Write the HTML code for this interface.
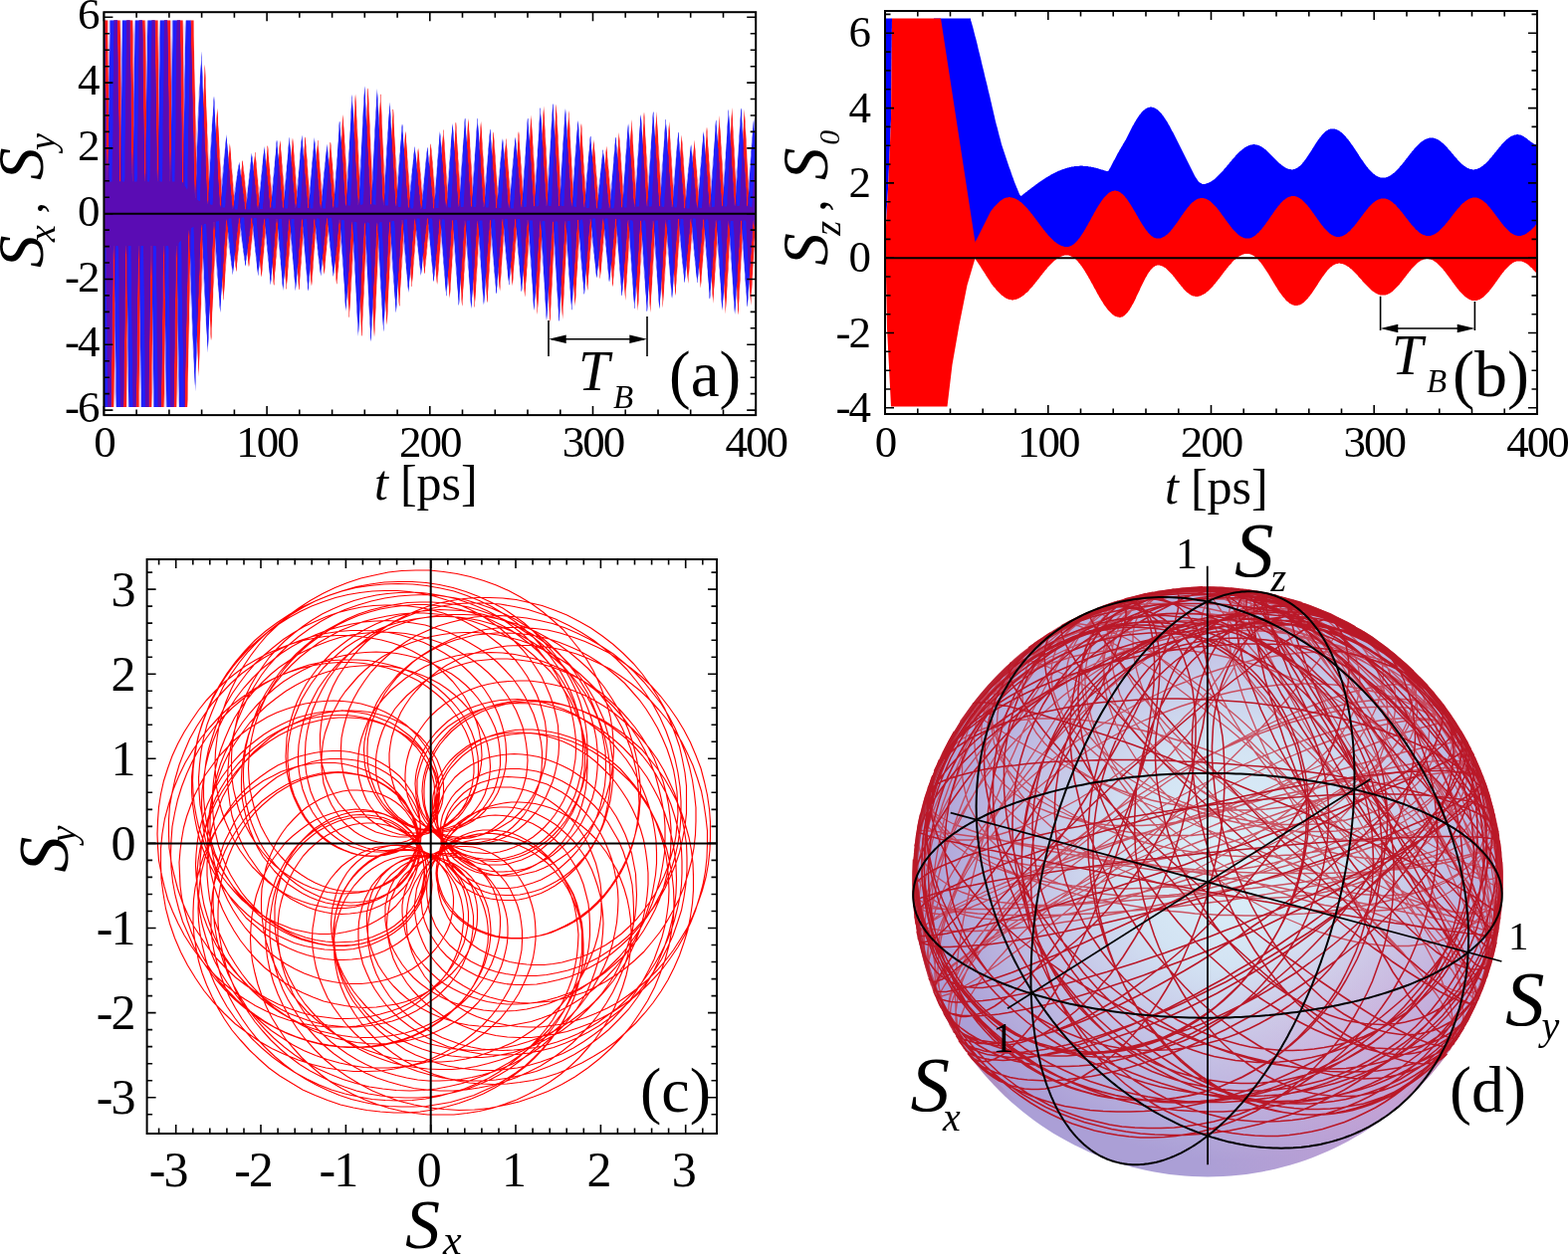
<!DOCTYPE html><html><head><meta charset="utf-8"><style>html,body{margin:0;padding:0;background:#fff;overflow:hidden}svg{display:block}text{font-family:'Liberation Serif', 'Times New Roman', serif;fill:#000}</style></head><body>
<svg width="1575" height="1261" viewBox="0 0 1575 1261">
<rect width="1575" height="1261" fill="#fff"/>
<g transform="scale(0.5)">
<path d="M209 41l1 0 1 0 1 0 1 0 1 0 1 0 1 0 1 0 1 0 0 29 1 40 0 41 1 40 1 41 0 40 1 41 0 41 1-25 1-41 0-41 1-40 0-41 1-40 1-41 0-40 1-4 1 0 1 0 1 0 1 0 1 0 1 0 1 0 1 0 1 0 1 0 1 0 1 0 1 0 1 0 1 0 0 28 1 41 1 40 0 41 1 40 0 41 1 40 1 41 0-24 1-40 0-41 1-40 1-41 0-40 1-41 0-40 1-5 1 0 1 0 1 0 1 0 1 0 1 0 1 0 1 0 1 0 1 0 1 0 1 0 1 0 1 0 1 0 1 28 0 40 1 41 0 40 1 41 1 40 0 41 1 40 0-22 1-41 1-40 0-41 1-40 0-41 1-40 1-41 0-5 1 0 1 0 1 0 1 0 1 0 1 0 1 0 1 0 1 0 1 0 1 0 1 0 1 0 1 0 1 0 1 27 0 40 1 41 1 40 0 41 1 40 0 41 1 41 1-21 0-41 1-40 0-41 1-41 1-40 0-41 1-40 0-6 1 0 1 0 1 0 1 0 1 0 1 0 1 0 1 0 1 0 1 0 1 0 1 0 1 0 1 0 1 0 1 26 1 41 0 40 1 41 0 40 1 41 1 40 0 41 1-20 0-40 1-41 1-40 0-41 1-40 0-41 1-40 1-7 1 0 1 0 1 0 1 0 1 0 1 0 1 0 1 0 1 0 1 0 1 0 1 0 1 0 1 0 1 0 0 25 1 41 0 41 1 40 1 41 0 40 1 41 0 40 1-18 1-41 0-40 1-41 0-40 1-41 1-40 0-41 1-7 1 0 1 0 1 0 1 0 1 0 1 0 1 0 1 0 1 0 1 0 1 0 1 0 1 0 1 0 1 12 0 43 1 41 1 41 0 40 1 38 0 37 1 36 1 35 0-12 1-31 0-29 1-28 1-27 0-26 1-25 0-24 1-22 1-22 0-22 1-21 0-21 1-13 1 0 1 0 1 0 1 0 1 0 1 0 1 0 0 2 1 28 0 27 1 25 1 26 0 24 1 23 0 23 1 22 1 21 0 21 1 20 0 20 1 19 1 19 0 18 1 17 0-5 1-16 1-15 0-14 1-14 0-13 1-14 1-13 0-13 1-13 0-13 1-13 1-13 0-13 1-13 0-12 1-13 1-12 0-12 1-12 0-11 1 6 1 16 0 15 1 15 0 15 1 14 1 15 0 14 1 14 0 14 1 14 1 13 0 13 1 14 0 12 1 13 1 13 0 12 1 12 0 12 1 12 1-4 0-11 1-11 0-10 1-11 1-10 0-10 1-10 0-9 1-10 1-9 0-9 1-9 0-9 1-9 1-9 0-8 1-9 0-8 1-8 1-7 0 4 1 12 0 11 1 10 1 11 0 10 1 11 0 10 1 10 1 10 0 9 1 10 0 9 1 10 1 9 0 9 1 8 0 9 1 8 1 8 0 9 1-3 0-7 1-8 1-7 0-7 1-7 0-6 1-7 1-6 0-7 1-6 0-6 1-6 1-6 0-5 1-6 0-6 1-5 1-5 0-6 1-5 0 3 1 8 1 7 0 8 1 7 0 7 1 7 1 7 0 7 1 6 0 7 1 6 1 6 0 6 1 6 0 6 1 6 1 6 0 5 1 6 0 5 1-1 1-5 0-5 1-5 0-4 1-4 1-5 0-4 1-4 0-5 1-4 1-5 0-5 1-5 0-5 1-5 1-5 0-5 1-5 0-5 1-6 1 1 0 5 1 4 0 4 1 5 1 5 0 4 1 5 0 4 1 5 1 5 0 5 1 5 0 4 1 5 1 5 0 5 1 5 0 5 1 6 1 5 0-2 1-5 0-5 1-6 1-5 0-6 1-5 0-6 1-5 1-6 0-6 1-5 0-6 1-6 1-5 0-6 1-6 0-5 1-6 1-6 0-6 1 1 0 5 1 6 1 5 0 5 1 6 0 5 1 6 1 5 0 6 1 5 0 6 1 6 1 5 0 6 1 5 0 6 1 6 1 6 0 5 1 6 0-1 1-6 1-6 0-6 1-6 0-6 1-6 1-6 0-6 1-6 0-6 1-7 1-6 0-6 1-6 0-7 1-6 1-6 0-7 1-6 0-7 1 1 1 6 0 6 1 6 0 6 1 6 1 6 0 6 1 6 0 6 1 6 1 6 0 7 1 6 0 6 1 6 1 7 0 6 1 6 0 7 1 6 1-1 0-7 1-6 0-7 1-6 1-7 0-7 1-6 0-7 1-7 1-6 0-7 1-7 0-7 1-6 1-7 0-7 1-7 0-6 1-7 1-7 0 1 1 7 0 6 1 7 1 6 0 7 1 6 0 7 1 7 1 6 0 7 1 7 0 6 1 7 1 7 0 6 1 7 0 7 1 7 1 6 0 7 1-1 0-7 1-7 1-6 0-7 1-7 0-7 1-7 1-7 0-7 1-7 0-7 1-7 1-6 0-7 1-7 0-7 1-7 1-7 0-7 1-7 0 1 1 6 1 7 0 7 1 7 0 7 1 7 1 7 0 6 1 7 0 7 1 7 1 7 0 7 1 7 0 7 1 7 1 7 0 7 1 7 0 7 1-1 1-7 0-7 1-7 0-7 1-7 1-7 0-7 1-7 0-7 1-7 1-7 0-7 1-7 0-7 1-7 1-7 0-7 1-7 0-7 1-6 1 0 0 8 1 7 0 7 1 7 1 7 0 7 1 7 0 7 1 7 1 7 0 7 1 7 0 7 1 6 1 7 0 7 1 7 0 7 1 7 1 7 0-1 1-7 0-6 1-7 1-7 0-7 1-7 0-6 1-7 1-7 0-6 1-7 0-7 1-6 1-7 0-7 1-6 0-6 1-7 1-6 0-7 1 1 0 7 1 7 1 7 0 7 1 7 0 6 1 7 1 7 0 7 1 6 0 7 1 7 1 6 0 7 1 6 0 7 1 6 1 7 0 6 1 7 0-1 1-6 1-6 0-6 1-7 0-6 1-6 1-6 0-6 1-6 0-6 1-6 1-6 0-7 1-6 0-7 1-7 1-7 0-7 1-8 0-7 1-1 1 5 0 5 1 6 0 5 1 6 1 6 0 6 1 6 0 6 1 7 1 6 0 7 1 7 0 6 1 7 1 7 0 7 1 8 0 7 1 8 1-1 0-8 1-8 0-8 1-8 1-8 0-9 1-9 0-8 1-9 1-9 0-10 1-9 0-9 1-10 1-9 0-10 1-10 0-10 1-10 1-11 0-1 1 8 0 8 1 8 1 8 0 8 1 8 0 9 1 8 1 9 0 9 1 9 0 9 1 9 1 9 0 10 1 9 0 10 1 10 1 10 0 10 1 0 0-11 1-10 1-11 0-11 1-10 0-11 1-11 1-11 0-11 1-11 0-11 1-11 1-11 0-11 1-11 0-11 1-11 1-11 0-12 1-11 0-1 1 11 1 10 0 11 1 10 0 11 1 11 1 10 0 11 1 11 0 11 1 11 1 11 0 11 1 11 0 11 1 11 1 11 0 11 1 11 0 11 1 1 1-11 0-12 1-11 0-12 1-11 1-12 0-11 1-12 0-11 1-11 1-12 0-11 1-11 0-12 1-11 1-11 0-12 1-11 0-11 1-12 1 0 0 11 1 12 0 11 1 12 1 11 0 11 1 12 0 11 1 12 1 11 0 11 1 12 0 11 1 11 1 12 0 11 1 11 0 12 1 11 1 11 0 1 1-11 0-11 1-12 1-11 0-11 1-11 0-11 1-11 1-11 0-11 1-11 0-10 1-11 1-11 0-10 1-11 0-10 1-11 1-10 0-10 1-1 0 12 1 11 1 11 0 12 1 11 0 11 1 11 1 11 0 11 1 11 0 11 1 11 1 11 0 10 1 11 0 11 1 10 1 11 0 10 1 10 0 2 1-11 1-10 0-10 1-10 0-10 1-9 1-10 0-10 1-10 0-9 1-10 1-9 0-9 1-9 0-9 1-9 1-9 0-9 1-9 0-8 1 0 1 10 0 11 1 10 0 10 1 10 1 10 0 10 1 10 0 9 1 10 1 10 0 9 1 9 0 10 1 9 1 9 0 9 1 9 0 8 1 9 1 2 0-9 1-8 0-8 1-8 1-8 0-8 1-8 0-8 1-7 1-8 0-7 1-7 0-8 1-7 1-7 0-7 1-6 0-7 1-7 1-6 1 8 0 9 1 8 1 8 0 8 1 8 0 8 1 8 1 8 0 7 1 8 0 7 1 8 1 7 0 7 1 7 0 7 1 7 1 7 0 7 1 1 0-6 1-7 1-6 0-6 1-6 0-6 1-5 1-6 0-6 1-5 0-6 1-6 1-6 0-6 1-6 0-6 1-6 1-5 0-6 1-6 0-2 1 6 1 6 0 6 1 6 0 6 1 6 1 6 0 6 1 6 0 6 1 6 1 6 0 6 1 6 0 6 1 6 1 6 0 6 1 6 0 6 1 1 1-6 0-6 1-6 0-6 1-6 1-6 0-6 1-6 0-6 1-6 1-6 0-6 1-7 0-6 1-7 1-7 0-6 1-7 0-7 1-8 1-2 0 6 1 5 0 6 1 5 1 6 0 6 1 6 0 6 1 6 1 7 0 6 1 6 0 7 1 6 1 7 0 6 1 7 0 7 1 7 1 7 0 2 1-8 0-7 1-7 1-8 0-7 1-8 0-7 1-8 1-7 0-8 1-8 0-7 1-8 1-8 0-8 1-8 0-7 1-8 1-8 0-8 1-3 0 8 1 7 1 7 0 7 1 8 0 7 1 8 1 7 0 8 1 7 0 8 1 7 1 8 0 8 1 8 0 7 1 8 1 8 0 8 1 8 0 2 1-8 1-8 0-8 1-8 0-9 1-8 1-8 0-8 1-8 0-9 1-8 1-8 0-9 1-8 0-8 1-9 1-8 0-9 1-8 0-9 1-2 1 8 0 8 1 8 0 8 1 8 1 8 0 8 1 8 0 9 1 8 1 8 0 8 1 9 0 8 1 8 1 9 0 8 1 9 0 8 1 9 1 2 0-8 1-9 0-9 1-8 1-9 0-8 1-9 0-9 1-8 1-9 0-9 1-8 0-9 1-9 1-8 0-9 1-8 0-9 1-9 1-8 0-3 1 8 0 9 1 9 1 8 0 9 1 9 0 8 1 9 1 8 0 9 1 9 0 8 1 9 1 8 0 9 1 9 0 8 1 9 1 9 0 8 1 3 0-8 1-9 1-9 0-8 1-9 0-9 1-8 1-9 0-8 1-9 0-8 1-9 1-8 0-8 1-8 0-8 1-8 1-8 0-8 1-8 0-2 1 8 1 9 0 9 1 9 0 8 1 9 1 9 0 8 1 9 0 8 1 8 1 9 0 8 1 8 0 8 1 9 1 8 0 8 1 8 0 8 1 3 1-8 0-8 1-7 0-8 1-8 1-7 0-8 1-7 0-7 1-8 1-7 0-7 1-8 0-7 1-7 1-7 0-7 1-7 0-7 1-7 1-3 0 8 1 8 0 7 1 8 1 8 0 7 1 8 0 7 1 8 1 7 0 8 1 7 0 8 1 7 1 7 0 7 1 7 0 8 1 7 1 7 0 3 1-7 0-7 1-7 1-7 0-6 1-7 0-7 1-6 1-7 0-7 1-6 0-7 1-7 1-7 0-7 1-6 0-7 1-7 1-7 0-7 1-3 0 7 1 7 1 7 0 6 1 7 0 7 1 7 1 6 0 7 1 7 0 7 1 7 1 6 0 7 1 7 0 7 1 7 1 6 0 7 1 7 0 3 1-7 1-7 0-6 1-7 0-7 1-7 1-7 0-7 1-7 0-8 1-7 1-8 0-7 1-8 0-8 1-8 1-8 0-8 1-8 0-8 1-4 1 6 0 7 1 6 0 7 1 7 1 7 0 7 1 7 0 7 1 8 1 7 0 7 1 8 0 7 1 8 1 8 0 8 1 7 0 8 1 9 1 3 0-8 1-8 0-9 1-9 1-8 0-9 1-9 0-9 1-9 1-9 0-9 1-9 0-9 1-9 1-9 0-9 1-9 0-9 1-10 1-9 0-5 1 9 0 8 1 8 1 9 0 9 1 8 0 9 1 9 1 8 0 9 1 9 0 9 1 9 1 9 0 9 1 9 0 9 1 9 1 9 0 10 1 4 0-9 1-9 1-10 0-10 1-9 0-10 1-9 1-10 0-10 1-10 0-9 1-10 1-10 0-10 1-9 0-10 1-10 1-10 0-10 1-10 0-5 1 10 1 9 0 10 1 9 0 10 1 9 1 10 0 10 1 9 0 10 1 9 1 10 0 10 1 10 0 9 1 10 1 10 0 10 1 9 0 10 1 6 1-10 0-10 1-10 0-10 1-10 1-10 0-10 1-10 0-10 1-10 1-9 0-10 1-10 0-10 1-10 1-9 0-10 1-10 0-9 1-10 1-5 0 10 1 10 0 10 1 10 1 10 0 9 1 10 0 10 1 10 1 10 0 10 1 10 0 9 1 10 1 10 0 10 1 9 0 10 1 10 1 10 0 5 1-9 0-10 1-10 1-9 0-10 1-9 0-10 1-9 1-9 0-9 1-10 0-9 1-9 1-9 0-9 1-9 0-9 1-9 1-8 0-9 1-5 0 10 1 9 1 10 0 10 1 9 0 10 1 9 1 10 0 9 1 9 0 10 1 9 1 9 0 9 1 9 0 9 1 9 1 9 0 9 1 9 0 5 1-9 1-8 0-9 1-8 0-9 1-8 1-8 0-9 1-8 0-8 1-8 1-8 0-8 1-7 0-8 1-8 1-7 0-8 1-7 0-8 1-4 1 9 0 8 1 9 0 9 1 8 1 9 0 8 1 8 0 9 1 8 1 8 0 8 1 8 0 8 1 8 1 8 0 7 1 8 0 7 1 8 1 5 0-7 1-8 0-7 1-7 1-7 0-7 1-6 0-7 1-7 1-7 0-6 1-7 0-6 1-6 1-7 0-6 1-6 0-6 1-6 1-6 0-4 1 7 0 8 1 7 1 7 0 7 1 7 0 7 1 7 1 7 0 7 1 6 0 7 1 6 1 7 0 6 1 7 0 6 1 6 1 6 0 6 1 4 0-5 1-6 1-6 0-5 1-6 0-6 1-5 1-6 0-6 1-6 0-6 1-6 1-7 0-6 1-6 0-7 1-6 1-7 0-6 1-7 0-4 1 5 1 6 0 5 1 6 0 6 1 5 1 6 0 6 1 6 0 6 1 6 1 6 0 6 1 6 0 7 1 6 1 6 0 7 1 6 0 7 1 4 1-6 0-7 1-7 0-7 1-7 1-7 0-7 1-7 0-7 1-7 1-7 0-8 1-7 0-8 1-7 1-8 0-8 1-7 0-8 1-8 1-6 0 7 1 6 0 7 1 7 1 7 0 6 1 7 0 7 1 7 1 8 0 7 1 7 0 7 1 8 1 7 0 8 1 7 0 8 1 8 1 7 0 6 1-8 0-8 1-8 1-8 0-8 1-9 0-8 1-8 1-9 0-8 1-8 0-9 1-8 1-9 0-8 1-9 0-9 1-8 1-9 0-9 1-7 0 8 1 8 1 8 0 8 1 8 0 8 1 9 1 8 0 8 1 8 0 9 1 8 1 9 0 8 1 9 0 8 1 9 1 8 0 9 1 9 0 7 1-9 1-9 0-9 1-9 0-9 1-9 1-9 0-9 1-9 0-9 1-9 1-10 0-9 1-9 0-9 1-9 1-9 0-9 1-9 0-9 1-8 1 9 0 9 1 9 0 9 1 9 1 9 0 9 1 9 0 9 1 9 1 9 0 9 1 9 0 9 1 9 1 9 0 9 1 9 0 10 1 9 1 7 0-9 1-9 0-9 1-10 1-9 0-9 1-9 0-10 1-9 1-9 0-9 1-9 0-10 1-9 1-9 0-9 1-8 0-9 1-9 1-9 0-7 1 10 0 9 1 9 1 10 0 9 1 9 0 9 1 10 1 9 0 9 1 9 0 9 1 9 1 9 0 9 1 9 0 9 1 9 1 9 0 9 1 7 0-9 1-8 1-9 0-8 1-9 0-8 1-9 1-8 0-9 1-8 0-8 1-8 1-8 0-8 1-8 0-8 1-8 1-8 0-7 1-8 0-6 1 8 1 9 0 9 1 9 0 8 1 9 1 8 0 9 1 8 0 8 1 9 1 8 0 8 1 8 0 8 1 8 1 8 0 8 1 8 0 7 1 7 1-7 0-8 1-7 0-8 1-7 1-7 0-7 1-8 0-7 1-7 1-7 0-7 1-6 0-7 1-7 1-7 0-6 1-7 0-6 1-6 1-6 0 8 1 7 0 8 1 7 1 8 0 7 1 7 0 8 1 7 1 7 0 7 1 7 0 7 1 7 1 7 0 6 1 7 0 7 1 6 1 7 0 5 1-6 0-6 1-6 1-6 0-6 1-6 0-7 1-6 1-6 0-7 1-6 0-7 1-7 1-7 0-6 1-7 0-7 1-7 1-7 0-8 1-6 0 6 1 6 1 6 0 6 1 6 0 6 1 6 1 7 0 6 1 7 0 6 1 7 1 6 0 7 1 7 0 7 1 7 1 6 0 7 1 7 0 7 1-7 1-7 0-8 1-7 0-8 1-7 1-8 0-7 1-8 0-8 1-7 1-8 0-8 1-8 0-8 1-8 1-8 0-8 1-8 0-8 1-8 1 7 0 7 1 8 0 7 1 7 1 8 0 7 1 8 0 7 1 8 1 7 0 8 1 8 0 8 1 8 1 7 0 8 1 8 0 8 1 9 1 8 0-9 1-8 0-8 1-9 1-8 0-9 1-8 0-9 1-9 1-8 0-9 1-9 0-9 1-9 1-8 0-9 1-9 0-9 1-10 1-9 0-9 1 8 0 9 1 8 1 8 0 9 1 8 0 8 1 9 1 9 0 8 1 9 0 9 1 8 1 9 0 9 1 9 0 9 1 9 1 9 0 9 1 9 0-9 1-9 1-10 0-9 1-10 0-9 1-10 1-9 0-10 1-9 0-10 1-9 1-10 0-9 1-10 0-9 1-9 1-10 0-9 1-10 0-9 1 9 1 9 0 10 1 9 0 9 1 10 1 9 0 10 1 9 0 9 1 10 1 9 0 10 1 9 0 10 1 9 1 9 0 10 1 9 0 10 1 9 1-9 0-9 1-10 0-9 1-10 1-9 0-10 1-9 0-10 1-9 1-10 0-9 1-9 0-9 1-9 1-9 0-9 1-9 0-9 1-9 1-9 0 10 1 9 0 10 1 10 1 9 0 10 1 9 0 10 1 9 1 10 0 9 1 9 0 9 1 10 1 9 0 9 1 9 0 9 1 9 1 8 0 9 1-8 0-8 1-9 1-8 0-9 1-8 0-9 1-8 1-9 0-8 1-8 0-9 1-8 1-8 0-9 1-8 0 202-1 8 0 8-1 8-1 8 0 8-1 8 0 8-1 9-1 8 0 8-1 9 0 8-1 9-1 8 0 9-1 8 0-8-1-8-1-7 0-8-1-8 0-8-1-8-1-8 0-8-1-8 0-8-1-8-1-8 0-9-1-8 0-8-1-9-1-8 0-8-1-9 0-8-1 9-1 8 0 9-1 9 0 9-1 9-1 8 0 9-1 9 0 9-1 9-1 9 0 9-1 10 0 9-1 9-1 9 0 10-1 9 0 9-1 9-1-8 0-9-1-8 0-9-1-9-1-9 0-9-1-9 0-10-1-9-1-9 0-9-1-9 0-9-1-9-1-9 0-9-1-10 0-9-1-9-1-8 0 9-1 9 0 9-1 9-1 9 0 8-1 9 0 9-1 9-1 9 0 9-1 9 0 9-1 8-1 9 0 9-1 9 0 9-1 8-1 9 0 9-1-9 0-9-1-9-1-9 0-9-1-9 0-9-1-9-1-10 0-9-1-9 0-9-1-9-1-8 0-9-1-9 0-9-1-9-1-8 0-9-1-8 0 8-1 8-1 9 0 8-1 8 0 8-1 9-1 8 0 8-1 8 0 8-1 7-1 8 0 8-1 8 0 7-1 8-1 8 0 7-1 8 0 7-1-8-1-9 0-8-1-9 0-8-1-8-1-8 0-8-1-9 0-8-1-8-1-8 0-8-1-8 0-7-1-8-1-8 0-8-1-7 0-8-1-7-1 7 0 7-1 7 0 7-1 7-1 7 0 7-1 7 0 6-1 7-1 7 0 6-1 7 0 6-1 6-1 6 0 7-1 6 0 6-1 6-1 6 0-8-1-7 0-7-1-7-1-7 0-7-1-7 0-7-1-7-1-7 0-6-1-7 0-6-1-7-1-6 0-6-1-6 0-6-1-7-1-6 0-6-1 6 0 6-1 6-1 6 0 7-1 6 0 6-1 6-1 6 0 7-1 6 0 6-1 6-1 6 0 7-1 6 0 6-1 6-1 6 0 7-1 6 0-6-1-6-1-6 0-7-1-6 0-6-1-6-1-6 0-7-1-6 0-6-1-6-1-6 0-6-1-6 0-6-1-6-1-7 0-6-1-6 0-6-1 6-1 6 0 7-1 7 0 7-1 6-1 8 0 7-1 7 0 7-1 7-1 8 0 7-1 8 0 7-1 8-1 8 0 8-1 8 0 8-1 8-1-6 0-6-1-7 0-7-1-6-1-7 0-7-1-7 0-7-1-7-1-8 0-7-1-7 0-8-1-7-1-8 0-8-1-7 0-8-1-8-1-8 0 7-1 8 0 8-1 8-1 8 0 9-1 8 0 8-1 8-1 9 0 8-1 9 0 8-1 9-1 8 0 9-1 9 0 8-1 9-1 9 0 9-1-7 0-8-1-8-1-8 0-8-1-8 0-8-1-8-1-9 0-8-1-8 0-9-1-8-1-9 0-8-1-9 0-9-1-8-1-9 0-9-1-8 0 7-1 9-1 8 0 9-1 9 0 9-1 8-1 9 0 9-1 9 0 9-1 8-1 9 0 9-1 9 0 9-1 9-1 8 0 9-1 9 0 9-1-7-1-9 0-8-1-9 0-9-1-9-1-8 0-9-1-9 0-9-1-9-1-8 0-9-1-9 0-9-1-9-1-9 0-9-1-8 0-9-1-9-1 7 0 9-1 9 0 8-1 9-1 9 0 8-1 9 0 9-1 8-1 9 0 9-1 8 0 9-1 8-1 9 0 9-1 8 0 9-1 8-1 9 0-7-1-9 0-9-1-8-1-9 0-9-1-9 0-8-1-9-1-9 0-8-1-9 0-9-1-9-1-8 0-9-1-9 0-8-1-9-1-8 0-9-1 7 0 8-1 8-1 8 0 8-1 8 0 8-1 8-1 8 0 7-1 8 0 8-1 7-1 8 0 7-1 8 0 7-1 7-1 8 0 7-1 7 0-6-1-9-1-8 0-8-1-8 0-8-1-8-1-8 0-8-1-8 0-8-1-8-1-7 0-8-1-7 0-8-1-7-1-8 0-7-1-7 0-8-1 6-1 7 0 6-1 7 0 7-1 7-1 7 0 6-1 7 0 7-1 6-1 6 0 7-1 6 0 6-1 7-1 6 0 6-1 6 0 6-1 6-1-6 0-7-1-7 0-7-1-7-1-7 0-6-1-7 0-7-1-6-1-7 0-6-1-7 0-6-1-6-1-7 0-6-1-6 0-6-1-6-1-6 0 4-1 6 0 6-1 6-1 6 0 6-1 6 0 6-1 6-1 5 0 6-1 6 0 6-1 6-1 5 0 6-1 6 0 6-1 5-1 6 0 5-1-4 0-6-1-6-1-6 0-6-1-6 0-6-1-6-1-5 0-6-1-6 0-5-1-6-1-5 0-6-1-6 0-5-1-6-1-6 0-6-1-6 0 4-1 6-1 7 0 6-1 7 0 6-1 7-1 7 0 6-1 7 0 7-1 7-1 7 0 7-1 7 0 8-1 7-1 8 0 7-1 8 0 7-1-4-1-6 0-6-1-6 0-7-1-6-1-7 0-6-1-7 0-7-1-7-1-6 0-7-1-7 0-7-1-8-1-7 0-7-1-8 0-7-1-7-1 4 0 8-1 8 0 8-1 8-1 8 0 8-1 8 0 8-1 9-1 8 0 8-1 9 0 8-1 9-1 9 0 9-1 8 0 9-1 9-1 9 0-4-1-8 0-7-1-8-1-8 0-8-1-8 0-8-1-8-1-8 0-8-1-9 0-8-1-9-1-8 0-9-1-8 0-9-1-9-1-9 0-9-1 6 0 9-1 9-1 9 0 9-1 10 0 9-1 9-1 10 0 9-1 10 0 9-1 10-1 9 0 10-1 10 0 10-1 10-1 9 0 10-1 10 0-5-1-9-1-9 0-9-1-9 0-9-1-9-1-10 0-9-1-10 0-9-1-10-1-9 0-10-1-10 0-10-1-9-1-10 0-10-1-9 0-10-1 5-1 10 0 10-1 10 0 9-1 10-1 10 0 9-1 10 0 10-1 10-1 9 0 10-1 10 0 9-1 10-1 10 0 10-1 9 0 10-1 10-1-6 0-9-1-10 0-10-1-9-1-10 0-10-1-10 0-10-1-10-1-9 0-10-1-10 0-10-1-10-1-9 0-10-1-10 0-9-1-10-1-9 0 5-1 9 0 9-1 10-1 9 0 9-1 9 0 9-1 9-1 9 0 9-1 9 0 9-1 9-1 9 0 9-1 9 0 8-1 9-1 9 0 8-1-5 0-9-1-10-1-9 0-9-1-10 0-9-1-9-1-9 0-10-1-9 0-9-1-9-1-9 0-9-1-9 0-9-1-9-1-8 0-9-1-8 0 4-1 8-1 8 0 8-1 8 0 8-1 8-1 7 0 8-1 7 0 8-1 7-1 7 0 8-1 7 0 7-1 7-1 7 0 6-1 7 0 7-1-5-1-8 0-9-1-8 0-8-1-8-1-8 0-7-1-8 0-8-1-7-1-8 0-7-1-8 0-7-1-7-1-7 0-7-1-7 0-6-1-7-1 3 0 7-1 6 0 7-1 7-1 6 0 7-1 6 0 7-1 6-1 7 0 6-1 7 0 6-1 7-1 6 0 6-1 6 0 7-1 6-1 6 0-3-1-7 0-7-1-6-1-7 0-7-1-6 0-7-1-6-1-7 0-6-1-6 0-6-1-7-1-6 0-6-1-7 0-6-1-7-1-6 0-7-1 3 0 7-1 7-1 6 0 7-1 7 0 7-1 7-1 7 0 7-1 7 0 7-1 7-1 7 0 7-1 7 0 8-1 7-1 7 0 8-1 7 0-2-1-7-1-7 0-6-1-7 0-7-1-7-1-7 0-6-1-7 0-7-1-7-1-7 0-7-1-7 0-8-1-7-1-7 0-7-1-7 0-8-1 3-1 8 0 7-1 8 0 8-1 8-1 7 0 8-1 8 0 8-1 8-1 8 0 8-1 9 0 8-1 8-1 9 0 8-1 8 0 9-1 9-1-3 0-7-1-8 0-8-1-7-1-8 0-8-1-8 0-8-1-8-1-8 0-8-1-8 0-8-1-8-1-9 0-8-1-8 0-8-1-9-1-8 0 3-1 8 0 9-1 8-1 9 0 8-1 8 0 9-1 8-1 9 0 8-1 9 0 8-1 9-1 8 0 9-1 9 0 8-1 9-1 8 0 9-1-3 0-8-1-8-1-9 0-8-1-9 0-8-1-8-1-9 0-8-1-9 0-8-1-9-1-8 0-9-1-9 0-8-1-9-1-8 0-9-1-8 0 2-1 9-1 8 0 9-1 8 0 9-1 8-1 8 0 9-1 8 0 8-1 9-1 8 0 8-1 9 0 8-1 8-1 8 0 8-1 9 0 8-1-3-1-9 0-8-1-8 0-9-1-8-1-9 0-8-1-9 0-8-1-8-1-9 0-8-1-8 0-9-1-8-1-8 0-9-1-8 0-8-1-8-1 2 0 8-1 8 0 8-1 8-1 8 0 8-1 7 0 8-1 8-1 7 0 8-1 8 0 7-1 8-1 7 0 7-1 8 0 7-1 7-1 7 0-2-1-8 0-8-1-8-1-8 0-8-1-8 0-8-1-8-1-7 0-8-1-8 0-7-1-8-1-7 0-8-1-7 0-8-1-7-1-8 0-7-1 2 0 7-1 7-1 7 0 7-1 6 0 7-1 7-1 6 0 7-1 6 0 6-1 6-1 7 0 6-1 6 0 6-1 6-1 6 0 5-1 6 0-2-1-7-1-8 0-6-1-7 0-7-1-7-1-7 0-6-1-6 0-7-1-6-1-7 0-6-1-6 0-6-1-6-1-6 0-6-1-6 0-6-1 1-1 6 0 5-1 6 0 6-1 5-1 6 0 6-1 5 0 5-1 6-1 5 0 5-1 6 0 5-1 5-1 5 0 5-1 5 0 5-1 5-1-1 0-6-1-6 0-5-1-6-1-5 0-5-1-5 0-5-1-5-1-5 0-5-1-5 0-6-1-5-1-5 0-6-1-5 0-6-1-6-1-5 0 1-1 6 0 6-1 6-1 6 0 7-1 6 0 6-1 7-1 7 0 6-1 7 0 7-1 6-1 7 0 7-1 7 0 8-1 7-1 7 0 7-1 0 0-6-1-6-1-6 0-6-1-6 0-6-1-7-1-6 0-6-1-7 0-6-1-7-1-7 0-6-1-7 0-7-1-7-1-7 0-8-1-7 0 1-1 8-1 8 0 8-1 7 0 8-1 8-1 9 0 8-1 8 0 9-1 8-1 9 0 8-1 9 0 9-1 9-1 9 0 9-1 9 0 10-1-1-1-7 0-8-1-7 0-8-1-8-1-8 0-8-1-8 0-8-1-9-1-8 0-8-1-9 0-9-1-8-1-9 0-9-1-9 0-9-1-9-1 1 0 10-1 9 0 10-1 9-1 10 0 10-1 10 0 10-1 10-1 10 0 10-1 11 0 10-1 11-1 10 0 11-1 10 0 11-1 11-1 11-1-9 0-10-1-9-1-10 0-9-1-10 0-10-1-10-1-10 0-10-1-10 0-10-1-11-1-10 0-10-1-11 0-11-1-10-1-11 0-11-1 1 0 11-1 11-1 11 0 11-1 11 0 11-1 11-1 12 0 11-1 11 0 11-1 12-1 11 0 11-1 12 0 11-1 12-1 11 0 12-1 12 0-1-1-11-1-11 0-10-1-11 0-11-1-11-1-11 0-11-1-12 0-11-1-11-1-11 0-12-1-11 0-12-1-11-1-12 0-11-1-12 0-11-1 1-1 11 0 11-1 12 0 11-1 11-1 11 0 11-1 12 0 11-1 11-1 11 0 11-1 11 0 11-1 11-1 11 0 11-1 11 0 10-1 11-1-1 0-11-1-11 0-12-1-11-1-11 0-11-1-12 0-11-1-11-1-11 0-11-1-11 0-11-1-12-1-11 0-11-1-11 0-11-1-11-1-10-1 10 0 11-1 10-1 10 0 10-1 10 0 9-1 10-1 10 0 9-1 9 0 9-1 9-1 9 0 9-1 9 0 8-1 9-1 8 0 8-1-1 0-11-1-11-1-10 0-10-1-11 0-10-1-9-1-10 0-10-1-10 0-9-1-10-1-9 0-9-1-9 0-9-1-9-1-8 0-9-1-8-1 8-1 7 0 7-1 8 0 7-1 7-1 7 0 6-1 7 0 6-1 6-1 6 0 6-1 6 0 5-1 6-1 5 0 5-1 5 0 5-1-2-1-8 0-7-1-8 0-8-1-7-1-7 0-7-1-7 0-7-1-6-1-6 0-6-1-5 0-6-1-6-1-5 0-6-1-5 0-6-1-5-1-1 0 6-1 6 0 5-1 6-1 5 0 6-1 5 0 6-1 5-1 6 0 5-1 6 0 5-1 6-1 5 0 6-1 5 0 6-1 5-1 6-1-6 0-5-1-6-1-5 0-6-1-5 0-6-1-5-1-5 0-6-1-5 0-5-1-5-1-6 0-5-1-6 0-5-1-6-1-6 0-6-1 0 0 6-1 6-1 6 0 7-1 6 0 6-1 7-1 6 0 7-1 6 0 7-1 7-1 6 0 7-1 7 0 7-1 7-1 7 0 8-1 7 0 1-1-6-1-6 0-6-1-6 0-6-1-6-1-7 0-6-1-7 0-6-1-7-1-7 0-7-1-7 0-7-1-7-1-6 0-7-1-7 0-7-1-1-1 7 0 7-1 7 0 7-1 7-1 7 0 6-1 7 0 7-1 7-1 7 0 7-1 7 0 7-1 7-1 7 0 6-1 7 0 7-1 7-1 1 0-7-1-7 0-7-1-7-1-7 0-6-1-7 0-7-1-7-1-7 0-7-1-7 0-7-1-7-1-7 0-7-1-6 0-7-1-7-1-7 0-1-1 7 0 7-1 7-1 6 0 7-1 7 0 7-1 7-1 7 0 7-1 6 0 7-1 7-1 7 0 7-1 7 0 6-1 7-1 7 0 7-1 1 0-7-1-7-1-7 0-7-1-7 0-6-1-7-1-7 0-7-1-7 0-7-1-7-1-6 0-7-1-7 0-7-1-7-1-7 0-7-1-6 0-1-1 6-1 7 0 7-1 6 0 7-1 6-1 7 0 7-1 6 0 7-1 6-1 6 0 7-1 6 0 7-1 6-1 6 0 7-1 6 0 6-1 1-1-7 0-6-1-7 0-7-1-6-1-7 0-7-1-6 0-7-1-6-1-7 0-6-1-7 0-6-1-7-1-6 0-7-1-6 0-6-1-6-1-2 0 6-1 6 0 6-1 6-1 6 0 6-1 6 0 6-1 6-1 6 0 5-1 6 0 6-1 5-1 6 0 5-1 6 0 5-1 6-1 5 0 1-1-6 0-6-1-6-1-6 0-6-1-6 0-6-1-6-1-6 0-6-1-6 0-6-1-5-1-6 0-6-1-5 0-6-1-5-1-6 0-5-1-2 0 6-1 5-1 5 0 5-1 5 0 5-1 5-1 5 0 5-1 5 0 5-1 4-1 5 0 5-1 4 0 5-1 4-1 5 0 4-1 5-1-5-1-5 0-6-1-5 0-5-1-5-1-5 0-5-1-5 0-4-1-5-1-4 0-5-1-5 0-4-1-5-1-4 0-5-1-5 0-4-1-2-1 5 0 5-1 5 0 5-1 5-1 5 0 5-1 5 0 6-1 5-1 5 0 5-1 6 0 5-1 6-1 5 0 6-1 5 0 6-1 5-1 2 0-5-1-5 0-4-1-5-1-5 0-5-1-5 0-6-1-5-1-5 0-5-1-5 0-5-1-5-1-6 0-5-1-5 0-5-1-6-1-6 0-1-1 6 0 7-1 6-1 7 0 7-1 7 0 8-1 7-1 8 0 8-1 8 0 8-1 8-1 9 0 8-1 9 0 9-1 10-1 9 0 9-1 5 0-6-1-6-1-7 0-6-1-7 0-7-1-7-1-7 0-8-1-7 0-8-1-8-1-8 0-8-1-9 0-8-1-9-1-9 0-9-1-9 0-3-1 10-1 10 0 10-1 10 0 11-1 11-1 11 0 11-1 11 0 11-1 12-1 12 0 12-1 12 0 12-1 12-1 13 0 13-1 13 0 13-1 6-1-10 0-10-1-10 0-10-1-10-1-11 0-10-1-11 0-11-1-11-1-11 0-12-1-11 0-12-1-12-1-13 0-12-1-12 0-13-1-13-1-4 0 13-1 13 0 14-1 14-1 14 0 14-1 14 0 14-1 15-1 15 0 15-1 14 0 16-1 15-1 15 0 16-1 16 0 15-1 17-1 16 0 7-1-13 0-13-1-14-1-13 0-14-1-14 0-13-1-14-1-13 0-14-1-14 0-14-1-14-1-15 0-15-1-15 0-16-1-16-1-17 0-16-1-7 0 18-1 18-1 19 0 20-1 20 0 22-1 22-1 22 0 24-1 24 0 25-1 25-1 27 0 27-1 28 0 13-1 0-1 0-1 0-1 0-1 0-1 0-1 0-1 0-1-3 0-21-1-23-1-24 0-25-1-26 0-28-1-28-1-30 0-31-1-32 0-33-1-14-1 37 0 39-1 39 0 41-1 42-1 43 0 44-1 33-1 0-1 0-1 0-1 0-1 0-1 0-1 0-1 0-1 0-1 0-1 0-1 0-1 0-1 0-1 0 0-7-1-40-1-41 0-40-1-41 0-41-1-40-1-41 0-19-1 41 0 41-1 40-1 41 0 40-1 41 0 40-1 26-1 0-1 0-1 0-1 0-1 0-1 0-1 0-1 0-1 0-1 0-1 0-1 0-1 0-1 0-1 0-1-6 0-41-1-40 0-41-1-40-1-41 0-40-1-41 0-20-1 40-1 41 0 40-1 41 0 41-1 40-1 41 0 26-1 0-1 0-1 0-1 0-1 0-1 0-1 0-1 0-1 0-1 0-1 0-1 0-1 0-1 0-1 0-1-5 0-41-1-40-1-41 0-41-1-40 0-41-1-40-1-22 0 41-1 40 0 41-1 40-1 41 0 41-1 40 0 27-1 0-1 0-1 0-1 0-1 0-1 0-1 0-1 0-1 0-1 0-1 0-1 0-1 0-1 0-1 0-1-5-1-40 0-41-1-40 0-41-1-40-1-41 0-41-1-23 0 41-1 41-1 40 0 41-1 40 0 41-1 40-1 28-1 0-1 0-1 0-1 0-1 0-1 0-1 0-1 0-1 0-1 0-1 0-1 0-1 0-1 0-1 0 0-4-1-40 0-41-1-41-1-40 0-41-1-40 0-41-1-24-1 40 0 41-1 40 0 41-1 41-1 40 0 41-1 28-1 0-1 0-1 0-1 0-1 0-1 0-1 0-1 0-1 0-1 0-1 0-1 0-1 0-1 0-1 0 0-3-1-41-1-40 0-41-1-41 0-40-1-41-1-40 0-26-1 41z" fill="#ff3030" fill-opacity="0.35"/>
<path d="M209 41l1 0 1 0 1 0 0 4 1 35 0 35 1 36 1 35 0 35 1 25 0-35 1-35 1-35 0-36 1-35 0-29 1 0 1 0 1 0 1 0 1 0 1 0 1 0 1 0 1 0 1 0 1 0 1 0 1 0 1 0 1 0 1 0 1 0 1 0 0 3 1 35 1 36 0 35 1 35 0 36 1 26 1-35 0-36 1-35 0-35 1-35 1-30 1 0 1 0 1 0 1 0 1 0 1 0 1 0 1 0 1 0 1 0 1 0 1 0 1 0 1 0 1 0 1 0 1 0 1 3 0 35 1 35 0 35 1 36 1 35 0 28 1-36 0-35 1-35 1-36 0-35 1-30 1 0 1 0 1 0 1 0 1 0 1 0 1 0 1 0 1 0 1 0 1 0 1 0 1 0 1 0 1 0 1 0 1 0 1 2 0 35 1 36 1 35 0 35 1 35 0 29 1-35 1-35 0-36 1-35 0-35 1-31 1 0 1 0 1 0 1 0 1 0 1 0 1 0 1 0 1 0 1 0 1 0 1 0 1 0 1 0 1 0 1 0 1 0 1 1 1 36 0 35 1 35 0 36 1 35 1 30 0-35 1-36 0-35 1-35 1-36 0-31 1 0 1 0 1 0 1 0 1 0 1 0 1 0 1 0 1 0 1 0 1 0 1 0 1 0 1 0 1 0 1 0 1 0 1 0 0 1 1 35 0 35 1 36 1 35 0 35 1 31 0-35 1-35 1-35 0-36 1-35 0-32 1 0 1 0 1 0 1 0 1 0 1 0 1 0 1 0 1 0 1 0 1 0 1 0 1 0 1 0 1 0 1 0 1 0 1 0 1 36 1 35 0 36 1 37 0 36 1 34 1-32 0-30 1-30 0-28 1-27 1-26 0-26 1-15 1 0 1 0 1 0 1 0 1 0 1 0 1 0 1 0 1 0 1 0 1 0 1 0 0 8 1 26 1 26 0 25 1 24 0 24 1 23 1 23 0 22 1 22 0 20 1 21 1 19 0 18 1-15 0-16 1-14 1-14 0-14 1-13 0-13 1-12 1-12 0-12 1-10 0-11 1-10 1-9 0-9 1-9 0-8 1-9 1-9 0-10 1-10 0 15 1 14 1 14 0 14 1 14 0 13 1 14 1 13 0 13 1 13 0 13 1 13 1 13 0 12 1 13 0 12 1 12 1 12 0 12 1 11 0 12 1-11 1-10 0-10 1-10 0-10 1-9 1-9 0-9 1-9 0-9 1-9 1-8 0-9 1-8 0-8 1-7 1-8 0-7 1-8 0-7 1-7 1 11 0 11 1 10 0 11 1 10 1 10 0 10 1 10 0 10 1 9 1 10 0 9 1 9 0 9 1 9 1 9 0 8 1 9 0 8 1 8 1 8 0-7 1-7 0-7 1-7 1-6 0-7 1-6 0-6 1-6 1-6 0-6 1-6 0-5 1-6 1-5 0-5 1-5 0-5 1-4 1-5 0-4 1 7 0 8 1 7 1 7 0 7 1 7 0 7 1 6 1 7 0 7 1 6 0 6 1 6 1 6 0 6 1 6 0 6 1 6 1 5 0 6 1 5 0-5 1-4 1-5 0-4 1-4 0-5 1-4 1-4 0-3 1-4 0-4 1-3 1-4 0-3 1-4 0-3 1-3 1-3 0-3 1-3 0-4 1 4 1 4 0 3 1 4 0 4 1 3 1 4 0 4 1 4 0 4 1 3 1 4 0 4 1 4 0 4 1 4 1 5 0 4 1 4 0 4 1 4 1-4 0-4 1-5 0-4 1-5 1-5 0-4 1-5 0-5 1-5 1-4 0-5 1-5 0-5 1-5 1-5 0-5 1-5 0-5 1-5 1-5 0 4 1 4 0 4 1 5 1 4 0 5 1 5 0 4 1 5 1 4 0 5 1 5 0 4 1 5 1 5 0 5 1 5 0 4 1 5 1 5 0 5 1-4 0-5 1-6 1-5 0-5 1-5 0-5 1-5 1-6 0-5 1-5 0-5 1-6 1-5 0-5 1-6 0-5 1-6 1-5 0-6 1-5 0 4 1 5 1 5 0 5 1 5 0 5 1 5 1 5 0 5 1 5 0 6 1 5 1 5 0 5 1 5 0 6 1 5 1 5 0 6 1 5 0 5 1-4 1-6 0-6 1-5 0-6 1-5 1-6 0-6 1-6 0-5 1-6 1-6 0-6 1-6 0-6 1-6 1-5 0-6 1-6 0-6 1-6 1 4 0 6 1 5 0 6 1 6 1 5 0 6 1 6 0 5 1 6 1 6 0 5 1 6 0 6 1 6 1 5 0 6 1 6 0 6 1 6 1 5 0-4 1-6 0-6 1-6 1-6 0-6 1-6 0-6 1-6 1-6 0-6 1-6 0-6 1-6 1-6 0-6 1-6 0-6 1-6 1-7 0-6 1 5 0 6 1 6 1 6 0 6 1 6 0 6 1 5 1 6 0 6 1 6 0 6 1 6 1 6 0 6 1 6 0 6 1 6 1 6 0 6 1 6 0-5 1-6 1-6 0-6 1-6 0-6 1-6 1-6 0-6 1-6 0-7 1-6 1-6 0-6 1-6 0-6 1-7 1-6 0-6 1-6 0-6 1 5 1 6 0 6 1 6 0 6 1 7 1 6 0 6 1 6 0 6 1 6 1 7 0 6 1 6 0 6 1 6 1 6 0 6 1 6 0 6 1 6 1-4 0-6 1-6 0-6 1-6 1-6 0-6 1-6 0-6 1-6 1-5 0-6 1-6 0-6 1-6 1-6 0-6 1-5 0-6 1-6 1-6 0 5 1 6 0 6 1 6 1 6 0 6 1 6 0 6 1 6 1 6 0 6 1 6 0 6 1 6 1 6 0 6 1 6 0 6 1 5 1 6 0 6 1-4 0-6 1-5 1-6 0-5 1-6 0-5 1-6 1-5 0-5 1-6 0-5 1-5 1-6 0-5 1-5 0-5 1-6 1-5 0-5 1-5 0 4 1 6 1 5 0 6 1 5 0 5 1 5 1 4 0 5 1 5 0 5 1 5 1 5 0 5 1 5 0 5 1 6 1 5 0 6 1 6 0 5 1-4 1-7 0-6 1-7 0-7 1-7 1-7 0-7 1-7 0-8 1-7 1-8 0-7 1-8 0-8 1-8 1-8 0-8 1-8 0-9 1-8 1 3 0 6 1 6 0 6 1 7 1 6 0 6 1 7 0 7 1 7 1 7 0 7 1 7 0 7 1 7 1 8 0 7 1 8 0 8 1 8 1 8 0-6 1-9 0-9 1-9 1-9 0-9 1-9 0-10 1-9 1-10 0-9 1-10 0-10 1-10 1-10 0-10 1-10 0-10 1-9 1-10 0-10 1 6 0 9 1 8 1 9 0 9 1 9 0 9 1 10 1 9 0 9 1 9 0 9 1 9 1 10 0 9 1 9 0 10 1 9 1 10 0 9 1 10 0-6 1-10 1-10 0-10 1-10 0-10 1-10 1-10 0-10 1-10 0-10 1-10 1-10 0-10 1-10 0-11 1-10 1-10 0-10 1-10 0-10 1 6 1 10 0 10 1 10 0 10 1 10 1 10 0 10 1 10 0 10 1 10 1 10 0 10 1 10 0 10 1 10 1 10 0 10 1 10 0 10 1 10 1-6 0-10 1-10 0-10 1-9 1-10 0-10 1-10 0-10 1-9 1-10 0-10 1-10 0-10 1-9 1-10 0-10 1-9 0-10 1-9 1-9 0 6 1 10 0 11 1 10 1 10 0 10 1 10 0 10 1 10 1 10 0 10 1 10 0 9 1 10 1 10 0 9 1 10 0 10 1 9 1 9 0 10 1-5 0-9 1-9 1-9 0-9 1-9 0-9 1-8 1-9 0-9 1-8 0-9 1-8 1-9 0-8 1-8 0-9 1-8 1-8 0-8 1-8 0 5 1 10 1 9 0 9 1 10 0 9 1 9 1 10 0 9 1 9 0 9 1 9 1 8 0 9 1 9 0 8 1 9 1 8 0 8 1 9 0 8 1-4 1-8 0-7 1-7 0-8 1-7 1-7 0-7 1-7 0-7 1-7 1-7 0-6 1-7 0-6 1-7 1-6 0-7 1-6 0-6 1-6 1 5 0 8 1 8 0 7 1 8 1 8 0 7 1 8 0 7 1 8 1 7 0 7 1 7 0 7 1 7 1 7 0 7 1 6 0 7 1 6 1 7 0-3 1-6 0-5 1-6 1-6 0-5 1-5 0-6 1-5 1-5 0-5 1-5 0-5 1-5 1-5 0-4 1-5 0-4 1-5 1-4 0-4 1 3 0 5 1 6 1 5 0 6 1 5 0 5 1 5 1 5 0 6 1 5 0 5 1 5 1 5 0 6 1 5 0 5 1 5 1 5 0 6 1 5 0-3 1-5 1-5 0-5 1-5 0-6 1-5 1-5 0-5 1-5 0-6 1-5 1-5 0-5 1-5 0-6 1-5 1-5 0-5 1-5 0-6 1 3 1 4 0 5 1 5 0 5 1 4 1 5 0 5 1 5 0 4 1 5 1 5 0 5 1 5 0 6 1 5 1 5 0 6 1 5 0 6 1 5 1-2 0-6 1-7 0-6 1-6 1-7 0-6 1-6 0-7 1-7 1-6 0-7 1-7 0-7 1-7 1-7 0-6 1-7 0-7 1-7 1-7 0 3 1 6 0 6 1 6 1 6 0 6 1 7 0 6 1 6 1 6 0 7 1 6 0 7 1 6 1 7 0 6 1 7 0 6 1 7 1 6 0 7 1-3 0-6 1-7 1-7 0-7 1-7 0-7 1-8 1-7 0-7 1-7 0-7 1-8 1-7 0-7 1-7 0-8 1-7 1-7 0-8 1-7 0 2 1 7 1 7 0 7 1 7 0 7 1 7 1 7 0 7 1 7 0 7 1 7 1 7 0 7 1 7 0 7 1 7 1 8 0 7 1 7 0 7 1-2 1-8 0-7 1-8 0-7 1-7 1-8 0-7 1-8 0-7 1-8 1-8 0-7 1-8 0-7 1-8 1-8 0-7 1-8 0-8 1-7 1 2 0 8 1 7 0 8 1 7 1 8 0 7 1 8 0 7 1 8 1 7 0 8 1 7 0 8 1 7 1 8 0 7 1 8 0 7 1 8 1 7 0-2 1-8 0-7 1-8 1-7 0-8 1-7 0-8 1-7 1-8 0-7 1-8 0-7 1-8 1-7 0-8 1-7 0-8 1-7 1-8 0-7 1 2 0 8 1 8 1 8 0 8 1 7 0 8 1 8 1 8 0 7 1 8 0 8 1 7 1 8 0 7 1 8 0 7 1 7 1 8 0 7 1 7 0-2 1-7 1-7 0-6 1-7 0-7 1-7 1-6 0-7 1-7 0-6 1-7 1-6 0-6 1-7 0-6 1-6 1-7 0-6 1-6 0-6 1 2 1 7 0 7 1 7 0 7 1 7 1 7 0 7 1 6 0 7 1 7 1 7 0 6 1 7 0 7 1 6 1 7 0 6 1 7 0 6 1 6 1-1 0-6 1-6 0-6 1-6 1-6 0-6 1-6 0-6 1-6 1-6 0-6 1-5 0-6 1-6 1-5 0-6 1-6 0-5 1-6 1-5 0 1 1 6 0 6 1 6 1 6 0 6 1 6 0 6 1 5 1 6 0 6 1 6 0 6 1 6 1 6 0 6 1 6 0 5 1 6 1 6 0 6 1-1 0-6 1-6 1-6 0-6 1-6 0-6 1-6 1-6 0-6 1-6 0-6 1-6 1-6 0-6 1-6 0-6 1-6 1-6 0-6 1-7 1 6 1 5 0 5 1 6 0 5 1 6 1 5 0 6 1 6 0 5 1 6 1 6 0 6 1 6 0 7 1 6 1 6 0 7 1 6 0 7 1-2 1-7 0-7 1-7 0-7 1-8 1-7 0-8 1-7 0-8 1-7 1-8 0-8 1-8 0-8 1-8 1-8 0-8 1-8 0-8 1-9 1 1 0 7 1 7 0 7 1 7 1 7 0 8 1 7 0 7 1 8 1 7 0 8 1 7 0 7 1 8 1 8 0 7 1 8 0 8 1 7 1 8 0-1 1-8 0-8 1-8 1-9 0-8 1-8 0-8 1-9 1-8 0-8 1-9 0-8 1-9 1-9 0-8 1-9 0-8 1-9 1-9 0-9 1 1 0 8 1 8 1 8 0 9 1 8 0 8 1 8 1 8 0 9 1 8 0 8 1 9 1 8 0 8 1 9 0 8 1 9 1 8 0 8 1 9 0-1 1-9 1-8 0-9 1-9 0-8 1-9 1-8 0-9 1-9 0-8 1-9 1-9 0-9 1-8 0-9 1-9 1-9 0-8 1-9 0-9 1 1 1 9 0 9 1 9 0 8 1 9 1 9 0 9 1 8 0 9 1 9 1 8 0 9 1 9 0 8 1 9 1 8 0 9 1 9 0 8 1 9 1-1 0-8 1-9 0-8 1-9 1-8 0-8 1-9 0-8 1-8 1-9 0-8 1-8 0-8 1-9 1-8 0-8 1-8 0-8 1-8 1-8 0 1 1 9 0 9 1 9 1 8 0 9 1 9 0 8 1 9 1 8 0 8 1 9 0 8 1 8 1 9 0 8 1 8 0 8 1 8 1 8 0 8 1 0 0-8 1-7 1-8 0-8 1-7 0-8 1-7 1-7 0-8 1-7 0-7 1-8 1-7 0-7 1-7 0-7 1-7 1-7 0-7 1-6 0 1 1 8 1 8 0 8 1 8 0 7 1 8 1 8 0 8 1 7 0 8 1 7 1 8 0 7 1 7 0 8 1 7 1 7 0 7 1 7 0 7 1 0 1-6 0-7 1-6 0-7 1-6 1-6 0-6 1-6 0-6 1-6 1-6 0-6 1-6 0-6 1-5 1-6 0-6 1-5 0-6 1-5 1 1 0 7 1 6 0 7 1 7 1 6 0 7 1 6 0 7 1 6 1 6 0 6 1 7 0 6 1 6 1 6 0 6 1 6 0 5 1 6 1 6 1-5 0-5 1-6 1-5 0-5 1-5 0-5 1-5 1-5 0-4 1-5 0-5 1-4 1-5 0-4 1-5 0-5 1-4 1-6 0-5 1 0 0 4 1 5 1 4 0 5 1 4 0 5 1 5 1 5 0 5 1 4 0 5 1 5 1 5 0 5 1 6 0 5 1 5 1 5 0 5 1 6 1-6 1-5 0-6 1-6 0-6 1-6 1-6 0-6 1-6 0-6 1-6 1-6 0-6 1-7 0-6 1-6 1-7 0-6 1-7 0-6 1-1 1 5 0 5 1 6 0 5 1 6 1 6 0 5 1 6 0 6 1 6 1 5 0 6 1 6 0 6 1 7 1 6 0 6 1 6 0 6 1 7 1 0 0-7 1-6 0-7 1-7 1-7 0-7 1-7 0-7 1-7 1-8 0-7 1-7 0-8 1-7 1-8 0-7 1-8 0-7 1-8 1-7 0-1 1 6 0 7 1 7 1 6 0 7 1 7 0 7 1 7 1 7 0 7 1 7 0 7 1 7 1 7 0 7 1 7 0 8 1 7 1 7 0 8 1 0 0-7 1-8 1-7 0-8 1-8 0-8 1-7 1-8 0-8 1-8 0-8 1-8 1-8 0-8 1-8 0-8 1-8 1-9 0-8 1-8 0-1 1 8 1 7 0 8 1 8 0 8 1 7 1 8 0 8 1 8 0 8 1 7 1 8 0 8 1 8 0 8 1 7 1 8 0 8 1 8 0 8 1 1 1-8 0-8 1-8 0-8 1-8 1-8 0-8 1-8 0-8 1-8 1-8 0-8 1-8 0-8 1-8 1-8 0-8 1-9 0-8 1-8 1-1 0 8 1 8 0 8 1 8 1 8 0 9 1 8 0 8 1 8 1 8 0 9 1 8 0 8 1 8 1 8 0 8 1 8 0 8 1 8 1 8 0 1 1-8 0-7 1-8 1-7 0-8 1-8 0-7 1-7 1-8 0-7 1-8 0-7 1-7 1-8 0-7 1-7 0-7 1-7 1-7 0-7 1-1 0 8 1 8 1 8 0 8 1 8 0 7 1 8 1 8 0 7 1 8 0 8 1 7 1 8 0 7 1 7 0 8 1 7 1 7 0 7 1 7 0 2 1-7 1-7 0-6 1-7 0-6 1-7 1-6 0-7 1-6 0-6 1-7 1-6 0-6 1-6 0-6 1-6 1-6 0-6 1-6 0-6 1-1 1 7 0 7 1 7 0 7 1 7 1 7 0 7 1 6 0 7 1 6 1 7 0 6 1 7 0 6 1 7 1 6 0 6 1 6 0 6 1 6 1 2 0-6 1-5 0-6 1-5 1-6 0-5 1-6 0-5 1-5 1-5 0-5 1-5 0-5 1-5 1-5 0-5 1-6 0-5 1-6 1-5 0-2 1 4 0 5 1 5 1 5 0 5 1 5 0 5 1 6 1 5 0 5 1 5 0 6 1 5 1 6 0 5 1 6 0 5 1 6 1 6 0 6 1 1 0-6 1-6 1-6 0-7 1-6 0-6 1-7 1-6 0-7 1-6 0-7 1-7 1-6 0-7 1-7 0-7 1-7 1-6 0-7 1-7 0-3 1 6 1 6 0 6 1 6 0 6 1 6 1 7 0 6 1 6 0 6 1 7 1 6 0 7 1 6 0 7 1 6 1 7 0 7 1 6 0 7 1 2 1-7 0-7 1-7 0-7 1-8 1-7 0-7 1-7 0-8 1-7 1-8 0-7 1-8 0-7 1-8 1-8 0-7 1-8 0-8 1-8 1-3 0 7 1 7 0 7 1 7 1 7 0 7 1 7 0 7 1 7 1 8 0 7 1 7 0 8 1 7 1 7 0 8 1 7 0 8 1 7 1 8 0 3 1-8 0-8 1-8 1-8 0-8 1-8 0-8 1-9 1-8 0-8 1-8 0-9 1-8 1-8 0-9 1-8 0-9 1-8 1-9 0-9 1-3 0 8 1 8 1 8 0 8 1 8 0 9 1 8 1 8 0 8 1 8 0 8 1 9 1 8 0 8 1 8 0 8 1 9 1 8 0 8 1 8 0 3 1-8 1-8 0-8 1-9 0-8 1-8 1-8 0-9 1-8 0-8 1-8 1-9 0-8 1-8 0-9 1-8 1-8 0-8 1-9 0-8 1-3 1 8 0 9 1 8 0 9 1 8 1 9 0 8 1 9 0 8 1 9 1 8 0 9 1 8 0 8 1 9 1 8 0 8 1 8 0 8 1 8 1 3 0-7 1-8 0-8 1-7 1-8 0-7 1-8 0-7 1-8 1-7 0-7 1-7 0-8 1-7 1-7 0-7 1-7 0-7 1-7 1-7 0-3 1 8 0 7 1 8 1 8 0 7 1 8 0 222-1-7 0-6-1-7-1-6 0-7-1-7 0 3-1 7-1 7 0 7-1 8 0 7-1 7-1 7 0 8-1 7 0 7-1 8-1 7 0 8-1 7 0 8-1 8-1 7 0 8-1 8 0 7-1-2-1-7 0-7-1-7 0-7-1-7-1-7 0-7-1-7 0-8-1-7-1-7 0-7-1-8 0-7-1-7-1-8 0-7-1-8 0-7-1-8-1 4 0 7-1 8 0 8-1 8-1 8 0 8-1 8 0 8-1 8-1 8 0 8-1 8 0 9-1 8-1 8 0 8-1 7 0 8-1 8-1 8 0-3-1-8 0-8-1-8-1-8 0-8-1-8 0-8-1-8-1-8 0-8-1-8 0-8-1-8-1-8 0-8-1-8 0-7-1-8-1-8 0-8-1 3 0 8-1 7-1 8 0 8-1 8 0 7-1 8-1 8 0 7-1 8 0 8-1 7-1 8 0 7-1 8 0 7-1 8-1 7 0 7-1 7 0-3-1-8-1-8 0-8-1-8 0-8-1-8-1-8 0-8-1-8 0-7-1-8-1-8 0-7-1-8 0-7-1-8-1-7 0-8-1-7 0-7-1 2-1 7 0 7-1 7 0 7-1 7-1 6 0 7-1 7 0 6-1 7-1 7 0 6-1 7 0 6-1 6-1 7 0 6-1 6 0 6-1 7-1-3 0-8-1-7 0-7-1-7-1-8 0-7-1-7 0-7-1-7-1-7 0-6-1-7 0-7-1-6-1-7 0-6-1-7 0-6-1-7-1-6 0 2-1 6 0 5-1 6-1 6 0 5-1 6 0 5-1 6-1 5 0 5-1 6 0 5-1 5-1 5 0 5-1 5 0 5-1 5-1 4 0 5-1-2 0-5-1-6-1-6 0-5-1-5 0-6-1-5-1-6 0-5-1-5 0-6-1-5-1-6 0-5-1-5 0-6-1-5-1-6 0-5-1-5 0 1-1 5-1 6 0 5-1 6 0 5-1 5-1 6 0 5-1 6 0 5-1 5-1 6 0 5-1 6 0 5-1 5-1 6 0 5-1 6 0 5-1-1-1-5 0-5-1-5 0-5-1-5-1-5 0-5-1-5 0-5-1-5-1-5 0-6-1-5 0-5-1-6-1-5 0-6-1-6 0-5-1-6-1 2 0 6-1 6 0 6-1 7-1 6 0 7-1 7 0 6-1 7-1 7 0 7-1 7 0 7-1 7-1 7 0 7-1 8 0 7-1 7-1 8 0-1-1-6 0-6-1-7-1-6 0-6-1-7 0-6-1-7-1-6 0-7-1-7 0-6-1-7-1-7 0-6-1-7 0-7-1-7-1-7 0-7-1 2 0 7-1 7-1 7 0 8-1 7 0 8-1 7-1 8 0 7-1 8 0 7-1 8-1 8 0 8-1 7 0 8-1 8-1 8 0 8-1 8 0-1-1-7-1-8 0-7-1-7 0-8-1-7-1-8 0-7-1-8 0-7-1-8-1-7 0-8-1-8 0-7-1-8-1-7 0-8-1-7 0-8-1 1-1 8 0 8-1 7 0 8-1 8-1 7 0 8-1 8 0 7-1 8-1 8 0 8-1 7 0 8-1 8-1 8 0 7-1 8 0 8-1 8-1-2 0-7-1-8 0-8-1-8-1-8 0-7-1-8 0-8-1-8-1-7 0-8-1-8 0-7-1-8-1-8 0-7-1-8 0-8-1-7-1-8 0 1-1 7 0 8-1 8-1 7 0 8-1 7 0 8-1 7-1 7 0 8-1 7 0 8-1 7-1 8 0 7-1 7 0 8-1 7-1 7 0 8-1-1 0-8-1-8-1-8 0-8-1-8 0-8-1-8-1-7 0-8-1-8 0-7-1-8-1-7 0-8-1-7 0-7-1-8-1-7 0-7-1-7-1 7-1 7 0 7-1 6 0 7-1 6-1 7 0 6-1 7 0 6-1 6-1 7 0 6-1 6 0 6-1 6-1 6 0 6-1 6 0 6-1-1-1-7 0-7-1-7 0-7-1-7-1-7 0-7-1-6 0-7-1-7-1-6 0-7-1-6 0-6-1-7-1-6 0-6-1-7 0-6-1-6-1 0 0 6-1 6 0 5-1 6-1 6 0 5-1 6 0 5-1 5-1 6 0 5-1 5 0 5-1 5-1 5 0 5-1 5 0 5-1 5-1 5 0-1-1-5 0-6-1-6-1-5 0-6-1-5 0-6-1-5-1-6 0-5-1-6 0-5-1-6-1-5 0-5-1-6 0-5-1-5-1-6 0-5-1 0 0 5-1 6-1 5 0 5-1 5 0 5-1 5-1 5 0 5-1 5 0 5-1 5-1 4 0 5-1 5 0 5-1 5-1 5 0 5-1 6-1-4-1-4 0-5-1-4 0-5-1-5-1-4 0-5-1-5 0-5-1-5-1-5 0-5-1-5 0-5-1-5-1-6 0-5-1-6 0-5-1 0-1 6 0 6-1 6 0 6-1 6-1 6 0 7-1 6 0 6-1 7-1 6 0 7-1 7 0 6-1 7-1 7 0 7-1 7 0 7-1 7-1 1 0-6-1-6 0-5-1-6-1-6 0-6-1-6 0-6-1-6-1-6 0-6-1-7 0-6-1-6-1-7 0-6-1-7 0-7-1-6-1-7-1 7 0 7-1 8-1 7 0 7-1 8 0 7-1 8-1 8 0 7-1 8 0 8-1 8-1 8 0 8-1 8 0 8-1 8-1 8 0 8-1 2 0-7-1-7-1-7 0-7-1-8 0-7-1-7-1-8 0-7-1-8 0-7-1-8-1-7 0-8-1-8 0-7-1-8-1-8 0-8-1-8-1 8-1 8 0 9-1 8 0 8-1 9-1 8 0 9-1 8 0 9-1 8-1 9 0 9-1 8 0 9-1 9-1 9 0 9-1 8 0 9-1 1-1-8 0-9-1-8 0-9-1-8-1-9 0-8-1-9 0-8-1-9-1-8 0-8-1-9 0-8-1-9-1-8 0-9-1-8 0-9-1-8-1-1 0 8-1 9 0 8-1 9-1 8 0 9-1 8 0 9-1 8-1 9 0 8-1 9 0 8-1 8-1 9 0 8-1 9 0 8-1 8-1 8 0 1-1-9 0-9-1-9-1-9 0-8-1-9 0-9-1-8-1-9 0-8-1-9 0-8-1-9-1-8 0-8-1-9 0-8-1-8-1-8 0-8-1-2 0 8-1 8-1 8 0 8-1 8 0 7-1 8-1 8 0 7-1 8 0 8-1 7-1 8 0 7-1 7 0 8-1 7-1 7 0 7-1 7 0 1-1-9-1-8 0-9-1-8 0-8-1-8-1-8 0-8-1-8 0-8-1-8-1-8 0-7-1-8 0-7-1-8-1-7 0-7-1-8 0-7-1-1-1 6 0 7-1 6 0 7-1 6-1 6 0 7-1 6 0 6-1 6-1 6 0 6-1 5 0 6-1 6-1 5 0 6-1 5 0 5-1 6-1 0 0-7-1-7 0-6-1-7-1-6 0-6-1-7 0-6-1-6-1-6 0-6-1-6 0-6-1-6-1-6 0-6-1-6 0-6-1-6-1-6 0-1-1 6 0 5-1 6-1 5 0 6-1 6 0 5-1 6-1 5 0 6-1 5 0 6-1 5-1 5 0 6-1 5 0 6-1 5-1 6 0 6-1 1 0-5-1-5-1-6 0-5-1-5 0-6-1-5-1-5 0-6-1-5 0-6-1-5-1-6 0-6-1-5 0-6-1-6-1-5 0-6-1-6 0-1-1 6-1 6 0 6-1 6 0 6-1 6-1 7 0 6-1 6 0 7-1 6-1 6 0 7-1 6 0 7-1 6-1 7 0 7-1 6 0 7-1 2-1-6 0-6-1-6 0-5-1-6-1-6 0-6-1-6 0-6-1-7-1-6 0-6-1-6 0-7-1-6-1-6 0-7-1-6 0-7-1-6-1-2 0 7-1 7 0 7-1 7-1 7 0 7-1 7 0 8-1 7-1 7 0 8-1 7 0 7-1 8-1 7 0 8-1 8 0 7-1 7-1 8 0 2-1-7 0-7-1-7-1-7 0-7-1-7 0-7-1-8-1-7 0-7-1-7 0-7-1-7-1-7 0-8-1-7 0-7-1-7-1-8 0-7-1-2 0 7-1 8-1 7 0 7-1 8 0 7-1 8-1 7 0 8-1 7 0 8-1 7-1 8 0 7-1 8 0 7-1 8-1 8 0 7-1 8 0 2-1-7-1-8 0-7-1-8 0-7-1-8-1-8 0-7-1-8 0-7-1-8-1-7 0-8-1-7 0-8-1-7-1-8 0-7-1-7 0-8-1-2-1 7 0 7-1 8 0 7-1 7-1 7 0 7-1 8 0 7-1 7-1 7 0 7-1 7 0 7-1 8-1 7 0 7-1 7 0 7-1 7-1 2 0-7-1-8 0-7-1-8-1-7 0-8-1-7 0-7-1-8-1-7 0-7-1-8 0-7-1-7-1-7 0-7-1-7 0-7-1-7-1-7 0-3-1 7 0 6-1 7-1 7 0 6-1 7 0 6-1 7-1 6 0 7-1 6 0 6-1 7-1 6 0 6-1 6 0 6-1 7-1 6 0 6-1 2 0-7-1-7-1-7 0-7-1-7 0-7-1-7-1-6 0-7-1-7 0-7-1-6-1-7 0-6-1-7 0-6-1-6-1-6 0-7-1-6 0-2-1 5-1 6 0 6-1 5 0 6-1 5-1 5 0 6-1 5 0 5-1 5-1 5 0 5-1 5 0 5-1 5-1 5 0 5-1 4 0 5-1 2-1-6 0-6-1-5 0-6-1-6-1-5 0-6-1-5 0-6-1-5-1-5 0-6-1-5 0-5-1-6-1-5 0-5-1-5 0-5-1-5-1-3 0 5-1 5 0 5-1 4-1 5 0 5-1 4 0 5-1 4-1 5 0 4-1 4 0 5-1 5-1 4 0 6-1 5 0 5-1 6-1 5 0 3-1-4 0-4-1-4-1-5 0-4-1-4 0-5-1-4-1-5 0-4-1-5 0-5-1-5-1-5 0-5-1-5 0-5-1-5-1-5 0-5-1-3 0 6-1 6-1 6 0 5-1 6 0 6-1 6-1 6 0 7-1 6 0 6-1 6-1 7 0 6-1 7 0 6-1 7-1 7 0 7-1 7 0 4-1-5-1-6 0-5-1-5 0-6-1-5-1-6 0-6-1-6 0-6-1-5-1-7 0-6-1-6 0-6-1-6-1-7 0-6-1-7 0-7-1-3-1 7 0 8-1 7 0 7-1 8-1 7 0 8-1 8 0 8-1 7-1 8 0 8-1 8 0 9-1 8-1 8 0 9-1 8 0 9-1 8-1 5 0-7-1-7 0-7-1-7-1-7 0-7-1-7 0-8-1-7-1-8 0-7-1-8 0-8-1-7-1-8 0-8-1-8 0-8-1-8-1-9 0-4-1 9 0 9-1 8-1 9 0 9-1 9 0 10-1 9-1 9 0 9-1 10 0 9-1 10-1 9 0 10-1 10 0 10-1 10-1 10 0 10-1 5 0-8-1-9-1-9 0-9-1-9 0-9-1-9-1-9 0-9-1-9 0-9-1-9-1-9 0-10-1-9 0-9-1-9-1-10 0-9-1-10 0-5-1 10-1 9 0 10-1 10 0 10-1 10-1 10 0 10-1 10 0 10-1 10-1 10 0 10-1 10 0 10-1 11-1 10 0 10-1 10 0 11-1 6-1-10 0-10-1-10 0-10-1-10-1-10 0-10-1-10 0-11-1-10-1-10 0-10-1-10 0-10-1-10-1-10 0-10-1-10 0-10-1-9-1-6 0 9-1 10 0 10-1 9-1 10 0 10-1 9 0 10-1 9-1 10 0 9-1 10 0 9-1 10-1 9 0 9-1 10 0 9-1 9-1 9 0 6-1-10 0-10-1-9-1-10 0-10-1-10 0-10-1-10-1-10 0-11-1-10 0-10-1-9-1-10 0-10-1-9 0-10-1-9-1-9 0-9-1-6 0 8-1 8-1 9 0 8-1 8 0 8-1 7-1 8 0 7-1 8 0 7-1 7-1 8 0 7-1 6 0 7-1 7-1 7 0 6-1 6 0 4-1-9-1-9 0-9-1-9 0-9-1-8-1-9 0-8-1-8 0-8-1-8-1-8 0-8-1-7 0-8-1-7-1-7 0-7-1-7 0-7-1-4-1 5 0 6-1 6 0 5-1 5-1 5 0 5-1 5 0 5-1 5-1 4 0 4-1 4 0 4-1 4-1 4 0 4-1 4 0 3-1 4-1 3 0-5-1-6 0-5-1-4-1-5 0-5-1-5 0-5-1-5-1-5 0-5-1-4 0-5-1-5-1-5 0-5-1-5 0-5-1-4-1-5 0-4-1 5 0 5-1 5-1 5 0 4-1 5 0 5-1 5-1 5 0 4-1 5 0 5-1 5-1 4 0 5-1 5 0 5-1 5-1 5 0 5-1 5 0-5-1-4-1-4 0-4-1-5 0-4-1-5-1-4 0-5-1-5 0-4-1-5-1-5 0-5-1-5 0-5-1-5-1-5 0-5-1-5 0-4-1 5-1 6 0 6-1 6 0 5-1 6-1 6 0 6-1 6 0 7-1 6-1 6 0 6-1 7 0 6-1 7-1 6 0 7-1 6 0 6-1 5-1-6 0-6-1-6 0-6-1-6-1-6 0-6-1-6 0-6-1-6-1-6 0-6-1-6 0-6-1-6-1-6 0-6-1-6 0-6-1-6-1-5 0 6-1 6 0 6-1 6-1 6 0 6-1 6 0 7-1 6-1 6 0 6-1 6 0 6-1 6-1 6 0 6-1 6 0 6-1 6-1 6 0 4-1-6 0-6-1-6-1-6 0-6-1-6 0-6-1-6-1-6 0-6-1-6 0-6-1-6-1-6 0-6-1-6 0-6-1-6-1-6 0-6-1-5 0 6-1 6-1 6 0 6-1 6 0 6-1 6-1 6 0 6-1 6 0 6-1 6-1 5 0 6-1 6 0 6-1 6-1 6 0 6-1 6 0 5-1-6-1-6 0-6-1-6 0-6-1-7-1-6 0-6-1-6 0-6-1-6-1-6 0-6-1-6 0-6-1-6-1-6 0-6-1-5 0-6-1-5-1 6 0 5-1 6 0 6-1 5-1 6 0 5-1 6 0 5-1 6-1 5 0 6-1 5 0 6-1 5-1 6 0 5-1 5 0 6-1 5-1 4 0-6-1-6 0-6-1-5-1-6 0-6-1-6 0-5-1-6-1-6 0-5-1-6 0-6-1-5-1-6 0-5-1-5 0-6-1-5-1-5 0-5-1 5 0 5-1 5-1 5 0 5-1 5 0 5-1 5-1 5 0 4-1 5 0 5-1 4-1 5 0 5-1 4 0 5-1 4-1 5 0 4-1 4 0-5-1-5-1-5 0-6-1-5 0-5-1-5-1-5 0-5-1-5 0-5-1-5-1-5 0-5-1-5 0-4-1-5-1-5 0-4-1-5 0-4-1 4-1 4 0 5-1 4 0 4-1 4-1 4 0 4-1 4 0 4-1 4-1 4 0 3-1 4 0 4-1 4-1 3 0 4-1 4 0 4-1 4-1-4 0-4-1-3 0-4-1-4-1-4 0-4-1-3 0-4-1-4-1-4 0-4-1-4 0-4-1-4-1-5 0-4-1-4 0-4-1-4-1-4 0 4-1 5 0 4-1 5-1 4 0 5-1 5 0 4-1 5-1 5 0 5-1 5 0 5-1 5-1 4 0 5-1 5 0 5-1 6-1 5 0 5-1-5 0-4-1-3-1-4 0-4-1-3 0-4-1-4-1-4 0-4-1-4 0-4-1-5-1-4 0-5-1-5 0-5-1-5-1-6 0-5-1-6 0 7-1 7-1 6 0 7-1 7 0 8-1 7-1 8 0 7-1 8 0 8-1 8-1 9 0 8-1 9 0 9-1 8-1 10 0 9-1 9 0 9-1-5-1-6 0-6-1-7 0-6-1-7-1-6 0-7-1-7 0-7-1-7-1-8 0-7-1-8 0-8-1-8-1-8 0-8-1-9 0-8-1-9-1 9 0 10-1 10 0 10-1 10-1 11 0 10-1 11 0 11-1 11-1 11 0 11-1 12 0 11-1 12-1 12 0 12-1 12 0 12-1 13-1 12 0-8-1-9 0-10-1-9-1-10 0-10-1-10 0-10-1-10-1-10 0-11-1-10 0-11-1-11-1-11 0-11-1-11 0-11-1-12-1-11 0-12-1 12 0 13-1 12-1 13 0 13-1 14 0 13-1 13-1 14 0 14-1 13 0 14-1 14-1 15 0 14-1 15 0 15-1 15-1 16 0 17-1 17 0-9-1-11-1-10 0-11-1-11 0-12-1-12-1-12 0-12-1-13 0-13-1-13-1-13 0-13-1-13 0-13-1-14-1-15 0-14-1-16 0-16-1 18-1 21 0 21-1 22 0 22-1 23-1 24 0 24-1 25 0 25-1 27-1 27 0 18-1 0-1 0-1 0-1 0-1 0-1 0-1 0-1 0-1 0-1 0-1 0-1 0-1 0-1-15-1-29 0-31-1-32 0-33-1-34-1-35 0 32-1 35 0 36-1 35-1 36 0 35-1 0-1 0-1 0-1 0-1 0-1 0-1 0-1 0-1 0-1 0-1 0-1 0-1 0-1 0-1 0-1 0-1 0-1 0-1-31 0-36-1-35-1-35 0-36-1-35 0 31-1 35-1 35 0 36-1 35 0 35-1 1-1 0-1 0-1 0-1 0-1 0-1 0-1 0-1 0-1 0-1 0-1 0-1 0-1 0-1 0-1 0-1 0-1 0-1-31-1-35 0-35-1-36 0-35-1-35-1 29 0 35-1 36 0 35-1 35-1 36 0 1-1 0-1 0-1 0-1 0-1 0-1 0-1 0-1 0-1 0-1 0-1 0-1 0-1 0-1 0-1 0-1 0-1 0-1 0 0-30-1-36 0-35-1-35-1-36 0-35-1 28 0 36-1 35-1 35 0 36-1 35 0 2-1 0-1 0-1 0-1 0-1 0-1 0-1 0-1 0-1 0-1 0-1 0-1 0-1 0-1 0-1 0-1 0-1 0-1 0 0-30-1-35-1-35 0-36-1-35 0-35-1 27-1 35 0 35-1 36 0 35-1 35-1 3-1 0-1 0-1 0-1 0-1 0-1 0-1 0-1 0-1 0-1 0-1 0-1 0-1 0-1 0-1 0-1 0-1 0-1-29 0-35-1-36 0-35-1-35-1-36 0 26-1 36 0 35-1 35-1 36 0 35-1 3-1 0-1 0-1 0-1 0-1 0-1 0-1 0-1 0-1 0-1 0-1 0-1 0-1 0-1 0-1 0z" fill="#3030ff" fill-opacity="0.35"/>
<path d="M209 41l1 0 1 0 1 0 1 0 1 0 1 0 1 0 0 33 1 52 1 52 0 52 1 52 0 52 1 31 1 0 1 0 1 0 1 0 1 0 0-11 1-52 1-52 0-52 1-52 0-52 1-53 1 0 1 0 1 0 1 0 1 0 1 0 1 0 1 0 1 0 1 0 1 0 1 0 1 32 0 52 1 52 0 52 1 52 1 52 0 32 1 0 1 0 1 0 1 0 1 0 1-10 0-52 1-52 0-52 1-53 1-52 0-52 1-1 1 0 1 0 1 0 1 0 1 0 1 0 1 0 1 0 1 0 1 0 1 0 1 31 0 52 1 52 1 52 0 52 1 52 0 33 1 0 1 0 1 0 1 0 1 0 1-9 0-52 1-52 1-53 0-52 1-52 0-52 1-2 1 0 1 0 1 0 1 0 1 0 1 0 1 0 1 0 1 0 1 0 1 0 1 30 1 52 0 52 1 52 0 52 1 52 1 34 1 0 1 0 1 0 1 0 1-8 1-52 0-53 1-52 0-52 1-52 1-52 0-3 1 0 1 0 1 0 1 0 1 0 1 0 1 0 1 0 1 0 1 0 1 0 1 0 0 29 1 52 0 52 1 52 1 52 0 53 1 34 1 0 1 0 1 0 1 0 1 0 0-8 1-52 0-52 1-52 1-52 0-52 1-52 0-4 1 0 1 0 1 0 1 0 1 0 1 0 1 0 1 0 1 0 1 0 1 0 1 0 0 28 1 52 1 52 0 52 1 53 0 52 1 35 1 0 1 0 1 0 1 0 1 0 0-7 1-52 1-52 0-52 1-52 0-52 1-52 1-5 1 0 1 0 1 0 1 0 1 0 1 0 1 0 1 0 1 0 1 0 1 0 1 42 0 54 1 53 0 51 1 50 1 49 0 33 1 1 0 1 1 1 1 1 0 1 1 1 0 1 1 1 1-4 0-37 1-35 0-35 1-32 1-32 0-31 1-30 0-29 1-28 1-28 0-19 1 0 1 0 1 0 1 0 1 0 1 0 0 31 1 33 0 32 1 31 1 30 0 29 1 29 0 27 1 26 1 26 0 25 1 24 0 17 1 1 1 0 0 1 1 0 1 1 1 0 0 1 1-2 0-19 1-18 1-18 0-18 1-18 0-17 1-18 1-17 0-17 1-17 0-16 1-17 1-16 0-16 1-16 0-15 1 8 1 19 0 19 1 19 0 18 1 18 1 18 0 18 1 17 0 18 1 17 1 16 0 17 1 16 0 16 1 15 1 12 1 0 1 0 1 0 0 1 1 0 1-1 1-14 0-13 1-13 0-13 1-13 1-13 0-12 1-12 0-12 1-12 1-12 0-11 1-11 0-11 1-11 1-11 0 6 1 14 0 14 1 13 1 13 0 13 1 13 0 12 1 13 1 12 0 12 1 12 0 11 1 11 1 12 0 10 1 8 0 1 1 0 1 0 1 0 1 0 1 0 1-9 0-9 1-9 1-9 0-9 1-8 0-8 1-8 1-8 0-8 1-8 0-7 1-8 1-7 0-7 1-7 0 4 1 9 1 9 0 9 1 9 0 9 1 8 1 9 0 8 1 8 0 8 1 8 1 7 0 8 1 7 0 8 1 5 1 0 1 0 1 0 1 0 0 1 1 0 0-1 1-6 1-5 0-6 1-6 0-6 1-6 1-6 0-6 1-6 0-6 1-7 1-6 0-7 1-6 0-7 1-6 1 1 0 6 1 6 0 6 1 5 1 6 0 6 1 7 0 6 1 6 1 6 0 6 1 7 0 6 1 7 1 6 0 5 1 0 1 0 1 0 1 0 1 0 1 0 0-7 1-7 0-7 1-7 1-7 0-7 1-8 0-7 1-7 1-7 0-7 1-8 0-7 1-7 1-8 0-7 1 1 0 7 1 7 1 7 0 7 1 7 0 7 1 7 1 7 0 7 1 8 0 7 1 7 1 8 0 7 1 7 0 6 1 0 1 0 1 0 1 0 1 0 1 0 0-8 1-7 1-8 0-8 1-8 0-8 1-7 1-8 0-8 1-8 0-8 1-8 1-8 0-8 1-9 0-8 1 1 1 8 0 8 1 7 0 8 1 8 1 8 0 8 1 7 0 8 1 8 1 8 0 8 1 8 0 8 1 9 1 6 1 0 1 0 1 0 1 0 1 0 1-8 0-9 1-8 0-9 1-8 1-9 0-8 1-9 0-9 1-8 1-9 0-8 1-9 0-9 1-8 1-9 0 1 1 9 0 8 1 9 1 8 0 9 1 8 0 9 1 8 1 9 0 8 1 9 0 8 1 9 1 9 0 8 1 8 1 0 1 0 1 0 1 0 1 0 1-9 0-9 1-9 1-9 0-8 1-9 0-9 1-9 1-9 0-9 1-9 0-9 1-9 1-8 0-9 1-9 0 1 1 9 1 8 0 9 1 9 0 9 1 9 1 9 0 8 1 9 0 9 1 9 1 9 0 9 1 9 0 9 1 7 1 0 1 0 1 0 1 0 1 0 1-8 1-9 0-9 1-9 0-10 1-9 1-8 0-9 1-9 0-9 1-9 1-9 0-9 1-9 0-9 1-8 1 1 0 9 1 9 0 9 1 9 1 9 0 9 1 9 0 9 1 9 1 8 0 9 1 9 0 9 1 9 1 9 0 7 1 1 1 0 1 0 1 0 1 0 1 0 0-9 1-8 0-9 1-9 1-9 0-8 1-9 0-8 1-9 1-9 0-8 1-8 0-9 1-8 1-8 0-9 1 1 0 9 1 9 1 9 0 8 1 9 0 9 1 8 1 9 0 8 1 9 0 8 1 9 1 8 0 9 1 8 0 7 1 0 1 0 1 0 1 0 1 0 1 0 0-7 1-8 1-8 0-8 1-8 0-8 1-8 1-7 0-8 1-9 0-8 1-9 1-8 0-10 1-9 0-9 1-1 1 7 0 7 1 8 0 7 1 8 1 8 0 8 1 8 0 9 1 8 1 9 0 9 1 9 0 9 1 9 1 9 0-1 1 0 1 0 1 0 1 0 1 0 1-10 0-10 1-11 0-11 1-11 1-11 0-12 1-11 0-12 1-12 1-12 0-12 1-12 0-13 1-12 1-13 0-2 1 11 0 10 1 11 1 11 0 11 1 11 0 11 1 11 1 12 0 12 1 12 0 12 1 12 1 12 0 13 1 11 1 0 1 0 1 0 1 0 1 0 1-13 0-13 1-14 1-14 0-14 1-14 0-13 1-14 1-15 0-14 1-14 0-14 1-14 1-15 0-14 1-14 0-1 1 13 1 14 0 14 1 13 0 14 1 14 1 14 0 14 1 14 0 14 1 14 1 14 0 15 1 14 0 14 1 14 1 0 1-1 1 0 1 0 1 0 1-13 1-14 0-15 1-15 0-14 1-15 1-15 0-14 1-15 0-14 1-15 1-15 0-14 1-15 0-14 1-15 1-1 0 15 1 15 0 14 1 15 1 15 0 14 1 15 0 15 1 14 1 15 0 14 1 15 0 15 1 14 1 15 0 13 1 0 1 0 1 0 1 0 1 1 1 0 0-13 1-14 0-15 1-14 1-14 0-14 1-14 0-14 1-14 1-14 0-14 1-14 0-13 1-14 1-13 0-14 1 0 0 14 1 15 1 14 0 14 1 15 0 14 1 14 1 14 0 14 1 14 0 14 1 13 1 14 0 13 1 14 0 13 1 0 1 0 1 0 1 0 1 0 1 0 0-11 1-13 1-12 0-13 1-13 0-12 1-13 1-12 0-12 1-12 0-12 1-12 1-11 0-12 1-11 0-12 1 0 1 13 0 13 1 13 0 13 1 12 1 13 0 12 1 13 0 12 1 12 1 12 0 12 1 11 0 12 1 11 1 12 1 0 1 0 1 0 1 0 1 0 1-8 0-11 1-10 0-10 1-10 1-10 0-10 1-10 0-9 1-10 1-9 0-9 1-9 0-9 1-9 1-9 1 10 0 11 1 10 1 10 0 10 1 10 0 10 1 10 1 10 0 9 1 10 0 9 1 9 1 9 0 9 1 9 1 0 1 0 1 0 1 0 1 0 1-6 0-8 1-8 1-7 0-8 1-7 0-8 1-7 1-8 0-7 1-8 0-8 1-7 1-8 0-8 1-7 0-2 1 8 1 7 0 8 1 8 0 7 1 8 1 8 0 7 1 8 0 8 1 7 1 8 0 8 1 7 0 8 1 8 1 0 1 0 1 0 1 0 1 0 1-6 1-8 0-8 1-7 0-8 1-8 1-7 0-8 1-8 0-9 1-8 1-8 0-9 1-9 0-9 1-9 1-2 0 7 1 7 0 8 1 8 1 7 0 8 1 8 0 8 1 8 1 9 0 8 1 8 0 9 1 8 1 9 0 9 1 0 1 0 1 0 1 0 1 0 1 0 0-8 1-9 0-10 1-9 1-10 0-9 1-10 0-10 1-10 1-10 0-10 1-10 0-10 1-10 1-10 0-10 1-3 0 10 1 9 1 9 0 10 1 10 0 9 1 10 1 10 0 10 1 9 0 10 1 10 1 10 0 10 1 10 0 10 1 1 1 0 1 0 1 0 1 0 1 0 0-8 1-11 1-10 0-11 1-10 0-11 1-10 1-11 0-11 1-10 0-11 1-11 1-11 0-10 1-11 0-11 1-4 1 11 0 10 1 11 0 10 1 11 1 10 0 11 1 10 0 11 1 11 1 10 0 11 1 11 0 11 1 10 1 11 0 1 1 0 1 0 1 0 1 0 1 0 1-8 0-11 1-12 0-11 1-11 1-11 0-11 1-11 0-11 1-11 1-11 0-11 1-11 0-11 1-12 1-11 0-3 1 11 0 11 1 11 1 11 0 11 1 11 0 11 1 11 1 11 0 11 1 11 0 12 1 11 1 11 0 11 1 11 0 1 1 0 1 0 1 0 1 0 1 0 1-8 0-11 1-11 1-12 0-11 1-11 0-10 1-11 1-11 0-11 1-10 0-11 1-10 1-11 0-10 1-10 0-4 1 12 1 11 0 11 1 11 0 11 1 11 1 11 0 11 1 10 0 11 1 11 1 10 0 11 1 10 0 10 1 11 1 1 1 0 1 0 1 0 1 0 1-7 1-10 0-10 1-9 0-10 1-10 1-9 0-10 1-9 0-10 1-9 1-9 0-9 1-10 0-9 1-9 1-3 0 10 1 9 0 10 1 10 1 10 0 9 1 10 0 10 1 9 1 10 0 9 1 9 0 10 1 9 1 9 0 9 1 1 1 0 1 0 1 0 1 0 1 0 0-6 1-8 0-9 1-9 1-8 0-9 1-9 0-8 1-9 1-9 0-8 1-9 0-9 1-9 1-8 0-9 1-4 0 9 1 8 1 9 0 9 1 8 0 9 1 9 1 8 0 9 1 9 0 9 1 8 1 9 0 9 1 9 0 8 1 2 1 0 1 0 1 0 1 0 1 0 0-6 1-9 1-9 0-9 1-9 0-9 1-10 1-9 0-10 1-9 0-10 1-10 1-10 0-10 1-10 0-10 1-6 1 9 0 9 1 8 0 9 1 10 1 9 0 9 1 9 0 10 1 9 1 10 0 10 1 10 0 10 1 10 1 10 0 2 1-1 1 0 1 0 1 0 1 0 1-7 0-11 1-11 0-12 1-11 1-11 0-11 1-12 0-11 1-12 1-11 0-12 1-12 0-11 1-12 1-12 0-6 1 11 0 11 1 11 1 11 0 11 1 11 0 12 1 11 1 11 0 12 1 11 0 12 1 12 1 11 0 12 1 12 0 2 1 0 1 0 1 0 1-1 1 0 1-7 0-13 1-12 1-12 0-13 1-12 0-13 1-12 1-13 0-12 1-13 0-12 1-13 1-12 0-13 1-12 0-7 1 12 1 12 0 13 1 12 0 12 1 13 1 12 0 12 1 13 0 12 1 13 1 12 0 13 1 12 0 13 1 13 1 2 1 0 1 0 1 0 1 0 1-8 1-13 0-13 1-13 0-12 1-13 1-13 0-12 1-13 0-13 1-12 1-13 0-12 1-13 0-12 1-13 1-7 0 13 1 13 0 13 1 12 1 13 0 13 1 13 0 12 1 13 1 12 0 13 1 13 0 12 1 13 1 12 0 13 1 2 1 0 1 0 1 0 1 0 1 0 0-7 1-13 0-12 1-12 1-12 0-12 1-12 0-12 1-12 1-12 0-11 1-12 0-12 1-11 1-12 0-11 1-7 0 13 1 12 1 12 0 13 1 12 0 12 1 12 1 12 0 12 1 11 0 12 1 12 1 11 0 12 1 12 0 11 1 2 1 0 1 1 1 0 1 0 1 0 0-7 1-11 1-11 0-10 1-11 0-11 1-10 1-11 0-10 1-10 0-10 1-10 1-10 0-10 1-10 0-10 1-6 1 11 0 11 1 11 0 11 1 11 1 11 0 10 1 11 0 10 1 10 1 11 0 10 1 10 0 10 1 10 1 9 0 3 1 0 1 0 1 0 1 0 1 0 1-5 0-9 1-9 0-9 1-9 1-9 0-9 1-8 0-9 1-8 1-8 0-9 1-8 0-8 1-8 1-8 0-5 1 10 0 9 1 9 1 9 0 9 1 8 0 9 1 9 1 8 0 9 1 8 0 8 1 9 1 8 0 8 1 8 0 2 1 0 1 0 1 0 1 0 1 0 1-4 0-7 1-8 1-7 0-8 1-7 0-8 1-8 1-7 0-8 1-8 0-8 1-8 1-9 0-8 1-8 0-6 1 7 1 7 0 8 1 7 0 8 1 7 1 8 0 8 1 7 0 8 1 8 1 8 0 8 1 8 0 9 1 8 1 2 1 0 1 0 1 0 1 0 1-5 1-9 0-9 1-9 0-9 1-9 1-9 0-9 1-10 0-9 1-9 1-10 0-10 1-9 0-10 1-10 1-8 0 9 1 9 0 9 1 8 1 9 0 9 1 10 0 9 1 9 1 9 0 10 1 9 0 10 1 10 1 10 0 9 1 3 1 0 1 0 1 0 1 0 1 0 0-6 1-10 0-11 1-10 1-11 0-11 1-10 0-11 1-11 1-11 0-11 1-10 0-11 1-12 1-11 0-11 1-9 0 11 1 10 1 11 0 10 1 11 0 10 1 11 1 11 0 10 1 11 0 11 1 11 1 11 0 11 1 11 0 11 1 4 1 0 0-1 1 0 1 0 1 0 1 0 0-6 1-11 1-12 0-11 1-12 0-11 1-12 1-12 0-11 1-12 0-12 1-11 1-12 0-12 1-11 0-12 1-10 1 12 0 11 1 12 0 12 1 11 1 12 0 11 1 12 0 11 1 12 1 12 0 11 1 12 0 12 1 12 1 11 0 4 1 0 1 0 1 0 1 0 1 0 1-6 0-12 1-12 0-12 1-11 1-12 0-12 1-12 0-12 1-11 1-12 0-12 1-11 0-12 1-11 1-11 0-10 1 12 0 12 1 12 1 12 0 12 1 12 0 12 1 11 1 12 0 12 1 11 0 12 1 11 1 12 0 11 1 12 0 3 1 0 1 0 0 1 1 0 1 0 1 0 1-6 0-11 1-11 1-11 0-10 1-11 0-11 1-10 1-11 0-10 1-11 0-10 1-10 1-11 0-10 1-10 0-8 1 11 1 11 0 11 1 11 0 11 1 11 1 10 0 11 1 11 0 10 1 11 1 10 0 10 1 10 0 11 1 10 1 3 1 0 1 0 1 0 1 0 1-4 1-9 0-10 1-9 0-10 1-9 1-9 0-9 1-9 0-9 1-9 1-8 0-9 1-9 0-8 1-9 1-7 0 10 1 9 0 10 1 9 1 10 0 9 1 9 0 9 1 9 1 9 0 9 1 9 0 8 1 9 1 9 0 8 1 3 1 0 1 0 1 0 1 0 1 1 0-4 1-8 0-8 1-8 1-8 0-8 1-9 0-8 1-8 1-9 0-9 1-8 0-9 1-9 1-9 0-9 1-8 0 8 1 7 1 8 0 9 1 8 0 8 1 8 1 8 0 9 1 8 0 9 1 9 1 8 0 9 1 9 0 9 1 3 1 0 1 0 1 0 1 0 1 0 0-4 1-10 1-9 0-10 1-10 0-9 1-10 1-10 0-10 1-10 0-10 1-10 1-10 0-10 1-11 0-10 1-10 1 9 0 10 1 9 0 10 1 9 1 10 0 10 1 10 0 10 1 9 1 10 0 11 1 10 0 10 1 10 1 10 0 5 1-1 1 0 1 0 1 0 1 0 1-4 0-11 1-11 0-11 1-11 1-11 0-11 1-11 0-11 1-11 1-12 0-11 1-12 0-11 1-12 1-11 0-12 1 11 0 11 1 10 1 11 0 11 1 11 0 11 1 11 1 11 0 12 1 11 0 11 1 12 1 11 0 12 1 11 0 5 1 0 1 0 1 0 1 0 1 0 1-5 0-12 1-12 1-12 0-12 1-13 0-12 1-12 1-12 0-12 1-12 0-13 1-12 1-12 0-12 1-12 0-12 1 11 1 12 0 13 1 12 0 12 1 12 1 12 0 12 1 12 0 12 1 12 1 13 0 12 1 12 0 12 1 12 1 5 1 0 1 0 1 0 1 0 1-4 1-12 0-13 1-12 0-12 1-12 1-12 0-12 1-12 0-12 1-12 1-12 0-12 1-11 0-12 1-11 1-11 0 11 1 13 0 12 1 12 1 12 0 12 1 12 0 12 1 12 1 12 0 12 1 12 0 12 1 11 1 12 0 11 1 5 1 0 1 0 1 1 1 0 1 0 0-4 1-11 0-11 1-11 1-11 0-11 1-11 0-11 1-10 1-11 0-11 1-11 0 154-1 10 0 10-1 11-1 10 0 10-1 11 0 10-1 10-1 11 0 11-1 10 0 11-1 11-1 11 0 11-1 10 0-10-1-10-1-10 0-11-1-10 0-10-1-11-1-10 0-10-1-11 0-10-1-11-1-11 0-11-1-10 0-11-1-4-1 0-1 0-1 0-1 0-1 0 0 5-1 11-1 12 0 11-1 11 0 12-1 11-1 12 0 11-1 12 0 12-1 11-1 12 0 12-1 12 0 12-1 11-1-11 0-11-1-11 0-12-1-11-1-12 0-11-1-12 0-12-1-12-1-11 0-12-1-12 0-11-1-12-1-12 0-4-1 0-1 0-1 0-1 0-1 0-1 5 0 11-1 12 0 11-1 11-1 12 0 11-1 12 0 11-1 12-1 11 0 11-1 12 0 11-1 11-1 12 0 11-1-12 0-11-1-12-1-11 0-12-1-11 0-12-1-12-1-11 0-12-1-11 0-12-1-11-1-11 0-11-1-11 0-5-1 0-1 0-1 0-1 0-1 0-1 4 0 11-1 10-1 11 0 10-1 11 0 10-1 10-1 11 0 10-1 10 0 10-1 10-1 10 0 10-1 9 0 10-1-11-1-10 0-11-1-10 0-11-1-10-1-11 0-10-1-10 0-11-1-10-1-10 0-10-1-10 0-10-1-10-1-4-1 0-1 0-1 0-1 0-1 3-1 9 0 9-1 9 0 9-1 9-1 9 0 8-1 9 0 8-1 8-1 9 0 8-1 8 0 8-1 8-1 7 0-8-1-10 0-9-1-9-1-9 0-8-1-9 0-9-1-8-1-9 0-8-1-8 0-8-1-8-1-8 0-8-1-4-1 0-1 0-1 0-1 0-1 0 0 3-1 8 0 8-1 8-1 8 0 8-1 8 0 8-1 8-1 8 0 8-1 8 0 8-1 8-1 8 0 8-1 8 0-8-1-8-1-8 0-8-1-8 0-7-1-8-1-8 0-8-1-8 0-8-1-8-1-8 0-8-1-8 0-8-1-4-1 1-1 0-1 0-1 0-1 0 0 3-1 9-1 8 0 9-1 9 0 9-1 10-1 9 0 9-1 10 0 9-1 10-1 10 0 9-1 10 0 10-1 11-1-8 0-9-1-8 0-9-1-9-1-9 0-9-1-9 0-10-1-9-1-10 0-9-1-10 0-10-1-10-1-10 0-4-1 0-1 0-1 0-1 0-1 0-1 4 0 10-1 10 0 11-1 10-1 11 0 11-1 10 0 11-1 11-1 11 0 11-1 11 0 11-1 11-1 11 0 12-1-9 0-10-1-11-1-10 0-11-1-10 0-11-1-11-1-10 0-11-1-11 0-11-1-11-1-11 0-11-1-11 0-6-1 0-1 0-1 0-1 0-1 0-1 4 0 11-1 11-1 12 0 11-1 11 0 11-1 12-1 11 0 11-1 12 0 11-1 11-1 12 0 11-1 11 0 12-1-9-1-11 0-12-1-11 0-11-1-11-1-12 0-11-1-11 0-12-1-11-1-11 0-12-1-11 0-12-1-11-1-6-1 0-1 0-1 0-1 0-1 4-1 11 0 11-1 11 0 12-1 11-1 11 0 11-1 11 0 11-1 11-1 11 0 11-1 11 0 11-1 12-1 11 0-9-1-12 0-11-1-11-1-11 0-11-1-12 0-11-1-11-1-11 0-11-1-11 0-11-1-11-1-11 0-11-1-6-1 0-1 0-1 0-1-1-1 0 0 3-1 11 0 10-1 11-1 10 0 10-1 10 0 10-1 10-1 10 0 10-1 9 0 10-1 9-1 10 0 9-1 10 0-8-1-11-1-10 0-11-1-10 0-10-1-10-1-10 0-10-1-10 0-10-1-10-1-9 0-10-1-10 0-9-1-5-1 0-1 0-1 0-1 0-1 0 0 2-1 9-1 9 0 8-1 9 0 9-1 8-1 9 0 8-1 8 0 9-1 8-1 8 0 8-1 8 0 8-1 7-1-6 0-9-1-9 0-9-1-9-1-8 0-9-1-8 0-9-1-8-1-8 0-8-1-9 0-8-1-8-1-7 0-5-1 0-1 0-1 0-1 0-1 0-1 2 0 8-1 7 0 8-1 8-1 7 0 8-1 7 0 8-1 7-1 8 0 7-1 8 0 7-1 8-1 7 0 7-1-5 0-8-1-8-1-7 0-8-1-8 0-7-1-8-1-7 0-7-1-8 0-7-1-7-1-8 0-7-1-8 0-4-1 0-1 0-1 0-1 0-1 0-1 2 0 9-1 8-1 8 0 9-1 8 0 9-1 9-1 9 0 9-1 9 0 9-1 9-1 9 0 10-1 9 0 10-1-5-1-8 0-9-1-8 0-8-1-9-1-9 0-8-1-9 0-9-1-9-1-9 0-9-1-9 0-10-1-9-1-6-1 0-1 0-1 1-1 0-1 2-1 10 0 10-1 10 0 11-1 10-1 11 0 10-1 11 0 11-1 11-1 11 0 11-1 11 0 11-1 11-1 12 0-6-1-10 0-10-1-10-1-11 0-10-1-10 0-11-1-11-1-10 0-11-1-11 0-11-1-11-1-11 0-12-1-7 0 1-1 0-1 0-1 0-1 0-1 0 0 2-1 12 0 12-1 12-1 12 0 12-1 12 0 12-1 12-1 12 0 13-1 12 0 12-1 13-1 13 0 12-1 13 0-7-1-11-1-12 0-12-1-12 0-12-1-12-1-12 0-12-1-13 0-12-1-12-1-13 0-12-1-13 0-12-1-8-1 0-1 0-1 0-1 0-1 0 0 2-1 13-1 12 0 13-1 12 0 13-1 12-1 13 0 12-1 13 0 12-1 13-1 12 0 13-1 12 0 13-1 12-1-7 0-12-1-13 0-12-1-13-1-12 0-13-1-12 0-13-1-13-1-12 0-13-1-12 0-13-1-12-1-13 0-7-1 0 0-1-1 0-1 0-1 0-1 0-1 2 0 12-1 12 0 12-1 12-1 12 0 11-1 12 0 12-1 11-1 12 0 11-1 12 0 11-1 11-1 11 0 12-1-7 0-12-1-12-1-12 0-12-1-11 0-12-1-12-1-12 0-11-1-12 0-11-1-12-1-11 0-12-1-11 0-7-1 0-1 0-1 0-1 0-1-1-1 2 0 10-1 11-1 10 0 10-1 10 0 10-1 9-1 10 0 9-1 10 0 9-1 9-1 9 0 9-1 9 0 9-1-6-1-10 0-10-1-11 0-10-1-10-1-10 0-9-1-10 0-10-1-9-1-9 0-10-1-9 0-9-1-9-1-6-1 0-1 0-1 0-1 0-1 1-1 9 0 8-1 9 0 9-1 8-1 8 0 9-1 8 0 8-1 9-1 8 0 8-1 8 0 8-1 9-1 8 0-4-1-9 0-9-1-8-1-9 0-8-1-9 0-8-1-8-1-8 0-8-1-9 0-8-1-8-1-8 0-9-1-5-1 0-1 0-1 0-1 0-1 0 0 1-1 9 0 8-1 9-1 9 0 9-1 9 0 9-1 9-1 9 0 9-1 9 0 9-1 9-1 10 0 9-1 10 0-4-1-8-1-9 0-9-1-9 0-8-1-9-1-9 0-9-1-9 0-9-1-9-1-10 0-9-1-9 0-9-1-7-1 0-1 0-1 0-1 0-1 0 0 1-1 10-1 10 0 10-1 10 0 10-1 10-1 11 0 10-1 10 0 11-1 10-1 11 0 10-1 11 0 11-1 11-1-4 0-9-1-10 0-10-1-10-1-10 0-10-1-11 0-10-1-10-1-11 0-10-1-11 0-11-1-10-1-11 0-7-1 0-1 0-1 0-1 0-1 0-1 1 0 10-1 11 0 11-1 11-1 11 0 11-1 10 0 11-1 11-1 11 0 11-1 11 0 11-1 11-1 11 0 11-1-3 0-11-1-11-1-11 0-11-1-10 0-11-1-11-1-11 0-11-1-11 0-11-1-11-1-11 0-11-1-11 0-8-1 0-1 0-1 0-1 0-1 0-1 1 0 10-1 11-1 11 0 11-1 11 0 11-1 10-1 11 0 11-1 10 0 11-1 11-1 10 0 11-1 10 0 11-1-4-1-10 0-11-1-11 0-11-1-11-1-11 0-10-1-11 0-11-1-10-1-11 0-11-1-10 0-11-1-11-1-8-1 0-1 0-1 0-1 0-1 1-1 10 0 10-1 10 0 10-1 10-1 10 0 10-1 10 0 10-1 9-1 10 0 10-1 9 0 10-1 9-1 10 0-4-1-10 0-10-1-10-1-10 0-10-1-10 0-10-1-10-1-10 0-10-1-9 0-10-1-10-1-9 0-10-1-7-1 0-1 0-1 0-1 0-1 0-1 9 0 9-1 8-1 9 0 8-1 9 0 8-1 8-1 9 0 8-1 8 0 8-1 7-1 8 0 8-1 7 0-2-1-9-1-9 0-9-1-9 0-8-1-9-1-8 0-8-1-8 0-8-1-8-1-8 0-8-1-8 0-8-1-6-1 0-1 0-1 0-1 0-1 0-1 7-1 7 0 8-1 7 0 7-1 7-1 7 0 7-1 7 0 7-1 7-1 6 0 7-1 7 0 6-1 7-1-2 0-8-1-7 0-7-1-7-1-6 0-7-1-7 0-6-1-7-1-7 0-6-1-7 0-7-1-7-1-8 0-5-1 0-1 0-1 0-1 0-1 0-1 0 0 8-1 8 0 8-1 8-1 8 0 9-1 8 0 8-1 9-1 9 0 8-1 9 0 9-1 9-1 9 0 10-1-1 0-8-1-8-1-8 0-8-1-8 0-8-1-9-1-8 0-8-1-9 0-9-1-8-1-9 0-9-1-9 0-8-1 0-1 0-1 0-1 0-1 0 0 1-1 0 0 9-1 11-1 10 0 10-1 10 0 11-1 11-1 10 0 11-1 11 0 11-1 12-1 11 0 11-1 12 0 12-1-1-1-10 0-10-1-10 0-10-1-11-1-10 0-11-1-10 0-11-1-11-1-11 0-11-1-12 0-11-1-12-1-9-1 0-1 0-1 0-1 0-1 0-1 12 0 13-1 12 0 13-1 12-1 13 0 13-1 13 0 13-1 13-1 14 0 13-1 14 0 13-1 14-1 14 0-1-1-12 0-12-1-13-1-12 0-13-1-13 0-12-1-13-1-13 0-14-1-13 0-13-1-14-1-13 0-14-1-12-1 0-1 0 0 1-1 0-1 0-1 0-1 13 0 14-1 14-1 15 0 14-1 14 0 14-1 15-1 14 0 15-1 14 0 15-1 15-1 14 0 15-1 15 0-1-1-14-1-14 0-14-1-14 0-14-1-15-1-14 0-14-1-15 0-14-1-15-1-14 0-15-1-15 0-15-1-12-1 0-1 0 0-1-1 0-1 0-1 0-1 14-1 14 0 15-1 14 0 15-1 14-1 14 0 15-1 14 0 14-1 14-1 14 0 15-1 14 0 14-1 14-1-1 0-15-1-14 0-15-1-14-1-15 0-14-1-14 0-15-1-14-1-14 0-14-1-15 0-14-1-14-1-14 0-12-1 0-1-1-1 0-1 0-1 0-1 0 0 12-1 13 0 13-1 13-1 12 0 13-1 12 0 12-1 12-1 12 0 12-1 11 0 12-1 11-1 11 0 11-1-2 0-13-1-13-1-13 0-13-1-13 0-12-1-13-1-12 0-12-1-12 0-12-1-11-1-12 0-11-1-11 0-10-1 0-1-1-1 0-1 0-1 0-1 0 0 8-1 10-1 9 0 9-1 9 0 8-1 9-1 8 0 8-1 8 0 8-1 7-1 7 0 8-1 6 0 7-1-2-1-9 0-10-1-9 0-9-1-9-1-9 0-9-1-8 0-8-1-8-1-7 0-8-1-7 0-7-1-7-1-7-1 0-1 0-1 0-1 0-1 0-1 7 0 7-1 7 0 7-1 7-1 7 0 7-1 7 0 7-1 7-1 7 0 8-1 7 0 7-1 7-1 7-1-7 0-7-1-7-1-7 0-8-1-7 0-7-1-7-1-6 0-7-1-7 0-7-1-7-1-7 0-8-1-6-1 0-1 0-1 0-1 0-1 0-1 7 0 8-1 8-1 8 0 8-1 8 0 9-1 8-1 9 0 8-1 9 0 9-1 9-1 9 0 9-1 9 0 1-1-8-1-7 0-8-1-9 0-8-1-8-1-8 0-9-1-8 0-9-1-9-1-9 0-8-1-9 0-9-1-9-1 0-1 0-1 0-1 0-1 0-1 8-1 9 0 9-1 9 0 8-1 9-1 9 0 9-1 9 0 9-1 9-1 9 0 8-1 9 0 9-1 9-1 1 0-9-1-9 0-9-1-8-1-9 0-9-1-9 0-9-1-9-1-9 0-9-1-8 0-9-1-9-1-9 0-9-1 0-1 0-1 0-1 0-1 0-1 0 0 8-1 9 0 8-1 9-1 9 0 9-1 9 0 8-1 9-1 9 0 9-1 9 0 8-1 9-1 9 0 9-1 1 0-9-1-9-1-9 0-8-1-9 0-9-1-9-1-9 0-8-1-9 0-9-1-9-1-9 0-8-1-9 0-9-1 0-1 0-1 0-1 0-1 0-1 0 0 7-1 9-1 8 0 9-1 8 0 9-1 8-1 8 0 9-1 8 0 8-1 8-1 9 0 8-1 8 0 8-1 1-1-8 0-9-1-8 0-9-1-8-1-9 0-8-1-9 0-8-1-8-1-9 0-8-1-8 0-8-1-9-1-8-1 0-1 0-1 0-1 0-1 0-1 6 0 8-1 8 0 7-1 8-1 7 0 8-1 7 0 8-1 7-1 7 0 8-1 7 0 7-1 7-1 7 0 1-1-7 0-8-1-8-1-8 0-7-1-8 0-7-1-8-1-7 0-8-1-7 0-7-1-7-1-8 0-7-1-7-1 0-1 0-1 0-1 0-1 0-1 5 0 7-1 6-1 7 0 6-1 6 0 7-1 6-1 6 0 6-1 6 0 6-1 6-1 6 0 6-1 6 0 1-1-7-1-7 0-6-1-7 0-6-1-7-1-6 0-6-1-6 0-6-1-6-1-6 0-6-1-6 0-6-1-6-1 0-1 0-1 0-1 0-1 0-1 5-1 7 0 6-1 6 0 7-1 7-1 6 0 7-1 7 0 6-1 7-1 7 0 7-1 7 0 7-1 7-1 3 0-7-1-6 0-7-1-6-1-7 0-6-1-7 0-6-1-7-1-7 0-7-1-6 0-7-1-7-1-7 0-7-1 0-1 0-1 0-1 0-1 0-1 1 0 6-1 9 0 9-1 9-1 9 0 10-1 9 0 10-1 11-1 10 0 11-1 10 0 11-1 12-1 11 0 12-1 5 0-8-1-9-1-9 0-9-1-9 0-9-1-10-1-10 0-10-1-10 0-10-1-11-1-11 0-11-1-12 0-11-1-1-1 0-1 1-1 0-1 0-1 0 0 10-1 13-1 14 0 13-1 14 0 14-1 15-1 14 0 15-1 15 0 15-1 16-1 15 0 16-1 16 0 17-1 7-1-13 0-13-1-14 0-13-1-14-1-14 0-14-1-15 0-14-1-15-1-15 0-16-1-15 0-16-1-16-1-16 0-1-1 0-1 0-1 0-1 0 0 1-1 0-1 12 0 18-1 18 0 18-1 18-1 18 0 19-1 19 0 19-1 19-1 19 0 20-1 19 0 20-1 20-1 21 0 9-1-18 0-17-1-18-1-18 0-18-1-18 0-18-1-18-1-19 0-18-1-19 0-19-1-20-1-20 0-20-1-21 0-2-1 0-1 1-1 0-1 1-1 0 0 1-1 17 0 25-1 26-1 27 0 28-1 29 0 30-1 30-1 32 0 32-1 34 0 34-1 15-1 0-1 0-1 0-1 0-1 0-1 0-1-20 0-29-1-30 0-32-1-33-1-34 0-36-1-38 0-39-1-40-1-4-1 1 0 1-1 1-1 1 0 1-1 1 0 1-1 35-1 51 0 53-1 54 0 53-1 53-1 29-1 0-1 0-1 0-1 0-1 0-1 0-1 0-1 0-1 0-1 0-1 0-1-4 0-52-1-52 0-53-1-52-1-52 0-52-1-7-1 0-1 0-1 0-1 0-1 0 0 35-1 52 0 52-1 52-1 52 0 53-1 28-1 0-1 0-1 0-1 0-1 0-1 0-1 0-1 0-1 0-1 0-1 0-1-3 0-52-1-52-1-53 0-52-1-52 0-52-1-8-1 0-1 0-1 0-1 0-1 0 0 34-1 52-1 52 0 52-1 53 0 52-1 29-1 0-1 0-1 0-1 0-1 0-1 0-1 0-1 0-1 0-1 0-1 0-1-2-1-52 0-53-1-52 0-52-1-52-1-52 0-9-1 0-1 0-1 0-1 0-1 0-1 33 0 52-1 52 0 53-1 52-1 52 0 30-1 0-1 0-1 0-1 0-1 0-1 0-1 0-1 0-1 0-1 0-1 0-1 0 0-1-1-53 0-52-1-52-1-52 0-52-1-52 0-10-1 0-1 0-1 0-1 0-1 0-1 32 0 52-1 53-1 52 0 52-1 52 0 31-1 0-1 0-1 0-1 0-1 0-1 0-1 0-1 0-1 0-1 0-1 0-1 0 0-1-1-52-1-52 0-52-1-52 0-52-1-53-1-10-1 0-1 0-1 0-1 0-1 31-1 52 0 53-1 52 0 52-1 52-1 32-1 0-1 0-1 0-1 0-1 0-1 0-1 0-1 0-1 0-1 0-1 0-1 0 0-52-1-52 0-52-1-52-1-53 0-52-1-11-1 0-1 0-1 0z" fill="#ff1c1c"/>
<path d="M209 41l1 0 0 1 1 43 1 44 0 44 1 44 0 44 1 43 1 44 0 17 1 0 1-29 1-44 0-44 1-44 0-43 1-44 1-44 0-32 1 0 1 0 1 0 1 0 1 0 1 0 1 0 1 0 1 0 1 0 1 0 1 0 1 0 1 0 1 0 0 44 1 44 0 43 1 44 1 44 0 44 1 43 0 18 1 0 1 0 0-29 1-43 0-44 1-44 1-44 0-43 1-44 0-33 1 0 1 0 1 0 1 0 1 0 1 0 1 0 1 0 1 0 1 0 1 0 1 0 1 0 1 0 1 0 0 43 1 44 1 44 0 43 1 44 0 44 1 44 1 18 1 0 0-28 1-44 1-43 0-44 1-44 0-44 1-43 1-34 1 0 1 0 1 0 1 0 1 0 1 0 1 0 1 0 1 0 1 0 1 0 1 0 1 0 1 0 1 42 0 44 1 44 0 44 1 43 1 44 0 44 1 19 1 0 1-27 0-44 1-44 0-43 1-44 1-44 0-44 1-34 1 0 1 0 1 0 1 0 1 0 1 0 1 0 1 0 1 0 1 0 1 0 1 0 1 0 1 0 1 42 0 43 1 44 1 44 0 44 1 43 0 44 1 20 1 0 1-26 0-44 1-44 1-44 0-43 1-44 0-44 1-35 1 0 1 0 1 0 1 0 1 0 1 0 1 0 1 0 1 0 1 0 1 0 1 0 1 0 1 0 1 41 1 44 0 43 1 44 0 44 1 44 1 43 0 21 1 0 1-26 1-43 0-44 1-44 0-44 1-43 1-44 0-36 1 0 1 0 1 0 1 0 1 0 1 0 1 0 1 0 1 0 1 0 1 0 1 0 1 0 1 0 1 0 0 40 1 44 0 44 1 44 1 43 0 45 1 43 0 22 1 1 1 1 0-23 1-40 0-38 1-37 1-36 0-34 1-33 0-32 1-31 1-23 1 0 1 0 1 0 1 0 1 0 1 0 1 0 1 0 1 0 1 17 0 31 1 31 1 30 0 29 1 29 0 28 1 26 1 27 0 25 1 25 0 24 1 23 1 12 1 0 0-11 1-19 1-19 0-19 1-18 0-17 1-17 1-16 0-16 1-15 0-14 1-14 1-13 0-12 1-13 0-12 1-12 1-12 0-13 1-13 0 18 1 17 1 17 0 17 1 16 0 17 1 16 1 16 0 16 1 16 0 15 1 16 1 15 0 15 1 15 0 14 1 15 1 14 0 14 1 7 0 1 1 0 1-7 0-13 1-13 0-12 1-13 1-12 0-12 1-11 0-12 1-11 1-11 0-11 1-10 0-11 1-10 1-10 0-10 1-9 0-10 1-9 1 13 0 13 1 13 0 12 1 12 1 13 0 12 1 11 0 12 1 11 1 11 0 12 1 10 0 11 1 11 1 10 0 10 1 10 0 10 1 5 1 1 1-5 0-9 1-9 1-8 0-9 1-8 0-8 1-8 1-8 0-8 1-7 0-7 1-7 1-7 0-7 1-7 0-6 1-6 1-6 0-6 1 9 0 8 1 9 1 9 0 8 1 8 0 8 1 8 1 8 0 8 1 8 0 7 1 7 1 7 0 8 1 6 0 7 1 7 1 7 0 3 1 0 1-3 1-6 0-5 1-6 0-6 1-5 1-5 0-5 1-5 0-5 1-5 1-5 0-4 1-4 0-5 1-4 1-4 0-4 1-4 0-5 1 5 1 4 0 5 1 5 0 4 1 5 1 5 0 5 1 5 0 4 1 5 1 5 0 5 1 5 0 6 1 5 1 5 0 5 1 5 0 3 1 0 1 0 0-2 1-6 0-5 1-6 1-6 0-5 1-6 0-6 1-6 1-5 0-6 1-6 0-6 1-6 1-6 0-6 1-7 0-6 1-6 1-6 0 5 1 5 0 6 1 5 1 6 0 6 1 6 0 5 1 6 1 6 0 6 1 6 0 6 1 6 1 6 0 6 1 6 0 6 1 6 1 3 1 0 0-3 1-6 1-6 0-6 1-7 0-6 1-6 1-7 0-6 1-7 0-6 1-7 1-6 0-7 1-7 0-6 1-7 1-7 0-6 1-7 0 5 1 6 1 7 0 6 1 6 0 7 1 6 1 6 0 7 1 6 0 7 1 6 1 7 0 6 1 7 0 6 1 7 1 7 0 6 1 4 1 0 1-3 0-7 1-6 0-7 1-7 1-7 0-7 1-7 0-8 1-7 1-7 0-7 1-7 0-7 1-8 1-7 0-7 1-8 0-7 1-7 1 5 0 7 1 7 0 7 1 7 1 7 0 7 1 8 0 7 1 7 1 7 0 7 1 7 0 7 1 7 1 8 0 7 1 7 0 7 1 5 1 0 1-3 0-8 1-7 1-7 0-8 1-7 0-7 1-8 1-7 0-8 1-7 0-8 1-7 1-7 0-8 1-7 0-8 1-7 1-8 0-7 1 5 0 8 1 7 1 7 0 8 1 7 0 7 1 8 1 7 0 8 1 7 0 7 1 8 1 7 0 8 1 7 0 8 1 7 1 8 0 4 1 0 1-3 1-7 0-8 1-7 0-8 1-7 1-8 0-8 1-7 0-8 1-7 1-8 0-8 1-7 0-8 1-8 1-7 0-8 1-7 0-8 1 6 1 8 0 7 1 8 0 8 1 7 1 8 0 8 1 7 0 8 1 7 1 8 0 7 1 8 0 8 1 7 1 8 0 7 1 8 0 4 1 0 1 0 0-3 1-7 0-7 1-8 1-7 0-8 1-7 0-7 1-8 1-7 0-7 1-8 0-7 1-7 1-7 0-8 1-7 0-7 1-7 1-8 0 6 1 7 0 8 1 7 1 8 0 7 1 8 0 7 1 8 1 7 0 7 1 8 0 7 1 7 1 8 0 7 1 7 0 7 1 7 1 5 1 0 0-3 1-7 1-7 0-6 1-7 0-7 1-7 1-7 0-6 1-7 0-7 1-7 1-6 0-7 1-6 0-7 1-6 1-7 0-6 1-7 0 5 1 7 1 7 0 7 1 6 0 7 1 6 1 6 0 6 1 6 0 6 1 7 1 6 0 7 1 7 0 7 1 7 1 7 0 7 1 5 1 0 1-3 0-8 1-8 0-8 1-8 1-9 0-8 1-9 0-9 1-9 1-9 0-9 1-9 0-10 1-9 1-10 0-10 1-10 0-10 1-10 1 4 0 8 1 8 0 8 1 8 1 8 0 9 1 8 0 9 1 9 1 9 0 9 1 9 0 9 1 10 1 10 0 9 1 10 0 10 1 7 1 0 1-4 0-10 1-11 1-11 0-11 1-11 0-12 1-11 1-12 0-12 1-11 0-12 1-12 1-13 0-12 1-12 0-12 1-11 1-12 0-12 1 6 0 12 1 11 1 11 0 11 1 12 0 11 1 11 1 12 0 11 1 12 0 11 1 12 1 11 0 12 1 12 0 12 1 11 1 12 0 9 1 0 1-4 1-12 0-13 1-12 0-12 1-12 1-12 0-13 1-12 0-13 1-12 1-13 0-12 1-13 0-12 1-13 1-12 0-13 1-12 0-12 1 7 1 13 0 12 1 13 0 12 1 12 1 13 0 12 1 12 0 13 1 12 1 12 0 13 1 12 0 12 1 13 1 12 0 12 1 12 0 9 1 0 1 0 0-4 1-12 0-12 1-12 1-12 0-13 1-12 0-12 1-12 1-12 0-12 1-12 0-13 1-12 1-12 0-12 1-12 0-11 1-12 1-12 0 8 1 12 0 13 1 13 1 12 0 12 1 13 0 12 1 12 1 12 0 12 1 12 0 12 1 12 1 12 0 12 1 12 0 11 1 12 1 9 1 0 0-4 1-11 1-11 0-11 1-12 0-11 1-11 1-11 0-10 1-11 0-11 1-11 1-10 0-11 1-10 0-11 1-10 1-10 0-11 1-10 0 7 1 11 1 12 0 11 1 12 0 11 1 11 1 11 0 11 1 11 0 11 1 11 1 11 0 10 1 11 0 10 1 10 1 10 0 10 1 8 1 0 1-3 0-9 1-10 0-9 1-9 1-9 0-9 1-9 0-9 1-9 1-8 0-9 1-8 0-9 1-8 1-8 0-8 1-8 0-8 1-7 1 5 0 10 1 9 0 10 1 9 1 9 0 9 1 9 0 9 1 9 1 9 0 9 1 8 0 8 1 9 1 8 0 8 1 8 0 8 1 6 1 0 1-2 0-7 1-7 1-7 0-8 1-6 0-7 1-7 1-7 0-6 1-7 0-6 1-6 1-6 0-6 1-6 0-6 1-6 1-5 0-6 1 4 0 7 1 6 1 7 0 6 1 7 0 6 1 7 1 6 0 7 1 6 0 7 1 6 1 7 0 6 1 6 0 7 1 6 1 7 0 5 1 0 1-2 1-6 0-7 1-6 0-6 1-7 1-6 0-7 1-6 0-7 1-6 1-7 0-6 1-7 0-6 1-6 1-7 0-6 1-7 0-6 1 2 1 7 0 6 1 6 0 6 1 6 1 6 0 6 1 6 0 6 1 6 1 7 0 6 1 7 0 7 1 6 1 7 0 7 1 7 0 6 1 0 1 0 0-2 1-8 0-7 1-8 1-7 0-8 1-8 0-8 1-8 1-8 0-8 1-9 0-8 1-8 1-8 0-9 1-8 0-8 1-9 1-8 0 3 1 7 0 8 1 8 1 7 0 8 1 8 0 8 1 8 1 8 0 8 1 8 0 8 1 8 1 8 0 8 1 9 0 8 1 8 1 7 1 0 0-2 1-8 1-9 0-9 1-8 0-9 1-8 1-9 0-9 1-9 0-9 1-9 1-8 0-9 1-9 0-9 1-9 1-9 0-9 1-9 0 3 1 8 1 9 0 8 1 9 0 9 1 8 1 9 0 9 1 9 0 8 1 9 1 9 0 9 1 9 0 9 1 8 1 9 0 9 1 8 1 0 1-2 0-9 1-9 0-9 1-9 1-10 0-9 1-9 0-9 1-10 1-9 0-9 1-10 0-9 1-9 1-10 0-9 1-10 0-9 1-10 1 3 0 10 1 9 0 9 1 9 1 10 0 9 1 9 0 10 1 9 1 9 0 10 1 9 0 9 1 9 1 10 0 9 1 9 0 10 1 8 1 0 1-2 0-9 1-10 1-9 0-9 1-10 0-9 1-9 1-9 0-10 1-9 0-9 1-10 1-9 0-9 1-10 0-9 1-9 1-9 0-10 1 3 0 10 1 10 1 9 0 10 1 9 0 10 1 9 1 10 0 9 1 10 0 9 1 9 1 9 0 10 1 9 0 9 1 9 1 9 0 7 1 0 0 1 1-2 1-9 0-8 1-9 0-8 1-9 1-8 0-8 1-9 0-8 1-8 1-8 0-8 1-8 0-8 1-8 1-8 0-8 1-8 0-8 1 3 1 9 0 8 1 9 0 8 1 9 1 8 0 9 1 8 0 8 1 8 1 9 0 8 1 8 0 8 1 8 1 8 0 8 1 8 0 7 1 0 1 0 0-1 1-8 0-7 1-8 1-8 0-7 1-8 0-7 1-7 1-8 0-7 1-7 0-7 1-8 1-7 0-7 1-7 0-7 1-7 1-7 0 2 1 8 0 7 1 7 1 8 0 7 1 7 0 7 1 8 1 7 0 7 1 8 0 7 1 7 1 8 0 7 1 7 0 7 1 8 1 7 1 0 0-1 1-8 1-7 0-8 1-7 0-7 1-8 1-7 0-7 1-8 0-7 1-8 1-7 0-8 1-7 0-7 1-8 1-8 0-7 1-9 0 1 1 7 1 7 0 7 1 6 0 7 1 8 1 7 0 7 1 7 0 8 1 7 1 8 0 8 1 7 0 8 1 8 1 8 0 8 1 8 1 0 1-1 0-9 1-8 0-9 1-9 1-9 0-9 1-9 0-9 1-9 1-10 0-9 1-10 0-9 1-10 1-10 0-10 1-10 0-10 1-10 1 1 0 9 1 9 0 9 1 9 1 9 0 9 1 9 0 9 1 9 1 10 0 9 1 9 0 10 1 9 1 10 0 9 1 10 0 10 1 9 1 0 1-1 0-10 1-10 1-10 0-10 1-10 0-10 1-11 1-10 0-10 1-10 0-11 1-10 1-11 0-10 1-11 0-11 1-10 1-11 0-11 1 1 0 10 1 10 1 10 0 11 1 10 0 10 1 10 1 11 0 10 1 10 0 11 1 10 1 10 0 11 1 10 0 11 1 10 1 11 0 10 1 0 1-1 1-11 0-10 1-11 0-10 1-11 1-11 0-10 1-11 0-11 1-11 1-10 0-11 1-11 0-11 1-11 1-11 0-10 1-11 0-11 1 1 1 11 0 11 1 11 0 11 1 11 1 10 0 11 1 11 0 11 1 10 1 11 0 11 1 10 0 11 1 11 1 10 0 11 1 10 0 11 1 0 1 0 0-1 1-10 0-11 1-10 1-11 0-10 1-10 0-11 1-10 1-10 0-11 1-10 0-10 1-11 1-10 0-10 1-10 0-10 1-10 1-10 0 2 1 10 0 11 1 11 1 10 0 11 1 10 0 11 1 10 1 10 0 11 1 10 0 10 1 10 1 10 0 10 1 10 0 10 1 10 1 10 1 0 1-10 1-10 0-9 1-9 0-10 1-9 1-9 0-10 1-9 0-9 1-9 1-9 0-9 1-9 0-9 1-9 1-8 0-9 1-8 0 1 1 9 1 10 0 10 1 9 0 10 1 10 1 9 0 9 1 9 0 10 1 9 1 9 0 9 1 9 0 8 1 9 1 9 0 8 1 9 1 0 1 0 0-8 1-8 0-9 1-7 1-8 0-8 1-8 0-8 1-7 1-8 0-7 1-8 0-7 1-7 1-7 0-7 1-7 0-7 1-7 1 1 0 8 1 8 0 8 1 8 1 8 0 8 1 8 0 8 1 7 1 8 0 7 1 8 0 7 1 8 1 7 0 7 1 7 0 7 1 7 1 0 1 0 0-6 1-7 1-7 0-6 1-6 0-7 1-6 1-6 0-6 1-6 0-6 1-6 1-6 0-6 1-6 0-5 1-6 1-7 0-6 1-1 0 6 1 6 1 5 0 6 1 6 0 6 1 6 1 6 0 6 1 7 0 6 1 6 1 7 0 6 1 7 0 6 1 7 1 6 0 7 1 0 1 0 1-7 0-7 1-7 0-7 1-7 1-7 0-8 1-7 0-7 1-8 1-7 0-8 1-7 0-8 1-8 1-8 0-8 1-8 0-8 1-1 1 7 0 7 1 7 0 7 1 7 1 7 0 7 1 8 0 7 1 7 1 8 0 7 1 8 0 8 1 7 1 8 0 8 1 8 0 8 1 0 1 0 1-8 0-8 1-9 1-8 0-9 1-8 0-9 1-9 1-8 0-9 1-9 0-9 1-9 1-9 0-9 1-10 0-9 1-9 1-9 0-2 1 9 0 8 1 9 1 8 0 9 1 8 0 9 1 9 1 8 0 9 1 9 0 9 1 9 1 9 0 9 1 9 0 9 1 9 1 9 0 1 1 0 1-9 1-10 0-9 1-10 0-9 1-10 1-9 0-10 1-10 0-9 1-10 1-10 0-10 1-10 0-10 1-10 1-10 0-10 1-10 0-1 1 9 1 10 0 10 1 9 0 10 1 10 1 9 0 10 1 10 0 9 1 10 1 10 0 9 1 10 0 10 1 10 1 9 0 10 1 10 0 1 1 0 1 0 0-9 1-10 0-10 1-10 1-10 0-10 1-10 0-10 1-10 1-10 0-10 1-10 0-10 1-10 1-10 0-10 1-10 0-10 1-10 1-1 0 9 1 10 0 10 1 11 1 10 0 10 1 10 0 10 1 10 1 10 0 10 1 10 0 10 1 10 1 10 0 10 1 10 0 9 1 10 1 1 1 0 0-9 1-9 1-10 0-9 1-10 0-9 1-9 1-10 0-9 1-9 0-9 1-10 1-9 0-9 1-9 0-9 1-9 1-8 0-9 1-1 0 9 1 10 1 10 0 9 1 10 0 10 1 9 1 9 0 10 1 9 0 9 1 9 1 9 0 9 1 9 0 9 1 9 1 9 0 9 1 1 1 0 1-8 0-8 1-9 0-8 1-8 1-8 0-8 1-8 0-8 1-8 1-8 0-8 1-8 0-7 1-8 1-8 0-7 1-7 0-8 1-1 1 9 0 8 1 8 0 9 1 8 1 8 0 9 1 8 0 8 1 8 1 8 0 8 1 7 0 8 1 8 1 7 0 8 1 7 0 8 1 1 1 0 1-7 0-7 1-7 1-7 0-6 1-7 0-7 1-6 1-7 0-7 1-6 0-6 1-7 1-6 0-6 1-7 0-7 1-6 1-8 0-2 1 6 0 6 1 7 1 6 0 6 1 7 0 6 1 7 1 7 0 6 1 7 0 7 1 7 1 7 0 7 1 7 0 7 1 7 1 7 0 2 1 0 0-1 1-6 1-8 0-7 1-8 0-8 1-8 1-8 0-7 1-8 0-9 1-8 1-8 0-8 1-8 0-9 1-8 1-8 0-9 1-8 0-3 1 7 1 8 0 7 1 8 0 8 1 7 1 8 0 8 1 8 0 8 1 8 1 8 0 8 1 9 0 8 1 8 1 8 0 9 1 8 0 2 1 0 1 0 0-8 1-9 0-8 1-9 1-9 0-9 1-9 0-9 1-9 1-9 0-9 1-10 0-9 1-9 1-10 0-9 1-10 0-9 1-10 1-3 0 8 1 9 0 9 1 9 1 9 0 8 1 9 0 9 1 9 1 9 0 10 1 9 0 9 1 9 1 10 0 9 1 9 0 10 1 9 1 2 1 0 0-8 1-10 1-10 0-10 1-9 0-10 1-10 1-11 0-10 1-10 0-10 1-10 1-11 0-10 1-10 0-11 1-10 1-11 0-10 1-4 0 10 1 10 1 10 0 10 1 10 0 10 1 10 1 10 0 10 1 11 0 10 1 10 1 10 0 10 1 10 0 11 1 10 1 10 0 10 1 2 1 0 1-8 0-10 1-11 0-10 1-10 1-10 0-11 1-10 0-10 1-10 1-11 0-10 1-10 0-10 1-11 1-10 0-10 1-10 0-11 1-4 1 11 0 10 1 11 0 10 1 11 1 10 0 11 1 10 0 11 1 10 1 10 0 10 1 11 0 10 1 10 1 10 0 10 1 10 0 10 1 2 1 0 1-8 0-9 1-10 1-9 0-10 1-9 0-10 1-9 1-9 0-9 1-10 0-9 1-9 1-9 0-9 1-8 0-9 1-9 1-9 0-4 1 10 0 9 1 10 1 9 0 10 1 9 0 187-1-8 0-8-1-9-1-8 0-7-1 0-1 2-1 9 0 9-1 8 0 9-1 9-1 9 0 9-1 9 0 9-1 9-1 9 0 9-1 10 0 9-1 9-1 9 0 10-1 9 0 10-1-4-1-8 0-9-1-9 0-8-1-9-1-9 0-9-1-9 0-9-1-9-1-9 0-9-1-9 0-10-1-9-1-9 0-9-1-10 0-8-1 0-1 0 0 3-1 9 0 10-1 10-1 9 0 10-1 10 0 10-1 10-1 10 0 10-1 10 0 10-1 10-1 10 0 9-1 10 0 10-1 9-1 10 0-4-1-10 0-10-1-9-1-10 0-10-1-10 0-10-1-10-1-10 0-9-1-10 0-10-1-10-1-9 0-10-1-10 0-10-1-9-1-8-1 0 0 2-1 9-1 10 0 9-1 10 0 10-1 9-1 10 0 9-1 10 0 9-1 10-1 9 0 10-1 9 0 9-1 9-1 9 0 9-1 9 0-4-1-9-1-10 0-10-1-10 0-10-1-9-1-10 0-9-1-10 0-9-1-10-1-9 0-9-1-9 0-10-1-9-1-9 0-9-1-8-1 0-1 2 0 9-1 9 0 8-1 9-1 8 0 9-1 8 0 9-1 8-1 8 0 8-1 9 0 8-1 8-1 8 0 8-1 7 0 8-1 8-1-3 0-9-1-9 0-9-1-9-1-8 0-9-1-9 0-8-1-9-1-8 0-8-1-8 0-8-1-8-1-8 0-8-1-8 0-8-1-6-1-1-1 2 0 7-1 7-1 8 0 7-1 7 0 7-1 7-1 6 0 7-1 7 0 6-1 7-1 6 0 7-1 6 0 6-1 7-1 6 0 6-1-3 0-7-1-7-1-6 0-7-1-7 0-6-1-7-1-7 0-7-1-6 0-7-1-7-1-6 0-7-1-7 0-6-1-7-1-7 0-6-1 0-1 1-1 7 0 7-1 6 0 7-1 7-1 6 0 7-1 7 0 7-1 6-1 7 0 7-1 6 0 7-1 7-1 6 0 7-1 7 0 7-1-2-1-6 0-7-1-6 0-6-1-7-1-6 0-6-1-7 0-6-1-7-1-6 0-7-1-7 0-7-1-7-1-7 0-7-1-7 0-7-1 0-1 0 0 2-1 7 0 8-1 8-1 8 0 7-1 8 0 9-1 8-1 8 0 8-1 9 0 8-1 9-1 9 0 8-1 9 0 9-1 9-1 9 0-1-1-8 0-8-1-8-1-8 0-8-1-8 0-8-1-8-1-8 0-9-1-8 0-8-1-9-1-8 0-9-1-8 0-9-1-9-1-8-1 0 0 2-1 8-1 9 0 9-1 10 0 9-1 9-1 9 0 9-1 10 0 9-1 9-1 10 0 9-1 10 0 9-1 10-1 10 0 9-1 10 0-1-1-9-1-9 0-9-1-10 0-9-1-9-1-10 0-9-1-9 0-10-1-9-1-9 0-10-1-9 0-10-1-9-1-9 0-10-1-9-1 0-1 1 0 10-1 9 0 10-1 9-1 10 0 9-1 10 0 9-1 10-1 10 0 9-1 10 0 9-1 10-1 9 0 10-1 10 0 9-1 10-1-2 0-9-1-10 0-10-1-9-1-10 0-9-1-10 0-10-1-9-1-10 0-9-1-10 0-9-1-10-1-9 0-10-1-9 0-10-1-9-1 0-1 1 0 10-1 9-1 9 0 10-1 9 0 9-1 10-1 9 0 9-1 9 0 10-1 9-1 9 0 9-1 9 0 10-1 9-1 9 0 9-1-1 0-10-1-10-1-9 0-10-1-10 0-9-1-10-1-9 0-10-1-9 0-9-1-9-1-9 0-10-1-9 0-9-1-8-1-9 0-9-1 0-1 1-1 8 0 9-1 8 0 8-1 9-1 8 0 8-1 8 0 8-1 8-1 8 0 8-1 8 0 7-1 8-1 8 0 7-1 8 0 7-1-1-1-9 0-8-1-9 0-8-1-8-1-9 0-8-1-8 0-8-1-8-1-8 0-8-1-8 0-8-1-7-1-8 0-8-1-7 0-8-1 0-1 0 0 1-1 7 0 7-1 7-1 7 0 7-1 7 0 7-1 7-1 6 0 7-1 7 0 6-1 7-1 6 0 6-1 7 0 6-1 6-1 6-1-7 0-7-1-7-1-7 0-7-1-7 0-7-1-6-1-7 0-7-1-6 0-7-1-7-1-6 0-7-1-6 0-7-1-7-1-6-1 0-1 7-1 6 0 6-1 7 0 6-1 6-1 6 0 7-1 6 0 6-1 6-1 6 0 6-1 7 0 6-1 6-1 6 0 7-1 6 0 1-1-6-1-6 0-5-1-6 0-6-1-6-1-6 0-6-1-6 0-6-1-7-1-6 0-7-1-6 0-7-1-7-1-6 0-7-1-7-1 0-1 0 0 7-1 8 0 7-1 7-1 8 0 8-1 7 0 8-1 8-1 8 0 8-1 8 0 8-1 8-1 8 0 9-1 8 0 8-1 9-1 1 0-7-1-7 0-8-1-7-1-8 0-7-1-8 0-7-1-8-1-8 0-8-1-8 0-8-1-8-1-8 0-8-1-9 0-8-1-9-1 0-1 0 0 9-1 9-1 9 0 9-1 9 0 9-1 9-1 9 0 10-1 9 0 10-1 9-1 10 0 10-1 10 0 9-1 10-1 10 0 10-1 2 0-9-1-9-1-9 0-9-1-9 0-9-1-9-1-10 0-9-1-9 0-10-1-9-1-10 0-9-1-10 0-10-1-10-1-9 0-10-1-1-1 0-1 10 0 10-1 11 0 10-1 10-1 10 0 11-1 10 0 11-1 10-1 11 0 11-1 10 0 11-1 11-1 11 0 11-1 10 0 11-1 1-1-10 0-11-1-10 0-11-1-10-1-11 0-10-1-11 0-10-1-11-1-10 0-11-1-10 0-11-1-10-1-11 0-10-1-11 0-10-1-1-1 0-1 10 0 11-1 10-1 11 0 10-1 11 0 10-1 11-1 10 0 11-1 10 0 11-1 10-1 11 0 10-1 10 0 11-1 10-1 10 0 1-1-11 0-11-1-11-1-10 0-11-1-11 0-10-1-11-1-10 0-11-1-10 0-11-1-10-1-10 0-10-1-11 0-10-1-10-1-10 0-1-1 0-1 10-1 9 0 10-1 10 0 10-1 9-1 10 0 9-1 10 0 9-1 10-1 9 0 10-1 9 0 9-1 9-1 9 0 9-1 9 0 1-1-11-1-10 0-10-1-10 0-10-1-10-1-10 0-9-1-10 0-9-1-10-1-9 0-9-1-10 0-9-1-9-1-8 0-9-1-9 0-1-1 0-1 0 0 8-1 8 0 8-1 8-1 8 0 8-1 8 0 8-1 7-1 8 0 7-1 8 0 7-1 7-1 7 0 7-1 7 0 7-1 7-1 0 0-8-1-8 0-8-1-8-1-8 0-8-1-7 0-8-1-7-1-8 0-7-1-8 0-7-1-8-1-7 0-7-1-8 0-7-1-7-1-1-1 0 0 7-1 7-1 7 0 7-1 7 0 7-1 7-1 6 0 7-1 7 0 7-1 7-1 6 0 7-1 7 0 7-1 7-1 7 0 7-1 2 0-7-1-7-1-6 0-7-1-7 0-6-1-7-1-7 0-7-1-7 0-7-1-7-1-7 0-7-1-7 0-7-1-7-1-7 0-8-1-1-1 0-1 7 0 8-1 7 0 8-1 7-1 8 0 8-1 7 0 8-1 8-1 8 0 8-1 8 0 8-1 8-1 8 0 8-1 8 0 8-1 2-1-7 0-7-1-8 0-7-1-8-1-7 0-8-1-7 0-8-1-8-1-8 0-7-1-8 0-8-1-8-1-8 0-9-1-8 0-8-1-1-1 0-1 7 0 9-1 9-1 8 0 9-1 9 0 8-1 9-1 9 0 9-1 9 0 9-1 10-1 9 0 9-1 9 0 9-1 10-1 9 0 2-1-8 0-9-1-9-1-9 0-8-1-9 0-9-1-9-1-9 0-9-1-9 0-9-1-9-1-9 0-9-1-9 0-9-1-9-1-9 0-1-1 0-1 8-1 9 0 9-1 9 0 9-1 10-1 9 0 9-1 9 0 10-1 9-1 9 0 9-1 10 0 9-1 9-1 10 0 9-1 10 0 3-1-10-1-9 0-9-1-10 0-9-1-9-1-10 0-9-1-9 0-10-1-9-1-9 0-9-1-10 0-9-1-9-1-9 0-9-1-9 0-2-1 0-1 0 0 8-1 9 0 9-1 9-1 9 0 9-1 9 0 8-1 9-1 9 0 9-1 9 0 9-1 9-1 9 0 8-1 9 0 9-1 9-1 3 0-10-1-9 0-9-1-9-1-9 0-9-1-9 0-10-1-9-1-9 0-8-1-9 0-9-1-9-1-9 0-8-1-9 0-9-1-8-1-2-1 0 0 7-1 8-1 9 0 8-1 8 0 8-1 8-1 8 0 9-1 8 0 8-1 7-1 8 0 8-1 8 0 8-1 7-1 8 0 8-1 2 0-8-1-9-1-8 0-9-1-8 0-8-1-9-1-8 0-8-1-8 0-8-1-8-1-8 0-8-1-8 0-7-1-8-1-8 0-7-1-2-1 0-1 6 0 7-1 7 0 7-1 7-1 7 0 6-1 7 0 7-1 6-1 7 0 6-1 6 0 6-1 7-1 6 0 6-1 6 0 6-1 3-1-7 0-7-1-7 0-7-1-7-1-7 0-7-1-6 0-7-1-7-1-6 0-7-1-6 0-7-1-6-1-6 0-7-1-6 0-6-1-2-1 0-1 5 0 6-1 6-1 6 0 6-1 5 0 6-1 6-1 5 0 6-1 6 0 5-1 6-1 6 0 6-1 7 0 6-1 7-1 6 0 4-1-5 0-6-1-5-1-6 0-5-1-6 0-6-1-5-1-6 0-6-1-6 0-6-1-6-1-7 0-6-1-6 0-7-1-6-1-7 0-2-1 0-1 6-1 7 0 7-1 7 0 7-1 8-1 7 0 7-1 8 0 7-1 8-1 8 0 8-1 8 0 8-1 8-1 8 0 9-1 8 0 5-1-7-1-7 0-7-1-7 0-7-1-7-1-7 0-8-1-7 0-8-1-7-1-8 0-8-1-8 0-8-1-8-1-8 0-8-1-9 0-2-1 0-1 0 0 7-1 9 0 9-1 9-1 9 0 9-1 10 0 9-1 9-1 10 0 10-1 10 0 9-1 10-1 11 0 10-1 10 0 10-1 11-1 6 0-9-1-9 0-9-1-9-1-9 0-9-1-9 0-10-1-9-1-10 0-9-1-10 0-10-1-10-1-9 0-11-1-10 0-10-1-10-1-3-1 0 0 8-1 11-1 11 0 11-1 11 0 11-1 11-1 11 0 12-1 11 0 11-1 12-1 12 0 12-1 12 0 11-1 13-1 12 0 12-1 7 0-11-1-11-1-11 0-11-1-11 0-11-1-12-1-11 0-11-1-12 0-11-1-12-1-11 0-12-1-12 0-11-1-12-1-12 0-11-1-4-1 0-1 9 0 12-1 12 0 12-1 12-1 12 0 13-1 12 0 12-1 13-1 12 0 13-1 12 0 13-1 12-1 13 0 12-1 13 0 13-1 7-1-12 0-12-1-12 0-13-1-12-1-13 0-12-1-13 0-12-1-13-1-12 0-13-1-12 0-12-1-13-1-12 0-12-1-13 0-12-1-4-1 0-1 9 0 12-1 12-1 12 0 12-1 12 0 12-1 12-1 12 0 11-1 12 0 12-1 12-1 11 0 12-1 12 0 11-1 12-1 12 0 7-1-12 0-13-1-12-1-12 0-12-1-12 0-12-1-13-1-12 0-12-1-12 0-12-1-12-1-12 0-12-1-11 0-11-1-12-1-11 0-4-1 0-1 8-1 10 0 10-1 11 0 10-1 10-1 9 0 10-1 10 0 9-1 9-1 9 0 9-1 9 0 9-1 9-1 8 0 9-1 8 0 5-1-11-1-11 0-11-1-10 0-11-1-10-1-10 0-10-1-10 0-9-1-10-1-9 0-9-1-9 0-9-1-8-1-9 0-8-1-8 0-3-1 0-1 0 0 5-1 7 0 7-1 7-1 7 0 6-1 7 0 6-1 6-1 6 0 6-1 5 0 6-1 5-1 5 0 5-1 5 0 5-1 5-1 4 0-7-1-6 0-6-1-6-1-6 0-6-1-6 0-6-1-6-1-7 0-6-1-6 0-6-1-6-1-6 0-6-1-6 0-6-1-6-1-2-1 0 0 4-1 6-1 6 0 6-1 6 0 6-1 6-1 6 0 6-1 6 0 6-1 6-1 5 0 6-1 6 0 6-1 7-1 6 0 6-1 5 0-5-1-5-1-6 0-5-1-6 0-6-1-5-1-6 0-6-1-6 0-6-1-6-1-7 0-6-1-6 0-6-1-7-1-6 0-7-1-3-1 0-1 5 0 7-1 7 0 7-1 7-1 7 0 8-1 7 0 8-1 7-1 8 0 7-1 8 0 8-1 8-1 8 0 8-1 7 0 8-1 6-1-7 0-8-1-7 0-8-1-7-1-8 0-7-1-8 0-7-1-7-1-8 0-7-1-8 0-7-1-8-1-7 0-8-1-7 0-8-1-3-1 0-1 5 0 8-1 7-1 8 0 7-1 7 0 8-1 7-1 8 0 7-1 8 0 7-1 8-1 7 0 8-1 7 0 7-1 8-1 7 0 6-1-7 0-8-1-7-1-8 0-7-1-8 0-7-1-8-1-7 0-8-1-7 0-7-1-8-1-7 0-8-1-7 0-8-1-7-1-8 0-3-1 0-1 5-1 7 0 8-1 7 0 8-1 7-1 7 0 8-1 7 0 7-1 8-1 7 0 7-1 8 0 7-1 8-1 7 0 7-1 8 0 6-1-8-1-7 0-8-1-7 0-8-1-7-1-8 0-7-1-8 0-7-1-7-1-8 0-7-1-8 0-7-1-7-1-7 0-8-1-7 0-3-1 0-1 0 0 4-1 7 0 7-1 7-1 7 0 7-1 7 0 7-1 7-1 7 0 7-1 7 0 6-1 7-1 7 0 7-1 6 0 7-1 7-1 5 0-7-1-7 0-8-1-7-1-7 0-7-1-7 0-7-1-7-1-7 0-7-1-6 0-7-1-7-1-7 0-6-1-7 0-7-1-6-1-3-1 0 0 4-1 6-1 6 0 6-1 7 0 6-1 6-1 6 0 6-1 6 0 6-1 6-1 6 0 6-1 6 0 5-1 6-1 6 0 5-1 5 0-6-1-7-1-6 0-6-1-7 0-6-1-6-1-6 0-6-1-6 0-6-1-6-1-6 0-6-1-6 0-6-1-6-1-5 0-6-1-3-1 0-1 4 0 5-1 5 0 5-1 6-1 5 0 5-1 5 0 5-1 5-1 5 0 5-1 4 0 5-1 5-1 4 0 5-1 5 0 5-1 5-1-5 0-5-1-4 0-5-1-5-1-5 0-5-1-4 0-5-1-5-1-5 0-5-1-6 0-5-1-5-1-5 0-5-1-6 0-5-1-3-1 0-1 4 0 5-1 6-1 5 0 6-1 6 0 5-1 6-1 6 0 6-1 6 0 6-1 6-1 6 0 6-1 6 0 6-1 6-1 7 0 6-1-6 0-5-1-5-1-5 0-5-1-5 0-5-1-5-1-5 0-5-1-6 0-6-1-6-1-6 0-7-1-6 0-7-1-7-1-7 0-4-1 1-1 4-1 8 0 8-1 9 0 8-1 9-1 9 0 9-1 9 0 10-1 9-1 10 0 10-1 10 0 11-1 10-1 11 0 11-1 11 0 11-1-7-1-8 0-8-1-8 0-9-1-8-1-9 0-9-1-9 0-9-1-10-1-9 0-10-1-10 0-10-1-11-1-10 0-11-1-11 0-6-1 0-1 0 0 7-1 11 0 12-1 13-1 12 0 13-1 13 0 12-1 14-1 13 0 13-1 14 0 14-1 14-1 14 0 15-1 14 0 15-1 15-1 15 0-11-1-12 0-12-1-12-1-12 0-13-1-12 0-13-1-13-1-14 0-13-1-13 0-14-1-14-1-14 0-14-1-14 0-15-1-15-1-8 0 1-1 0 0 8-1 15-1 16 0 15-1 16 0 16-1 17-1 16 0 17-1 16 0 17-1 17-1 18 0 17-1 18 0 18-1 19-1 19 0 20-1 20 0-12-1-14-1-14 0-15-1-15 0-15-1-15-1-16 0-17-1-16 0-17-1-17-1-18 0-17-1-18 0-19-1-19-1-19 0-21-1-11-1 1-1 12 0 24-1 25 0 26-1 26-1 28 0 28-1 28 0 30-1 31-1 32 0 33-1 32-1 0-1 0-1 0-1 0-1 0-1 0-1 0-1 0-1 0-1 0-1 0 0-28-1-35 0-36-1-37-1-39 0-40-1-42 0-42-1-25-1 0-1 21 0 44-1 43-1 44 0 44-1 44 0 44-1 40-1 0-1 0-1 0-1 0-1 0-1 0-1 0-1 0-1 0-1 0-1 0-1 0-1 0-1 0-1-35-1-44 0-44-1-44 0-43-1-44-1-44 0-26-1 0-1 20-1 44 0 44-1 44 0 43-1 44-1 44 0 41-1 0-1 0-1 0-1 0-1 0-1 0-1 0-1 0-1 0-1 0-1 0-1 0-1 0-1 0-1 0 0-34-1-44 0-44-1-44-1-44 0-43-1-44 0-27-1 0-1 0 0 19-1 44 0 44-1 44-1 44 0 43-1 44 0 42-1 0-1 0-1 0-1 0-1 0-1 0-1 0-1 0-1 0-1 0-1 0-1 0-1 0-1 0-1 0 0-34-1-43-1-44 0-44-1-44 0-44-1-44-1-27-1 0 0 19-1 43-1 44 0 44-1 44 0 44-1 44-1 42-1 0-1 0-1 0-1 0-1 0-1 0-1 0-1 0-1 0-1 0-1 0-1 0-1 0-1 0-1-33 0-44-1-44 0-43-1-44-1-44 0-44-1-28-1 0-1 18 0 44-1 44 0 43-1 44-1 44 0 44-1 43-1 0-1 0-1 0-1 0-1 0-1 0-1 0-1 0-1 0-1 0-1 0-1 0-1 0-1 0-1-32 0-44-1-44-1-44 0-43-1-44 0-44-1-29-1 0-1 17 0 44-1 44-1 44 0 43-1 44 0 44-1 44-1 0-1 0-1 0-1 0-1 0-1 0-1 0-1 0-1 0-1 0-1 0-1 0-1 0-1 0z" fill="#2020fa"/>
<path d="M209 41l1 0 0 1 1 43 1 44 0 44 1 44 0 44 1 43 1 44 0 17 1 0 1-29 1-44 0-44 1 34 0 52 1 31 1 0 1 0 1 0 1 0 1 0 0-11 1-52 1-52 0-52 1-52 0-52 1-53 1 0 1 0 1 0 1 0 1 0 1 0 1 0 0 44 1 44 0 43 1 44 1 44 0 44 1 43 0 18 1 0 1 0 0-29 1-43 0-44 1 32 1 52 0 32 1 0 1 0 1 0 1 0 1 0 1-10 0-52 1-52 0-52 1-53 1-52 0-52 1-1 1 0 1 0 1 0 1 0 1 0 1 0 0 43 1 44 1 44 0 43 1 44 0 44 1 44 1 18 1 0 0-28 1-44 1-43 0 30 1 52 0 33 1 0 1 0 1 0 1 0 1 0 1-9 0-52 1-52 1-53 0-52 1-52 0-52 1-2 1 0 1 0 1 0 1 0 1 0 1 0 1 42 0 44 1 44 0 44 1 43 1 44 0 44 1 19 1 0 1-27 0-44 1-44 0 29 1 52 1 34 1 0 1 0 1 0 1 0 1-8 1-52 0-53 1-52 0-52 1-52 1-52 0-3 1 0 1 0 1 0 1 0 1 0 1 0 1 42 0 43 1 44 1 44 0 44 1 43 0 44 1 20 1 0 1-26 0-44 1-44 1 27 0 53 1 34 1 0 1 0 1 0 1 0 1 0 0-8 1-52 0-52 1-52 1-52 0-52 1-52 0-4 1 0 1 0 1 0 1 0 1 0 1 0 1 41 1 44 0 43 1 44 0 44 1 44 1 43 0 21 1 0 1-26 1-43 0-44 1 26 0 52 1 35 1 0 1 0 1 0 1 0 1 0 0-7 1-52 1-52 0-52 1-52 0-52 1-52 1-5 1 0 1 0 1 0 1 0 1 0 1 0 0 40 1 44 0 44 1 44 1 43 0 45 1 43 0 22 1 1 1 1 0-23 1-40 0-38 1 24 1 49 0 33 1 1 0 1 1 1 1 1 0 1 1 1 0 1 1 1 1-4 0-37 1-35 0-35 1-32 1-32 0-31 1-30 0-29 1-28 1-28 0-19 1 17 0 31 1 31 1 30 0 29 1 29 0 28 1 26 1 27 0 25 1 25 0 24 1 23 1 12 1 0 0-11 1-19 1-19 0 11 1 24 0 17 1 1 1 0 0 1 1 0 1 1 1 0 0 1 1-2 0-19 1-18 1-18 0-18 1-18 0-17 1-18 1-17 0-17 1-17 0-16 1 11 1 16 0 16 1 16 0 15 1 16 1 15 0 15 1 15 0 14 1 15 1 14 0 14 1 7 0 1 1 0 1-7 0-13 1-13 0 7 1 15 1 12 1 0 1 0 1 0 0 1 1 0 1-1 1-14 0-13 1-13 0-13 1-13 1-13 0-12 1-12 0-12 1-12 1-12 0 9 1 11 0 12 1 11 1 11 0 12 1 10 0 11 1 11 1 10 0 10 1 10 0 10 1 5 1 1 1-5 0-9 1-9 1 5 0 10 1 8 0 1 1 0 1 0 1 0 1 0 1 0 1-9 0-9 1-9 1-9 0-9 1-8 0-8 1-8 1-8 0-8 1-8 0 5 1 8 1 8 0 8 1 8 0 7 1 7 1 7 0 8 1 6 0 7 1 7 1 7 0 3 1 0 1-3 1-6 0-5 1 2 0 8 1 5 1 0 1 0 1 0 1 0 0 1 1 0 0-1 1-6 1-5 0-6 1-6 0-6 1-6 1-6 0-6 1-6 0-6 1-7 1 3 0 5 1 5 0 4 1 5 1 5 0 5 1 5 0 6 1 5 1 5 0 5 1 5 0 3 1 0 1 0 0-2 1-6 0-5 1 2 1 6 0 5 1 0 1 0 1 0 1 0 1 0 1 0 0-7 1-7 0-7 1-7 1-7 0-7 1-8 0-7 1-7 1-7 0-7 1 3 0 5 1 6 1 6 0 6 1 6 0 6 1 6 1 6 0 6 1 6 0 6 1 6 1 3 1 0 0-3 1-6 1-6 0 2 1 7 0 6 1 0 1 0 1 0 1 0 1 0 1 0 0-8 1-7 1-8 0-8 1-8 0-8 1-7 1-8 0-8 1-8 0-8 1 3 1 6 0 7 1 6 0 7 1 6 1 7 0 6 1 7 0 6 1 7 1 7 0 6 1 4 1 0 1-3 0-7 1-6 0 1 1 9 1 6 1 0 1 0 1 0 1 0 1 0 1-8 0-9 1-8 0-9 1-8 1-9 0-8 1-9 0-9 1-8 1-9 0 3 1 8 0 7 1 7 1 7 0 7 1 7 0 7 1 7 1 8 0 7 1 7 0 7 1 5 1 0 1-3 0-8 1-7 1 2 0 8 1 8 1 0 1 0 1 0 1 0 1 0 1-9 0-9 1-9 1-9 0-8 1-9 0-9 1-9 1-9 0-9 1-9 0 3 1 8 1 7 0 8 1 7 0 7 1 8 1 7 0 8 1 7 0 8 1 7 1 8 0 4 1 0 1-3 1-7 0-8 1 2 0 9 1 7 1 0 1 0 1 0 1 0 1 0 1-8 1-9 0-9 1-9 0-10 1-9 1-8 0-9 1-9 0-9 1-9 1 3 0 8 1 7 0 8 1 7 1 8 0 7 1 8 0 8 1 7 1 8 0 7 1 8 0 4 1 0 1 0 0-3 1-7 0-7 1 1 1 9 0 7 1 1 1 0 1 0 1 0 1 0 1 0 0-9 1-8 0-9 1-9 1-9 0-8 1-9 0-8 1-9 1-9 0-8 1 3 0 7 1 8 1 7 0 7 1 8 0 7 1 7 1 8 0 7 1 7 0 7 1 7 1 5 1 0 0-3 1-7 1-7 0 2 1 8 0 7 1 0 1 0 1 0 1 0 1 0 1 0 0-7 1-8 1-8 0-8 1-8 0-8 1-8 1-7 0-8 1-9 0-8 1 2 1 6 0 6 1 6 0 6 1 7 1 6 0 7 1 7 0 7 1 7 1 7 0 7 1 5 1 0 1-3 0-8 1-8 0 1 1 9 1 9 0-1 1 0 1 0 1 0 1 0 1 0 1-10 0-10 1-11 0-11 1-11 1-11 0-12 1-11 0-12 1-12 1-12 0 2 1 8 0 9 1 9 1 9 0 9 1 9 0 9 1 10 1 10 0 9 1 10 0 10 1 7 1 0 1-4 0-10 1-11 1 0 0 13 1 11 1 0 1 0 1 0 1 0 1 0 1-13 0-13 1-14 1-14 0-14 1-14 0-13 1-14 1-15 0-14 1-14 0 3 1 11 1 12 0 11 1 12 0 11 1 12 1 11 0 12 1 12 0 12 1 11 1 12 0 9 1 0 1-4 1-12 0-13 1 1 0 14 1 14 1 0 1-1 1 0 1 0 1 0 1-13 1-14 0-15 1-15 0-14 1-15 1-15 0-14 1-15 0-14 1-15 1 3 0 12 1 12 0 13 1 12 1 12 0 13 1 12 0 12 1 13 1 12 0 12 1 12 0 9 1 0 1 0 0-4 1-12 0-12 1 0 1 15 0 13 1 0 1 0 1 0 1 0 1 1 1 0 0-13 1-14 0-15 1-14 1-14 0-14 1-14 0-14 1-14 1-14 0-14 1 3 0 12 1 12 1 12 0 12 1 12 0 12 1 12 1 12 0 12 1 12 0 11 1 12 1 9 1 0 0-4 1-11 1-11 0-1 1 14 0 13 1 0 1 0 1 0 1 0 1 0 1 0 0-11 1-13 1-12 0-13 1-13 0-12 1-13 1-12 0-12 1-12 0-12 1 2 1 11 0 11 1 11 0 11 1 11 1 11 0 10 1 11 0 10 1 10 1 10 0 10 1 8 1 0 1-3 0-9 1-10 1 11 1 12 1 0 1 0 1 0 1 0 1 0 1-8 0-11 1-10 0-10 1-10 1-10 0-10 1-10 0-9 1-10 1-9 0 1 1 9 0 9 1 9 1 9 0 9 1 8 0 8 1 9 1 8 0 8 1 8 0 8 1 6 1 0 1-2 0-7 1-7 1-1 0 9 1 9 1 0 1 0 1 0 1 0 1 0 1-6 0-8 1-8 1-7 0-8 1-7 0-8 1-7 1-8 0-7 1-8 1 7 1 6 0 7 1 6 0 7 1 6 1 7 0 6 1 6 0 7 1 6 1 7 0 5 1 0 1-2 1-6 0-7 1-1 0 8 1 8 1 0 1 0 1 0 1 0 1 0 1-6 1-8 0-8 1-7 0-8 1-8 1-7 0-8 1-8 0-9 1-8 1 0 0 6 1 6 0 6 1 6 1 7 0 6 1 7 0 7 1 6 1 7 0 7 1 7 0 6 1 0 1 0 0-2 1-8 0-7 1-2 1 9 0 9 1 0 1 0 1 0 1 0 1 0 1 0 0-8 1-9 0-10 1-9 1-10 0-9 1-10 0-10 1-10 1-10 0-10 1 0 0 8 1 8 1 8 0 8 1 8 0 8 1 8 1 8 0 8 1 9 0 8 1 8 1 7 1 0 0-2 1-8 1-9 0-2 1 10 0 10 1 1 1 0 1 0 1 0 1 0 1 0 0-8 1-11 1-10 0-11 1-10 0-11 1-10 1-11 0-11 1-10 0-11 1-1 1 9 0 9 1 9 0 8 1 9 1 9 0 9 1 9 0 9 1 8 1 9 0 9 1 8 1 0 1-2 0-9 1-9 0-2 1 10 1 11 0 1 1 0 1 0 1 0 1 0 1 0 1-8 0-11 1-12 0-11 1-11 1-11 0-11 1-11 0-11 1-11 1-11 0-1 1 9 0 10 1 9 1 9 0 10 1 9 0 9 1 9 1 10 0 9 1 9 0 10 1 8 1 0 1-2 0-9 1-10 1-2 0 11 1 11 0 1 1 0 1 0 1 0 1 0 1 0 1-8 0-11 1-11 1-12 0-11 1-11 0-10 1-11 1-11 0-11 1-10 0-1 1 9 1 10 0 9 1 10 0 9 1 9 1 9 0 10 1 9 0 9 1 9 1 9 0 7 1 0 0 1 1-2 1-9 0-8 1-3 0 10 1 11 1 1 1 0 1 0 1 0 1 0 1-7 1-10 0-10 1-9 0-10 1-10 1-9 0-10 1-9 0-10 1-9 1-1 0 9 1 8 0 8 1 8 1 9 0 8 1 8 0 8 1 8 1 8 0 8 1 8 0 7 1 0 1 0 0-1 1-8 0-7 1-3 1 9 0 9 1 1 1 0 1 0 1 0 1 0 1 0 0-6 1-8 0-9 1-9 1-8 0-9 1-9 0-8 1-9 1-9 0-8 1-2 0 7 1 8 1 7 0 7 1 8 0 7 1 7 1 8 0 7 1 7 0 7 1 8 1 7 1 0 0-1 1-8 1-7 0-3 1 9 0 8 1 2 1 0 1 0 1 0 1 0 1 0 0-6 1-9 1-9 0-9 1-9 0-9 1-10 1-9 0-10 1-9 0-10 1-2 1 7 0 7 1 7 0 8 1 7 1 8 0 8 1 7 0 8 1 8 1 8 0 8 1 8 1 0 1-1 0-9 1-8 0-4 1 10 1 10 0 2 1-1 1 0 1 0 1 0 1 0 1-7 0-11 1-11 0-12 1-11 1-11 0-11 1-12 0-11 1-12 1-11 0-3 1 9 0 9 1 9 1 10 0 9 1 9 0 10 1 9 1 10 0 9 1 10 0 10 1 9 1 0 1-1 0-10 1-10 1-5 0 12 1 12 0 2 1 0 1 0 1 0 1-1 1 0 1-7 0-13 1-12 1-12 0-13 1-12 0-13 1-12 1-13 0-12 1-13 0-3 1 10 1 11 0 10 1 10 0 11 1 10 1 10 0 11 1 10 0 11 1 10 1 11 0 10 1 0 1-1 1-11 0-10 1-6 0 13 1 13 1 2 1 0 1 0 1 0 1 0 1-8 1-13 0-13 1-13 0-12 1-13 1-13 0-12 1-13 0-13 1-12 1-4 0 11 1 11 0 11 1 10 1 11 0 11 1 10 0 11 1 11 1 10 0 11 1 10 0 11 1 0 1 0 0-1 1-10 0-11 1-5 1 12 0 13 1 2 1 0 1 0 1 0 1 0 1 0 0-7 1-13 0-12 1-12 1-12 0-12 1-12 0-12 1-12 1-12 0-11 1-4 0 11 1 10 1 10 0 11 1 10 0 10 1 10 1 10 0 10 1 10 0 10 1 10 1 10 1 0 1-10 1-10 0-5 1 12 0 11 1 2 1 0 1 1 1 0 1 0 1 0 0-7 1-11 1-11 0-10 1-11 0-11 1-10 1-11 0-10 1-10 0-10 1-3 1 9 0 9 1 9 0 10 1 9 1 9 0 9 1 9 0 8 1 9 1 9 0 8 1 9 1 0 1 0 0-8 1-8 0-5 1 10 1 9 0 3 1 0 1 0 1 0 1 0 1 0 1-5 0-9 1-9 0-9 1-9 1-9 0-9 1-8 0-9 1-8 1-8 0-3 1 8 0 8 1 7 1 8 0 7 1 8 0 7 1 8 1 7 0 7 1 7 0 7 1 7 1 0 1 0 0-6 1-7 1-4 0 8 1 8 0 2 1 0 1 0 1 0 1 0 1 0 1-4 0-7 1-8 1-7 0-8 1-7 0-8 1-8 1-7 0-8 1-8 0-4 1 6 1 6 0 6 1 7 0 6 1 6 1 7 0 6 1 7 0 6 1 7 1 6 0 7 1 0 1 0 1-7 0-7 1-5 0 9 1 8 1 2 1 0 1 0 1 0 1 0 1-5 1-9 0-9 1-9 0-9 1-9 1-9 0-9 1-10 0-9 1-9 1-5 0 7 1 8 0 7 1 7 1 8 0 7 1 8 0 8 1 7 1 8 0 8 1 8 0 8 1 0 1 0 1-8 0-8 1-6 1 10 0 9 1 3 1 0 1 0 1 0 1 0 1 0 0-6 1-10 0-11 1-10 1-11 0-11 1-10 0-11 1-11 1-11 0-11 1-5 0 9 1 9 1 8 0 9 1 9 0 9 1 9 1 9 0 9 1 9 0 9 1 9 1 9 0 1 1 0 1-9 1-10 0-7 1 11 0 11 1 4 1 0 0-1 1 0 1 0 1 0 1 0 0-6 1-11 1-12 0-11 1-12 0-11 1-12 1-12 0-11 1-12 0-12 1-5 1 9 0 10 1 10 0 9 1 10 1 10 0 9 1 10 0 10 1 10 1 9 0 10 1 10 0 1 1 0 1 0 0-9 1-10 0-8 1 12 1 11 0 4 1 0 1 0 1 0 1 0 1 0 1-6 0-12 1-12 0-12 1-11 1-12 0-12 1-12 0-12 1-11 1-12 0-6 1 10 0 10 1 10 1 10 0 10 1 10 0 10 1 10 1 10 0 10 1 10 0 9 1 10 1 1 1 0 0-9 1-9 1-8 0 11 1 12 0 3 1 0 1 0 0 1 1 0 1 0 1 0 1-6 0-11 1-11 1-11 0-10 1-11 0-11 1-10 1-11 0-10 1-11 0-5 1 9 1 9 0 10 1 9 0 9 1 9 1 9 0 9 1 9 0 9 1 9 1 9 0 9 1 1 1 0 1-8 0-8 1-8 0 11 1 10 1 3 1 0 1 0 1 0 1 0 1-4 1-9 0-10 1-9 0-10 1-9 1-9 0-9 1-9 0-9 1-9 1-5 0 9 1 8 0 8 1 8 1 8 0 8 1 7 0 8 1 8 1 7 0 8 1 7 0 8 1 1 1 0 1-7 0-7 1-6 1 9 0 8 1 3 1 0 1 0 1 0 1 0 1 1 0-4 1-8 0-8 1-8 1-8 0-8 1-9 0-8 1-8 1-9 0-9 1-5 0 6 1 7 1 7 0 6 1 7 0 7 1 7 1 7 0 7 1 7 0 7 1 7 1 7 0 2 1 0 0-1 1-6 1-8 0-7 1 9 0 9 1 3 1 0 1 0 1 0 1 0 1 0 0-4 1-10 1-9 0-10 1-10 0-9 1-10 1-10 0-10 1-10 0-10 1-7 1 8 0 8 1 8 0 8 1 8 1 8 0 8 1 9 0 8 1 8 1 8 0 9 1 8 0 2 1 0 1 0 0-8 1-9 0-8 1 10 1 10 0 5 1-1 1 0 1 0 1 0 1 0 1-4 0-11 1-11 0-11 1-11 1-11 0-11 1-11 0-11 1-11 1-12 0-8 1 9 0 9 1 9 1 9 0 10 1 9 0 9 1 9 1 10 0 9 1 9 0 10 1 9 1 2 1 0 0-8 1-10 1-10 0 12 1 11 0 5 1 0 1 0 1 0 1 0 1 0 1-5 0-12 1-12 1-12 0-12 1-13 0-12 1-12 1-12 0-12 1-12 0-9 1 10 1 10 0 10 1 11 0 10 1 10 1 10 0 10 1 10 0 11 1 10 1 10 0 10 1 2 1 0 1-8 0-10 1-11 0 12 1 12 1 5 1 0 1 0 1 0 1 0 1-4 1-12 0-13 1-12 0-12 1-12 1-12 0-12 1-12 0-12 1-12 1-9 0 11 1 10 0 11 1 10 1 10 0 10 1 11 0 10 1 10 1 10 0 10 1 10 0 10 1 2 1 0 1-8 0-9 1-10 1 11 0 11 1 5 1 0 1 0 1 1 1 0 1 0 0-4 1-11 0-11 1-11 1-11 0-11 1-11 0-11 1-10 1-11 0-11 1-8 0 151-1 10 0 10-1-9-1-8 0-7-1 0-1 2-1 9 0 9-1 8 0 9-1 9-1 9 0 9-1 9 0 9-1 9-1 9 0 9-1 10 0-8-1-11-1-10 0-10-1-11 0-10-1-11-1-11 0-11-1-10 0-11-1-4-1 0-1 0-1 0-1 0-1 0 0 5-1 11-1 11 0-9-1-10 0-8-1 0-1 0 0 3-1 9 0 10-1 10-1 9 0 10-1 10 0 10-1 10-1 10 0 10-1 10 0 10-1 10-1-9 0-11-1-12 0-12-1-12-1-11 0-12-1-12 0-11-1-12-1-12 0-4-1 0-1 0-1 0-1 0-1 0-1 5 0 11-1 11 0-10-1-9-1-8-1 0 0 2-1 9-1 10 0 9-1 10 0 10-1 9-1 10 0 9-1 10 0 9-1 10-1 9 0 10-1-8 0-12-1-12-1-11 0-12-1-11 0-12-1-11-1-11 0-11-1-11 0-5-1 0-1 0-1 0-1 0-1 0-1 4 0 11-1 10-1-9 0-9-1-8-1 0-1 2 0 9-1 9 0 8-1 9-1 8 0 9-1 8 0 9-1 8-1 8 0 8-1 9 0 8-1-7-1-11 0-10-1-10 0-11-1-10-1-10 0-10-1-10 0-10-1-10-1-4-1 0-1 0-1 0-1 0-1 3-1 9 0 9-1-7 0-8-1-6-1-1-1 2 0 7-1 7-1 8 0 7-1 7 0 7-1 7-1 6 0 7-1 7 0 6-1 7-1 6 0-5-1-9 0-9-1-8-1-9 0-8-1-8 0-8-1-8-1-8 0-8-1-4-1 0-1 0-1 0-1 0-1 0 0 3-1 8 0 8-1-6-1-7 0-6-1 0-1 1-1 7 0 7-1 6 0 7-1 7-1 6 0 7-1 7 0 7-1 6-1 7 0 7-1 6 0-4-1-8-1-8 0-8-1-8 0-8-1-8-1-8 0-8-1-8 0-8-1-4-1 1-1 0-1 0-1 0-1 0 0 3-1 9-1 8 0-6-1-7 0-7-1 0-1 0 0 2-1 7 0 8-1 8-1 8 0 7-1 8 0 9-1 8-1 8 0 8-1 9 0 8-1 9-1-5 0-9-1-9 0-10-1-9-1-10 0-9-1-10 0-10-1-10-1-10 0-4-1 0-1 0-1 0-1 0-1 0-1 4 0 10-1 10 0-7-1-9-1-8-1 0 0 2-1 8-1 9 0 9-1 10 0 9-1 9-1 9 0 9-1 10 0 9-1 9-1 10 0 9-1-5 0-11-1-11-1-10 0-11-1-11 0-11-1-11-1-11 0-11-1-11 0-6-1 0-1 0-1 0-1 0-1 0-1 4 0 11-1 11-1-7 0-10-1-9-1 0-1 1 0 10-1 9 0 10-1 9-1 10 0 9-1 10 0 9-1 10-1 10 0 9-1 10 0 9-1-5-1-12 0-11-1-11 0-12-1-11-1-11 0-12-1-11 0-12-1-11-1-6-1 0-1 0-1 0-1 0-1 4-1 11 0 11-1-7 0-10-1-9-1 0-1 1 0 10-1 9-1 9 0 10-1 9 0 9-1 10-1 9 0 9-1 9 0 10-1 9-1 9 0-5-1-12 0-11-1-11-1-11 0-11-1-11 0-11-1-11-1-11 0-11-1-6-1 0-1 0-1 0-1-1-1 0 0 3-1 11 0 10-1-6-1-9 0-9-1 0-1 1-1 8 0 9-1 8 0 8-1 9-1 8 0 8-1 8 0 8-1 8-1 8 0 8-1 8 0-5-1-10-1-10 0-10-1-10 0-10-1-10-1-9 0-10-1-10 0-9-1-5-1 0-1 0-1 0-1 0-1 0 0 2-1 9-1 9 0-6-1-7 0-8-1 0-1 0 0 1-1 7 0 7-1 7-1 7 0 7-1 7 0 7-1 7-1 6 0 7-1 7 0 6-1 7-1-4 0-9-1-8 0-9-1-8-1-8 0-8-1-9 0-8-1-8-1-7 0-5-1 0-1 0-1 0-1 0-1 0-1 2 0 8-1 7 0-4-1-7-1-6-1 0-1 7-1 6 0 6-1 7 0 6-1 6-1 6 0 7-1 6 0 6-1 6-1 6 0 6-1-3 0-7-1-8-1-7 0-7-1-8 0-7-1-7-1-8 0-7-1-8 0-4-1 0-1 0-1 0-1 0-1 0-1 2 0 9-1 8-1-4 0-7-1-7-1 0-1 0 0 7-1 8 0 7-1 7-1 8 0 8-1 7 0 8-1 8-1 8 0 8-1 8 0 8-1-3-1-9 0-8-1-9 0-9-1-9-1-9 0-9-1-9 0-10-1-9-1-6-1 0-1 0-1 1-1 0-1 2-1 10 0 10-1-5 0-8-1-9-1 0-1 0 0 9-1 9-1 9 0 9-1 9 0 9-1 9-1 9 0 10-1 9 0 10-1 9-1 10 0-3-1-10 0-11-1-11-1-10 0-11-1-11 0-11-1-11-1-11 0-12-1-7 0 1-1 0-1 0-1 0-1 0-1 0 0 2-1 12 0 12-1-6-1-9 0-10-1-1-1 0-1 10 0 10-1 11 0 10-1 10-1 10 0 11-1 10 0 11-1 10-1 11 0 11-1 10 0-3-1-12-1-12 0-12-1-13 0-12-1-12-1-13 0-12-1-13 0-12-1-8-1 0-1 0-1 0-1 0-1 0 0 2-1 13-1 12 0-5-1-11 0-10-1-1-1 0-1 10 0 11-1 10-1 11 0 10-1 11 0 10-1 11-1 10 0 11-1 10 0 11-1 10-1-3 0-13-1-12 0-13-1-13-1-12 0-13-1-12 0-13-1-12-1-13 0-7-1 0 0-1-1 0-1 0-1 0-1 0-1 2 0 12-1 12 0-5-1-10-1-10 0-1-1 0-1 10-1 9 0 10-1 10 0 10-1 9-1 10 0 9-1 10 0 9-1 10-1 9 0 10-1-3 0-12-1-12-1-12 0-11-1-12 0-11-1-12-1-11 0-12-1-11 0-7-1 0-1 0-1 0-1 0-1-1-1 2 0 10-1 11-1-4 0-9-1-9 0-1-1 0-1 0 0 8-1 8 0 8-1 8-1 8 0 8-1 8 0 8-1 7-1 8 0 7-1 8 0 7-1-3-1-10 0-9-1-10 0-10-1-9-1-9 0-10-1-9 0-9-1-9-1-6-1 0-1 0-1 0-1 0-1 1-1 9 0 8-1-3 0-7-1-7-1-1-1 0 0 7-1 7-1 7 0 7-1 7 0 7-1 7-1 6 0 7-1 7 0 7-1 7-1 6 0-1-1-9 0-8-1-8-1-8 0-8-1-9 0-8-1-8-1-8 0-9-1-5-1 0-1 0-1 0-1 0-1 0 0 1-1 9 0 8-1-2-1-7 0-8-1-1-1 0-1 7 0 8-1 7 0 8-1 7-1 8 0 8-1 7 0 8-1 8-1 8 0 8-1 8 0-1-1-9-1-9 0-9-1-9 0-9-1-9-1-10 0-9-1-9 0-9-1-7-1 0-1 0-1 0-1 0-1 0 0 1-1 10-1 10 0-3-1-8 0-8-1-1-1 0-1 7 0 9-1 9-1 8 0 9-1 9 0 8-1 9-1 9 0 9-1 9 0 9-1 10-1-1 0-10-1-11 0-10-1-10-1-11 0-10-1-11 0-11-1-10-1-11 0-7-1 0-1 0-1 0-1 0-1 0-1 1 0 10-1 11 0-3-1-9-1-9 0-1-1 0-1 8-1 9 0 9-1 9 0 9-1 10-1 9 0 9-1 9 0 10-1 9-1 9 0 9-1 0 0-11-1-11-1-11 0-11-1-11 0-11-1-11-1-11 0-11-1-11 0-8-1 0-1 0-1 0-1 0-1 0-1 1 0 10-1 11-1-2 0-9-1-9 0-2-1 0-1 0 0 8-1 9 0 9-1 9-1 9 0 9-1 9 0 8-1 9-1 9 0 9-1 9 0 9-1-1-1-11 0-10-1-11 0-11-1-10-1-11 0-11-1-10 0-11-1-11-1-8-1 0-1 0-1 0-1 0-1 1-1 10 0 10-1-2 0-9-1-8-1-2-1 0 0 7-1 8-1 9 0 8-1 8 0 8-1 8-1 8 0 9-1 8 0 8-1 7-1 8-1-10 0-10-1-10-1-10 0-10-1-9 0-10-1-10-1-9 0-10-1-7-1 0-1 0-1 0-1 0-1 0-1 9 0 9-1-2-1-8 0-7-1-2-1 0-1 6 0 7-1 7 0 7-1 7-1 7 0 6-1 7 0 7-1 6-1 7 0 6-1 6-1-9-1-8 0-8-1-8 0-8-1-8-1-8 0-8-1-8 0-8-1-6-1 0-1 0-1 0-1 0-1 0-1 7-1 7 0-1-1-6 0-6-1-2-1 0-1 5 0 6-1 6-1 6 0 6-1 5 0 6-1 6-1 5 0 6-1 6 0 5-1 6-1 1 0-7-1-7 0-6-1-7-1-7 0-6-1-7 0-7-1-7-1-8 0-5-1 0-1 0-1 0-1 0-1 0-1 0 0 8-1 8 0-1-1-6-1-7 0-2-1 0-1 6-1 7 0 7-1 7 0 7-1 8-1 7 0 7-1 8 0 7-1 8-1 8 0 8-1 1 0-8-1-9-1-8 0-8-1-9 0-9-1-8-1-9 0-9-1-9 0-8-1 0-1 0-1 0-1 0-1 0 0 1-1 0 0 9-1 11-1-1 0-8-1-9 0-2-1 0-1 0 0 7-1 9 0 9-1 9-1 9 0 9-1 10 0 9-1 9-1 10 0 10-1 10 0 9-1 2-1-10 0-11-1-10 0-11-1-11-1-11 0-11-1-12 0-11-1-12-1-9-1 0-1 0-1 0-1 0-1 0-1 12 0 13-1-1 0-10-1-10-1-3-1 0 0 8-1 11-1 11 0 11-1 11 0 11-1 11-1 11 0 12-1 11 0 11-1 12-1 12 0 2-1-13 0-12-1-13-1-13 0-14-1-13 0-13-1-14-1-13 0-14-1-12-1 0-1 0 0 1-1 0-1 0-1 0-1 13 0 14-1 0-1-12 0-11-1-4-1 0-1 9 0 12-1 12 0 12-1 12-1 12 0 13-1 12 0 12-1 13-1 12 0 13-1 12 0 3-1-15-1-14 0-14-1-15 0-14-1-15-1-14 0-15-1-15 0-15-1-12-1 0-1 0 0-1-1 0-1 0-1 0-1 14-1 14 0 1-1-13 0-12-1-4-1 0-1 9 0 12-1 12-1 12 0 12-1 12 0 12-1 12-1 12 0 11-1 12 0 12-1 12-1 2 0-14-1-14 0-15-1-14-1-14 0-14-1-15 0-14-1-14-1-14 0-12-1 0-1-1-1 0-1 0-1 0-1 0 0 12-1 13 0 1-1-12-1-11 0-4-1 0-1 8-1 10 0 10-1 11 0 10-1 10-1 9 0 10-1 10 0 9-1 9-1 9 0 9-1 2 0-12-1-13-1-12 0-12-1-12 0-12-1-11-1-12 0-11-1-11 0-10-1 0-1-1-1 0-1 0-1 0-1 0 0 8-1 10-1 0 0-8-1-8 0-3-1 0-1 0 0 5-1 7 0 7-1 7-1 7 0 6-1 7 0 6-1 6-1 6 0 6-1 5 0 6-1 1-1-9 0-9-1-8 0-8-1-8-1-7 0-8-1-7 0-7-1-7-1-7-1 0-1 0-1 0-1 0-1 0-1 7 0 7-1 0 0-6-1-6-1-2-1 0 0 4-1 6-1 6 0 6-1 6 0 6-1 6-1 6 0 6-1 6 0 6-1 6-1 5 0 2-1-7 0-7-1-7-1-6 0-7-1-7 0-7-1-7-1-7 0-8-1-6-1 0-1 0-1 0-1 0-1 0-1 7 0 8-1 1-1-6 0-7-1-3-1 0-1 5 0 7-1 7 0 7-1 7-1 7 0 8-1 7 0 8-1 7-1 8 0 7-1 8 0 3-1-8-1-8 0-9-1-8 0-9-1-9-1-9 0-8-1-9 0-9-1-9-1 0-1 0-1 0-1 0-1 0-1 8-1 9 0 1-1-7 0-8-1-3-1 0-1 5 0 8-1 7-1 8 0 7-1 7 0 8-1 7-1 8 0 7-1 8 0 7-1 8-1 3 0-9-1-9 0-9-1-9-1-9 0-9-1-8 0-9-1-9-1-9 0-9-1 0-1 0-1 0-1 0-1 0-1 0 0 8-1 9 0 1-1-7-1-8 0-3-1 0-1 5-1 7 0 8-1 7 0 8-1 7-1 7 0 8-1 7 0 7-1 8-1 7 0 7-1 4 0-9-1-9-1-9 0-8-1-9 0-9-1-9-1-9 0-8-1-9 0-9-1 0-1 0-1 0-1 0-1 0-1 0 0 7-1 9-1 2 0-8-1-7 0-3-1 0-1 0 0 4-1 7 0 7-1 7-1 7 0 7-1 7 0 7-1 7-1 7 0 7-1 7 0 6-1 4-1-9 0-8-1-9 0-8-1-8-1-9 0-8-1-8 0-8-1-9-1-8-1 0-1 0-1 0-1 0-1 0-1 6 0 8-1 2 0-7-1-6-1-3-1 0 0 4-1 6-1 6 0 6-1 7 0 6-1 6-1 6 0 6-1 6 0 6-1 6-1 6 0 3-1-8 0-7-1-8-1-7 0-8-1-7 0-7-1-7-1-8 0-7-1-7-1 0-1 0-1 0-1 0-1 0-1 5 0 7-1 1-1-5 0-6-1-3-1 0-1 4 0 5-1 5 0 5-1 6-1 5 0 5-1 5 0 5-1 5-1 5 0 5-1 4 0 3-1-7-1-6 0-6-1-6 0-6-1-6-1-6 0-6-1-6 0-6-1-6-1 0-1 0-1 0-1 0-1 0-1 5-1 7 0 2-1-6 0-5-1-3-1 0-1 4 0 5-1 6-1 5 0 6-1 6 0 5-1 6-1 6 0 6-1 6 0 6-1 6-1 3 0-6-1-7 0-6-1-7-1-7 0-7-1-6 0-7-1-7-1-7 0-7-1 0-1 0-1 0-1 0-1 0-1 1 0 6-1 9 0 3-1-7-1-7 0-4-1 1-1 4-1 8 0 8-1 9 0 8-1 9-1 9 0 9-1 9 0 10-1 9-1 10 0 10-1 7 0-9-1-10-1-10 0-10-1-10 0-10-1-11-1-11 0-11-1-12 0-11-1-1-1 0-1 1-1 0-1 0-1 0 0 10-1 13-1 6 0-11-1-11 0-6-1 0-1 0 0 7-1 11 0 12-1 13-1 12 0 13-1 13 0 12-1 14-1 13 0 13-1 14 0 14-1 10-1-14 0-14-1-15 0-14-1-15-1-15 0-16-1-15 0-16-1-16-1-16 0-1-1 0-1 0-1 0-1 0 0 1-1 0-1 12 0 18-1 8 0-15-1-15-1-8 0 1-1 0 0 8-1 15-1 16 0 15-1 16 0 16-1 17-1 16 0 17-1 16 0 17-1 17-1 18 0 12-1-18 0-18-1-18-1-19 0-18-1-19 0-19-1-20-1-20 0-20-1-21 0-2-1 0-1 1-1 0-1 1-1 0 0 1-1 17 0 25-1 12-1-19 0-21-1-11-1 1-1 12 0 24-1 25 0 26-1 26-1 28 0 28-1 28 0 30-1 31-1 32 0 33-1 32-1 0-1-20 0-29-1-30 0-32-1-33-1-34 0-36-1-38 0-39-1-40-1-4-1 1 0 1-1 1-1 1 0 1-1 1 0 1-1 35-1 51 0 27-1-42 0-42-1-25-1 0-1 21 0 44-1 43-1 44 0 44-1 44 0 44-1 40-1 0-1 0-1 0-1 0-1 0-1 0-1-4 0-52-1-52 0-53-1-52-1-52 0-52-1-7-1 0-1 0-1 0-1 0-1 0 0 35-1 52 0 27-1-44-1-44 0-26-1 0-1 20-1 44 0 44-1 44 0 43-1 44-1 44 0 41-1 0-1 0-1 0-1 0-1 0-1 0-1-3 0-52-1-52-1-53 0-52-1-52 0-52-1-8-1 0-1 0-1 0-1 0-1 0 0 34-1 52-1 28 0-43-1-44 0-27-1 0-1 0 0 19-1 44 0 44-1 44-1 44 0 43-1 44 0 42-1 0-1 0-1 0-1 0-1 0-1 0-1-2-1-52 0-53-1-52 0-52-1-52-1-52 0-9-1 0-1 0-1 0-1 0-1 0-1 33 0 52-1 30 0-44-1-44-1-27-1 0 0 19-1 43-1 44 0 44-1 44 0 44-1 44-1 42-1 0-1 0-1 0-1 0-1 0-1 0 0-1-1-53 0-52-1-52-1-52 0-52-1-52 0-10-1 0-1 0-1 0-1 0-1 0-1 32 0 52-1 32-1-44 0-44-1-28-1 0-1 18 0 44-1 44 0 43-1 44-1 44 0 44-1 43-1 0-1 0-1 0-1 0-1 0-1 0 0-1-1-52-1-52 0-52-1-52 0-52-1-53-1-10-1 0-1 0-1 0-1 0-1 31-1 52 0 34-1-44 0-44-1-29-1 0-1 17 0 44-1 44-1 44 0 43-1 44 0 44-1 44-1 0-1 0-1 0-1 0-1 0-1 0-1 0 0-52-1-52 0-52-1-52-1-53 0-52-1-11-1 0-1 0-1 0z" fill="#5a0cb4"/>
</g>
<path d="M104.4 214.7H759.2" stroke="#000" stroke-width="2"/>
<path d="M104.4 417.1v-9M104.4 12.2v9M137.1 417.1v-5.5M137.1 12.2v5.5M169.9 417.1v-5.5M169.9 12.2v5.5M202.6 417.1v-5.5M202.6 12.2v5.5M235.4 417.1v-5.5M235.4 12.2v5.5M268.1 417.1v-9M268.1 12.2v9M300.8 417.1v-5.5M300.8 12.2v5.5M333.6 417.1v-5.5M333.6 12.2v5.5M366.3 417.1v-5.5M366.3 12.2v5.5M399.1 417.1v-5.5M399.1 12.2v5.5M431.8 417.1v-9M431.8 12.2v9M464.5 417.1v-5.5M464.5 12.2v5.5M497.3 417.1v-5.5M497.3 12.2v5.5M530 417.1v-5.5M530 12.2v5.5M562.8 417.1v-5.5M562.8 12.2v5.5M595.5 417.1v-9M595.5 12.2v9M628.2 417.1v-5.5M628.2 12.2v5.5M661 417.1v-5.5M661 12.2v5.5M693.7 417.1v-5.5M693.7 12.2v5.5M726.5 417.1v-5.5M726.5 12.2v5.5M759.2 417.1v-9M759.2 12.2v9M104.4 412.1h9M759.2 412.1h-9M104.4 395.6h5.5M759.2 395.6h-5.5M104.4 379.2h5.5M759.2 379.2h-5.5M104.4 362.8h5.5M759.2 362.8h-5.5M104.4 346.3h9M759.2 346.3h-9M104.4 329.8h5.5M759.2 329.8h-5.5M104.4 313.4h5.5M759.2 313.4h-5.5M104.4 296.9h5.5M759.2 296.9h-5.5M104.4 280.5h9M759.2 280.5h-9M104.4 264h5.5M759.2 264h-5.5M104.4 247.6h5.5M759.2 247.6h-5.5M104.4 231.1h5.5M759.2 231.1h-5.5M104.4 214.7h9M759.2 214.7h-9M104.4 198.2h5.5M759.2 198.2h-5.5M104.4 181.8h5.5M759.2 181.8h-5.5M104.4 165.3h5.5M759.2 165.3h-5.5M104.4 148.9h9M759.2 148.9h-9M104.4 132.4h5.5M759.2 132.4h-5.5M104.4 116h5.5M759.2 116h-5.5M104.4 99.5h5.5M759.2 99.5h-5.5M104.4 83.1h9M759.2 83.1h-9M104.4 66.7h5.5M759.2 66.7h-5.5M104.4 50.2h5.5M759.2 50.2h-5.5M104.4 33.8h5.5M759.2 33.8h-5.5M104.4 17.3h9M759.2 17.3h-9" stroke="#000" stroke-width="1.6" fill="none"/>
<rect x="104.4" y="12.2" width="654.8" height="404.9" fill="none" stroke="#000" stroke-width="2"/>
<text x="104.4" y="458.8" font-size="45" text-anchor="middle" letter-spacing="-2">0</text>
<text x="268.1" y="458.8" font-size="45" text-anchor="middle" letter-spacing="-2">100</text>
<text x="431.8" y="458.8" font-size="45" text-anchor="middle" letter-spacing="-2">200</text>
<text x="595.5" y="458.8" font-size="45" text-anchor="middle" letter-spacing="-2">300</text>
<text x="759.2" y="458.8" font-size="45" text-anchor="middle" letter-spacing="-2">400</text>
<text x="98.5" y="424.1" font-size="45" text-anchor="end" letter-spacing="-2">-6</text>
<text x="98.5" y="358.3" font-size="45" text-anchor="end" letter-spacing="-2">-4</text>
<text x="98.5" y="292.5" font-size="45" text-anchor="end" letter-spacing="-2">-2</text>
<text x="98.5" y="226.7" font-size="45" text-anchor="end" letter-spacing="-2">0</text>
<text x="98.5" y="160.9" font-size="45" text-anchor="end" letter-spacing="-2">2</text>
<text x="98.5" y="95.1" font-size="45" text-anchor="end" letter-spacing="-2">4</text>
<text x="98.5" y="29.3" font-size="45" text-anchor="end" letter-spacing="-2">6</text>
<text x="376" y="501.5" font-size="50"><tspan font-style="italic">t</tspan><tspan dx="12">[ps]</tspan></text>
<g transform="translate(42.5,268) rotate(-90)" font-style="italic"><text x="-1" y="0" font-size="65">S</text><text x="25" y="12.5" font-size="38">x</text><text x="53.6" y="0" font-size="45" font-style="normal">,</text><text x="87" y="0" font-size="65">S</text><text x="117" y="12" font-size="38">y</text></g>
<path d="M551 322V358M650 318V358M554 340.7H647" stroke="#000" stroke-width="1.6" fill="none"/>
<path d="M551 340.7L568.7 336.5L568.7 344.9ZM650 340.7L632.3 336.5L632.3 344.9Z" fill="#000"/>
<text x="581" y="392" font-size="56" font-style="italic">T</text>
<text x="616" y="410" font-size="33" font-style="italic">B</text>
<text x="672" y="397.5" font-size="65">(a)</text>
<g transform="scale(0.5)">
<path d="M1779 37l13 0-2 203-6 140-5 80z" fill="#0000ff"/>
<path d="M1876 37l74 0 0 3 1 3 1 3 1 4 1 3 1 4 1 4 1 4 1 4 1 4 1 3 1 4 1 4 1 4 1 4 1 5 1 4 1 4 1 4 1 4 1 4 1 4 1 5 1 4 1 4 1 4 1 4 1 4 1 5 1 4 1 4 1 4 1 4 1 4 1 4 1 5 1 4 1 4 1 4 1 4 1 5 1 4 1 4 1 5 1 4 1 4 1 5 1 4 1 4 1 5 1 4 1 4 1 4 1 3 1 4 1 4 1 4 1 4 1 4 1 3 1 4 1 4 1 4 1 3 1 3 1 3 1 3 1 3 1 3 1 3 1 3 1 3 1 3 1 3 1 3 1 3 1 3 1 3 1 3 1 2 1 3 1 3 1 3 1 3 1 3 1 2 1 3 1 3 1 3 1 2 1 3 1 2 1 3 1 2 1 2 1 3 1 2 1 3 1 2 1 2 1 1 1 1 1-1 1 0 1-1 1-1 1-1 1-1 1 0 1-1 1-1 1-1 1 0 1-1 1-1 1-1 1-1 1 0 1-1 1-1 1-1 1 0 1-1 1-1 1-1 1 0 1-1 1-1 1-1 1 0 1-1 1-1 1-1 1 0 1-1 1-1 1-1 1 0 1-1 1-1 1 0 1-1 1-1 1 0 1-1 1-1 1 0 1-1 1-1 1 0 1-1 1-1 1 0 1-1 1 0 1-1 1-1 1 0 1-1 1 0 1-1 1-1 1 0 1-1 1 0 1-1 1 0 1-1 1 0 1-1 1 0 1-1 1 0 1-1 1 0 1-1 1 0 1-1 1 0 1 0 1-1 1 0 1-1 1 0 1 0 1-1 1 0 1 0 1-1 1 0 1 0 1-1 1 0 1 0 1-1 1 0 1 0 1 0 1-1 1 0 1 0 1 0 1-1 1 0 1 0 1 0 1 0 1 0 1-1 1 0 1 0 1 0 1 0 1 0 1 0 1 0 1 0 1 0 1 0 1-1 1 0 1 0 1 0 1 0 1 0 1 0 1 1 1 0 1 0 1 0 1 0 1 0 1 0 1 0 1 0 1 0 1 0 1 1 1 0 1 0 1 0 1 0 1 0 1 1 1 0 1 0 1 0 1 0 1 1 1 0 1 0 1 0 1 1 1 0 1 0 1 0 1 1 1 0 1 0 1 1 1 0 1 0 1 1 1 0 1 0 1 0 1 1 1 0 1 0 1 1 1 0 1 0 1 1 1 0 1 0 1 0 1 0 1-1 1-2 1-2 1-1 1-2 1-2 1-2 1-2 1-2 1-2 1-2 1-2 1-1 1-2 1-2 1-2 1-2 1-2 1-2 1-2 1-1 1-2 1-2 1-2 1-1 1-2 1-2 1-1 1-2 1-2 1-2 1-1 1-2 1-2 1-1 1-2 1-2 1-2 1-2 1-2 1-2 1-2 1-2 1-2 1-2 1-2 1-2 1-2 1-2 1-2 1-1 1-2 1-2 1-2 1-1 1-2 1-2 1-1 1-2 1-1 1-2 1-1 1-2 1-1 1-1 1-1 1-2 1-1 1-1 1-1 1-1 1-1 1 0 1-1 1-1 1-1 1 0 1-1 1 0 1-1 1 0 1 0 1 0 1-1 1 0 1 0 1 0 1 0 1 1 1 0 1 0 1 0 1 1 1 0 1 1 1 0 1 1 1 1 1 0 1 1 1 1 1 1 1 1 1 1 1 1 1 1 1 1 1 1 1 2 1 1 1 1 1 2 1 1 1 2 1 1 1 2 1 1 1 2 1 1 1 2 1 2 1 2 1 1 1 2 1 2 1 2 1 2 1 2 1 2 1 1 1 2 1 2 1 2 1 2 1 2 1 2 1 2 1 2 1 2 1 2 1 2 1 2 1 2 1 2 1 2 1 2 1 2 1 2 1 2 1 2 1 2 1 2 1 2 1 2 1 2 1 2 1 2 1 2 1 2 1 2 1 2 1 2 1 2 1 2 1 2 1 2 1 2 1 2 1 2 1 2 1 2 1 2 1 2 1 2 1 2 1 1 1 2 1 1 1 2 1 1 1 2 1 1 1 1 1 1 1 0 1 1 1 0 1 1 1 1 1 0 1 0 1 0 1 0 1 0 1 0 1-1 1 0 1 0 1-1 1 0 1 0 1-1 1 0 1-1 1 0 1-1 1 0 1-1 1-1 1 0 1-1 1-1 1 0 1-1 1-1 1-1 1-1 1-1 1-1 1-1 1-1 1-1 1-1 1-1 1-1 1-1 1-1 1-1 1-1 1-1 1-1 1-1 1-2 1-1 1-1 1-1 1-1 1-1 1-2 1-1 1-1 1-1 1-1 1-2 1-1 1-1 1-1 1-1 1-2 1-1 1-1 1-1 1-1 1-1 1-1 1-2 1-1 1-1 1-1 1-1 1-1 1-1 1-1 1-1 1-1 1-1 1 0 1-1 1-1 1-1 1-1 1 0 1-1 1-1 1-1 1 0 1-1 1 0 1-1 1 0 1-1 1 0 1-1 1 0 1 0 1-1 1 0 1 0 1 0 1 0 1-1 1 0 1 0 1 0 1 0 1 1 1 0 1 0 1 0 1 0 1 1 1 0 1 0 1 1 1 0 1 1 1 0 1 1 1 0 1 1 1 1 1 0 1 1 1 1 1 1 1 0 1 1 1 1 1 1 1 1 1 1 1 1 1 1 1 1 1 1 1 1 1 1 1 1 1 1 1 1 1 1 1 1 1 1 1 1 1 1 1 1 1 1 1 1 1 1 1 1 1 1 1 1 1 1 1 1 1 1 1 0 1 1 1 1 1 1 1 1 1 0 1 1 1 1 1 0 1 1 1 1 1 0 1 1 1 0 1 1 1 0 1 0 1 1 1 0 1 0 1 0 1 0 1 1 1 0 1 0 1 0 1-1 1 0 1 0 1 0 1-1 1 0 1-1 1 0 1-1 1 0 1-1 1-1 1-1 1 0 1-1 1-1 1-1 1-1 1-1 1-2 1-1 1-1 1-1 1-2 1-1 1-1 1-2 1-1 1-2 1-1 1-2 1-1 1-2 1-1 1-2 1-1 1-2 1-1 1-2 1-2 1-1 1-2 1-1 1-2 1-2 1-1 1-2 1-1 1-2 1-1 1-2 1-1 1-1 1-2 1-1 1-1 1-1 1-2 1-1 1-1 1-1 1-1 1-1 1-1 1-1 1-1 1-1 1 0 1-1 1 0 1-1 1-1 1 0 1 0 1-1 1 0 1 0 1 0 1 0 1 0 1 0 1 0 1 0 1 0 1 0 1 1 1 0 1 0 1 1 1 0 1 1 1 0 1 1 1 0 1 1 1 1 1 1 1 0 1 1 1 1 1 1 1 1 1 1 1 1 1 1 1 1 1 1 1 2 1 1 1 1 1 1 1 1 1 2 1 1 1 1 1 2 1 1 1 2 1 1 1 1 1 2 1 1 1 2 1 1 1 2 1 1 1 2 1 1 1 2 1 1 1 2 1 1 1 2 1 2 1 1 1 2 1 1 1 2 1 1 1 1 1 2 1 1 1 2 1 1 1 2 1 1 1 1 1 2 1 1 1 1 1 1 1 2 1 1 1 1 1 1 1 1 1 1 1 1 1 1 1 1 1 1 1 1 1 1 1 0 1 1 1 1 1 1 1 0 1 1 1 0 1 1 1 0 1 1 1 0 1 0 1 1 1 0 1 0 1 0 1 0 1 0 1 0 1 0 1 0 1 0 1 0 1 0 1-1 1 0 1 0 1-1 1 0 1-1 1 0 1-1 1 0 1-1 1-1 1 0 1-1 1-1 1-1 1 0 1-1 1-1 1-1 1-1 1-1 1-1 1-1 1-1 1-1 1-1 1-1 1-2 1-1 1-1 1-1 1-1 1-1 1-2 1-1 1-1 1-1 1-2 1-1 1-1 1-2 1-1 1-1 1-1 1-2 1-1 1-1 1-2 1-1 1-1 1-1 1-2 1-1 1-1 1-1 1-1 1-2 1-1 1-1 1-1 1-1 1-1 1-1 1-1 1-1 1-1 1-1 1-1 1-1 1-1 1-1 1 0 1-1 1-1 1 0 1-1 1-1 1 0 1-1 1 0 1-1 1 0 1 0 1-1 1 0 1 0 1-1 1 0 1 0 1 0 1 0 1 0 1 0 1 0 1 0 1 0 1 1 1 0 1 0 1 1 1 0 1 0 1 1 1 0 1 1 1 0 1 1 1 1 1 0 1 1 1 1 1 1 1 1 1 0 1 1 1 1 1 1 1 1 1 1 1 1 1 1 1 1 1 1 1 1 1 2 1 1 1 1 1 1 1 1 1 1 1 1 1 2 1 1 1 1 1 1 1 1 1 2 1 1 1 1 1 1 1 1 1 1 1 1 1 2 1 1 1 1 1 1 1 1 1 1 1 1 1 1 1 1 1 1 1 1 1 0 1 1 1 1 1 1 1 0 1 1 1 1 1 0 1 1 1 1 1 0 1 0 1 1 1 0 1 1 1 0 1 0 1 0 1 0 1 1 1 0 1 0 1 0 1 0 1-1 1 0 1 0 1 0 1 0 1-1 1 0 1-1 1 0 1 0 1-1 1-1 1 0 1-1 1-1 1 0 1-1 1-1 1-1 1-1 1 0 1-1 1-1 1-1 1-1 1-1 1-1 1-1 1-1 1-2 1-1 1-1 1-1 1-1 1-1 1-2 1-1 1-1 1-1 1-2 1-1 1-1 1-1 1-1 1-2 1-1 1-1 1-1 1-2 1-1 1-1 1-1 1-1 1-2 1-1 1-1 1-1 1-1 1-1 1-1 1-1 1-1 1-1 1-1 1-1 1-1 1 0 1-1 1-1 1-1 1 0 1-1 1-1 1 0 1-1 1 0 1 0 1-1 1 0 1-1 1 0 1 0 1 0 1 0 1-1 1 0 1 0 1 0 1 1 1 0 1 0 1 0 1 0 1 1 1 0 1 1 1 0 1 1 1 0 1 1 1 1 1 0 1 1 1 1 1 0 1 1 1 1 1 1 1 1 1 0 1 1 1 1 1 1 1 0 1 1 1 1 1 0 1 1 1 1 1 0 1 1 1 0 1 0 1 1 1 0 1 0 0 165-1 0-1 1-1 1-1 2-1 1-1 1-1 1-1 1-1 1-1 1-1 1-1 1-1 1-1 1-1 0-1 1-1 1-1 1-1 0-1 1-1 1-1 1-1 0-1 1-1 0-1 1-1 0-1 0-1 1-1 0-1 0-1 1-1 0-1 0-1 0-1 0-1 0-1 0-1 0-1 0-1-1-1 0-1 0-1 0-1-1-1 0-1-1-1 0-1-1-1 0-1-1-1-1-1 0-1-1-1-1-1-1-1-1-1-1-1-1-1-1-1-1-1-1-1-1-1-1-1-1-1-1-1-1-1-2-1-1-1-1-1-1-1-2-1-1-1-1-1-2-1-1-1-1-1-2-1-1-1-1-1-2-1-1-1-1-1-2-1-1-1-1-1-2-1-1-1-1-1-2-1-1-1-1-1-1-1-2-1-1-1-1-1-1-1-1-1-1-1-2-1-1-1-1-1-1-1-1-1 0-1-1-1-1-1-1-1-1-1 0-1-1-1-1-1 0-1-1-1 0-1-1-1 0-1-1-1 0-1 0-1-1-1 0-1 0-1 0-1 0-1 0-1 0-1 0-1 0-1 0-1 1-1 0-1 0-1 1-1 0-1 0-1 1-1 0-1 1-1 1-1 0-1 1-1 1-1 0-1 1-1 1-1 1-1 1-1 0-1 1-1 1-1 1-1 1-1 1-1 2-1 1-1 1-1 1-1 1-1 1-1 1-1 2-1 1-1 1-1 1-1 2-1 1-1 1-1 1-1 2-1 1-1 1-1 2-1 1-1 1-1 2-1 1-1 1-1 1-1 2-1 1-1 1-1 1-1 1-1 2-1 1-1 1-1 1-1 1-1 1-1 1-1 1-1 1-1 1-1 1-1 1-1 1-1 1-1 1-1 1-1 0-1 1-1 1-1 0-1 1-1 1-1 0-1 0-1 1-1 0-1 1-1 0-1 0-1 1-1 0-1 0-1 0-1 0-1 0-1 0-1 0-1 0-1 0-1-1-1 0-1 0-1-1-1 0-1 0-1-1-1 0-1-1-1 0-1-1-1-1-1 0-1-1-1-1-1-1-1-1-1-1-1-1-1 0-1-1-1-1-1-2-1-1-1-1-1-1-1-1-1-1-1-1-1-1-1-2-1-1-1-1-1-1-1-2-1-1-1-1-1-2-1-1-1-1-1-1-1-2-1-1-1-1-1-2-1-1-1-1-1-2-1-1-1-1-1-1-1-1-1-2-1-1-1-1-1-1-1-1-1-1-1-1-1-2-1-1-1-1-1-1-1 0-1-1-1-1-1-1-1-1-1-1-1 0-1-1-1-1-1 0-1-1-1 0-1-1-1 0-1-1-1 0-1 0-1-1-1 0-1 0-1 0-1 0-1 0-1 0-1 0-1 0-1 0-1 0-1 1-1 0-1 0-1 1-1 0-1 0-1 1-1 0-1 1-1 1-1 0-1 1-1 1-1 1-1 0-1 1-1 1-1 1-1 1-1 1-1 1-1 1-1 1-1 1-1 1-1 2-1 1-1 1-1 1-1 2-1 1-1 1-1 1-1 2-1 1-1 1-1 2-1 1-1 1-1 2-1 1-1 1-1 2-1 1-1 1-1 2-1 1-1 1-1 2-1 1-1 1-1 1-1 2-1 1-1 1-1 1-1 1-1 1-1 1-1 1-1 2-1 1-1 1-1 0-1 1-1 1-1 1-1 1-1 1-1 0-1 1-1 1-1 0-1 1-1 0-1 1-1 0-1 1-1 0-1 0-1 0-1 1-1 0-1 0-1 0-1 0-1 0-1 0-1 0-1 0-1-1-1 0-1 0-1-1-1 0-1-1-1 0-1-1-1 0-1-1-1-1-1 0-1-1-1-1-1-1-1-1-1-1-1-1-1-1-1-1-1-1-1-1-1-1-1-1-1-1-1-2-1-1-1-1-1-1-1-2-1-1-1-1-1-2-1-1-1-2-1-1-1-1-1-2-1-1-1-2-1-1-1-1-1-2-1-1-1-2-1-1-1-1-1-2-1-1-1-2-1-1-1-1-1-2-1-1-1-1-1-1-1-2-1-1-1-1-1-1-1-1-1-1-1-1-1-1-1-1-1-1-1-1-1-1-1-1-1-1-1 0-1-1-1-1-1 0-1-1-1 0-1-1-1 0-1-1-1 0-1 0-1-1-1 0-1 0-1 0-1 0-1 0-1 0-1 0-1 0-1 1-1 0-1 0-1 1-1 0-1 0-1 1-1 0-1 1-1 1-1 0-1 1-1 1-1 1-1 0-1 1-1 1-1 1-1 1-1 1-1 1-1 1-1 2-1 1-1 1-1 1-1 1-1 2-1 1-1 1-1 2-1 1-1 1-1 2-1 1-1 2-1 1-1 2-1 1-1 1-1 2-1 1-1 2-1 1-1 2-1 1-1 2-1 1-1 1-1 2-1 1-1 2-1 1-1 1-1 2-1 1-1 1-1 1-1 2-1 1-1 1-1 1-1 1-1 1-1 2-1 1-1 0-1 1-1 1-1 1-1 1-1 1-1 1-1 0-1 1-1 1-1 0-1 1-1 0-1 1-1 0-1 0-1 1-1 0-1 0-1 0-1 0-1 0-1 0-1 0-1 0-1 0-1 0-1-1-1 0-1 0-1-1-1 0-1-1-1 0-1-1-1 0-1-1-1-1-1 0-1-1-1-1-1-1-1-1-1-1-1-1-1-1-1-1-1-1-1-1-1-1-1-1-1-1-1-1-1-2-1-1-1-1-1-2-1-1-1-1-1-2-1-1-1-1-1-2-1-1-1-1-1-2-1-1-1-2-1-1-1-1-1-2-1-1-1-1-1-2-1-1-1-2-1-1-1-1-1-2-1-1-1-1-1-1-1-2-1-1-1-1-1-1-1-1-1-1-1-1-1-1-1-1-1-1-1-1-1-1-1-1-1-1-1-1-1 0-1-1-1-1-1 0-1-1-1 0-1-1-1 0-1-1-1 0-1 0-1 0-1-1-1 0-1 0-1 0-1 0-1 0-1 0-1 0-1 1-1 0-1 0-1 0-1 1-1 0-1 1-1 0-1 1-1 1-1 0-1 1-1 1-1 1-1 0-1 1-1 1-1 1-1 1-1 1-1 1-1 2-1 1-1 1-1 1-1 1-1 2-1 1-1 1-1 2-1 1-1 1-1 2-1 1-1 2-1 1-1 1-1 2-1 1-1 2-1 1-1 2-1 1-1 2-1 1-1 2-1 1-1 1-1 2-1 1-1 1-1 2-1 1-1 1-1 2-1 1-1 1-1 1-1 2-1 1-1 1-1 1-1 1-1 1-1 1-1 1-1 1-1 0-1 1-1 1-1 1-1 0-1 1-1 0-1 1-1 0-1 1-1 0-1 1-1 0-1 0-1 0-1 0-1 0-1 0-1 0-1 0-1 0-1 0-1-1-1 0-1 0-1-1-1 0-1-1-1-1-1 0-1-1-1-1-1-1-1-1-1-1-1-1-1-1-1-1-1-2-1-1-1-1-1-1-1-2-1-1-1-2-1-1-1-2-1-1-1-2-1-1-1-2-1-2-1-1-1-2-1-2-1-1-1-2-1-2-1-2-1-1-1-2-1-2-1-2-1-1-1-2-1-2-1-1-1-2-1-2-1-1-1-2-1-2-1-1-1-2-1-1-1-2-1-1-1-2-1-1-1-2-1-1-1-1-1-1-1-2-1-1-1-1-1-1-1-1-1-1-1-1-1 0-1-1-1-1-1-1-1 0-1-1-1 0-1-1-1 0-1 0-1 0-1-1-1 0-1 0-1 0-1 0-1 1-1 0-1 0-1 0-1 1-1 0-1 1-1 0-1 1-1 0-1 1-1 1-1 1-1 1-1 1-1 1-1 1-1 1-1 1-1 1-1 1-1 2-1 1-1 1-1 2-1 1-1 2-1 1-1 2-1 1-1 2-1 1-1 2-1 2-1 1-1 2-1 2-1 2-1 1-1 2-1 2-1 2-1 2-1 1-1 2-1 2-1 2-1 2-1 2-1 1-1 2-1 2-1 2-1 2-1 1-1 2-1 2-1 2-1 1-1 2-1 2-1 1-1 2-1 1-1 2-1 1-1 2-1 1-1 2-1 1-1 1-1 1-1 2-1 1-1 1-1 1-1 1-1 1-1 1-1 1-1 1-1 0-1 1-1 1-1 0-1 1-1 0-1 1-1 0-1 0-1 1-1 0-1 0-1 0-1 0-1 0-1 0-1 0-1 0-1 0-1-1-1 0-1 0-1-1-1 0-1 0-1-1-1 0-1-1-1 0-1-1-1 0-1-1-1-1-1 0-1-1-1-1-1-1-1 0-1-1-1-1-1-1-1-1-1-1-1-1-1-1-1-1-1-1-1-1-1-1-1-1-1-1-1-1-1-2-1-1-1-1-1-1-1-1-1-2-1-1-1-1-1-1-1-2-1-1-1-1-1-2-1-1-1-1-1-2-1-1-1-1-1-2-1-1-1-1-1-2-1-1-1-1-1-2-1-1-1-1-1-2-1-1-1-1-1-2-1-1-1-1-1-1-1-2-1-1-1-1-1-1-1-1-1-2-1-1-1-1-1-1-1-1-1-1-1-1-1-1-1-1-1-1-1-1-1-1-1-1-1-1-1-1-1 0-1-1-1-1-1-1-1 0-1-1-1 0-1-1-1-1-1 0-1-1-1 0-1 0-1-1-1 0-1 0-1-1-1 0-1 0-1 0-1 0-1-1-1 0-1 0-1 0-1 1-1 0-1 0-1 0-1 0-1 1-1 0-1 0-1 1-1 0-1 1-1 1-1 0-1 1-1 1-1 0-1 1-1 1-1 1-1 1-1 1-1 1-1 1-1 1-1 1-1 1-1 1-1 1-1 1-1 1-1 2-1 1-1 1-1 1-1 2-1 1-1 2-1 2-1 2-1 2-1 2-1 2-1 2-1 2-1 2-1 2-1 2-1 2-1 2-1 2-1 2-1 2-1 2-1 2-1 2-1 2-1 2-1 2-1 2-1 2-1 2-1 2-1 2-1 2-1 2-1 1-1 1-9 9z" fill="#0000ff"/>
<path d="M1792 37l98 0 69 450 3 1 0 30-3 1-16 54-16 80-14 80-10 84-113 0-8-157-2-106-1-84 5-90 6-140z" fill="#ff0000"/>
<path d="M1959 485l1-1 1-1 1-2 1-2 1-2 1-2 1-2 1-2 1-2 1-2 1-2 1-2 1-2 1-2 1-2 1-2 1-2 1-2 1-2 1-2 1-2 1-2 1-2 1-2 1-2 1-2 1-2 1-2 1-2 1-2 1-2 1-1 1-2 1-1 1-1 1-1 1-2 1-1 1-1 1-1 1-1 1-1 1-1 1-1 1-1 1-1 1-1 1-1 1-1 1-1 1-1 1 0 1-1 1-1 1 0 1-1 1-1 1 0 1-1 1 0 1 0 1-1 1 0 1 0 1 0 1 0 1-1 1 0 1 0 1 0 1 1 1 0 1 0 1 0 1 0 1 1 1 0 1 0 1 1 1 0 1 0 1 1 1 0 1 1 1 1 1 0 1 1 1 0 1 1 1 1 1 1 1 0 1 1 1 1 1 1 1 1 1 1 1 1 1 1 1 1 1 1 1 1 1 1 1 1 1 1 1 1 1 2 1 1 1 1 1 1 1 1 1 2 1 1 1 1 1 1 1 2 1 1 1 1 1 2 1 1 1 1 1 2 1 1 1 1 1 2 1 1 1 1 1 2 1 1 1 1 1 2 1 1 1 1 1 2 1 1 1 1 1 2 1 1 1 1 1 1 1 2 1 1 1 1 1 1 1 1 1 2 1 1 1 1 1 1 1 1 1 1 1 1 1 1 1 1 1 1 1 1 1 1 1 1 1 1 1 1 1 0 1 1 1 1 1 1 1 0 1 1 1 1 1 0 1 1 1 0 1 1 1 0 1 1 1 0 1 0 1 1 1 0 1 0 1 1 1 0 1 0 1 0 1 0 1 0 1 0 1 0 1 0 1 0 1-1 1 0 1 0 1-1 1 0 1-1 1 0 1-1 1-1 1 0 1-1 1-1 1-1 1-1 1-1 1-1 1-1 1-1 1-2 1-1 1-1 1-1 1-2 1-1 1-2 1-1 1-2 1-1 1-2 1-1 1-2 1-2 1-1 1-2 1-2 1-2 1-1 1-2 1-2 1-2 1-2 1-1 1-2 1-2 1-2 1-2 1-2 1-1 1-2 1-2 1-2 1-2 1-1 1-2 1-2 1-2 1-1 1-2 1-2 1-1 1-2 1-1 1-2 1-1 1-2 1-1 1-2 1-1 1-1 1-2 1-1 1-1 1-1 1-1 1-1 1-1 1-1 1-1 1-1 1-1 1-1 1 0 1-1 1 0 1-1 1 0 1-1 1 0 1 0 1 0 1-1 1 0 1 0 1 0 1 0 1 1 1 0 1 0 1 0 1 1 1 0 1 1 1 0 1 1 1 1 1 1 1 0 1 1 1 1 1 1 1 1 1 1 1 1 1 2 1 1 1 1 1 1 1 2 1 1 1 2 1 1 1 2 1 1 1 2 1 1 1 2 1 2 1 1 1 2 1 2 1 1 1 2 1 2 1 1 1 2 1 2 1 2 1 1 1 2 1 2 1 2 1 1 1 2 1 2 1 1 1 2 1 2 1 1 1 2 1 1 1 2 1 1 1 2 1 1 1 2 1 1 1 1 1 1 1 2 1 1 1 1 1 1 1 1 1 1 1 1 1 1 1 1 1 0 1 1 1 1 1 0 1 1 1 0 1 0 1 1 1 0 1 0 1 0 1 0 1 0 1 0 1 0 1 0 1 0 1 0 1-1 1 0 1-1 1 0 1-1 1 0 1-1 1 0 1-1 1-1 1-1 1 0 1-1 1-1 1-1 1-1 1-1 1-1 1-1 1-1 1-2 1-1 1-1 1-1 1-2 1-1 1-1 1-2 1-1 1-1 1-2 1-1 1-1 1-2 1-1 1-2 1-1 1-2 1-1 1-2 1-1 1-2 1-1 1-1 1-2 1-1 1-2 1-1 1-1 1-2 1-1 1-1 1-2 1-1 1-1 1-1 1-1 1-2 1-1 1-1 1-1 1-1 1-1 1-1 1 0 1-1 1-1 1-1 1 0 1-1 1-1 1 0 1-1 1 0 1-1 1 0 1 0 1 0 1-1 1 0 1 0 1 0 1 0 1 0 1 0 1 0 1 1 1 0 1 0 1 0 1 1 1 0 1 1 1 0 1 1 1 0 1 1 1 1 1 0 1 1 1 1 1 1 1 1 1 1 1 1 1 1 1 1 1 1 1 1 1 1 1 1 1 1 1 1 1 2 1 1 1 1 1 1 1 2 1 1 1 1 1 2 1 1 1 2 1 1 1 1 1 2 1 1 1 1 1 2 1 1 1 2 1 1 1 1 1 2 1 1 1 1 1 2 1 1 1 1 1 2 1 1 1 1 1 2 1 1 1 1 1 1 1 1 1 1 1 1 1 1 1 1 1 1 1 1 1 1 1 1 1 1 1 1 1 0 1 1 1 1 1 0 1 1 1 0 1 1 1 0 1 1 1 0 1 0 1 1 1 0 1 0 1 0 1 0 1 0 1 0 1 0 1 0 1 0 1 0 1-1 1 0 1 0 1-1 1 0 1-1 1 0 1-1 1-1 1 0 1-1 1-1 1-1 1-1 1-1 1-1 1 0 1-1 1-2 1-1 1-1 1-1 1-1 1-1 1-2 1-1 1-1 1-1 1-2 1-1 1-1 1-2 1-1 1-2 1-1 1-1 1-2 1-1 1-2 1-1 1-2 1-1 1-2 1-1 1-1 1-2 1-1 1-2 1-1 1-2 1-1 1-1 1-2 1-1 1-1 1-2 1-1 1-1 1-1 1-1 1-2 1-1 1-1 1-1 1-1 1-1 1-1 1-1 1 0 1-1 1-1 1-1 1 0 1-1 1-1 1 0 1-1 1 0 1 0 1-1 1 0 1 0 1-1 1 0 1 0 1 0 1 0 1 0 1 0 1 0 1 0 1 1 1 0 1 0 1 1 1 0 1 1 1 0 1 1 1 0 1 1 1 1 1 0 1 1 1 1 1 1 1 1 1 1 1 1 1 1 1 1 1 1 1 1 1 1 1 1 1 1 1 2 1 1 1 1 1 1 1 2 1 1 1 1 1 2 1 1 1 2 1 1 1 1 1 2 1 1 1 2 1 1 1 1 1 2 1 1 1 2 1 1 1 1 1 2 1 1 1 2 1 1 1 1 1 2 1 1 1 1 1 1 1 2 1 1 1 1 1 1 1 1 1 1 1 1 1 1 1 1 1 1 1 1 1 1 1 1 1 1 1 0 1 1 1 1 1 0 1 1 1 0 1 1 1 0 1 1 1 0 1 0 1 1 1 0 1 0 1 0 1 0 1 0 1 0 1 0 1 0 1-1 1 0 1 0 1 0 1-1 1 0 1-1 1 0 1-1 1 0 1-1 1-1 1 0 1-1 1-1 1-1 1-1 1-1 1 0 1-1 1-1 1-2 1-1 1-1 1-1 1-1 1-1 1-1 1-1 1-2 1-1 1-1 1-1 1-2 1-1 1-1 1-2 1-1 1-1 1-2 1-1 1-1 1-2 1-1 1-1 1-2 1-1 1-1 1-2 1-1 1-1 1-1 1-2 1-1 1-1 1-1 1-2 1-1 1-1 1-1 1-1 1-1 1-1 1-1 1-1 1-1 1-1 1 0 1-1 1-1 1-1 1 0 1-1 1-1 1 0 1-1 1 0 1 0 1-1 1 0 1 0 1-1 1 0 1 0 1 0 1 0 1 0 1 0 1 0 1 0 1 0 1 0 1 1 1 0 1 0 1 1 1 0 1 1 1 0 1 1 1 0 1 1 1 1 1 0 1 1 1 1 1 1 1 1 1 1 1 0 1 1 1 1 1 1 1 2 1 1 1 1 1 1 1 1 1 1 1 1 1 2 1 1 1 1 1 1 1 1 1 2 1 1 1 1 1 2 1 1 1 1 1 2 1 1 1 1 1 1 1 2 1 1 1 1 1 2 1 1 1 1 1 1 1 2 1 1 1 1 1 1 1 1 1 1 1 1 1 1 1 2 1 1 1 1 1 0 1 1 1 1 1 1 1 1 1 1 1 1 1 0 1 1 1 1 1 0 1 1 1 0 1 1 1 0 1 0 1 1 1 0 1 0 1 1 1 0 1 0 1 0 1 0 1 0 1 0 1 0 1 0 1 0 1-1 1 0 1 0 1-1 1 0 1-1 1 0 1 0 1-1 1-1 1 0 1-1 1-1 1 0 1-1 1-1 1-1 1-1 1-1 1-1 1-1 1-1 1-1 1-1 1-1 1-1 1-1 1-1 1-1 1-2 1-1 1-1 1-1 1-1 1-2 1-1 1-1 1-1 1-2 1-1 1-1 1-2 1-1 1-1 1-2 1-1 1-1 1-1 1-2 1-1 1-1 1-1 1-2 1-1 1-1 1-1 1-1 1-1 1-1 1-2 1-1 1-1 1-1 1-1 1-1 1 0 1-1 1-1 1-1 1-1 1 0 1-1 1-1 1 0 1-1 1-1 1 0 1-1 1 0 1 0 1-1 1 0 1 0 1-1 1 0 1 0 1 0 1 0 1 0 1 0 1 0 1 0 1 0 1 1 1 0 1 0 1 1 1 0 1 1 1 0 1 1 1 0 1 1 1 1 1 0 1 1 1 1 1 1 1 1 1 0 1 1 1 1 1 1 1 1 1 2 1 1 1 1 1 1 1 1 1 1 1 2 1 1 1 1 1 1 1 2 1 1 1 1 1 2 1 1 1 1 1 2 1 1 1 1 1 2 1 1 1 1 1 2 1 1 1 1 1 2 1 1 1 1 1 2 1 1 1 1 1 1 1 2 1 1 1 1 1 1 1 1 1 1 1 1 1 1 1 1 1 1 1 1 1 1 1 1 1 1 1 1 1 0 1 1 1 1 1 0 1 1 1 0 1 1 1 0 1 1 1 0 1 0 1 0 1 1 1 0 1 0 1 0 1 0 1 0 1 0 1 0 1 0 1-1 1 0 1 0 1-1 1 0 1 0 1-1 1 0 1-1 1 0 1-1 1-1 1-1 1 0 1-1 1-1 1-1 1 0 1-1 1-1 1-1 1-1 1-1 1-1 1-1 1-1 1-1 1-1 1-2 1-1 1-1 1 0 0 100-1-1-1-1-1-1-1-1-1-1-1-1-1-1-1-1-1-1-1-2-1-1-1 0-1-1-1-1-1-1-1-1-1-1-1-1-1-1-1 0-1-1-1-1-1 0-1-1-1 0-1-1-1 0-1-1-1 0-1 0-1-1-1 0-1 0-1 0-1 0-1 0-1 0-1 0-1 0-1 0-1 0-1 0-1 1-1 0-1 0-1 1-1 0-1 1-1 0-1 1-1 1-1 1-1 0-1 1-1 1-1 1-1 1-1 1-1 1-1 1-1 1-1 1-1 1-1 1-1 1-1 1-1 2-1 1-1 1-1 1-1 2-1 1-1 1-1 2-1 1-1 2-1 1-1 1-1 2-1 1-1 2-1 1-1 1-1 2-1 1-1 2-1 1-1 1-1 2-1 1-1 1-1 2-1 1-1 1-1 1-1 2-1 1-1 1-1 1-1 1-1 1-1 1-1 1-1 1-1 1-1 1-1 1-1 1-1 1-1 0-1 1-1 1-1 0-1 1-1 1-1 0-1 0-1 1-1 0-1 0-1 1-1 0-1 0-1 0-1 0-1 0-1 0-1 0-1 0-1 0-1 0-1-1-1 0-1 0-1-1-1 0-1-1-1 0-1-1-1-1-1 0-1-1-1-1-1 0-1-1-1-1-1-1-1-1-1-1-1-1-1-1-1-1-1-1-1-1-1-1-1-1-1-1-1-2-1-1-1-1-1-1-1-2-1-1-1-1-1-2-1-1-1-1-1-2-1-1-1-1-1-2-1-1-1-2-1-1-1-1-1-2-1-1-1-1-1-2-1-1-1-1-1-2-1-1-1-1-1-2-1-1-1-1-1-1-1-2-1-1-1-1-1-1-1-1-1-1-1-1-1-1-1-1-1-1-1-1-1-1-1-1-1-1-1-1-1 0-1-1-1-1-1 0-1-1-1-1-1 0-1-1-1 0-1 0-1-1-1 0-1 0-1 0-1-1-1 0-1 0-1 0-1 0-1 0-1 0-1 1-1 0-1 0-1 0-1 1-1 0-1 1-1 0-1 0-1 1-1 1-1 0-1 1-1 1-1 0-1 1-1 1-1 1-1 1-1 1-1 1-1 1-1 1-1 1-1 1-1 1-1 1-1 1-1 1-1 2-1 1-1 1-1 1-1 2-1 1-1 1-1 1-1 2-1 1-1 1-1 2-1 1-1 1-1 1-1 2-1 1-1 1-1 2-1 1-1 1-1 1-1 2-1 1-1 1-1 1-1 1-1 1-1 1-1 1-1 1-1 1-1 1-1 1-1 1-1 1-1 1-1 1-1 1-1 0-1 1-1 1-1 0-1 1-1 0-1 1-1 0-1 1-1 0-1 0-1 1-1 0-1 0-1 0-1 0-1 0-1 0-1 0-1 0-1 0-1 0-1 0-1 0-1-1-1 0-1 0-1-1-1 0-1-1-1 0-1-1-1 0-1-1-1-1-1 0-1-1-1-1-1 0-1-1-1-1-1-1-1-1-1-1-1-1-1-1-1-1-1-1-1-1-1-1-1-1-1-1-1-1-1-1-1-1-1-1-1-1-1-1-1-1-1-2-1-1-1-1-1-1-1-1-1-1-1-1-1-1-1-2-1-1-1-1-1-1-1-1-1-1-1-1-1-1-1-1-1-1-1-1-1-1-1-1-1-1-1-1-1 0-1-1-1-1-1-1-1-1-1 0-1-1-1 0-1-1-1-1-1 0-1-1-1 0-1-1-1 0-1 0-1-1-1 0-1 0-1 0-1 0-1-1-1 0-1 0-1 0-1 1-1 0-1 0-1 0-1 0-1 1-1 0-1 1-1 0-1 1-1 0-1 1-1 1-1 1-1 0-1 1-1 1-1 1-1 1-1 1-1 1-1 1-1 1-1 2-1 1-1 1-1 2-1 1-1 1-1 2-1 1-1 1-1 2-1 1-1 2-1 1-1 2-1 1-1 2-1 1-1 2-1 2-1 1-1 2-1 1-1 2-1 1-1 2-1 1-1 2-1 1-1 2-1 1-1 2-1 1-1 1-1 2-1 1-1 1-1 1-1 2-1 1-1 1-1 1-1 1-1 1-1 1-1 1-1 1-1 1-1 1-1 0-1 1-1 1-1 0-1 1-1 0-1 1-1 0-1 0-1 0-1 1-1 0-1 0-1 0-1 0-1 0-1 0-1 0-1-1-1 0-1 0-1-1-1 0-1-1-1 0-1-1-1 0-1-1-1-1-1-1-1-1-1 0-1-1-1-1-1-1-1-1-1-2-1-1-1-1-1-1-1-1-1-2-1-1-1-1-1-2-1-1-1-1-1-2-1-1-1-2-1-1-1-2-1-2-1-1-1-2-1-1-1-2-1-2-1-1-1-2-1-2-1-1-1-2-1-2-1-1-1-2-1-2-1-1-1-2-1-2-1-1-1-2-1-1-1-2-1-1-1-2-1-1-1-2-1-1-1-2-1-1-1-2-1-1-1-1-1-2-1-1-1-1-1-1-1-1-1-2-1-1-1-1-1-1-1-1-1 0-1-1-1-1-1-1-1-1-1 0-1-1-1 0-1-1-1 0-1-1-1 0-1 0-1-1-1 0-1 0-1 0-1 0-1 0-1 0-1 0-1 0-1 0-1 0-1 1-1 0-1 0-1 1-1 0-1 1-1 0-1 1-1 0-1 1-1 0-1 1-1 1-1 0-1 1-1 1-1 1-1 1-1 1-1 0-1 1-1 1-1 1-1 1-1 1-1 2-1 1-1 1-1 1-1 1-1 1-1 1-1 2-1 1-1 1-1 1-1 2-1 1-1 1-1 1-1 2-1 1-1 1-1 2-1 1-1 1-1 2-1 1-1 1-1 2-1 1-1 1-1 1-1 2-1 1-1 1-1 1-1 2-1 1-1 1-1 1-1 1-1 2-1 1-1 1-1 1-1 1-1 1-1 1-1 1-1 1-1 1-1 1-1 1-1 0-1 1-1 1-1 1-1 1-1 0-1 1-1 0-1 1-1 0-1 1-1 0-1 1-1 0-1 1-1 0-1 0-1 0-1 1-1 0-1 0-1 0-1 0-1 0-1 0-1-1-1 0-1 0-1 0-1 0-1-1-1 0-1-1-1 0-1-1-1-1-1 0-1-1-1-1-1-1-1 0-1-1-1-1-1-1-1-1-1-1-1-1-1-1-1-1-1-2-1-1-1-1-1-1-1-1-1-2-1-1-1-1-1-1-1-2-1-1-1-1-1-1-1-2-1-1-1-1-1-2-1-1-1-1-1-1-1-2-1-1-1-1-1-1-1-1-1-1-1-1-1-1-1-1-1-1-1-1-1-1-1-1-1-1-1-1-1-1-1 0-1-1-1 0-1-1-1-1-1 0-1 0-1-1-1 0-1 0-1-1-1 0-1 0-1 0-1 0-1 0-1 0-1 1-1 0-1 0-1 1-1 1-1 0-1 1-1 1-1 1-1 1-1 1-1 1-1 1-1 2-1 1-1 1-1 2-1 1-1 2-1 2-1 2-1 1-1 2-1 2-1 2-1 2-1 2-1 2-1 2-1 2-1 2-1 2-1 2-1 3-1 2-1 2-1 2-1 2-1 2-1 2-1 2-1 3-1 2-1 2-1 2-1 2-1 2-1 2-1 1-1 2-1 2-1 2-1 1-1 2-1 2-1 1-1 1-1 2-1 1-1 1-1 1-1 1-1 1-1 1-1 1-1 1-1 0-1 1-1 1-1 0-1 0-1 0-1 1-1 0-1 0-1 0-1-1-1 0-1 0-1 0-1-1-1 0-1 0-1-1-1 0-1-1-1-1-1 0-1-1-1-1-1-1-1-1-1-1-1-1-1-1-1-1-1-1-1-1-1-1-1-2-1-1-1-1-1-2-1-1-1-1-1-2-1-1-1-2-1-2-1-1-1-2-1-1-1-2-1-2-1-1-1-2-1-2-1-2-1-1-1-2-1-2-1-2-1-2-1-2-1-1-1-2-1-2-1-2-1-2-1-2-1-1-1-2-1-2-1-2-1-2-1-1-1-2-1-2-1-2-1-1-1-2-1-2-1-1-1-2-1-2-1-1-1-2-1-1-1-2-1-1-1-2-1-1-1-1-1-2-1-1-1-1-1-1-1-2-1-1-1-1-1-1-1-1-1-1-1-1-1 0-1-1-1-1-1-1-1 0-1-1-1 0-1-1-1 0-1-1-1 0-1 0-1-1-1 0-1 0-1 0-1 0-1 0-1 0-1 0-1 0-1 0-1 1-1 0-1 0-1 1-1 0-1 0-1 1-1 0-1 1-1 0-1 1-1 0-1 1-1 1-1 0-1 1-1 1-1 1-1 0-1 1-1 1-1 1-1 1-1 1-1 1-1 1-1 1-1 1-1 1-1 1-1 1-1 1-1 1-1 1-1 2-1 1-1 1-1 1-1 1-1 2-1 1-1 1-1 1-1 2-1 1-1 1-1 1-1 2-1 1-1 1-1 2-1 1-1 1-1 1-1 2-1 1-1 1-1 1-1 2-1 1-1 1-1 1-1 2-1 1-1 1-1 1-1 1-1 1-1 1-1 1-1 2-1 1-1 1-1 1-1 1-1 0-1 1-1 1-1 1-1 1-1 1-1 1-1 0-1 1-1 1-1 0-1 1-1 1-1 0-1 1-1 0-1 1-1 0-1 1-1 0-1 0-1 1-1 0-1 0-1 0-1 0-1 1-1 0-1 0-1 0-1 0-1-1-1 0-1 0-1 0-1 0-1-1-1 0-1 0-1-1-1 0-1-1-1 0-1-1-1-1-1 0-1-1-1-1-1-1-1 0-1-1-1-1-1-1-1-1-1-1-1-1-1-1-1-1-1-1-1-1-1-1-1-1-1-2-1-1-1-1-1-1-1-1-1-1-1-2-1-1-1-1-1-2-1-1-1-2-1-2-1-1-1-2-1-1-1-2-1-1-1-2-1-1-1-2-1-2-1-1-1-2-1-1-1-2-1-1-1-2-1-1-1-2-1-2-1-1-1-2-1-1-1-2-1-1-1-2-1-1-1-2-1-1-1-2-1-1z" fill="#ff0000"/>
</g>
<path d="M889 259.2H1544" stroke="#000" stroke-width="2"/>
<path d="M889 416v-9M889 11v9M921.8 416v-5.5M921.8 11v5.5M954.5 416v-5.5M954.5 11v5.5M987.2 416v-5.5M987.2 11v5.5M1020 416v-5.5M1020 11v5.5M1052.8 416v-9M1052.8 11v9M1085.5 416v-5.5M1085.5 11v5.5M1118.2 416v-5.5M1118.2 11v5.5M1151 416v-5.5M1151 11v5.5M1183.8 416v-5.5M1183.8 11v5.5M1216.5 416v-9M1216.5 11v9M1249.2 416v-5.5M1249.2 11v5.5M1282 416v-5.5M1282 11v5.5M1314.8 416v-5.5M1314.8 11v5.5M1347.5 416v-5.5M1347.5 11v5.5M1380.2 416v-9M1380.2 11v9M1413 416v-5.5M1413 11v5.5M1445.8 416v-5.5M1445.8 11v5.5M1478.5 416v-5.5M1478.5 11v5.5M1511.2 416v-5.5M1511.2 11v5.5M1544 416v-9M1544 11v9M889 409.8h9M1544 409.8h-9M889 391h5.5M1544 391h-5.5M889 372.2h5.5M1544 372.2h-5.5M889 353.3h5.5M1544 353.3h-5.5M889 334.5h9M1544 334.5h-9M889 315.7h5.5M1544 315.7h-5.5M889 296.9h5.5M1544 296.9h-5.5M889 278h5.5M1544 278h-5.5M889 259.2h9M1544 259.2h-9M889 240.4h5.5M1544 240.4h-5.5M889 221.5h5.5M1544 221.5h-5.5M889 202.7h5.5M1544 202.7h-5.5M889 183.9h9M1544 183.9h-9M889 165.1h5.5M1544 165.1h-5.5M889 146.2h5.5M1544 146.2h-5.5M889 127.4h5.5M1544 127.4h-5.5M889 108.6h9M1544 108.6h-9M889 89.7h5.5M1544 89.7h-5.5M889 70.9h5.5M1544 70.9h-5.5M889 52.1h5.5M1544 52.1h-5.5M889 33.2h9M1544 33.2h-9M889 14.4h5.5M1544 14.4h-5.5" stroke="#000" stroke-width="1.6" fill="none"/>
<rect x="889" y="11" width="655" height="405" fill="none" stroke="#000" stroke-width="2"/>
<text x="889" y="458.8" font-size="45" text-anchor="middle" letter-spacing="-2">0</text>
<text x="1052.8" y="458.8" font-size="45" text-anchor="middle" letter-spacing="-2">100</text>
<text x="1216.5" y="458.8" font-size="45" text-anchor="middle" letter-spacing="-2">200</text>
<text x="1380.2" y="458.8" font-size="45" text-anchor="middle" letter-spacing="-2">300</text>
<text x="1544" y="458.8" font-size="45" text-anchor="middle" letter-spacing="-2">400</text>
<text x="873" y="423.8" font-size="45" text-anchor="end" letter-spacing="-2">-4</text>
<text x="873" y="348.5" font-size="45" text-anchor="end" letter-spacing="-2">-2</text>
<text x="873" y="273.2" font-size="45" text-anchor="end" letter-spacing="-2">0</text>
<text x="873" y="197.9" font-size="45" text-anchor="end" letter-spacing="-2">2</text>
<text x="873" y="122.6" font-size="45" text-anchor="end" letter-spacing="-2">4</text>
<text x="873" y="47.2" font-size="45" text-anchor="end" letter-spacing="-2">6</text>
<text x="1170" y="506" font-size="50"><tspan font-style="italic">t</tspan><tspan dx="12">[ps]</tspan></text>
<g transform="translate(831.4,265.7) rotate(-90)" font-style="italic"><text x="-1" y="0" font-size="65">S</text><text x="29" y="12.4" font-size="38">z</text><text x="53" y="-2" font-size="50" font-style="normal">,</text><text x="84.7" y="0" font-size="65">S</text><text x="120" y="11.5" font-size="30">0</text></g>
<path d="M1386.6 297.7V332M1481.4 302.9V332M1390 330H1478" stroke="#000" stroke-width="1.6" fill="none"/>
<path d="M1386.6 330L1404.3 325.8L1404.3 334.2ZM1481.4 330L1463.7 325.8L1463.7 334.2Z" fill="#000"/>
<text x="1398" y="376" font-size="56" font-style="italic">T</text>
<text x="1433" y="394.3" font-size="33" font-style="italic">B</text>
<text x="1459" y="398" font-size="66">(b)</text>
<clipPath id="clipc"><rect x="147.6" y="562" width="572.4" height="577"/></clipPath>
<g clip-path="url(#clipc)"><g transform="scale(0.5)"><path d="M876 1674l11 4 11 4 11 2 12 1 12 0 12-1 12-3 11-4 12-5 11-7 10-8 10-8 9-10 9-11 7-12 7-13 6-14 4-14 4-15 2-16 1-16-1-16-2-17-3-17-4-17-6-16-7-17-9-16-10-16-11-15-12-15-14-14-15-13-16-12-17-11-18-11-18-9-20-7-20-7-21-5-21-4-22-2-22-1-22 1-22 2-22 3-22 5-22 7-21 8-21 9-20 10-19 13-19 13-17 14-17 16-16 17-14 17-14 19-12 19-10 20-9 21-8 21-7 22-5 21-3 22-2 23 0 22 1 21 2 22 4 21 5 21 7 20 8 20 9 18 11 18 11 17 13 16 13 14 14 14 15 12 16 11 16 10 17 9 16 7 18 5 17 5 17 3 17 1 17 0 16-1 16-2 16-4 15-5 14-6 13-7 12-8 12-8 10-10 9-11 8-11 7-11 5-12 5-12 2-13 2-12 0-13-1-12-2-12-4-12-5-11-6-11-7-10-9-9-9-8-10-7-11-7-12-5-13-4-13-2-14-2-14 0-14 1-14 3-15 4-14 6-14 7-14 8-13 10-13 11-11 12-12 14-10 14-9 16-8 17-7 18-5 18-4 20-3 20-1 20 0 21 2 21 4 21 5 22 7 21 8 21 10 20 12 20 13 20 15 18 16 18 17 17 19 16 20 14 22 13 22 12 23 10 24 8 25 7 25 6 26 3 26 2 26 0 27-2 26-4 26-5 25-7 25-9 24-11 24-12 22-14 22-16 20-16 19-19 18-19 16-20 15-22 13-22 11-23 10-23 8-24 6-25 4-24 3-25 0-24-1-24-2-24-5-23-6-22-7-22-9-21-11-19-11-19-13-17-14-16-15-14-16-13-16-12-17-10-17-8-18-7-17-5-18-3-17-2-17 0-17 1-16 3-15 4-15 6-13 7-13 7-11 10-10 9-9 11-7 12-6 12-5 12-3 13-1 13 0 13 2 13 3 12 5 12 6 12 7 10 9 10 10 9 11 8 13 7 13 6 14 4 14 3 15 1 16 0 16-2 16-4 16-5 16-6 16-9 15-9 14-12 14-13 13-14 12-16 11-17 9-18 8-19 7-21 5-21 4-21 2-23 0-23-1-23-4-23-5-24-7-23-9-23-10-22-13-22-14-22-16-20-17-19-19-18-20-17-22-16-22-14-24-12-25-11-26-9-26-8-27-5-27-4-28-2-28 1-27 2-27 4-27 6-27 8-26 9-25 11-24 13-23 15-22 16-20 17-20 19-18 20-16 21-14 22-13 22-11 24-10 23-7 24-6 25-4 24-2 24-1 25 2 23 3 23 4 23 7 22 7 21 9 20 11 19 12 17 12 17 14 15 15 13 15 12 16 11 17 9 17 8 17 6 17 4 17 3 17 1 17-1 16-2 16-3 15-5 14-6 13-7 12-8 11-10 10-10 9-11 8-12 6-13 5-13 3-13 2-14 0-14-1-14-2-13-4-14-5-13-7-12-8-12-9-12-11-10-12-10-12-8-14-8-14-6-16-5-16-3-16-3-17-1-17 1-18 2-17 4-18 5-17 6-17 8-17 10-16 11-16 12-14 14-14 14-13 17-12 17-11 18-10 20-8 20-7 21-6 22-4 22-2 23-1 23 0 24 2 23 4 24 6 23 7 24 8 22 10 23 12 22 13 21 14 20 16 20 17 18 19 18 19 16 20 15 22 14 22 12 23 11 24 10 24 8 25 6 25 5 25 3 25 1 25 0 25-1 25-4 24-4 24-7 23-7 22-10 22-10 20-12 20-13 19-14 17-16 16-16 15-17 14-18 12-18 10-20 9-19 8-20 6-20 5-20 3-21 1-20 0-20-1-19-3-19-4-19-6-18-7-17-8-16-9-15-11-14-11-14-12-12-13-10-14-10-14-8-15-7-15-5-16-4-15-3-16-1-15 0-15 2-15 3-15 4-14 6-13 7-12 9-12 9-11 11-10 11-8 13-8 13-6 14-5 15-3 15-2 16-1 16 1 16 2 17 4 16 5 16 7 16 9 16 9 15 12 14 12 14 14 12 15 12 17 11 17 10 18 8 20 7 20 6 21 4 21 3 23 1 22 0 23-3 22-3 23-6 23-7 22-9 22-10 22-12 20-14 20-15 20-17 18-18 17-20 16-21 14-22 14-23 11-24 10-25 9-26 7-26 5-27 3-28 1-27 0-28-2-27-4-28-6-27-7-27-10-26-11-26-13-25-14-23-16-23-17-22-18-20-20-19-21-17-22-16-23-15-24-12-24-11-25-9-25-8-25-6-25-3-26-2-25 0-25 1-24 3-24 5-23 7-22 8-21 10-20 11-19 12-17 13-16 15-15 15-13 16-12 17-10 18-8 18-7 18-5 18-4 18-1 18 0 18 1 18 3 16 5 16 6 16 7 14 8 13 10 12 11 11 11 10 13 8 13 7 13 5 14 3 14 2 15 1 14-1 14-3 14-5 13-6 13-7 12-9 11-10 10-12 9-12 8-14 6-15 5-16 4-16 2-18 0-17-1-18-3-19-5-18-6-18-8-18-10-18-11-17-13-16-15-16-16-15-18-14-19-12-20-11-21-10-23-8-23-7-24-5-25-3-25-1-26 0-25 2-26 4-26 6-25 8-25 10-25 12-23 13-23 16-22 16-21 19-19 20-19 21-16 23-15 23-14 25-11 26-10 26-8 28-6 27-5 28-2 28 0 28 1 28 4 28 6 27 7 27 9 26 11 25 12 24 15 23 15 22 17 21 18 19 19 18 21 16 21 14 22 13 22 11 23 9 23 8 24 6 23 3 23 3 23 0 23-1 22-3 21-5 21-6 20-7 18-9 18-10 16-11 15-12 14-13 12-14 11-15 9-15 7-15 7-16 4-16 3-15 2-16 0-15-2-15-3-15-4-14-6-13-6-12-8-11-9-10-10-9-11-8-12-7-12-5-12-4-13-2-14-1-13 0-13 2-14 4-13 4-12 6-13 8-11 9-11 10-10 11-9 13-8 13-7 14-6 16-4 16-3 16-2 17 0 18 1 18 2 18 4 18 6 19 7 18 8 17 10 18 12 16 13 16 14 16 15 14 17 14 18 12 18 12 20 10 21 8 21 8 22 6 23 4 23 3 23 2 24 0 23-2 24-3 23-5 24-7 22-8 23-9 21-11 21-13 20-14 20-15 18-16 17-18 16-18 14-20 13-20 12-22 11-22 8-22 8-23 6-23 4-24 3-23 1-24-1-24-2-23-3-23-5-22-7-22-8-22-9-20-10-20-12-18-13-18-14-16-14-16-16-14-16-13-17-11-17-10-18-9-18-7-19-6-18-4-18-3-19-2-18 0-17 1-17 3-17 4-16 5-15 6-14 7-13 9-12 9-12 10-10 11-9 12-7 12-7 12-5 13-3 13-3 14-1 13 0 13 2 13 3 13 4 12 6 12 6 11 8 10 9 10 10 9 10 7 12 7 12 5 13 5 14 3 14 2 14 0 14-1 15-2 15-3 14-5 14-7 14-7 14-9 13-11 12-11 11-13 11-14 10-15 8-16 7-17 7-17 5-19 3-19 2-20 1-20-1-20-2-21-4-20-6-21-7-20-8-20-11-20-11-19-13-19-15-17-16-17-17-16-18-15-20-13-20-13-22-11-22-9-23-8-24-7-24-5-24-3-25-2-25 0-25 1-25 4-25 5-24 6-24 8-23 10-22 12-22 12-20 14-20 16-18 16-17 18-16 19-14 20-13 20-12 21-9 22-8 22-7 23-5 22-3 23-2 22 0 23 2 22 3 21 5 21 6 20 8 20 8 18 10 17 12 17 12 15 13 14 14 12 14 11 15 10 16 8 15 7 16 5 16 4 16 2 16 1 15-1 15-2 14-3 13-5 13-6 12-7 11-7 9-9 9-10 7-10 6-11 4-12 4-12 2-11 0-13-1-11-2-12-4-12-5-11-7-10-7-10-9-9-10-8-11-7-12-6-12-5-14-3-14-2-14-1-15 0-15 2-15 4-15 5-15 7-14 8-14 9-13 11-13 13-12 13-11 15-10 16-8 17-8 18-6 19-4 20-4 21-1 20 0 22 2 21 3 22 5 22 7 21 8 21 10 21 12 20 13 20 15 18 16 18 18 16 19 16 20 14 21 12 22 12 23 9 24 8 24 7 24 4 25 3 25 1 26 0 25-2 24-4 25-6 23-8 23-9 23-10 21-12 21-14 19-15 18-16 17-17 15-18 14-19 12-20 11-20 9-21 8-21 6-21 4-22 3-21 0-22 0-21-2-20-4-20-5-20-7-18-7-18-9-17-10-15-11-15-12-13-13-12-13-10-14-10-15-7-14-7-15-5-15-3-15-3-14 0-15 0-14 2-13 3-12 5-12 5-11 7-10 7-9 9-8 9-7 10-6 10-4 11-4 12-2 11 0 12 1 11 2 12 3 11 4 11 6 10 7 10 8 10 9 8 10 8 11 6 12 6 13 5 13 3 14 2 14 1 14 0 15-1 15-3 15-5 15-5 14-7 14-8 14-10 13-11 13-12 12-13 11-14 10-15 9-16 8-17 7-18 5-19 4-19 3-19 2-20 0-21-1-20-3-21-4-20-5-21-7-20-9-20-9-19-11-19-13-18-13-17-15-17-16-15-17-14-17-14-19-12-19-11-21-10-20-8-22-7-21-6-22-4-22-3-22-1-22 0-22 2-22 3-21 4-21 6-21 7-19 8-19 10-18 10-18 12-16 13-15 14-14 14-13 16-12 16-10 16-10 17-7 18-7 17-5 18-4 18-3 18-1 18 0 18 2 17 2 17 4 17 5 16 7 15 7 14 8 14 9 12 10 12 11 11 11 9 12 9 12 7 13 6 13 5 13 4 14 2 13 1 13 0 13-1 13-3 12-3 12-5 11-6 11-7 9-8 9-9 8-10 8-10 6-11 5-12 4-12 2-13 2-13 0-14-1-13-2-14-4-13-5-14-6-13-7-13-9-12-9-12-11-11-12-11-13-9-14-9-15-8-16-7-16-5-17-5-18-3-18-2-19-1-19 1-19 2-19 3-19 5-19 6-19 7-19 9-18 11-18 11-17 13-16 14-15 16-15 16-13 18-13 18-11 20-10 20-8 21-8 22-6 22-4 23-3 23-2 24 1 23 1 24 3 23 5 23 6 23 8 23 9 22 10 21 12 21 13 20 15 19 16 17 16 17 18 16 19 14 19 13 20 12 21 10 22 9 21 7 23 6 22 4 22 3 22 1 22 0 22-2 22-3 20-5 21-6 19-7 19-9 18-10 17-11 15-12 15-13 13-13 12-15 11-15 9-15 8-16 7-16 5-17 4-16 2-16 1-17-1-15-2-16-3-15-5-14-6-13-6-13-9-12-8-10-10-10-11-8-11-7-12-6-13-5-13-3-13-1-13-1-13 1-13 3-13 4-12 5-12 7-11 8-10 9-10 11-9 11-7 13-7 14-5 14-4 15-3 16-1 17 0 16 1 18 4 17 4 17 7 17 8 18 9 16 11 16 12 16 14 15 15 14 17 13 18 12 18 11 20 9 21 9 22 6 23 5 23 4 24 2 24 0 24-1 24-3 25-5 24-6 24-9 23-10 23-12 22-13 21-15 21-16 19-18 18-19 17-21 15-22 14-22 12-24 11-24 9-26 8-25 5-26 4-27 2-27 0-26-1-27-4-26-5-26-7-25-8-25-11-24-11-23-13-22-15-21-16-19-17-19-18-16-19-16-20-14-20-12-21-11-22-9-22-8-22-5-22-4-22-3-21 0-22 1-20 2-21 4-19 5-19 7-17 8-17 10-15 10-15 12-13 12-11 13-10 14-9 14-7 15-6 15-4 15-3 16-1 15 0 15 2 14 3 15 5 13 6 13 7 12 8 11 10 11 10 9 12 8 12 7 13 5 13 4 14 3 14 1 15 0 14-2 15-3 14-4 14-6 14-8 13-8 12-10 12-12 11-12 10-14 9-15 7-16 7-16 5-18 4-18 3-19 1-19-1-19-1-20-4-20-5-20-7-20-8-19-9-19-12-19-12-18-14-17-16-17-16-15-18-15-19-13-20-13-21-10-22-10-23-8-23-7-24-5-25-4-25-2-25 0-25 1-25 3-24 4-25 6-24 8-24 9-23 11-22 12-22 14-21 15-19 16-19 17-17 19-16 19-15 21-13 21-12 22-10 22-9 23-8 24-5 23-4 24-3 24-1 24 1 23 2 23 4 23 5 23 7 21 7 21 10 20 10 19 12 18 13 17 14 16 14 15 16 13 16 12 17 11 17 9 18 7 17 7 18 4 19 4 18 2 17 0 18-1 17-3 17-4 16-5 15-6 15-8 13-8 13-10 12-11 10-12 9-12 9-13 6-14 6-14 4-15 3-15 1-15 0-15-2-15-3-15-4-15-6-14-7-13-8-14-10-12-10-11-12-11-13-10-14-8-15-8-16-6-16-5-17-4-17-2-18 0-18 0-18 3-18 3-19 6-18 6-17 9-18 9-17 12-16 12-15 14-15 16-13 16-13 18-11 19-10 20-9 21-7 22-6 22-5 23-3 24-1 24 0 25 2 24 4 25 5 25 7 24 9 24 11 24 12 23 13 22 15 22 17 20 18 20 19 18 20 18 22 16 23 14 23 14 25 11 25 10 26 9 26 6 27 5 27 3 27 2 26 0 27-2 27-4 26-6 25-7 25-9 24-10 23-12 22-13 20-15 20-15 18-17 17-18 16-19 14-20 12-21 11-21 9-21 7-22 6-22 4-22 2-21 0-22-1-21-2-21-5-20-5-19-7-19-9-17-10-16-10-16-12-14-13-12-14-11-14-10-15-8-15-7-16-5-15-4-16-2-15 0-16 1-14 3-15 4-13 6-13 7-12 9-10 9-10 11-8 11-7 13-6 13-4 14-3 15-1 15 1 15 2 15 4 15 6 15 7 14 9 14 10 14 12 13 13 11 15 11 16 9 17 9 18 6 19 6 20 4 21 2 21 0 21-1 22-4 22-5 22-6 22-9 21-11 21-12 20-14 19-16 19-18 17-19 16-20 14-22 13-24 12-24 10-26 8-26 6-27 4-28 2-28 0-29-2-29-4-28-6-28-8-28-10-28-12-27-14-26-16-24-18-24-19-23-21-21-22-19-23-18-25-16-25-14-27-13-27-10-28-9-28-6-28-5-29-2-28 0-28 1-27 4-27 6-26 7-26 10-24 11-23 12-22 14-20 16-19 16-17 18-16 19-14 19-12 21-10 20-9 21-6 22-5 21-3 21-1 21 0 20 2 20 4 19 5 19 7 17 8 16 9 15 11 14 11 13 12 11 13 9 13 8 14 6 14 5 14 3 14 2 14 0 14-2 13-3 12-4 12-6 11-7 9-9 9-9 8-10 6-12 5-12 3-13 2-13 1-13-1-14-3-14-4-14-6-13-7-13-8-13-11-12-11-11-13-11-14-9-15-8-16-7-18-6-18-5-18-3-20-1-20 0-20 2-20 4-20 5-20 6-20 9-20 10-19 12-18 13-18 15-16 16-16 18-14 19-13 20-12 21-10 22-9 23-7 24-6 24-4 25-2 25 0 26 2 25 3 26 5 25 7 25 8 25 10 24 12 23 14 22 15 21 16 20 18 19 19 18 20 17 21 14 21 14 23 12 24 10 23 8 25 7 24 5 25 4 24 1 25 0 24-2 24-3 23-5 23-7 21-8 21-9 20-11 19-12 18-13 16-14 16-15 13-16 13-17 11-17 9-18 8-18 7-18 5-18 3-18 2-19 0-17-1-18-2-17-4-16-5-16-6-15-8-14-8-13-9-11-10-11-11-10-12-8-12-7-12-5-13-5-13-3-13-1-13 0-13 1-12 3-12 3-12 6-11 6-10 7-10 9-8 10-8 10-6 11-5 13-4 12-3 14-2 13 0 14 1 15 3 14 3 15 6 14 6 14 8 14 10 13 10 12 12 12 13 12 14 10 16 9 16 8 17 7 18 6 18 5 19 3 20 2 20 0 20-1 21-3 20-4 21-6 20-7 20-8 19-11 19-11 18-13 17-15 17-15 15-17 15-18 13-19 12-21 11-21 9-21 8-23 6-23 5-24 3-24 1-24 0-24-2-24-3-24-5-24-6-23-9-23-9-23-11-21-13-21-14-20-15-18-16-18-17-16-18-16-19-13-20-13-21-11-21-9-21-8-22-6-22-5-22-3-22-2-22 0-21 2-21 2-20 5-20 6-19 7-18 8-17 9-16 11-15 12-14 12-12 13-12 14-9 15-9 14-7 16-5 15-4 15-3 16-1 15 0 15 1 14 3 14 4 14 6 12 6 12 7 11 9 10 9 9 10 7 10 7 11 5 12 4 12 2 11 1 12 0 12-2 12-3 11-4 11-5 11-7 9-8 9-9 8-11 7-11 6-12 4-13 4-13 2-15 1-14-1-15-2-15-3-16-5-15-7-15-8-15-9-14-11-14-12-13-14-13-14-11-16-11-17-9-18-8-19-7-20-6-20-4-21-2-22-1-22 1-22 2-22 4-22 6-21 7-22 9-21 11-20 12-19 14-19 15-18 17-16 17-15 20-14 20-13 21-11 23-9 23-8 23-7 25-4 24-3 25-1 25 1 25 2 25 4 25 6 24 8 24 9 23 11 22 12 21 13 20 15 19 16 18 17 17 19 15 19 14 19 12 20 10 21 9 21 8 22 5 21 4 21 3 21 1 21-1 20-3 20-3 19-5 18-7 17-8 16-9 15-10 14-11 13-12 11-12 10-14 9-13 7-14 6-15 4-14 3-15 1-14 0-14-1-13-3-14-3-12-5-12-7-11-7-10-8-9-9-8-9-7-11-6-11-4-11-4-11-2-12 0-11 1-12 2-11 3-11 5-11 6-10 7-9 8-9 9-7 11-7 11-6 12-4 13-3 14-3 14 0 14 0 15 2 15 3 15 5 16 6 15 7 15 9 14 10 14 12 14 12 12 14 12 15 11 16 10 17 9 18 8 19 6 19 6 20 4 21 2 20 1 22 0 21-2 21-4 21-4 21-7 21-8 20-9 20-11 19-12 18-13 18-15 16-16 16-17 14-18 13-18 12-20 10-21 10-21 7-22 7-22 4-22 4-23 2-23 0-22-1-23-3-22-4-22-6-22-7-21-8-20-10-20-10-19-12-18-13-16-14-16-15-15-16-13-16-12-17-11-17-10-18-8-18-6-19-6-18-4-18-2-19-2-18 1-17 1-17 3-17 4-16 5-16 6-14 8-14 8-12 9-12 11-11 11-9 11-9 12-7 13-6 13-4 13-4 14-2 13-1 14 1 13 1 13 3 13 4 13 5 12 6 11 8 11 8 10 9 9 10 8 11 7 11 6 13 5 12 4 13 3 14 1 13 1 14-1 14-2 14-4 14-5 13-6 13-7 13-8 12-10 11-10 11-12 10-13 9-14 8-14 7-16 6-16 5-17 3-17 3-18 1-19 0-18-2-19-3-19-4-19-5-19-7-19-9-18-9-19-11-17-13-17-13-16-15-16-15-15-17-13-18-13-19-12-19-10-21-9-21-8-21-7-22-5-23-4-23-3-23-1-23 1-23 2-22 3-23 5-22 6-22 8-21 9-21 10-20 12-19 13-18 14-18 15-16 16-15 17-13 18-13 19-11 19-10 20-9 21-7 20-5 22-4 21-3 21-1 21 0 22 1 20 3 21 5 20 5 19 7 19 9 18 9 17 10 16 12 16 12 14 13 13 14 12 15 10 15 9 15 8 16 7 16 5 16 4 16 2 16 1 15-1 16-1 14-3 15-5 13-5 13-7 12-7 11-9 10-10 9-10 8-12 6-12 5-12 4-13 2-13 1-14 0-14-2-13-3-14-4-13-6-13-8-12-8-12-10-11-12-10-12-9-13-8-15-8-15-6-16-4-17-4-17-2-18 0-18 1-19 3-18 4-19 5-18 8-18 8-18 11-17 12-17 13-16 15-15 16-13 18-13 19-12 20-10 21-9 22-7 22-6 24-4 24-2 25-1 25 1 26 3 25 5 26 6 25 8 25 10 24 12 24 13 23 16 23 16 21 18 20 20 19 21 18 22 16 23 15 24 13 25 12 25 10 27 8 27 6 27 5 27 2 27 1 27-1 27-3 27-5 25-7 26-8 24-10 24-11 22-13 21-15 20-16 19-17 17-18 16-19 14-19 12-21 11-21 9-21 8-22 5-22 4-22 2-22 1-21-2-21-3-20-4-20-6-19-7-18-9-17-9-16-11-14-12-13-13-12-13-11-14-8-15-8-14-6-15-4-15-2-15-1-15 0-14 2-14 4-13 5-12 6-11 8-11 9-9 10-8 11-7 11-6 13-4 13-3 14-1 14 1 15 2 14 3 15 6 14 6 15 8 13 10 13 11 13 13 11 14 11 15 10 16 8 17 7 18 6 19 4 20 3 20 1 21 0 21-2 21-4 22-5 21-7 21-9 20-10 20-13 19-13 19-16 17-17 16-18 16-19 14-21 12-22 11-24 10-24 8-24 6-26 5-26 3-27 0-27 0-27-3-27-5-26-6-27-9-26-10-26-11-25-14-24-15-23-16-22-18-21-20-20-20-18-22-17-23-16-23-13-25-13-25-10-25-9-26-6-26-6-27-3-26-1-26 0-26 2-25 4-25 5-24 7-23 9-22 10-21 11-20 13-19 14-18 15-16 16-15 17-13 18-12 18-10 19-8 19-7 20-6 19-3 20-2 19 0 19 1 19 2 19 5 17 5 17 7 16 8 15 9 15 11 13 11 11 12 11 13 9 14 8 14 7 15 4 15 4 15 2 15 0 15-1 14-2 15-4 14-5 13-7 13-8 12-10 11-10 10-12 9-12 8-14 6-14 5-16 4-15 3-17 1-17-1-17-2-17-3-17-5-17-7-17-8-17-9-16-12-16-12-15-14-14-15-13-16-13-18-11-18-10-20-9-20-7-22-6-22-4-22-3-23-2-23 0-24 2-23 4-24 5-23 7-23 9-23 10-22 12-22 13-20 15-20 16-19 18-18 19-16 20-15 22-14 22-13 24-11 24-9 25-8 25-6 27-4 26-2 27-1 27 1 26 2 27 5 26 6 26 7 26 10 25 11 24 12 23 14 22 15 21 16 20 18 19 19 17 19 16 21 14 21 13 22 11 22 10 23 8 23 6 22 4 23 3 23 1 23 0 22-2 21-4 21-5 20-6 19-8 19-10 17-10 16-12 15-12 13-14 12-14 11-15 9-16 7-16 6-16 5-17 2-16 2-17 0-16-2-16-3-15-5-15-6-14-8-13-8-12-10-11-10-10-12-9-13-8-13-6-14-5-14-3-14-2-15 0-15 2-15 2-14 5-15 6-13 8-13 9-13 10-11 12-11 13-9 14-8 16-7 16-6 17-3 19-3 18-1 20 1 19 3 20 4 20 6 20 8 20 9 20 12 19 13 18 14 18 16 17 18 16 19 15 20 13 22 12 23 11 24 9 25 7 25 6 26 4 27 2 27 0 27-2 27-4 27-6 27-7 26-10 26-11 25-13 24-15 23-17 22-18 20-20 20-21 17-23 16-24 15-24 12-26 11-26 9-27 7-28 5-27 3-28 1-28-1-28-3-27-5-27-7-27-8-25-10-25-12-23-13-23-15-21-16-20-17-18-19-17-19-15-20-13-21-12-21-10-21-8-22-6-22-5-21-3-22-1-21 1-20 2-19 4-19 6-18 6-17 9-15 9-15 10-13 12-11 12-10 13-9 14-7 14-5 14-4 14-3 14 0 15 0 13 3 14 3 13 5 12 7 11 7 11 9 9 10 8 10 7 12 6 12 4 12 3 13 1 13 0 13-2 14-3 13-4 12-7 13-7 11-9 11-11 10-11 9-13 8-14 7-15 6-16 4-17 3-18 1-18 0-18-2-19-4-19-5-19-6-19-9-19-10-19-11-17-13-18-15-16-16-16-17-14-19-13-20-12-21-11-21-10-23-7-23-7-24-4-25-3-25-2-25 1-25 2-24 4-25 6-25 7-23 9-24 11-22 12-22 14-20 16-20 16-18 18-17 19-16 21-14 21-13 22-11 23-9 23-8 24-6 24-4 25-3 24-1 24 1 25 2 24 4 23 6 23 7 22 8 22 10 21 12 19 12 19 14 17 14 17 16 14 16 14 17 12 17 11 18 9 19 8 18 6 19 5 18 3 19 2 18 0 17-1 18-2 16-4 16-5 15-6 15-8 13-8 12-9 11-10 10-11 9-11 8-12 6-12 5-13 3-13 3-13 1-13-1-12-1-13-3-12-4-12-6-11-6-11-7-9-9-9-9-9-11-7-11-6-11-5-13-4-12-2-14-2-13 0-14 1-13 2-14 4-14 5-13 6-13 7-13 9-12 10-11 10-11 12-9 13-9 14-8 15-7 16-6 16-5 17-4 18-2 18-1 18 0 19 2 19 3 19 4 19 6 19 7 18 8 18 10 18 11 17 12 17 13 16 15 15 15 14 17 13 17 12 18 11 19 10 20 9 20 7 21 6 21 5 22 4 22 2 22 0 22-1 21-2 22-4 21-5 21-6 21-8 19-8 20-11 18-11 18-12 16-14 16-15 15-15 13-16 13-17 11-18 10-18 8-19 7-19 6-19 5-20 3-19 2-20 1-19-1-19-2-19-3-18-5-18-6-18-6-16-8-16-9-15-10-14-10-13-12-12-12-11-12-10-14-9-13-7-14-7-14-5-14-3-14-3-14-1-14 0-14 1-13 2-13 4-12 5-12 5-10 7-10 7-9 9-8 9-8 10-6 11-5 11-3 11-3 12-1 12 0 12 1 12 2 13 4 12 4 11 6 12 8 11 8 10 9 10 11 9 11 8 12 7 13 6 14 5 15 5 15 2 15 2 16 0 17 0 16-3 16-3 17-5 16-7 16-7 16-9 15-10 15-12 14-13 13-14 12-15 11-16 11-17 9-18 8-19 7-20 5-20 4-21 2-21 2-21-1-22-2-22-3-22-5-22-6-21-8-21-9-21-11-20-12-19-14-19-14-18-16-16-17-16-18-15-19-13-20-12-21-11-21-9-21-8-23-6-22-5-23-3-22-2-23 0-22 1-22 3-22 4-21 6-21 7-20 8-19 10-18 10-17 12-16 13-15 14-13 15-13 15-11 16-9 17-9 17-6 17-6 17-4 18-2 17-1 17 0 17 2 16 2 16 5 15 5 15 6 13 8 13 8 12 9 11 10 9 11 9 11 7 12 6 12 5 12 3 12 2 12 1 12-1 12-1 11-3 11-5 10-5 10-7 9-7 8-9 7-9 6-10 5-11 4-12 2-12 1-12 0-13-1-13-3-13-4-12-5-13-7-12-8-12-9-12-10-11-12-10-12-9-14-8-15-7-15-6-17-5-17-4-17-2-18-1-19 0-18 2-19 3-19 5-19 6-18 8-18 9-18 10-17 12-16 14-16 14-15 16-13 17-13 18-11 20-11 20-8 21-8 21-6 22-4 23-3 23-2 23 0 24 2 23 3 24 5 23 6 23 8 22 10 22 10 21 13 21 13 19 15 19 16 17 16 17 18 15 19 13 20 13 20 11 21 10 21 8 21 6 22 5 22 4 22 2 21 1 22-1 21-3 20-4 20-5 20-6 18-8 18-9 17-10 15-11 15-12 13-13 12-14 11-14 10-15 8-15 7-16 5-16 4-16 3-16 1-16 0-15-1-15-3-15-4-14-5-14-6-13-8-12-8-11-9-10-10-10-11-8-11-7-12-5-13-5-12-3-13-2-13-1-13 1-13 2-13 3-12 4-12 6-12 7-10 8-11 9-9 10-8 11-8 12-6 13-6 14-4 14-3 15-2 15 0 15 0 16 3 16 3 16 5 16 6 16 8 16 9 15 10 15 12 14 13 14 14 12 15 12 16 11 17 10 18 9 19 7 19 7 20 5 21 4 21 2 22 1 22-1 22-2 22-3 22-5 21-6 22-8 21-9 20-11 20-12 19-14 19-14 17-16 17-17 15-18 14-19 13-20 12-21 11-22 9-22 7-22 6-24 5-23 3-24 1-23 0-24-1-24-3-23-5-23-6-22-7-22-9-22-11-20-11-20-13-19-13-17-15-17-16-16-17-14-17-13-18-11-19-10-19-9-19-7-20-6-19-5-20-2-20-2-19 0-19 2-19 3-18 4-17 5-17 7-16 8-15 9-14 10-13 11-11 12-11 12-9 14-7 13-7 14-5 15-4 15-2 14-1 15 1 14 2 15 4 13 4 14 6 12 8 12 8 12 10 10 10 9 12 8 12 7 13 6 14 4 15 3 14 1 15 1 16-2 15-3 15-4 15-6 15-8 14-9 14-10 13-12 12-13 11-14 10-16 9-17 8-18 7-18 5-20 3-20 2-21 0-22-1-21-3-22-5-23-6-22-8-22-10-21-12-21-13-21-15-19-17-19-18-18-19-17-21-15-22-15-24-12-24-11-26-10-26-8-27-6-27-4-28-2-28 0-28 1-28 4-28 5-27 8-27 9-27 11-25 13-25 15-23 16-23 18-21 20-19 20-18 22-17 24-15 24-12 25-11 26-10 26-7 27-5 27-3 27-2 27 1 27 2 27 5 26 6 25 8 24 9 24 12 23 12 21 14 20 16 19 16 17 18 15 18 14 19 12 19 11 20 8 20 7 20 5 20 3 20 2 19-1 19-1 18-4 18-5 16-7 15-7 14-9 13-11 11-11 10-12 8-12 7-14 5-13 3-14 2-14 0-14-2-14-3-13-5-13-6-12-8-11-10-10-10-9-12-8-13-7-13-5-15-3-15-2-16-1-16 1-16 4-16 4-16 7-16 8-15 10-15 12-14 13-13 15-12 17-10 18-10 19-7 20-7 21-4 23-3 23-1 23 1 24 3 25 5 24 7 25 9 24 11 24 13 23 15 23 16 21 19 21 20 20 22 18 23 16 25 15 26 14 27 11 28 10 29 7 30 6 30 3 30 2 31-1 30-3 30-6 30-7 29-10 29-11 28-14 26-15 26-18 24-19 22-20 21-22 20-24 17-25 16-25 14-27 11-27 10-28 8-29 5-28 4-29 1-28-1-29-3-28-5-27-6-26-9-26-10-24-12-24-14-22-14-21-16-19-18-17-18-16-19-14-20-13-20-10-20-9-21-7-21-5-21-3-20-2-20 1-20 2-18 3-18 6-17 6-16 8-15 10-13 10-12 12-11 12-9 13-7 14-6 14-4 14-3 15-1 15 1 14 2 14 4 14 6 14 7 12 8 12 10 11 11 10 12 8 13 8 14 6 14 4 16 4 16 1 16 0 17-1 16-4 17-4 17-7 16-8 15-10 16-11 14-12 13-15 13-15 11-17 11-18 9-19 7-20 6-21 5-22 2-22 2-23-1-24-2-23-4-24-6-23-8-23-9-23-11-23-13-22-15-21-16-20-17-20-20-18-20-17-22-16-23-14-24-13-25-11-25-9-27-8-27-6-27-4-28-3-28 0-28 1-27 3-28 6-27 6-27 9-25 10-25 12-25 14-23 15-22 16-20 18-20 19-18 21-16 21-15 22-13 23-12 24-10 24-8 24-6 25-4 25-3 25-1 24 1 25 2 23 4 24 6 23 7 21 9 21 10 20 11 19 13 18 13 16 15 15 15 14 16 12 17 11 17 9 18 7 18 6 18 4 17 3 18 1 17 0 17-2 17-4 15-5 15-6 14-7 13-9 12-10 11-11 10-11 8-13 7-13 5-13 4-14 3-15 1-14-1-15-2-14-3-14-5-14-7-13-8-13-9-12-10-11-12-10-13-9-14-8-15-7-15-6-17-4-17-2-17-1-18 0-18 2-18 4-18 6-18 6-17 9-18 10-16 12-16 13-15 15-14 16-13 17-12 19-10 20-10 20-7 22-6 23-5 23-3 24-1 24 1 25 2 25 4 24 6 25 8 24 9 24 12 24 13 23 14 22 16 21 18 20 19 19 21 18 21 16 23 15 24 13 25 11 25 10 26 8 27 7 27 4 27 3 27 1 27-1 27-3 26-5 26-6 25-9 25-9 23-12 23-13 21-14 20-16 19-17 18-18 15-19 15-19 12-21 11-21 9-22 8-21 6-22 4-22 2-22 0-22-1-21-2-21-5-20-5-19-7-18-9-18-10-16-10-15-12-14-13-12-13-11-14-10-14-8-15-6-15-5-15-3-15-2-15-1-14 1-14 3-13 4-13 5-11 6-11 8-10 9-9 9-7 11-6 11-5 12-3 12-2 13-1 13 1 13 3 12 4 13 5 12 7 12 8 12 10 10 11 10 12 9 13 8 14 6 15 6 15 4 17 3 17 1 17 0 18-2 18-3 18-5 18-7 17-8 17-9 17-12 16-12 15-14 15-16 13-17 12-18 11-19 10-20 8-21 7-22 6-23 3-23 2-23 1-24-2-24-3-24-5-24-6-24-8-24-10-23-12-22-13-21-14-21-16-20-17-18-19-17-19-16-21-15-22-13-22-12-23-10-24-8-24-7-25-5-24-4-25-1-25 0-24 1-24 4-23 4-23 7-23 8-21 9-21 11-19 12-18 13-17 15-16 15-15 16-13 17-12 17-10 19-9 18-7 19-6 19-4 19-3 19-1 18 0 19 2 18 3 17 4 17 6 16 6 15 8 15 9 13 10 12 10 11 11 10 12 9 12 7 13 7 13 4 13 4 13 2 13 1 13 0 12-2 12-3 12-4 11-5 10-6 10-8 9-8 8-9 7-10 5-11 5-11 4-12 2-12 1-12 0-13-1-13-3-13-4-13-5-12-6-12-7-12-9-12-10-11-11-10-12-9-12-9-14-8-15-6-15-6-16-5-16-3-17-2-18-2-17 1-18 1-18 3-18 4-18 5-18 7-17 8-17 9-16 10-16 12-15 12-15 14-14 15-12 16-12 16-11 18-9 18-9 19-7 19-6 20-5 20-3 21-2 21-1 21 1 21 2 21 3 21 4 20 6 21 7 19 9 20 9 18 11 18 12 17 13 17 14 15 14 15 16 13 16 12 17 12 17 10 18 9 19 7 19 7 19 5 19 4 19 2 19 2 19 0 19-2 18-2 18-4 18-4 17-6 16-7 16-8 14-9 14-10 14-10 12-12 11-11 10-13 9-13 8-13 6-14 6-14 4-14 3-15 2-14 1-14 0-14-2-13-3-13-3-13-5-12-6-12-6-11-8-10-8-9-9-9-10-7-10-7-11-5-11-5-12-3-12-2-12-1-12 0-13 1-12 3-12 3-12 5-11 6-11 7-10 8-10 9-9 10-9 11-7 11-7 13-5 13-5 14-4 14-2 15-1 16 0 15 1 16 2 16 3 16 5 16 6 16 8 16 8 15 10 15 11 14 12 14 13 13 14 12 15 11 16 10 17 10 18 8 18 7 19 6 20 5 20 3 20 2 21 1 21 0 21-2 20-4 21-4 21-7 20-7 19-9 19-10 19-11 17-13 17-13 16-15 15-16 14-16 13-18 12-18 10-19 10-20 7-20 7-21 5-21 4-21 2-21 1-21-1-21-1-21-4-21-4-20-6-19-7-19-9-19-9-17-11-17-11-15-13-15-13-13-14-13-15-11-15-10-16-8-16-7-16-6-16-5-17-3-16-2-16-1-16 1-15 2-15 3-14 4-13 6-13 6-12 8-11 8-10 9-8 10-8 10-6 11-5 12-4 11-3 12-1 12 0 12 1 12 2 12 4 11 5 11 6 10 7 9 8 9 10 8 10 7 11 6 12 5 12 3 13 3 13 1 14 0 14-2 14-2 14-5 14-5 13-7 13-8 13-10 12-11 12-12 10-13 10-14 9-16 7-16 6-17 5-18 4-19 2-19 1-20 0-20-2-20-4-21-5-20-7-20-9-20-9-20-12-19-13-18-14-18-16-16-17-16-18-15-19-13-20-12-22-11-22-10-23-8-23-6-24-5-24-3-25-2-25 0-24 2-25 4-24 5-24 6-23 9-23 9-22 12-21 12-20 15-19 15-17 16-17 18-15 18-14 20-12 20-11 21-9 21-8 22-6 22-4 22-3 22-1 22 0 21 2 22 4 20 5 20 6 20 8 19 8 17 10 17 12 15 12 15 13 13 13 12 15 10 14 9 16 8 15 6 16 5 16 3 15 2 16 1 15-1 14-3 15-4 13-4 13-7 12-7 10-8 10-9 9-10 8-11 6-12 5-12 4-12 2-13 1-13 0-13-2-13-3-13-4-12-6-12-7-12-9-11-9-10-11-9-12-9-12-7-14-7-14-5-15-4-16-2-16-2-16 0-17 2-17 3-17 4-17 6-16 7-16 9-16 10-15 12-15 13-14 14-13 16-11 16-11 18-10 19-8 19-7 21-6 21-4 22-3 22-1 23 0 23 2 23 4 23 5 23 6 23 9 23 9 22 12 22 13 21 14 20 16 19 16 18 19 18 19 16 20 15 21 13 23 12 22 11 24 9 24 8 24 6 25 4 25 3 25 1 25 0 25-2 24-4 24-5 24-6 23-9 22-9 21-11 20-12 19-14 19-15 17-15 15-17 14-17 13-18 12-19 10-20 8-19 7-20 6-21 3-20 3-20 0-20 0-20-2-19-4-19-5-18-6-17-8-17-9-16-9-14-11-14-12-12-13-11-13-10-14-9-14-7-15-6-15-4-15-3-15-2-15 0-15 1-14 3-14 4-14 6-13 6-12 8-11 9-10 10-9 11-8 12-7 13-5 14-5 14-2 15-2 15 0 15 2 15 3 16 5 15 6 15 7 15 9 14 11 14 12 13 13 12 14 11 16 10 16 9 18 8 19 6 19 5 20 4 21 2 21 1 21-2 22-2 22-5 22-6 22-7 21-10 21-11 20-13 20-14 19-16 18-17 16-19 16-20 14-21 13-23 12-23 10-25 8-25 7-26 5-27 3-27 1-27 0-27-3-28-4-27-6-27-8-27-10-26-11-25-13-25-15-24-17-22-18-22-19-20-20-18-22-18-23-15-24-14-24-12-25-11-26-9-26-6-26-5-27-3-26-2-26 1-26 2-25 5-24 6-24 7-23 10-22 10-20 12-20 14-18 15-16 15-16 17-13 18-12 18-10 18-9 20-6 19-5 19-4 20-1 19 0 19 2 18 3 18 5 17 6 16 8 15 9 14 9 12 11 12 12 9 13 9 13 7 14 5 14 4 14 2 14 0 14-1 14-3 13-5 13-6 12-7 11-9 10-11 9-11 8-13 6-14 5-14 3-16 2-16 0-16-2-17-3-17-5-17-7-17-9-16-10-16-12-16-14-15-15-13-17-13-18-12-20-10-21-9-22-7-23-5-23-4-25-2-25 0-25 2-25 4-26 6-25 8-25 10-24 12-24 14-23 16-22 17-21 20-19 21-18 22-17 25-15 25-13 27-11 27-9 29-8 29-5 30-3 30 0 30 1 31 4 30 5 30 8 30 10 29 12 28 14 27 16 26 17 25 19 23 21 22 22 21 24 18 24 17 26 15 26 12 27 11 28 9 28 7 27 4 28 3 28 0 27-1 27-4 26-5 25-7 25-9 23-11 22-12 20-13 19-15 18-16 16-17 14-18 12-18 11-19 9-20 7-19 5-20 4-20 1-19 0-19-2-18-3-18-5-17-7-16-7-15-9-14-10-12-12-11-11-10-13-8-13-7-14-5-14-3-14-2-15 0-14 2-13 3-14 5-12 6-12 8-11 9-11 10-9 11-8 13-6 14-6 14-3 16-3 16-1 16 1 17 3 17 4 17 5 17 8 17 9 16 10 16 13 16 13 14 15 14 17 12 17 12 19 10 20 9 21 8 22 6 22 5 23 3 24 1 24 0 24-3 24-4 24-5 24-8 24-9 23-11 22-12 22-15 21-15 20-18 18-18 18-20 16-22 15-22 13-23 12-25 10-25 8-26 7-26 5-27 3-27 1-27 0-27-3-27-4-27-5-26-8-26-9-26-11-24-12-24-14-22-15-22-17-20-17-19-19-18-20-16-21-15-21-14-22-11-22-10-23-9-24-7-23-5-23-3-23-2-23 0-23 1-22 3-22 5-20 6-20 7-19 8-19 10-17 11-15 12-15 13-13 14-12 14-11 16-9 15-7 16-6 17-5 16-3 17-2 16 0 16 1 16 3 15 4 15 5 15 6 13 8 13 9 12 10 11 10 9 12 9 12 7 13 6 13 5 14 4 14 2 15 0 14 0 15-2 14-4 14-5 13-6 13-8 13-8 12-11 11-11 10-12 9-13 8-15 7-15 5-16 5-17 3-17 1-17 1-18-2-19-2-18-5-19-5-18-7-18-9-18-10-18-11-16-13-17-15-15-15-15-17-13-17-13-19-11-20-11-21-9-21-7-22-6-23-5-23-3-24-2-24 0-24 1-24 3-23 5-24 6-23 8-23 10-22 10-22 13-20 13-20 16-19 16-18 17-16 19-15 20-14 20-13 22-11 22-9 22-8 24-7 23-5 24-3 24-2 24 0 24 2 23 3 23 5 23 6 22 7 22 9 21 10 19 12 19 12 18 14 17 15 15 15 14 16 13 17 11 17 10 18 9 18 7 18 5 18 4 18 3 18 1 18 0 17-2 17-3 16-5 15-6 14-6 14-8 12-9 12-10 10-11 9-11 8-12 6-12 5-13 4-13 2-13 1-14-1-13-2-13-3-12-4-12-6-11-7-11-8-10-9-9-11-8-11-7-12-6-12-5-13-3-14-2-14-1-14 1-14 2-15 4-14 5-14 6-13 8-14 9-12 11-12 12-11 13-10 14-9 15-7 16-7 18-5 18-4 18-3 20 0 19 0 20 2 21 4 20 5 21 7 20 9 20 10 19 11 19 13 19 15 17 16 17 17 15 18 15 20 13 20 12 22 11 22 9 23 8 24 6 24 4 25 3 24 1 25 0 25-2 24-4 24-6 24-7 23-8 23-11 21-12 21-13 20-14 18-16 18-17 16-18 14-19 13-19 12-21 10-21 9-21 7-22 5-22 4-22 2-22 1-22-1-21-3-21-4-21-5-20-7-19-8-19-9-17-11-16-11-15-13-14-13-13-14-12-14-10-15-8-15-8-16-5-16-5-15-3-16-1-15-1-15 1-14 3-14 4-13 4-12 6-11 7-11 8-9 9-9 10-7 10-6 11-4 11-4 12-2 12-1 12 1 12 2 11 3 12 4 11 6 11 7 10 7 9 9 9 10 8 11 7 12 6 13 5 13 4 13 2 15 1 14 0 15-1 15-3 15-4 15-5 14-7 15-8 14-9 13-10 13-12 12-13 11-14 10-15 9-16 9-17 7-18 5-19 5-19 3-20 2-20 1-20-1-21-3-20-3-21-6-20-6-21-9-20-9-19-11-19-12-19-13-17-15-17-16-16-16-15-18-13-19-13-19-11-20-10-21-9-22-7-21-6-22-5-23-3-22-1-22-1-23 2-22 2-21 5-22 5-20 7-20 8-20 10-18 10-18 12-17 13-16 13-14 15-14 16-12 16-11 16-10 18-8 17-7 18-6 19-5 18-3 18-1 19-1 18 1 18 2 17 4 17 4 16 6 16 7 15 7 14 9 14 10 12 10 11 11 11 11 9 12 8 13 7 13 5 13 5 13 3 13 2 13 1 13-1 13-1 12-3 12-4 11-5 11-6 10-7 9-8 8-8 7-10 7-10 5-11 4-12 3-11 2-13 1-12-1-13-1-12-3-13-5-13-5-12-7-12-7-11-9-12-10-10-11-10-12-9-13-8-14-7-15-6-15-5-16-4-17-3-17-2-17 0-18 1-17 2-18 3-18 5-18 7-17 7-17 9-17 10-16 12-15 12-15 14-14 15-13 16-12 17-11 18-10 19-8 20-7 20-6 21-5 21-3 22-2 22 0 22 1 22 3 23 4 22 6 21 7 22 8 21 10 20 11 20 13 19 14 18 14 17 16 16 17 15 18 14 19 13 19 11 20 10 21 9 21 7 21 5 22 4 21 3 22 1 21 0 22-2 20-3 21-4 19-6 19-7 19-9 17-9 16-11 16-11 14-13 13-13 12-14 11-15 9-15 8-15 6-16 5-16 4-16 2-16 1-15 0-16-2-15-3-14-4-14-5-13-7-12-7-11-9-11-9-9-10-8-10-7-11-5-12-4-12-3-12-2-11 0-12 1-12 2-11 4-11 5-11 6-9 8-9 9-8 9-7 11-6 12-5 12-3 13-3 14 0 14 0 15 2 15 4 15 4 15 7 15 8 14 9 14 11 14 12 13 14 12 15 11 16 10 17 9 18 8 19 6 20 5 21 4 21 2 22 0 22-1 22-3 22-5 22-6 22-9 22-10 21-11 20-14 20-14 18-17 18-18 16-19 15-21 14-21 12-23 10-24 9-25 7-25 5-26 4-26 1-27 0-26-2-27-5-26-6-26-7-26-10-25-11-24-13-23-15-22-16-21-18-20-18-18-20-17-21-16-22-13-23-12-23-10-24-9-24-6-24-5-24-3-24-1-24 1-23 2-23 4-22 6-21 7-20 9-19 11-18 11-16 13-15 13-14 15-12 15-11 16-9 16-7 17-6 17-4 17-2 17-1 17 0 16 3 16 4 15 5 14 6 14 8 12 9 11 9 10 11 9 11 7 12 6 13 5 12 3 13 1 13 0 13-1 13-4 12-4 12-6 11-8 11-8 9-10 8-12 8-12 6-13 5-14 3-15 2-15 0-16-1-16-3-17-4-16-6-17-8-16-9-16-11-15-12-14-14-14-15-13-17-12-18-11-19-9-20-8-21-6-22-5-22-4-23-1-24 0-24 1-23 4-24 5-24 8-23 9-23 10-23 13-21 14-21 16-20 17-19 19-17 20-16 22-15 23-13 24-11 24-10 26-8 26-6 27-5 27-2 28-1 28 1 27 3 28 5 27 7 27 8 26 11 25 11 25 14 24 15 22 16 21 18 20 19 19 20 17 21 16 22 14 22 12 23 11 24 9 23 7 24 6 24 3 24 2 24 0 23-1 23-3 22-5 21-6 20-8 20-9 18-11 17-11 16-13 15-14 13-14 12-15 10-16 9-17 7-16 5-17 4-17 3-17 1-17-1-17-2-16-4-16-5-15-6-14-8-13-9-12-10-12-11-10-11-9-13-8-13-6-14-5-14-3-14-3-15 0-15 1-14 2-15 4-14 5-13 7-13 8-13 10-11 11-11 12-9 13-9 14-7 15-6 16-5 17-3 17-2 18 0 19 1 18 3 19 4 19 6 19 8 19 9 18 11 18 12 17 14 17 15 16 17 14 18 14 19 13 20 11 22 10 22 9 23 7 24 6 24 4 25 2 25 1 26-1 25-3 26-4 25-6 25-8 25-10 24-11 23-13 23-14 22-16 20-18 20-19 18-20 17-21 16-23 14-23 12-24 11-25 9-26 8-26 5-26 4-27 2-27 0-26-1-27-3-26-5-26-7-25-8-25-10-24-12-23-12-21-15-21-15-19-16-19-18-16-19-16-19-13-20-13-21-10-21-9-21-7-21-6-22-4-21-2-21 0-21 1-20 2-19 5-19 5-18 7-17 9-16 9-15 11-13 11-12 13-11 13-9 14-8 15-6 14-5 16-3 15-1 15 0 15 1 15 3 14 5 14 6 13 7 13 9 11 10 10 11 10 11 8 13 7 14 5 14 4 15 2 15 1 15 0 16-3 15-4 15-5 15-7 15-9 14-10 13-12 13-13 11-15 10-16 9-17 8-18 6-19 5-20 4-21 1-21 0-22-2-22-3-23-6-22-7-22-9-22-11-22-12-21-15-21-16-19-17-19-20-18-20-16-22-15-23-14-25-12-25-10-26-9-27-6-28-5-28-3-29-1-28 1-29 3-28 4-28 7-27 9-27 11-26 12-26 15-24 16-23 17-22 19-20 21-19 22-17 23-15 24-14 25-11 26-10 26-8 27-6 27-4 27-3 27 0 28 2 26 4 27 5 25 7 25 9 25 11 23 12 22 13 20 15 20 16 18 17 16 18 15 18 13 20 12 19 9 20 9 21 6 20 4 20 3 20 1 19 0 19-2 18-4 18-5 16-7 16-8 14-9 13-10 12-11 10-12 9-13 8-13 5-14 5-14 2-15 1-14 0-14-2-14-4-13-5-14-6-12-8-11-9-11-11-10-11-9-13-7-13-6-15-5-15-3-15-2-16-1-16 2-16 2-17 5-16 6-16 7-15 9-15 11-15 12-14 13-12 15-12 16-11 17-9 18-8 20-7 20-5 21-4 21-2 23-1 22 1 23 3 23 5 23 6 23 8 23 9 22 11 22 13 21 14 21 16 19 17 19 18 17 20 17 20 15 22 13 23 12 24 11 24 9 25 8 26 6 25 4 26 3 27 0 26 0 26-3 25-4 26-6 24-8 25-9 23-11 23-12 21-13 21-15 19-16 18-17 17-19 16-19 14-20 13-20 11-22 9-21 8-22 7-23 5-22 3-23 2-22 0-22-1-22-3-22-4-20-6-21-7-19-8-19-10-17-10-17-12-16-12-14-13-13-14-12-15-11-15-9-15-8-16-7-16-5-16-4-16-2-16-1-16 0-16 2-15 3-14 4-14 5-13 7-12 8-12 8-10 10-9 10-9 12-7 12-6 12-5 13-3 14-3 14-1 14 1 14 1 14 3 14 4 14 6 13 6 13 8 13 9 12 11 11 11 11 12 10 13 9 15 8 14 6 16 6 16 5 17 3 17 2 18 1 17 0 18-2 18-3 18-5 18-5 18-7 17-9 17-9 16-11 16-12 15-14 14-14 13-16 12-16 12-18 10-18 9-19 8-20 6-20 6-21 4-21 2-22 2-22-1-22-1-22-3-22-4-22-6-21-7-21-9-21-10-21-11-19-12-19-13-18-15-17-15-17-17-15-17-14-18-13-19-12-20-11-20-9-20-8-21-7-21-5-22-4-21-2-21-1-22 0-20 2-21 2-20 5-20 5-19 7-18 8-17 9-17 10-16 11-14 12-14 12-12 14-12 14-10 14-9 15-7 16-6 15-5 16-4 16-3 16-1 16 1 15 1 16 3 14 4 15 5 13 6 13 7 12 8 12 8 10 10 9 11 9 11 7 11 6 12 5 12 3 13 3 12 1 13 0 13-1 12-3 12-4 12-5 11-6 11-7 10-9 9-9 8-11 7-11 7-12 5-13 4-14 3-14 2-14 0-15-1-15-2-16-3-15-5-15-7-15-8-15-9-14-10-14-12-14-12-12-14-12-15-11-17-9-17-9-18-8-18-6-20-5-20-4-21-2-20-1-22 1-21 2-21 4-22 5-21 7-20 8-21 10-20 11-19 12-18 14-17 15-17 17-15 17-15 19-13 20-11 20-11 21-9 22-7 23-6 23-4 23-3 24-1 23 0 24 2 23 4 23 5 23 7 22 8 22 9 20 11 20 12 19 13 18 15 17 15 16 16 14 17 13 18 12 18 10 19 9 19 7 19 6 20 4 19 3 19 1 19 0 18-2 18-3 17-4 17-6 16-6 15-8 13-9 13-10 12-11 10-11 9-12 8-13 7-13 5-13 3-13 3-14 1-13 0-13-2-13-3-12-4-12-5-11-7-10-7-10-9-8-9-8-10-6-10-6-12-4-11-3-12-1-13-1-12 1-12 3-12 3-12 6-12 6-11 8-10 8-10 10-9 11-8 13-7 13-6 14-4 15-4 15-2 16-1 17 1 16 2 17 3 18 5 17 6 17 8 17 9 16 11 17 12 15 13 15 15 14 16 13 17 12 18 11 19 9 20 9 20 7 22 5 21 5 23 2 22 2 23-1 23-2 23-3 22-5 23-7 22-8 21-9 21-11 20-13 19-14 19-15 17-16 16-18 15-18 13-19 13-20 10-21 10-22 8-22 6-22 5-23 3-22 2-23 0-23-2-22-3-22-4-22-6-21-7-20-9-20-10-19-11-17-12-17-13-16-14-14-15-14-15-12-16-10-17-10-17-8-17-6-17-5-18-4-17-2-17-1-17 0-17 2-16 3-15 4-15 5-14 7-13 7-12 9-11 9-10 10-9 11-7 11-7 12-5 12-4 12-3 13-1 12 0 13 1 12 2 12 4 12 5 11 6 11 7 9 8 10 9 8 10 7 10 7 12 5 12 5 12 3 13 2 14 0 13 0 14-2 13-4 14-4 13-6 14-7 12-8 12-10 12-10 11-12 10-13 9-14 9-15 7-16 6-16 5-17 4-18 2-19 1-18 0-19-2-20-3-19-4-20-6-19-7-19-9-19-10-18-11-18-13-17-14-16-15-16-17-15-17-13-18-13-20-11-20-10-21-9-21-7-22-6-23-5-23-3-23-2-23 0-23 2-23 3-23 4-22 6-22 7-21 9-21 10-20 12-19 13-19 14-17 15-16 16-15 17-13 18-13 19-11 19-9 20-8 20-7 21-5 21-4 21-2 21-1 21 1 20 2 21 4 19 5 20 6 18 7 18 9 17 9 16 11 15 12 14 12 13 13 12 14 10 14 9 15 8 14 6 15 5 16 4 15 2 14 1 15 0 14-2 14-3 13-4 12-6 11-6 11-7 9-9 9-9 7-10 6-10 5-11 4-12 2-12" fill="none" stroke="#ff0000" stroke-width="2.3"/></g></g>
<path d="M432.7 562V1139M147.6 847.4H720" stroke="#000" stroke-width="2" fill="none"/>
<path d="M159.6 1139v-5.5M159.6 562v5.5M176.7 1139v-9M176.7 562v9M193.8 1139v-5.5M193.8 562v5.5M210.8 1139v-5.5M210.8 562v5.5M227.9 1139v-5.5M227.9 562v5.5M245 1139v-5.5M245 562v5.5M262 1139v-9M262 562v9M279.1 1139v-5.5M279.1 562v5.5M296.2 1139v-5.5M296.2 562v5.5M313.2 1139v-5.5M313.2 562v5.5M330.3 1139v-5.5M330.3 562v5.5M347.4 1139v-9M347.4 562v9M364.4 1139v-5.5M364.4 562v5.5M381.5 1139v-5.5M381.5 562v5.5M398.6 1139v-5.5M398.6 562v5.5M415.6 1139v-5.5M415.6 562v5.5M432.7 1139v-9M432.7 562v9M449.8 1139v-5.5M449.8 562v5.5M466.8 1139v-5.5M466.8 562v5.5M483.9 1139v-5.5M483.9 562v5.5M501 1139v-5.5M501 562v5.5M518 1139v-9M518 562v9M535.1 1139v-5.5M535.1 562v5.5M552.2 1139v-5.5M552.2 562v5.5M569.2 1139v-5.5M569.2 562v5.5M586.3 1139v-5.5M586.3 562v5.5M603.4 1139v-9M603.4 562v9M620.4 1139v-5.5M620.4 562v5.5M637.5 1139v-5.5M637.5 562v5.5M654.6 1139v-5.5M654.6 562v5.5M671.6 1139v-5.5M671.6 562v5.5M688.7 1139v-9M688.7 562v9M705.8 1139v-5.5M705.8 562v5.5M147.6 1119.7h5.5M720 1119.7h-5.5M147.6 1102.7h9M720 1102.7h-9M147.6 1085.7h5.5M720 1085.7h-5.5M147.6 1068.7h5.5M720 1068.7h-5.5M147.6 1051.6h5.5M720 1051.6h-5.5M147.6 1034.6h5.5M720 1034.6h-5.5M147.6 1017.6h9M720 1017.6h-9M147.6 1000.6h5.5M720 1000.6h-5.5M147.6 983.6h5.5M720 983.6h-5.5M147.6 966.5h5.5M720 966.5h-5.5M147.6 949.5h5.5M720 949.5h-5.5M147.6 932.5h9M720 932.5h-9M147.6 915.5h5.5M720 915.5h-5.5M147.6 898.5h5.5M720 898.5h-5.5M147.6 881.4h5.5M720 881.4h-5.5M147.6 864.4h5.5M720 864.4h-5.5M147.6 847.4h9M720 847.4h-9M147.6 830.4h5.5M720 830.4h-5.5M147.6 813.4h5.5M720 813.4h-5.5M147.6 796.3h5.5M720 796.3h-5.5M147.6 779.3h5.5M720 779.3h-5.5M147.6 762.3h9M720 762.3h-9M147.6 745.3h5.5M720 745.3h-5.5M147.6 728.3h5.5M720 728.3h-5.5M147.6 711.2h5.5M720 711.2h-5.5M147.6 694.2h5.5M720 694.2h-5.5M147.6 677.2h9M720 677.2h-9M147.6 660.2h5.5M720 660.2h-5.5M147.6 643.2h5.5M720 643.2h-5.5M147.6 626.1h5.5M720 626.1h-5.5M147.6 609.1h5.5M720 609.1h-5.5M147.6 592.1h9M720 592.1h-9M147.6 575.1h5.5M720 575.1h-5.5" stroke="#000" stroke-width="1.6" fill="none"/>
<rect x="147.6" y="562" width="572.4" height="577" fill="none" stroke="#000" stroke-width="2"/>
<text x="168.7" y="1191.8" font-size="50" text-anchor="middle" letter-spacing="-2">-3</text>
<text x="134.5" y="1119.3" font-size="50" text-anchor="end" letter-spacing="-2">-3</text>
<text x="254" y="1191.8" font-size="50" text-anchor="middle" letter-spacing="-2">-2</text>
<text x="134.5" y="1034.2" font-size="50" text-anchor="end" letter-spacing="-2">-2</text>
<text x="339.4" y="1191.8" font-size="50" text-anchor="middle" letter-spacing="-2">-1</text>
<text x="134.5" y="949.1" font-size="50" text-anchor="end" letter-spacing="-2">-1</text>
<text x="430.2" y="1191.8" font-size="50" text-anchor="middle" letter-spacing="-2">0</text>
<text x="134.5" y="864" font-size="50" text-anchor="end" letter-spacing="-2">0</text>
<text x="515.5" y="1191.8" font-size="50" text-anchor="middle" letter-spacing="-2">1</text>
<text x="134.5" y="778.9" font-size="50" text-anchor="end" letter-spacing="-2">1</text>
<text x="600.9" y="1191.8" font-size="50" text-anchor="middle" letter-spacing="-2">2</text>
<text x="134.5" y="693.8" font-size="50" text-anchor="end" letter-spacing="-2">2</text>
<text x="686.2" y="1191.8" font-size="50" text-anchor="middle" letter-spacing="-2">3</text>
<text x="134.5" y="608.7" font-size="50" text-anchor="end" letter-spacing="-2">3</text>
<text x="407" y="1254.4" font-size="70" font-style="italic">S</text><text x="445" y="1259.5" font-size="42" font-style="italic">x</text>
<g transform="translate(68,875.4) rotate(-90)" font-style="italic"><text x="-1" y="0" font-size="72">S</text><text x="29" y="7.6" font-size="38">y</text></g>
<text x="643" y="1117" font-size="64">(c)</text>
<defs>
<radialGradient id="sph" cx="1238" cy="846.3" r="319.8" fx="1243" fy="866.3" gradientUnits="userSpaceOnUse">
<stop offset="0" stop-color="#ddf2fa"/><stop offset="0.35" stop-color="#d3e3f3"/><stop offset="0.66" stop-color="#c3c1e5"/><stop offset="1" stop-color="#ab9fd6"/></radialGradient>
<linearGradient id="sph2" x1="0" y1="0" x2="0" y2="1"><stop offset="0" stop-color="#b0b0e0" stop-opacity="0.0"/><stop offset="0.7" stop-color="#b8a8e0" stop-opacity="0.0"/><stop offset="1" stop-color="#a890d0" stop-opacity="0.5"/></linearGradient>
</defs>
<radialGradient id="sphp" cx="1413" cy="1096.3" r="222.1" gradientUnits="userSpaceOnUse"><stop offset="0" stop-color="#e0a0d0" stop-opacity="0.45"/><stop offset="1" stop-color="#e0a0d0" stop-opacity="0"/></radialGradient>
<path d="M916.8 886.4L916.9 894.2L917.2 901.9L917.7 909.7L918.5 917.4L919.4 925.1L920.5 932.8L921.8 940.4L923.3 948L925 955.6L927 963.1L929.1 970.5L931.4 977.9L933.9 985.3L936.6 992.6L939.4 999.8L942.5 1006.9L945.7 1013.9L949.2 1020.9L952.8 1027.7L956.6 1034.5L960.6 1041.2L964.7 1047.7L969 1054.1L973.5 1060.5L978.1 1066.7L982.9 1072.8L987.9 1078.7L993 1084.6L998.3 1090.2L1003.7 1095.8L1009.2 1101.2L1014.9 1106.5L1020.8 1111.6L1026.7 1116.5L1032.8 1121.3L1039 1126L1045.4 1130.4L1051.8 1134.7L1058.4 1138.9L1065 1142.8L1071.8 1146.6L1078.7 1150.2L1085.6 1153.6L1092.7 1156.9L1099.8 1159.9L1107 1162.8L1114.3 1165.5L1121.6 1168L1129 1170.3L1136.5 1172.4L1144 1174.3L1151.6 1176L1159.2 1177.5L1166.8 1178.8L1174.5 1179.9L1182.2 1180.8L1189.9 1181.5L1197.6 1182L1205.4 1182.3L1213.1 1182.4L1220.9 1182.3L1228.6 1182L1236.4 1181.5L1244.1 1180.8L1251.8 1179.9L1259.5 1178.7L1267.1 1177.4L1274.7 1175.9L1282.3 1174.2L1289.8 1172.3L1297.2 1170.2L1304.6 1167.9L1312 1165.4L1319.3 1162.7L1326.5 1159.8L1333.6 1156.7L1340.6 1153.5L1347.6 1150L1354.4 1146.4L1361.2 1142.6L1367.8 1138.7L1374.4 1134.5L1380.8 1130.2L1387.2 1125.7L1393.4 1121.1L1399.5 1116.3L1405.4 1111.3L1411.3 1106.2L1416.9 1101L1422.5 1095.5L1427.9 1090L1433.2 1084.3L1438.3 1078.5L1443.2 1072.5L1448 1066.4L1452.7 1060.2L1457.1 1053.9L1461.4 1047.4L1465.6 1040.8L1469.5 1034.2L1473.3 1027.4L1476.9 1020.6L1480.3 1013.6L1483.6 1006.6L1486.6 999.4L1489.5 992.2L1492.2 985L1494.7 977.6L1497 970.2L1499.1 962.7L1501 955.2L1502.7 947.7L1504.2 940.1L1505.5 932.4L1506.6 924.7L1507.5 917L1508.2 909.3L1508.7 901.6L1509 893.8L1509.1 886.1L1509 878.3L1508.7 870.6L1508.2 862.9L1507.5 855.1L1506.5 847.4L1505.4 839.8L1504.1 832.1L1502.6 824.5L1500.9 817L1499 809.4L1496.9 802L1494.6 794.6L1492.1 787.2L1489.4 780L1486.5 772.8L1483.4 765.6L1480.2 758.6L1476.7 751.7L1473.1 744.8L1469.3 738L1465.4 731.4L1461.2 724.8L1456.9 718.4L1452.4 712.1L1447.8 705.8L1443 699.8L1438 693.8L1432.9 688L1427.7 682.3L1422.2 676.7L1416.7 671.3L1411 666.1L1405.2 661L1399.2 656L1393.1 651.2L1386.9 646.6L1380.6 642.1L1374.1 637.8L1367.5 633.7L1360.9 629.7L1354.1 625.9L1347.2 622.3L1340.3 618.9L1333.2 615.7L1326.1 612.6L1318.9 609.7L1311.6 607L1304.3 604.6L1296.9 602.3L1289.4 600.2L1281.9 598.3L1274.4 596.6L1266.8 595L1259.1 593.7L1251.4 592.6L1243.7 591.7L1236 591L1228.3 590.5L1220.5 590.2L1212.8 590.1L1205 590.2L1197.3 590.5L1189.5 591L1181.8 591.8L1174.1 592.7L1166.5 593.8L1158.8 595.1L1151.2 596.6L1143.7 598.3L1136.1 600.3L1128.7 602.4L1121.3 604.7L1113.9 607.2L1106.7 609.9L1099.5 612.7L1092.3 615.8L1085.3 619L1078.4 622.5L1071.5 626.1L1064.7 629.9L1058.1 633.9L1051.5 638L1045.1 642.3L1038.7 646.8L1032.5 651.4L1026.5 656.2L1020.5 661.2L1014.7 666.3L1009 671.6L1003.4 677L998 682.5L992.8 688.2L987.7 694.1L982.7 700L977.9 706.1L973.3 712.3L968.8 718.7L964.5 725.1L960.4 731.7L956.4 738.3L952.6 745.1L949 752L945.6 758.9L942.3 766L939.3 773.1L936.4 780.3L933.7 787.6L931.3 794.9L929 802.3L926.9 809.8L925 817.3L923.3 824.9L921.7 832.5L920.4 840.1L919.3 847.8L918.4 855.5L917.7 863.2L917.2 870.9L916.9 878.7L916.8 886.4Z" fill="url(#sph)"/>
<path d="M916.8 886.4L916.9 894.2L917.2 901.9L917.7 909.7L918.5 917.4L919.4 925.1L920.5 932.8L921.8 940.4L923.3 948L925 955.6L927 963.1L929.1 970.5L931.4 977.9L933.9 985.3L936.6 992.6L939.4 999.8L942.5 1006.9L945.7 1013.9L949.2 1020.9L952.8 1027.7L956.6 1034.5L960.6 1041.2L964.7 1047.7L969 1054.1L973.5 1060.5L978.1 1066.7L982.9 1072.8L987.9 1078.7L993 1084.6L998.3 1090.2L1003.7 1095.8L1009.2 1101.2L1014.9 1106.5L1020.8 1111.6L1026.7 1116.5L1032.8 1121.3L1039 1126L1045.4 1130.4L1051.8 1134.7L1058.4 1138.9L1065 1142.8L1071.8 1146.6L1078.7 1150.2L1085.6 1153.6L1092.7 1156.9L1099.8 1159.9L1107 1162.8L1114.3 1165.5L1121.6 1168L1129 1170.3L1136.5 1172.4L1144 1174.3L1151.6 1176L1159.2 1177.5L1166.8 1178.8L1174.5 1179.9L1182.2 1180.8L1189.9 1181.5L1197.6 1182L1205.4 1182.3L1213.1 1182.4L1220.9 1182.3L1228.6 1182L1236.4 1181.5L1244.1 1180.8L1251.8 1179.9L1259.5 1178.7L1267.1 1177.4L1274.7 1175.9L1282.3 1174.2L1289.8 1172.3L1297.2 1170.2L1304.6 1167.9L1312 1165.4L1319.3 1162.7L1326.5 1159.8L1333.6 1156.7L1340.6 1153.5L1347.6 1150L1354.4 1146.4L1361.2 1142.6L1367.8 1138.7L1374.4 1134.5L1380.8 1130.2L1387.2 1125.7L1393.4 1121.1L1399.5 1116.3L1405.4 1111.3L1411.3 1106.2L1416.9 1101L1422.5 1095.5L1427.9 1090L1433.2 1084.3L1438.3 1078.5L1443.2 1072.5L1448 1066.4L1452.7 1060.2L1457.1 1053.9L1461.4 1047.4L1465.6 1040.8L1469.5 1034.2L1473.3 1027.4L1476.9 1020.6L1480.3 1013.6L1483.6 1006.6L1486.6 999.4L1489.5 992.2L1492.2 985L1494.7 977.6L1497 970.2L1499.1 962.7L1501 955.2L1502.7 947.7L1504.2 940.1L1505.5 932.4L1506.6 924.7L1507.5 917L1508.2 909.3L1508.7 901.6L1509 893.8L1509.1 886.1L1509 878.3L1508.7 870.6L1508.2 862.9L1507.5 855.1L1506.5 847.4L1505.4 839.8L1504.1 832.1L1502.6 824.5L1500.9 817L1499 809.4L1496.9 802L1494.6 794.6L1492.1 787.2L1489.4 780L1486.5 772.8L1483.4 765.6L1480.2 758.6L1476.7 751.7L1473.1 744.8L1469.3 738L1465.4 731.4L1461.2 724.8L1456.9 718.4L1452.4 712.1L1447.8 705.8L1443 699.8L1438 693.8L1432.9 688L1427.7 682.3L1422.2 676.7L1416.7 671.3L1411 666.1L1405.2 661L1399.2 656L1393.1 651.2L1386.9 646.6L1380.6 642.1L1374.1 637.8L1367.5 633.7L1360.9 629.7L1354.1 625.9L1347.2 622.3L1340.3 618.9L1333.2 615.7L1326.1 612.6L1318.9 609.7L1311.6 607L1304.3 604.6L1296.9 602.3L1289.4 600.2L1281.9 598.3L1274.4 596.6L1266.8 595L1259.1 593.7L1251.4 592.6L1243.7 591.7L1236 591L1228.3 590.5L1220.5 590.2L1212.8 590.1L1205 590.2L1197.3 590.5L1189.5 591L1181.8 591.8L1174.1 592.7L1166.5 593.8L1158.8 595.1L1151.2 596.6L1143.7 598.3L1136.1 600.3L1128.7 602.4L1121.3 604.7L1113.9 607.2L1106.7 609.9L1099.5 612.7L1092.3 615.8L1085.3 619L1078.4 622.5L1071.5 626.1L1064.7 629.9L1058.1 633.9L1051.5 638L1045.1 642.3L1038.7 646.8L1032.5 651.4L1026.5 656.2L1020.5 661.2L1014.7 666.3L1009 671.6L1003.4 677L998 682.5L992.8 688.2L987.7 694.1L982.7 700L977.9 706.1L973.3 712.3L968.8 718.7L964.5 725.1L960.4 731.7L956.4 738.3L952.6 745.1L949 752L945.6 758.9L942.3 766L939.3 773.1L936.4 780.3L933.7 787.6L931.3 794.9L929 802.3L926.9 809.8L925 817.3L923.3 824.9L921.7 832.5L920.4 840.1L919.3 847.8L918.4 855.5L917.7 863.2L917.2 870.9L916.9 878.7L916.8 886.4Z" fill="url(#sphp)"/>
<g transform="scale(0.5)" fill="none">
<path d="M2508 1186l17 3 18 3 16 4 16 5 16 5 14 6 14 6 14 7 12 7 12 8 11 8 10 9 10 9 8 9 8 10 6 10 6 10 5 10 4 11 3 11 2 11 1 11 1 12-1 11-1 11-3 12-3 11-4 12-5 11-5 11-7 12-7 11-8 11-8 10-10 11-10 10-10 10-11 10-12 10-13 9-13 9-13 9-14 8-15 8-14 8-16 7-15 7-16 6-16 6-17 6-16 5-17 5-17 4-17 4-18 3-17 3-17 3-17 2-18 1-17 1-17 0-17 0-17 0-16-1-17-2-16-2-16-2-15-4-15-3-15-4-14-5-14-5-13-5-13-6-12-7-12-6-10-8-11-7-9-9-9-8-8-9-8-9-6-10-6-10-5-10-4-11-3-10-3-11-1-12-1-11 1-12 1-11 2-12 3-12 4-12 5-12 6-12 7-12 8-12 9-11 9-12 11-11 11-12 12-10 13-11 14-11 14-10 15-9M3015 1713l-2-19-3-19-4-19-4-20-6-19-6-19-6-19-7-19-8-19-9-19-9-18-9-18-11-18-10-17-12-17-12-17-12-16-13-16-13-15-13-14-14-14-15-14-15-13-15-12M3018 1763l-1 12-2 11-2 11-4 10-4 9-5 9-6 8-7 7-8 6-8 5-9 5-10 4-10 3-11 2-12 2-12 0-13 0-13 0-14-2-14-2-15-3-15-4-15-4-15-5-16-6-16-6-16-7-17-8-16-8-17-8-16-10-17-9-17-11-16-11-17-11-16-12-17-12-16-12-16-13-16-13-15-14-16-14-15-14-15-14-14-15-14-15-14-15-13-15-13-15-12-15-12-16-11-15-11-16-10-15-9-16-9-15-9-15-7-15-7-15-7-15-5-14-5-14-4-14-3-14-3-13-1-13-1-12 0-12 0-11 2-11 2-10 4-10 4-9 5-9 6-8 7-7 7-6 9-6 9-4 10-5 11-3 12-2 12-2M2979 1985l5-15 5-16 4-17 3-17 3-17 2-18 1-19 1-19 0-19 0-19-2-20-1-20-3-20-3-20-3-20-4-21-5-20-6-21-5-20-7-20-7-20-7-20-8-20-9-20-9-19-9-19-10-19-11-18-10-18-12-17-11-17-12-16-12-16-13-15-13-14-13-14-13-13-13-13-14-12-14-11-14-10-14-9-14-8-15-8M2739 1269l15 10 14 10 14 11 12 11 13 11 11 11 11 11 9 12 9 12 8 12 7 11 7 12 5 12 4 12 4 12 2 12 2 12 0 11 0 12-1 11-2 11-3 10-3 11-5 10-5 10-6 9-7 9-8 9-9 8-9 8-10 8-10 7-11 7-12 6-12 6-13 5-13 5-14 4-14 4-15 4-15 2-15 3-16 2-16 1-16 1-17 0-16 0-17 0-17-2-17-1-17-2-17-3-17-3-17-3-16-4-17-5-17-5-16-5-16-6-16-6-16-7-15-7-15-7-15-8-14-8-14-9-13-8-13-9-12-10-12-10-11-9-11-11-10-10-9-11-9-10-8-11-7-11-7-11-5-12-5-11-4-11-4-12-2-11-2-11-1-12 0-11 1-11 2-11 3-11 3-10 5-10 5-10 6-10 7-10 8-9 9-9 10-8 10-8 11-8 13-7 12-6 14-6 14-6 15-5 15-4 16-4 17-3 17-3 17-2 18-2M2482 1183l21 2 21 4 20 4 19 5 19 5 19 7 18 7 17 7 16 9 15 9 15 10 14 10 13 11 12 11 11 12 10 12 9 13 8 13 7 13 6 14 5 14 4 14 3 15 3 14 1 15 0 15-1 15-2 15-3 15-4 14-5 15-6 15-6 14-8 14-8 15-9 13-10 14-11 13-11 13-12 13-13 12-14 12-14 12-15 11-15 10-16 10-16 10-17 9-17 9-18 8-18 8-18 7-18 6-19 6-19 5-19 5-20 4-19 4-19 3-20 2-19 1-20 1-19 0-19 0-19-1-19-2-19-2-18-3-18-4-18-4-17-5-17-5-16-6-16-7-15-8-15-8-14-8-14-9-13-10-12-10-11-11-11-11-9-12-9-12-8-13-7-13-7-13-5-14-4-14-3-14-3-15-1-15 0-15 0-15 2-16 3-15 4-16 5-15 6-15 7-16 8-15 10-15 10-15 11-15 12-14 13-14 14-14 15-14 16-12 16-13 18-12 18-11M2161 1243l-13 7-12 8-13 9-13 9-13 11-12 11-13 12-12 13-12 13-12 14-12 15-11 15-11 16-11 16-11 17-10 17-10 18-10 18-9 18-9 19-8 19-8 19-8 19-7 20-7 19-6 20-6 20-5 20-5 20-4 20-3 19-4 20-2 19-2 20-2 19-1 18 0 19 0 18 1 18 1 17 2 17 3 16 3 16 4 15 4 14 5 14M3013 1698l2 16 0 16 0 15-2 14-3 14-4 14-5 12-6 12-6 12-8 10-8 10-10 9-10 9-11 7-12 7-12 6-14 5-13 5-15 4-15 2-15 2-16 2-17 0-17 0-17-1-18-2-18-2-18-3-18-4-19-5-18-5-19-6-19-7-19-8-19-8-19-8-19-9-19-10-18-10-19-11-18-11-18-12-18-13-17-12-18-14-16-13-17-14-16-14-15-15-15-15-15-15-14-15-13-16-13-16-12-16-12-16-11-16-10-17-9-16-9-16-8-17-7-16-6-16-6-16-5-16-3-16-3-15-2-15-1-15 0-15 1-14 1-14 3-13 4-13 5-13 5-11 7-12 8-10 8-10 10-9 10-9 12-8 12-7 13-6 15-5 14-5 16-4M3010 1870l3-22 3-22 1-23 1-23 0-23-1-23-2-22-3-23-4-23-4-22-6-23-6-22-7-21-8-22-9-21-9-20M3010 1872l-1-2-1-3-1-4-2-5-3-5-4-6-4-7-4-7-5-8-6-9-6-9-7-10-7-10-8-11-8-11-8-12-9-12-9-13-10-13-9-13-11-14-10-14-11-14-11-14-11-15-12-15-11-15-12-15-12-15-12-16-12-15-12-16-13-15-12-15-12-16-13-15-12-15-12-15-12-15-12-14-12-15-12-14-11-14-12-13-11-13-11-13-11-12-10-12-10-12-10-11-9-11-9-10-9-9-8-9-8-9-7-7-7-7-7-7-5-6-6-5-5-4-4-3-3-3-3-2-3-1M2935 1469l7 14 7 14 6 14 5 13 4 13 4 13 2 13 1 12 1 12-1 12-1 11-3 11-3 11-4 9-5 10-6 9-6 8-7 8-8 7-9 7-10 6-10 6-11 5-11 5-12 3-12 4-13 2-14 3-14 1-14 1-15 0-15 0-15-1-16-1-16-2-16-3-17-3-16-4-17-4-16-5-17-5-17-6-17-6-16-7-17-7-16-7-17-8-16-9-16-9-16-9-15-10-15-9-15-11-15-10-14-11-14-11-13-12-13-11-13-12-11-12-12-12-11-13-10-12-9-13-9-12-9-13-7-13-7-12-6-13-6-12-4-13-4-12-3-12-3-12-1-12-1-12 0-11 1-11 2-11 3-10 4-10 4-10 5-9 6-9 8-8 7-8 9-7 10-7 10-6 11-5 12-5 13-4 13-4 14-3 15-2 15-2 16-1M2472 1182l8 1 7 2 6 3 6 4 4 4 4 6 4 5 2 7 1 7 1 8 0 8-1 9-1 10-2 10-3 11-4 11-5 11-5 12-6 12-6 13-7 13-8 13-8 14-9 13-9 14-10 14-10 15-11 14-12 15-11 14-13 15-12 14-13 15-13 15-14 14-14 15-14 14-14 14-14 14-15 14-15 14-15 13-15 13-15 13-15 12-16 13-15 11-15 12-15 11-15 10-15 11-15 9-14 9-15 9-14 8-14 8-13 7-14 6-12 6-13 5-12 5-12 4-11 3-11 2-10 2-9 1-9 1-9-1-7-1-7-2-7-3-5-3-5-4-5-5-3-6-2-7-2-7-1-8M2963 1522l6 16 6 15 5 15 4 16 3 14 1 15 1 14 0 14-1 13-2 13-3 12-4 12-4 11-6 11-6 10-8 10-8 9-9 8-9 8-11 7-11 7-12 5-12 6-13 4-13 4-14 3-15 2-15 2-15 1-16 1-16-1-16-1-17-1-16-3-17-2-18-4-17-4-17-5-18-5-18-6-17-6-18-7-17-8-17-8-18-9-17-9-16-9-17-10-16-11-16-10-16-12-16-11-15-12-14-12-14-13-14-13-13-13-13-13-12-14-11-14-11-13-11-15-9-14-9-14-8-14-8-15-7-14-6-14-5-14-5-14-3-14-3-14-2-14-1-13 0-13 0-13 2-13 2-12 3-12 5-11 5-11 6-11 6-10 8-9 9-9 9-8 11-8 11-7 12-6 13-6 13-5 14-4 15-4 16-2 16-2 17-1M2774 1293l14 11 13 12 12 12 10 12 10 12 9 13 7 13 7 13 5 13 4 14 3 13 2 14 1 14 0 13-1 14-3 13-3 13-5 13-5 14-6 12-8 13-8 12-9 12-10 12-11 12-12 11-12 11-14 10-14 10-14 10-16 9-16 8-16 9-17 8-17 7-18 7-19 6-19 6-19 5-19 5-20 4-20 4-20 3-20 2-21 2-20 2-21 1-21 0-20 0-21-1-20-1-20-2-20-3-20-3-20-3-19-5-19-4-18-5-19-6-17-6-18-7-16-8-16-7-16-9-15-8-14-10-14-9-12-10-12-11-12-11-10-11-10-11-8-12-8-13-7-12-5-13-5-13-4-13-3-13-1-14-1-13 1-14 2-14 2-13 4-14 5-14 6-13 8-13 8-14 10-13 10-13 12-12 12-12 14-12M3000 1916l2-7 1-9 0-9 0-10-1-10-2-11-2-12-2-12-3-13-4-13-4-14-5-14-5-15-5-15-6-15-7-16-7-16-7-16-8-16-8-17-8-17-9-16-9-17-9-17-10-17-10-17-10-17-11-17-10-17-11-16-11-17-12-16-11-16-11-16-12-16-11-15-12-15-12-15-12-14-11-13-12-14-12-12-11-13-11-12-12-11-11-10-11-10-11-10-10-8-11-8-10-8-9-6-10-6-9-5-9-4-8-4-8-2M3002 1912l-2 1-1 0-2-1-3-1-3-3-3-3-4-4-5-4-5-6-5-6-6-7-6-7-6-9-7-9-7-9-7-10-8-11-8-11-8-11-9-13-9-12-9-13-9-14-9-13-9-15-10-14-9-15-10-15-10-15-10-15-10-16-10-16-10-16-10-16-9-16-10-16-10-16-10-16-9-15-10-16-9-16-9-16-9-15-9-15-8-15-9-15-8-14-7-14-8-14-7-13-7-13-7-13-6-12-6-11-5-11-6-11-4-9-5-10-4-8-3-8-3-8-2-6-2-6-2-5-1-5-1-3 0-3 1-2 1-1 2 0M2632 1217l17 7 16 7 15 8 15 8 13 9 13 9 12 10 11 10 11 10 9 11 8 10 8 11 6 12 5 11 5 12 3 12 3 12 1 12 1 12-1 12-1 12-2 12-4 12-4 11-5 12-6 11-7 12-7 11-9 11-9 11-10 10-10 10-12 10-12 9-12 10-13 8-14 9-15 8-14 8-16 7-15 7-17 6-16 6-17 6-17 5-18 4-17 4-18 4-19 3-18 3-18 2-19 1-18 2-18 0-19 0-18 0-18-1-18-2-18-2-18-2-17-3-17-3-17-4-17-5-16-5-15-5-16-6-14-7-14-6-14-8-13-7-13-8-11-9-11-9-11-9-9-10-9-10-8-10-7-10-7-11-5-11-5-12-4-11-2-12-2-12-1-12 0-12 1-12 2-12 3-13 4-12 5-12 6-12 7-12 8-12 9-12 10-11 11-11 12-11 13-11 13-10 14-10 15-10 16-9M3018 1782l-1 1-1 1-2 1-3-1-3-1-4-2-5-3-5-3-6-4-7-4-7-5-7-6-8-6-9-7-9-7-9-8-10-9-10-8-11-10-11-9-11-11-12-10-11-11-12-11-13-12-12-12-13-12-12-12-13-13-13-13-13-13-13-13-14-13-13-13-13-14-13-13-13-14-13-13-13-14-12-13-13-13-12-14-12-13-12-13-12-13-11-12-11-13-11-12-10-12-10-12-10-11-9-11-9-10-8-11-8-9-7-10-7-9-6-8-6-8-5-7-5-7-4-6-3-6-3-5-2-5-1-3-1-3 0-3 1-1 1-1M2986 1966l6-19 5-20 5-20 4-21 3-21 3-21 1-22 1-22 0-22 0-22-2-22-2-22-3-22-4-22-4-22-5-21-6-22-7-21-7-21-8-20-9-21-9-20-10-19-11-19-11-18-12-18-12-17-13-17-13-16-14-15M2246 1208l-8 3-8 4-8 6-8 6-8 7-9 8-8 9-9 9-9 11-9 11-9 12-9 13-9 14-9 14-9 15-9 16-9 16-9 17-9 17-9 17-8 19-9 18-8 19-8 19-9 20-7 19-8 20-7 21-8 20-7 20-6 21-7 20-6 21-6 21-6 20-5 20-5 21-5 20-4 20-4 19-4 19-3 20-3 18-3 18-2 18-2 18-1 16-1 17-1 15 0 15 1 15 0 13 2 13 1 13 2 11 3 11 3 9 3 9 4 8 4 7M2240 1210l-5 3-5 3-6 4-5 4-7 6-6 6-7 6-7 8-8 8-7 8-8 9-9 10-8 10-9 11-8 12-9 11-9 12-9 13-10 13-9 13-9 14-10 14-9 14-10 15-9 14-10 15-9 15-9 15-10 16-9 15-9 15-9 16-8 15-9 16-8 15-8 15-8 15-8 15-8 15-7 15-7 14-7 14-6 14-6 13-6 13-5 13-5 12-5 12-4 11-4 11-3 11-3 9-3 10-2 8-2 8-1 8-1 6 0 6 0 6M2866 1377l12 14 11 15 10 15 8 15 8 15 6 15 5 16 4 15 3 15 1 15 1 15-1 15-2 15-2 14-4 14-5 14-6 14-7 13-8 13-9 12-10 12-11 12-12 11-12 10-13 10-14 10-15 9-15 9-16 7-17 8-17 7-18 6-18 5-19 5-19 5-20 4-19 3-20 2-21 2-20 1-21 1-21 0-21-1-21-1-21-2-21-2-21-3-21-4-20-4-21-5-20-6-20-6-20-6-19-7-20-8-18-8-18-9-18-9-17-10-17-10-16-11-15-11-15-11-14-12-13-12-13-13-12-13-11-13-10-13-9-14-8-14-8-14-6-15-5-14-5-15-3-15-2-14-1-15 0-15 1-14 2-15 3-14 4-15 6-14 6-13 8-14 9-13 10-13 11-12 12-12 13-12 14-11 15-11 17-9M2152 1248l-14 8-14 9-13 10-14 11-13 12-13 13-13 14-12 14-12 15-12 16-12 16-11 17-11 18-10 18-10 18-10 19-9 20-9 20-8 20-8 21-7 21-7 21-6 21-6 22-5 21-5 22-4 22-4 22-3 22-2 21-2 22-1 21-1 22 0 20 1 21 1 21 2 20 3 19 3 19 3 19 5 18 4 18 6 17 6 16 6 16 8 15 7 14 9 14M2220 1217l-9 5-10 5-10 6-10 7-10 8-10 9-11 9-10 10-11 11-10 11-11 13-11 12-10 14-11 14-10 14-11 15-10 16-10 16-10 16-10 17-10 17-9 17-10 18-9 18-8 18-9 18-8 18-8 19-8 19-7 18-7 19-7 19-6 18-6 19-6 18-5 18-5 19-4 17-4 18-3 17-3 17-3 17-2 16-1 15-2 16 0 14 0 15 0 13 1 13 1 12 2 12 3 11 3 10M2968 2011l-1 0-1 0-2-1-3-2-3-3-3-4-5-4-4-6-5-7-6-7-5-8-7-9-6-10-8-10-7-11-8-12-8-12-8-13-9-14-9-14-9-14-9-15-10-16-10-16-9-16-10-16-11-17-10-17-10-18-11-18-10-17-11-18-10-18-11-19-10-18-11-18-10-18-10-19-11-18-10-18-10-18-9-18-10-17-10-17-9-17-9-17-9-17-8-16-8-15-8-16-8-15-7-14-7-14-7-13-6-13-6-12-5-11-5-11-5-10-4-9-4-8-3-8-2-7-2-6-2-5-1-4-1-4 1-2 0-1 1-1M2865 1375l10 12 9 12 8 12 8 12 6 13 5 12 5 12 3 12 2 12 1 11 1 12-1 11-2 11-2 10-4 11-4 10-6 9-6 10-7 9-8 8-9 8-10 8-10 7-11 7-12 7-12 6-13 5-14 5-14 5-14 3-15 4-16 3-16 2-17 2-16 2-17 1-18 0-17 0-18 0-18-1-18-2-18-2-19-3-18-3-18-3-19-4-18-4-18-5-18-5-18-6-17-6-18-7-17-7-17-7-16-8-16-8-16-8-15-9-15-9-14-9-14-10-13-10-13-10-12-10-12-11-10-10-10-11-9-11-9-12-8-11-7-11-6-12-5-11-4-12-4-11-3-11-1-12-1-11 0-11 1-11 2-11 3-10 4-11 5-10 6-9 7-10 8-9 9-9 10-8 10-8 12-7 13-7 13-7 14-6 15-5M3017 1740l0 6-2 5-2 4-2 4-4 3-4 2-4 2-6 1-5 0-7 0-7-1-7-2-9-3-8-3-9-3-10-5-10-4-10-6-11-6-11-6-11-7-12-8-12-8-12-8-12-9-13-10-13-9-13-10-13-11-13-11-13-11-13-11-14-12-13-12-13-12-13-13-13-12-13-13-13-13-13-13-13-13-12-13-12-13-12-13-12-13-11-14-11-13-11-13-10-13-10-12-10-13-9-12-9-12-8-12-8-12-7-12-7-11-6-10-6-11-5-10-4-9-4-10-4-8-2-9-2-7-2-8 0-6 0-6 0-6 2-5 2-4 2-3 4-3 4-2 5-2 5-1 6 0M2995 1938l0-4 0-5 0-6-1-7-2-8-2-8-2-9-3-9-3-11-4-10-4-12-5-12-5-12-5-13-6-14-6-14-7-14-7-15-7-15-8-15-7-16-8-16-9-16-8-16-9-17-9-16-9-17-10-17-9-16-10-17-10-17-9-17-10-16-10-17-10-16-11-17-10-16-10-15-10-16-10-15-10-15-10-14-9-15-10-13-10-14-9-12-9-13-9-12-9-11-8-11-9-10-8-9-7-9-8-8-7-7-7-7-6-6-6-5-5-4-5-4-5-3-4-1M3003 1903l0-4 0-4-2-5-1-6-3-6-3-8-3-7-4-9-4-9-5-10-5-11-5-11-6-11-7-12-6-13-7-12-8-14-8-13-8-15-8-14-9-15-9-15-9-15-9-15-10-16-10-15-9-16-11-16-10-16-10-16-10-16-11-16-10-16-11-16-11-16-10-16-11-15-10-15-11-15-10-15-10-15-10-14-10-14-10-13-10-13-9-13-9-12-9-12-9-11-9-11-8-10-8-9-7-9-7-8-7-8-6-7-6-6-6-6-5-5-5-4-4-3-4-2-3-2M2234 1212l-13 5-13 6-13 6-14 8-13 8-14 9-13 9-14 10-13 11-14 12-13 12-13 13-13 13-13 13-13 15-12 14-13 15-12 16-12 16-11 16-11 16-11 17-10 17-10 17-10 18-9 17-9 18-8 17-8 18-7 18-7 18-6 18-6 17-5 18-5 17-4 17-4 17-2 17-3 16-1 16-1 16-1 15 0 15 1 14 2 14M2968 1535l7 16 6 17 4 16 4 16 2 15 2 15 0 15 0 15-2 14-3 13-3 13-5 13-5 12-7 11-7 11-8 10-9 10-10 9-10 8-11 8-12 7-13 6-13 5-14 5-14 4-15 4-16 3-16 2-16 1-17 1-17 0-17-1-18-2-17-2-18-3-19-3-18-4-18-5-19-5-18-6-19-7-18-7-18-7-18-9-18-8-18-10-18-10-17-10-17-11-17-11-16-11-16-12-16-13-15-12-14-13-15-14-13-13-13-14-13-14-11-15-12-14-10-15-10-15-9-15-8-15-8-15-7-15-6-15-5-15-4-15-4-14-3-15-1-14-1-14 0-14 1-14 2-13 3-13 4-13 5-12 5-12 7-11 8-11 8-10 10-9 10-9 11-8 13-8 13-7 13-6 15-6 15-4 16-4 17-3 17-2M2986 1965l7-21 6-22 5-22 4-22 3-23 3-22 1-23 1-23 0-24-2-23-2-23-2-23-4-23-5-23-5-23-6-23-7-22-8-22-9-22-9-21-11-21-10-20-12-20-12-19-14-19-13-17-15-18-14-16M2986 1965l0-3 0-4 0-5-1-6-1-7-2-7-2-8-2-9-3-10-4-10-4-11-4-12-4-12-5-12-5-13-6-14-6-14-6-14-6-15-7-15-7-16-7-16-7-16-8-16-8-17-8-16-8-17-8-17-8-17-9-17-9-17-8-17-9-18-9-16-9-17-9-17-9-17-9-16-9-16-8-16-9-15-9-16-9-15-8-14-8-14-9-14-8-13-8-13-7-12-8-12-7-11-7-10-7-10-6-9-7-8-6-8-5-7-5-6-5-6-5-4-4-4-3-3-4-2M3011 1866l0-6 0-6-1-8-1-7-2-9-3-9-3-10-3-10-4-11-5-11-5-12-5-12-6-13-6-13-7-13-7-14-8-14-8-15-8-14-9-15-9-15-9-16-10-15-9-15-10-16-11-15-10-16-11-16-10-15-11-16-12-15-11-15-11-15-11-15-12-15-11-15-11-14-12-14-11-13-11-14-12-13-11-12-11-12-11-12-10-11-11-11-10-10-10-10-10-9-9-8-9-8-9-7-8-7-9-5-7-6-8-4-6-4-7-2-6-3-5-1M3018 1761l-1 10-1 9-2 8-3 8-4 8-4 6-5 6-6 4-6 5-7 3-7 3-8 2-9 1-9 0-9 0-10-1-11-2-10-3-12-3-11-4-12-4-12-6-13-5-13-7-13-7-13-7-13-9-13-8-14-10-13-9-14-11-14-10-13-11-14-12-14-12-13-12-14-12-13-13-13-13-13-14-13-14-12-13-13-14-12-15-11-14-12-15-11-14-11-15-10-14-10-15-10-15-9-14-9-15-8-14-7-14-8-15-6-13-6-14-6-14-5-13-4-12-4-13-3-12-3-12-2-11-1-11 0-10 0-10 1-9 1-9 2-8 3-8 4-7 4-6 5-5 6-5 6-4 7-4 8-2 9-2 9-1 9 0 11 1M2890 1404l10 13 8 13 8 13 8 13 6 13 5 13 5 12 3 13 3 12 1 12 1 12 0 11-1 11-2 11-3 10-4 10-4 9-5 9-6 9-7 8-8 8-8 7-9 6-10 6-11 6-11 5-11 5-12 4-13 3-13 3-14 2-14 2-14 1-15 1-15 0-16 0-15-1-16-2-17-2-16-2-16-3-17-4-16-4-17-4-17-5-16-6-17-6-16-6-17-7-16-7-16-8-16-8-15-8-16-9-15-9-14-10-15-9-13-10-14-11-13-10-13-11-12-11-11-11-11-11-10-12-10-12-9-11-9-12-8-12-7-12-6-12-6-12-5-11-4-12-3-12-3-11-2-12-1-11 0-11 1-11 2-11 2-10 3-10 5-9 5-10 5-8 7-9 8-8 8-7 9-7 11-7 10-6 12-5 12-5 13-4 14-4 15-3 15-3 15-1 16-1M2732 1265l14 9 13 9 12 10 12 9 10 10 10 11 9 10 7 11 7 10 6 11 5 11 4 11 3 11 2 11 1 10 0 11-1 11-1 10-3 11-4 10-4 10-6 10-6 10-7 9-8 9-8 9-10 9-10 8-11 8-11 7-12 8-13 6-13 7-14 6-14 6-15 5-15 5-16 4-16 4-17 4-16 3-17 3-18 2-17 2-18 1-17 1-18 0-18 0-18 0-18-1-18-2-18-2-18-2-18-3-17-3-17-3-18-4-16-5-17-5-16-5-16-6-15-6-15-6-15-7-14-7-13-8-13-7-13-9-12-8-11-9-10-9-10-9-9-9-8-10-8-10-6-10-6-10-5-11-4-10-3-11-3-10-1-11-1-11 1-11 1-10 3-11 3-10 4-11 5-10 7-10 7-10 8-10 9-9 10-9 11-9 11-9 13-8 13-8 15-7 15-7M2984 1970l-3 7-4 5-5 5-5 3-5 3-7 2-6 0-7 0-8-1-8-2-8-3-9-4-9-5-10-5-10-6-10-8-10-8-11-8-11-10-11-10-11-10-11-12-12-12-11-12-12-14-12-13-12-14-11-15-12-15-12-16-11-15-12-17-11-16-12-17-11-17-11-17-11-18-11-17-10-18-10-18-10-18-10-18-10-18-9-18-9-17-8-18-8-18-8-17-7-18-7-17-7-17-6-16-6-16-5-16-5-16-4-15-4-14-3-14-3-14-2-13-1-12-1-12-1-11 0-11 1-9 1-9 2-9 2-7 4-6 3-6 4-5 5-4 6-3 6-2 7-1 7 0M3015 1712l0 7 0 5-1 5-2 4-3 4-3 2-4 3-5 1-5 1-6 0-6 0-7-1-7-2-8-2-9-3-9-4-9-4-10-5-11-5-10-6-11-6-12-7-11-7-12-8-12-8-13-9-12-9-13-9-13-10-13-10-13-10-13-11-14-11-13-11-13-12-13-12-14-11-13-13-13-12-13-12-12-13-13-12-12-13-13-13-11-12-12-13-11-13-12-12-10-13-11-12-10-12-9-12-9-12-9-12-8-12-8-11-8-11-6-10-7-11-5-10-6-9-4-10-4-8-3-9-3-8-2-7-1-7-1-6 0-6 0-5 2-5 2-4 2-3 4-3 4-2 5-1 5-1 6 0M3005 1898l3-17 2-17 2-17 1-17 0-18 0-19-1-18-1-19-2-19-3-19-3-19-3-19-5-19-5-19-5-20-6-19-6-19-7-19-8-18-8-19-8-18-9-18-9-17-10-17-10-17-11-16-10-16-12-16-11-15-12-14-12-14-13-13-12-12-13-12-13-11-13-10-14-10M2426 1180l10 1 9 1 9 2 8 3 7 3 6 3 6 5 5 4 4 6 3 6 3 6 1 7 1 7 1 8-1 8-1 8-2 9-2 10-3 9-4 10-5 10-5 11-6 10-7 11-7 11-7 11-9 11-8 12-10 11-10 12-10 11-10 12-12 11-11 12-12 11-12 12-13 11-13 11-13 11-13 11-14 11-14 11-14 10-14 10-14 10-15 9-14 10-15 8-14 9-15 8-15 8-14 8-14 7-15 7-14 6-13 6-14 5-14 5-13 5-13 4-12 3-12 3-12 2-12 2-11 2-10 0-10 0-10 0-9-1-8-1-8-2-7-3-7-3-6-4-5-5-5-5-3-5-4-6-2-7-1-7-1-8 0-8 1-9 1-9 3-10M2934 2076l2-5 2-6 1-7 0-8 1-9-1-9-1-11-1-11-2-12-2-13-2-13-3-14-4-15-4-16-4-15-4-17-5-17-6-17-5-18-6-18-6-18-7-19-7-19-7-19-7-19-8-20-7-19-8-20-9-20-8-20-8-19-9-20-9-20-9-19-9-20-9-19-9-19-10-18-9-19-9-18-10-18-9-17-9-17-10-16-9-16-9-15-9-15-9-14-9-14-9-13-8-12-8-12-9-10-7-10-8-10-7-8-8-7-6-7-7-5-6-5-6-4-5-2-5-2M2348 1186l-5 2-5 2-6 4-6 4-7 5-8 7-7 6-8 8-9 8-9 9-9 10-9 11-10 11-10 11-10 13-10 12-10 14-11 14-11 14-11 14-11 16-11 15-11 16-11 16-12 16-11 17-11 17-11 17-11 17-11 17-11 18-11 17-11 18-10 17-11 18-10 17-10 17-9 17-10 17-9 17-9 17-8 16-9 16-7 16-8 16-7 15-7 14-6 15-6 13-6 14-5 12-4 13-4 11-4 11-3 10-3 10-2 9-1 8-1 7 0 7 0 5 1 5M3013 1850l-2 2-3 2-4 1-5 0-7 0-7 0-9-1-10-2-10-2-12-2-13-3-13-3-15-4-15-4-16-4-17-5-17-5-18-6-19-6-19-6-20-7-20-7-21-7-21-7-21-8-22-8-22-8-22-8-23-9-22-9-23-8-23-9-23-10-23-9-23-9-23-10-23-9-22-10-23-9-22-10-22-10-22-9-22-10-21-9-21-10-20-9-20-10-19-9-19-9-18-9-18-9-17-9-16-8-15-8-15-8-14-8-13-8-12-7-11-7-10-6-10-6-8-6-7-6-6-5-5-4-3-5-3-3-1-4 0-2M1901 1512l-9 11-7 11-6 12M2947 2053l5-13 4-13 2-13 1-14 0-14-2-15-2-14-4-16-5-15-6-16-8-15-8-16-9-16-11-16-11-17-12-16-14-16-14-16-15-16-16-16-16-15-17-16-18-15-19-15-19-15-20-14-21-15-20-14-22-13-22-13-22-13-22-13-23-12-23-11-24-11-23-11-24-10-24-10-24-9-24-8-24-8-23-7-24-7-24-6-24-6-23-5-23-4-23-3-22-3-22-2-22-2-21 0-20 0-20 0-20 2-19 2-18 3-17 4-16 5-16 5-15 6-14 7-12 7-12 9-11 9-9 9M3004 1645l-1 5-2 4-3 6-5 5-6 5-8 6-8 5-10 5-10 6-12 6-13 5-14 6-15 5-16 6-17 5-17 6-19 5-19 6-19 5-21 5-21 5-22 5-22 5-22 5-24 5-23 4-24 5-24 4-25 4-24 4-25 4-25 4-25 4-26 3-25 3-25 3-25 3-26 3-25 2-24 2-25 2-24 2-25 2-23 1-24 1-23 1-22 1-22 0-21 0-21 0-20 0-20 0-18-1-18-1-17-1-17-2-15-2-15-2-13-2-12-2-12-3-10-3-9-3-7-4-7-4-5-4-4-4-3-4-1-5M2475 1189l-26-1-26 0-26 1-26 3-26 3-26 5-26 5-26 7-25 8-25 8-24 10-24 11-23 12-23 12-23 14-21 15-21 15-21 16-19 17-19 18-18 19-17 19-16 20-15 21-14 21-13 22-12 22-10 23M2741 1271l-21-12-23-12-23-11-23-10-24-8-25-8-25-6-25-6-25-4-26-3-26-2M2940 1478l-5-7-6-6-7-5-8-4-9-3-10-3-11-2-12-1-13 0-14 0-15 1-15 2-16 3-17 3-17 4-18 5-19 5-19 6-19 6-20 7-21 8-20 8-22 9-21 9-21 10-22 10-22 11-22 11-22 11-22 12-23 12-22 13-22 13-22 13-22 13-21 14-22 14-21 14-21 15-21 14-20 15-20 15-19 14-19 15-19 15-18 15-17 15-17 15-16 15-16 15-15 15-14 14-13 15-13 14-12 14-11 14-10 13-9 13-8 13-7 12-6 12-5 12-4 11-2 10-2 10 0 10 0 8 2 8 3 8M2831 1350l-15-8-15-7-16-6-17-5-18-5-18-3-19-3-20-2-20-1-21 0-21 1-22 1-22 3-22 3-23 4-23 4-23 6-23 6-23 7-24 8-23 8-23 10-24 9-23 11-23 11-23 11-23 13-22 12-22 14-22 14-22 14-21 15-20 15-20 16-20 16-19 16-19 17-17 17-18 17-16 18-16 17-15 18-14 19-13 18-13 18-11 19-11 18-10 18-9 19-7 18-7 18-5 18-5 18-3 18-2 17-2 17 1 16 1 17 2 15 4 15 5 15M2868 1380l-11-11-13-10-13-9M3009 1878l-1-1-2-1-4-1-5-2-6-2-7-2-9-2-9-3-11-2-12-3-13-3-14-4-15-3-16-3-17-4-17-4-19-3-19-4-19-4-21-4-21-5-21-4-23-4-22-5-23-4-24-4-23-5-25-4-24-5-25-5-24-4-25-5-25-4-25-5-26-4-25-5-25-4-25-4-25-5-24-4-25-4-24-4-24-4-24-4-23-4-23-4-22-3-22-4-21-3-21-3-20-3-19-3-19-3-17-3-17-2-17-2-15-2-14-2-14-2-12-1-11-2-10-1-9-1-8 0-6-1-6 0-4 0-2 1-1 0M2170 1238l-22 12-23 12-22 14-21 15-20 15-20 17-20 17-18 18-18 19-17 20-16 20-15 21-14 22-13 22-13 23-11 23-10 24-9 24-9 25-7 25-6 25-4 25-4 25M2960 2028l7-16 5-18 5-18 4-18 4-19 2-20 1-20 0-20 0-21-1-21-3-22-3-22-4-21-4-23-6-22-6-22-8-22-8-22-8-22-10-22-10-22-11-22-11-22-12-21-13-21-14-20-13-21-15-19-15-20-16-19-15-18-17-18-17-17-17-17-18-16-17-15-19-14-18-14-19-13-19-12-19-12-19-10-19-10-19-9-19-7-20-7-19-6-19-5-19-3-18-3-19-2-18 0-18 0M2565 1271l-26-3-26-1-27 0-26 1-27 2-27 3-26 4-26 5-27 6-26 7-25 8-26 9-25 10-24 11-25 12-23 13-23 14-23 14-22 16-21 16-20 17-20 17-19 19-18 19-17 19-16 21-15 20-14 22-13 21-12 23-11 22-10 23-9 24-7 23-6 24-5 24-3 24-3 24-1 24 1 24 1 24 3 24 5 24 6 23 7 23M2975 1550l-10-22-12-21-12-20-14-20-14-19-16-18-17-18-18-16-19-16-19-14-21-14-21-13-22-12-22-10-24-10-23-9-25-7-24-7-26-5-25-5-26-3M2724 1261l11 7 9 8 8 8 7 9 6 10 5 10 4 10 3 11 1 11 1 12-1 12-2 13-3 13-3 13-5 13-6 13-7 14-7 14-9 14-9 14-11 14-11 14-12 14-12 14-14 14-14 14-14 14-16 13-16 14-16 13-17 13-18 13-18 13-18 12-19 12-19 12-20 12-20 11-20 11-20 10-21 10-20 9-21 9-21 9-21 8-21 8-21 7-20 7-21 6-21 6-20 5-20 4-20 4-19 3-20 3-19 2-18 1-18 1-17 0-17 0-17-2-15-1-16-3-14-3-14-4-12-5-13-5-11-6-10-6-10-7-8-8-7-9-7-9-5-10-5-10-3-11-2-11-1-12 1-13M2698 1248l-17-7-18-5-18-5-19-3-20-3-20-1-20-1-21 1-21 1-21 2-22 4-21 4-22 5-23 7-22 7-22 7-22 9-22 10-22 10-22 11-22 12-22 13-21 13-21 14-21 14-20 16-20 15-20 17-19 17-18 17-19 18-17 18-17 19-16 19-16 20-15 19-14 20-13 21-13 20-12 21-11 20-10 21-10 21-8 21-7 21-7 21-5 20-5 21-3 20-3 20-1 20 0 20 0 19 2 18 3 19 4 17 5 17M2714 1255l-16-7M2984 1573l0 5-1 4-2 5-4 5-5 6-6 5-7 6-9 6-10 6-10 7-12 6-13 7-14 7-15 6-15 7-17 7-17 7-18 8-19 7-19 7-21 7-20 7-22 7-21 7-23 7-22 7-23 7-24 7-23 7-24 6-25 7-24 6-25 6-24 6-25 6-25 6-25 6-24 5-25 5-24 5-25 5-24 5-24 4-23 4-23 4-23 4-23 3-22 4-21 2-21 3-20 2-20 2-19 2-18 1-17 1-17 1-16 0-15 1-14-1-13 0-12-1-10-2-10-1-9-2-7-3-6-3-5-3-4-3-2-4M2878 1390l10 13 8 12 7 13 6 12 5 13 4 13 3 12 1 13 1 12-1 13-2 12-3 12-4 11-5 12-6 11-7 11-8 10-9 11-10 10-11 9-12 9-12 9-13 8-14 8-15 8-15 7-16 7-17 6-17 5-17 5-18 5-19 4-19 4-19 3-20 3-20 2-20 1-20 2-21 0-20 0-21 0-21-1-21-2-20-1-21-3-21-3-20-3-21-4-20-5-20-4-20-6-19-6-19-6-18-7-19-7-17-7-17-8-17-8-16-9-15-9-15-10-14-9-14-10-12-11-12-10-11-11-11-12-9-11-8-12-8-11-6-12-6-12-4-12-4-13-2-12-1-12-1-12 1-13 2-12 3-12 4-12 6-12 6-11 8-11 9-12 10-10 10-11 13-10M2797 1401l-20-7-21-5-22-5-22-4-22-3-23-2-24-1-23 0-24 1-25 1-24 3-25 3-25 4-25 5-24 6-25 6-25 8-25 8-24 9-24 9-25 10-23 11-24 12-23 13-23 13-22 13-21 14-22 15-20 16-20 15-20 17-18 17-18 17-18 18-16 18-16 18-14 19-14 19-13 19-12 19-11 20-10 20-8 20-8 20-7 20-5 19-4 20-3 20-2 20-1 19 1 19 2 19 3 19 5 18 6 18 7 17 9 17M2980 1563l-8-17-9-17-10-15-11-15-12-15-13-13-15-13-15-11-17-11-17-10-18-10-19-8-19-7M2911 2111l4-7 3-9 2-9 0-11 0-11-1-12-2-12-2-14-4-14-4-14-6-15-6-16-7-16-7-17-9-17-9-17-10-18-10-18-11-19-12-18-12-19-13-19-13-19-14-19-14-19-14-20-16-19-15-19-16-20-16-19-17-19-16-18-17-19-18-19-17-18-18-18-17-17-18-17-18-17-18-17-18-16-18-15-18-15-18-15-18-14-17-13-18-13-17-12-17-12-17-11-16-10-16-9-16-9-15-8-15-7-15-6-13-5-14-4-12-4-12-2-12-2-11 0-10 1-9 1-8 3-8 3M3013 1693l-1 2-2 3-4 2-5 2-6 3-8 2-8 3-10 3-11 3-12 3-13 3-15 3-15 3-16 3-17 3-17 3-19 4-19 3-20 3-21 3-21 4-22 3-22 3-23 3-24 3-23 3-24 4-25 3-24 3-25 3-25 3-25 2-26 3-25 3-26 3-25 2-25 3-26 2-25 2-25 3-24 2-25 2-24 2-24 1-23 2-23 2-23 1-22 1-21 2-21 1-20 1-20 1-18 0-18 1-17 0-17 0-15 0-14 0-14 0-12 0-12-1-10-1-9 0-7-1-7-2-5-1-4-2-3-1-1-2M2943 1484l-7-10-8-9-10-8-10-7-11-7-13-6-13-5-14-4-15-3-16-3-17-1-17-1-18 0-19 1-19 1-20 2-20 3-20 4-22 5-21 5-22 6-22 6-22 8-22 8-23 8-23 9-22 10-23 10-23 11-23 11-22 12-23 12-22 13-22 13-22 14-22 14-21 14-22 15-20 15-20 15-20 16-19 15-19 16-18 17-18 16-17 17-16 16-16 17-15 17-14 17-13 16-13 17-12 17-10 16-10 17-9 16-8 16-7 16-6 15-4 16-4 14-2 15-2 14 0 14 1 13 2 12 4 12 4 11 6 11M2975 1550l-3-5-5-4-5-4-7-3-8-2-9-2-10-1-11-1-12 0-13 1-14 1-15 1-16 2-16 3-17 3-18 4-19 4-19 4-20 5-20 6-21 6-22 6-21 7-22 7-23 7-22 8-23 8-23 8-24 9-23 9-24 9-23 9-24 10-24 10-23 10-23 10-24 11-23 11-23 10-22 11-23 11-22 11-21 11-22 12-20 11-21 11-19 11-20 12-18 11-18 11-18 11-16 11-16 11-15 10-14 11-14 10-12 10-12 10-10 9-9 9-9 9-7 9-6 8-5 8-4 7-3 7-1 7 0 6 1 5M3010 1679l-1 5-2 5-4 5-5 5-6 4-7 5-9 4-9 4-11 4-12 4-13 3-14 4-15 3-16 3-17 3-17 2-19 3-19 2-19 1-21 2-21 2-21 1-22 1-23 0-23 1-23 0-24 0-24 0-24 0-24-1-25 0-25-1-25-1-25-2-25-1-25-2-24-2-25-2-25-3-24-2-24-3-24-3-24-3-23-3-23-4-23-4-22-3-21-4-21-4-20-5-20-4-19-4-18-5-17-5-17-5-15-5-15-5-14-5-13-5-12-5-10-5-10-6-9-5-7-6-6-5-5-5-3-6-2-5-1-6 0-5M2416 1246l-27 1-27 1-27 3-26 4-27 5-26 6-25 6-26 8-24 9-25 10-24 11-23 11-22 13-22 13-21 15-21 15-19 16-19 17-18 17-17 19-15 19-15 19-14 21-12 21-12 21-10 22-9 22-7 23-7 23M3010 1672l-5-23-6-24-8-23-9-22-9-22-12-22-12-21-13-20-15-20-16-20-16-18-18-18-18-17-20-17-20-15-21-15-22-14-22-13-23-12-24-11-24-11-25-9-25-8-26-8-26-6-26-6-26-4-27-3-27-3-27-1-26 0M2943 1484l-5-8-7-7-7-6-9-5-9-4-11-4-11-3-13-2-14-1-14-1-15 0-16 1-17 1-17 2-18 3-19 4-19 4-20 5-20 5-20 6-21 7-22 7-21 8-22 8-22 9-23 9-22 10-23 10-22 10-23 11-23 12-22 12-23 12-22 12-22 13-23 13-21 14-22 13-21 14-21 14-21 14-20 15-20 14-19 15-19 15-18 14-18 15-17 15-16 15-16 15-15 15-14 14-13 15-13 14-12 14-10 14-10 14-9 14-8 13-7 12-5 13-5 12-4 12-2 11-1 10 0 11 1 9 2 9 4 8M2948 1494l-3-1-4-1-5 0-7 0-8 0-9 1-10 2-11 1-12 3-13 2-13 3-15 4-16 3-16 5-18 4-18 5-18 5-19 5-20 6-21 6-21 6-21 6-22 7-22 6-23 7-23 8-23 7-23 8-24 7-23 8-24 8-24 8-24 8-24 8-24 9-24 8-23 8-24 9-23 8-23 9-23 8-22 9-22 8-22 8-22 9-20 8-21 8-19 8-20 8-18 7-18 8-17 7-16 7-16 7-15 7-13 6-13 7-12 6-11 5-10 6-9 5-7 4-7 5-5 3-4 4-3 3-2 3M2202 1230l-20 6-19 8-18 8-18 9M3004 1903l3-20 2-20 1-21 0-21-1-21-2-21-4-21-4-22-6-21-7-22-7-21-9-22-10-21-10-21-12-21-12-21-14-20-14-21-15-19-15-20-17-19-17-18-18-18-18-18-19-17-20-16-20-16-21-15-21-14-21-14-22-13-23-13-22-11-23-11-23-10-23-9-23-8-24-7-23-7-24-5-23-5-23-4-24-2-23-2-22-1-23 0-22 2-22 2-21 3-21 5-20 5M2966 2014l0-3-1-5-1-5-3-6-4-6-4-8-5-8-6-9-7-10-7-10-9-11-8-12-10-12-10-13-11-13-11-14-12-14-13-14-12-15-14-15-14-16-14-16-14-16-15-17-15-16-16-17-16-17-16-17-16-17-16-17-17-18-17-17-17-17-16-17-17-17-17-17-17-17-17-16-17-17-17-16-16-16-17-16-16-15-16-15-16-15-15-14-15-14-15-13-15-13-14-12-13-12-14-11-12-11-13-10-11-9-11-9-11-8-10-7-9-6-8-6-8-5-7-4-6-3-6-2-4-2-4 0-3 0M2798 1312l10 9 8 9 6 10 6 10 4 10 3 11 2 12 1 11 0 12-2 12-2 12-4 13-5 12-6 13-6 13-8 13-9 13-10 13-11 13-11 13-13 13-13 12-14 13-15 12-15 13-16 12-17 12-17 12-18 11-19 11-19 11-19 11-20 10-20 11-21 9-20 10-22 8-21 9-21 8-22 8-22 7-22 7-22 6-22 6-22 6-22 4-22 5-21 4-22 3-21 3-21 2-21 2-20 1-20 1-19 0-19-1-19-1-18-2-17-2-17-3-16-3-15-5-15-4-14-5-13-6-12-7-11-7-10-7-9-8-8-9-8-9-6-10-5-10-3-11-3-11-1-12-1-12 1-12M2328 1235l-26 3-26 3-25 5-25 6-24 6-24 8-24 9-23 10-22 10-22 12-21 12-20 14-20 14-18 15-18 16-17 17-15 17-15 19-14 19M3017 1738l-2-23-4-24-4-23-6-22-8-23-8-22-10-22-11-22-12-21-13-21-14-20-15-20-16-19-17-19-18-18-19-17-20-17-20-16-21-15-22-14-22-14-23-12-24-12-24-11-25-10-25-9-25-9-25-7-26-6-26-5-26-5-27-3-26-3-26-1-27 0-26 0-26 2M2969 2009l1-4 0-4-1-6-2-6-3-8-4-8-5-8-5-10-7-10-7-10-8-11-9-12-9-12-10-13-11-13-12-14-12-14-12-15-14-14-14-16-14-15-15-16-15-15-15-17-16-16-17-16-17-17-16-16-18-17-17-16-18-17-18-16-18-17-18-16-18-17-18-16-18-16-19-16-18-15-18-16-18-15-18-14-18-15-17-14-17-14-17-13-17-13-17-12-16-12-15-11-16-11-15-10-14-10-14-9-13-9-13-7-12-7-11-7-11-5-10-5-9-4-8-3-8-2-7-2-6-1-5 1-4 1M2948 2053l9-19 8-20 7-20 6-21 6-21 4-22 2-22 2-23 1-22 0-24-1-23-3-23-3-24-4-24-6-24-6-23-7-24-8-24-9-23-10-23-11-23-12-23-12-22-14-22-14-22-15-21-15-20-16-21-17-19-18-19-18-18-19-18-19-17-20-16-20-15-20-15-21-14-22-12-21-12-22-12-22-10-22-9-23-8-22-7-23-6-22-5-23-4-22-3-23-1-22-1-22 1-21 2-21 2-21 5-21 5M3017 1795l-1 7-3 7-3 6-5 5-5 5-7 3-7 3-8 3-8 1-10 1-10 0-11-1-11-1-12-2-13-3-13-3-14-4-14-4-15-6-15-5-15-7-16-7-16-7-17-8-17-9-17-9-17-9-17-10-17-10-18-11-18-11-17-12-18-11-17-12-18-13-17-12-18-13-17-14-17-13-16-13-17-14-16-14-16-14-16-14-15-14-15-14-14-14-14-14-14-14-13-14-12-14-12-14-11-14-11-13-10-14-10-13-8-13-8-12-8-12-6-12-6-12-5-11-4-10-3-11-3-9-1-10-1-8 0-8 1-8 3-7 3-6 4-6 5-5 6-4 6-3M3003 1640l1 10-1 11-1 10-4 11-4 10-6 9-7 10-8 9-9 9-10 9-12 9-12 8-14 8-14 7-16 7-16 7-17 7-18 6-19 6-19 5-20 5-21 4-21 4-22 4-22 3-23 3-23 3-24 2-23 1-24 2-25 0-24 1-25 0-25-1-24 0-25-2-25-1-25-3-24-2-25-3-24-3-24-4-24-4-24-4-23-5-23-5-22-6-22-6-21-6-21-7-20-7-20-7-18-8-18-7-18-9-16-8-16-9-14-9-14-9-13-9-12-10-10-10-10-10-8-10-8-10-6-10-5-11-3-10-2-11-1-10 0-11 2-10 3-11M2687 1241l3 2 1 3 0 4 0 4-1 6-3 6-3 7-4 8-5 8-6 9-6 10-8 11-8 11-9 11-9 13-11 12-11 13-11 14-12 14-13 14-13 15-14 15-14 15-14 16-15 15-16 16-16 16-16 17-16 16-17 17-16 16-18 17-17 16-17 17-18 16-17 17-18 16-18 16-18 16-17 16-18 16-17 15-18 15-17 15-17 15-17 14-17 14-16 13-17 13-15 13-16 12-15 11-15 11-14 10-13 10-14 9-12 9-12 8-12 7-10 6-10 6-10 5-8 4-8 4-7 2-6 2-6 1-4-1-4-1-2-1M2976 1991l5-15 4-16 3-16 2-17 1-17 1-18-1-19-2-18-2-20-3-19-4-20-5-20-6-20-6-20-8-21-8-21-8-20-10-21-10-21-11-20-11-21-12-20-13-20-13-20-14-20-14-19-15-19-15-19-16-18-16-18-16-18-17-17-17-17-18-16-18-15-18-15-18-14-18-13-19-13-18-12-19-12-18-10-19-10-19-9-18-8-19-7-18-7-18-5-18-5-18-3-17-3-17-1-17-1-16 1-16 1M2896 1412l7 11 6 11 4 11 3 11 2 12 1 11-1 12-2 12-3 11-4 12-5 12-7 11-8 12-8 12-10 11-11 11-12 11-12 11-14 11-14 10-15 10-16 10-17 10-17 9-18 9-19 9-19 8-20 8-20 8-21 7-21 7-22 7-22 6-22 6-22 5-23 5-23 4-23 4-23 4-23 3-24 3-23 2-23 1-23 2-23 0-23 1-22-1-22 0-22-1-22-2-21-2-21-3-20-3-20-4-19-4-19-4-18-5-17-6-17-6-16-6-15-7-14-8-14-7-12-9-12-8-10-9-10-9-8-10-7-10-6-11-5-10-4-11-3-12-1-11 0-12 1-12 3-12 4-12M2634 1218l-12-4-13-2-13-2-14-1-14 1-15 1-16 2-16 3-16 4-17 6-17 5-17 7-18 8-18 8-18 9-18 10-18 11-19 11-18 13-19 12-18 14-19 14-18 14-18 15-19 16-17 16-18 17-18 17-17 17-17 18-17 18-16 18-16 19-15 19-15 19-15 19-14 19-14 20-13 20-12 19-12 20-11 20-11 19-10 20-9 19-9 19-8 19-7 19-6 18-6 18-4 18-4 17-3 17-2 16-2 16 0 15 1 15 1 14 3 13 3 13 4 12M2414 1254l-27 1-27 1-26 3-27 4-26 5-26 5-25 7-25 8-25 8-24 10-24 10-23 11-22 13-22 13-21 14-21 14-19 16-19 16-17 17-17 18-16 18-15 19-13 20-13 20-11 21-10 21-9 22-8 22-6 23M3008 1666l-5-23-6-23-7-22-9-22-10-21-12-21-12-20-14-20-14-19-16-19-17-18-18-17-18-17-20-16-20-15-21-14-22-14-22-12-23-12-24-11-24-10-25-8-25-9-25-7-26-6-26-5-27-4-26-3-27-3-26-1-27 0M2885 1399l-6-6-7-5-8-4-10-4-10-2-11-2-12 0-13-1-14 1-14 2-15 2-16 3-17 4-17 4-18 6-18 5-19 7-19 7-20 8-20 8-20 9-21 9-21 10-21 11-21 11-22 11-21 12-22 12-21 13-22 13-22 14-21 13-21 15-22 14-21 14-21 15-20 15-20 16-20 15-20 16-19 15-19 16-18 16-18 16-17 15-17 16-16 16-16 16-15 15-14 16-13 15-13 15-12 15-11 15-10 14-10 14-8 14-7 13-7 13-5 12-5 12-3 12-2 10-1 11 0 9 1 9 2 9 4 7M2482 1205l-27-1-26 0-27 1-26 3-26 3-27 4-26 6-25 6-26 8-25 9-25 9-24 11-24 11-23 13-23 13-22 14-21 15-21 16-20 17-19 17-18 19-17 18-16 20-16 20-14 21-13 22-12 21-11 23-10 23-9 23-7 23M2883 1396l-16-18-17-18-18-17-19-16-20-15-20-14-22-14-22-12-22-12-24-10-23-9-25-9-25-7-25-6-25-5-26-4-26-3-26-2M2998 1927l5-22 4-23 3-23 2-23 0-24 0-23-2-24-2-24-4-24-5-24-6-24-7-24-7-23-9-24-10-23-11-23-12-22-12-22-14-22-14-21-15-21-16-20-17-20-17-19-18-18-19-18-19-17-20-16-20-15-21-15-22-14-21-12-23-12-22-11-23-10-23-9-23-8-24-7-23-6-24-5-23-4-24-2-24-2-23 0-23 0-23 2-23 3M2982 1568l-3-4-3-3-5-3-7-2-7-2-9-1-9-1-11 0-12 0-13 1-13 1-15 2-15 2-17 3-17 3-18 4-18 4-19 4-20 5-20 5-21 6-21 6-22 6-22 6-23 7-23 7-23 8-23 8-24 8-23 8-24 8-24 9-24 9-24 9-24 9-23 10-24 9-24 10-23 9-23 10-23 10-22 10-22 10-22 10-21 11-21 10-21 10-20 10-19 10-18 10-18 9-18 10-16 10-16 9-15 9-14 9-13 9-12 9-11 8-10 8-9 8-8 7-7 7-6 7-4 6-4 6-2 6 0 5 0 5M2176 1315l-23 5-22 7-23 7-21 8-21 9-20 10-19 11-19 12-17 13-17 13-16 15-14 15-14 16-12 17-12 17-10 18M2990 1951l5-20 4-20 3-21 1-21 0-21-2-22-3-21-4-21-5-22-6-21-8-21-9-21-9-21-11-21-12-20-13-20-14-20-15-19-16-19-17-18-18-18-18-18-19-17-20-16-21-16-21-15-22-14-23-14-23-13-23-12-24-12-24-10-25-10-25-10-25-8-25-7-25-7-26-6-26-5-25-4-26-3-26-2-25-1-25 0-26 0-24 2-25 2-24 4-24 4M2977 1556l-4-3-4-3-6-2-7-2-8-1-10-1-10-1-12 0-13 0-13 1-15 1-15 1-17 2-17 2-18 2-18 3-20 3-20 3-20 4-21 4-22 4-22 5-22 5-23 5-24 5-23 5-24 6-24 6-24 6-25 7-24 6-25 7-24 7-25 7-24 7-24 7-25 8-24 7-23 8-24 7-23 8-23 8-23 8-22 8-22 8-21 7-20 8-20 8-20 8-19 8-18 7-17 8-16 8-16 7-15 7-14 7-13 7-12 7-10 6-10 7-9 6-8 6-6 5-5 6-4 5-2 4-2 5M2919 1445l-7-8-8-6-10-7-10-5-11-4-12-4-14-3-14-2-15-1-15-1-17 1-17 1-18 2-18 2-19 3-19 4-20 5-21 5-20 6-22 7-21 7-22 8-22 8-22 9-22 10-22 10-23 11-22 11-23 11-22 12-23 12-22 13-22 13-22 14-22 14-21 14-21 14-21 15-21 15-20 15-19 15-20 16-18 16-18 15-18 16-17 16-16 16-16 16-14 16-14 16-14 16-12 16-12 15-11 15-9 16-9 15-8 14-7 15-6 14-5 13-3 13-3 13-1 12-1 12 1 11 2 11 4 10 4 9M2804 1317l10 8 8 9 7 10 5 9 5 10 3 10 2 11 1 10 0 11-1 11-3 11-3 12-5 11-5 12-7 11-8 11-8 12-10 11-10 12-12 11-12 11-13 11-14 11-14 11-16 10-16 10-16 11-17 9-18 10-18 9-19 9-19 9-20 8-20 8-20 8-21 8-20 7-21 6-22 6-21 6-22 6-21 5-22 4-22 4-21 4-22 3-22 3-21 2-21 2-21 1-20 1-21 1-20 0-19-1-20-1-18-2-18-2-18-3-17-3-16-3-16-5-15-4-15-5-13-6-13-6-12-7-11-7-10-7-9-8-8-9-7-8-6-10-5-9-3-10-3-11-1-10-1-11 1-12 2-11 4-12M2925 1455l-3-2-4-1-5 0-7 0-8 1-9 1-9 2-11 3-12 3-13 3-13 5-15 4-15 5-16 6-16 6-18 7-18 7-18 7-20 8-19 8-20 9-21 9-21 9-21 9-22 10-22 10-22 10-22 11-23 10-22 11-23 11-23 11-22 12-23 11-23 12-23 11-22 12-22 12-22 11-22 12-22 12-21 11-21 12-21 12-20 11-19 11-19 12-19 11-18 11-17 10-17 11-16 10-15 10-15 9-14 10-12 9-12 8-11 9-11 8-9 7-8 7-7 6-5 6-5 6-4 5-2 4-1 4 0 3M2924 2092l2-5 0-6-1-6-2-8-3-8-3-9-5-9-6-10-7-11-7-12-8-12-9-12-10-13-11-14-12-14-12-14-12-15-14-15-14-15-14-16-16-16-15-16-16-16-17-17-17-17-17-16-18-17-18-17-18-17-19-17-18-17-19-16-20-17-19-16-19-17-20-16-19-16-20-16-19-16-19-15-20-15-19-14-19-15-19-14-18-13-19-13-18-13-18-12-17-11-17-11-17-11-16-10-15-9-15-9-15-8-14-7-13-6-13-6-11-5-11-4-11-4-9-2-9-2-7-1-7 0-6 1-5 2" stroke="#c8303f" stroke-width="2.7" stroke-opacity="0.8"/>
<path d="M2394 1182l20-1 19 0 19 0 19 1 19 2M2132 1258l16-9 17-8 18-8 18-8 18-7 19-6 19-6 19-5 20-5 19-4 20-3 20-3 19-3 20-1M2487 1231l-14 6-14 6-13 8-13 8-12 9-12 11-11 11-11 12-9 13-10 14-8 14-7 15-7 17-6 16-6 18-4 18-3 19-3 19-2 20-1 20 0 20 1 21 2 21 3 22 4 21 5 22 5 22 6 21 8 22 8 21 9 22 10 21 10 20 11 21 12 19 13 20 13 19 14 18 15 17 15 17 15 16 16 16 17 14 16 14 17 12 17 12 18 11 17 10 18 9 17 7 18 7 18 6 17 5 18 3 17 3 17 1 17 1 16-1 16-1 16-3 15-4 15-4 14-6 14-7 13-7 13-8 12-10 11-10 11-11 10-11 10-13 9-13 8-14 7-14 7-15 6-16 5-16 4-16 4-17 3-18 2-18 1-18 1-18 0-19-1-19M2772 1292l-15-11-16-10-16-9-16-8-16-7-17-7-16-6-16-5-17-4-16-3-16-2-16-1-16-1-16 1-15 2-16 2-15 4-14 4M2347 1267l-18-3-18-2-19-1-18-1-19 1-18 2-19 3-18 4-18 5-18 6-18 6-18 8-17 8-17 9-17 11-16 10-16 12-16 12-15 14-14 13-14 15-14 15-13 15-12 17-11 16-11 18-10 17-10 18-9 19-8 19-7 19-6 19-6 20-5 19-4 20-3 20-3 20-1 20-1 20 0 20 1 20 2 20 2 19 4 19 4 19 5 19 6 18 7 18 8 18 8 16 10 17 10 16 10 15 12 14 12 14 13 13 13 13 14 11 15 11 16 10 15 9 17 8 17 7 17 7 18 5 18 4 18 3 18 3 19 1 19 0 19-1 20-2 19-3 19-4 19-5 19-6 19-7 19-8 18-9 18-11 18-11 17-12 17-13 17-14 15-14 16-16 14-16 14-17 13-18 13-18 12-19 11-19 10-20 9-20 8-21 7-21 7-21 5-22 5-21 3-22 3-22 1-21 1-22 0-22-2-21-2-21-4-20-4-21-5-20-6-19-8-19-8-19-8-17-10-17-10-17-12-16-12-15-12-14-14-13-14-13-14-11-15-11-16-10-16-9-17-8-16-7-18-5-17-5-18-4M2483 1196l17 6 18 6 19 8 18 8 19 9 20 10 19 11 20 11 19 13 20 12 19 14 20 14 19 15 19 16 19 15 19 17 18 17 17 17 18 17 16 18 16 18 15 18 15 18 14 18 13 18 12 18 12 18 10 17 10 18 9 17 8 17 7 16 5 16 5 16 4 15 4 15 2 14 1 13M2390 1182l14 0 14 1 15 2 16 3 17 4 17 4M2512 1233l-12 7-11 8-10 9-11 9-9 11-9 12-9 13-8 14-7 15-6 16-6 16-5 18-4 18-4 19-3 20-2 20-1 21 0 22 0 22 1 22 2 23 3 23 4 24 4 23 6 24 6 24 7 23 7 24 9 23 9 23 10 23 10 23 11 22 12 21 12 21 12 20 14 20 13 19 14 18 14 17 15 16 15 16 15 14 15 14 16 12 15 12 16 10 15 9 16 8 15 7 15 6 15 4 15 4 15 2 14 2 14 0 14-1 13-2 13-3 13-5 12-5 12-6 11-7 10-9 10-9 10-10 9-11 8-11 8-13 7-13 7-14M2673 1234l-14-5-14-5-14-4-14-2-14-2-14-1-14 1-13 1-13 2-13 4-12 4-12 6M2465 1182l19 2 20 2 19 3 19 4 20 4 19 5 19 5 18 6 19 7 18 7 18 7 17 9 17 8 16 9M2409 1181l18-1 19 1 19 1M2395 1181l22-1 22 0 22 1M2139 1254l20-10 19-9 21-9 21-8 21-7 21-7 22-6 22-5 22-4 22-3 23-3 22-2M2477 1256l-23 4-22 5-23 6-22 8-22 9-21 9-21 12-21 12-19 13-20 15-18 16-18 16-17 18-17 18-15 20-15 20-13 21-13 22-12 23-10 23-10 24-8 24-7 25-6 25-5 26-4 25-3 26-1 26 0 27 1 26 2 26 4 26 5 25 5 26 8 25 8 24 9 25 10 23 12 23 12 22 14 22 14 21 16 20 16 19 17 18 18 17 18 16 20 15 20 14 20 13 21 12 21 10 22 10 22 8 23 7 23 6 23 4 23 3 23 2 23 1 23 0 23-2 22-3 23-4 22-5 22-7 22-7 21-9 21-10 20-10 20-12 19-13 19-14 18-15 17-15 16-17 16-17 15-18 14-19 13-20 12-20 12-21 10-21 10-22 9-22 7-23 7-23 5-23 5-24 4-23 2-24 2-24 0-24 0-25-2-24-2-24-4-24-4-23-6-24-7-23-7-23-9-22-9-22-11-21-11-21-13-21-13-19-14-19-15-19-15-17-17-17-17-16-17-15-19-14-19-13-20-13-20-11-20-10-22-9-21-8-22-7-22-6-23-4-22-4-23-2-23-1-23 0-23 2-23 3M2387 1251l-22-2-22-1-22 0-22 1-23 3-21 3-22 5-22 6-21 6-21 8-20 9-21 10-19 11-20 11-18 13-18 13-18 15-17 15-16 16-15 16-15 18-14 18-13 18-13 20-11 20-11 20-9 21-9 21-8 21-7 22-6 22-5 23-4 22-2 23-2 22-1 23 0 23 1 23 2 22 4 23 4 22 5 22 7 21 7 21 8 21 9 21 11 20 11 19 12 19 13 18 13 17 15 17 15 16 17 15 17 14 17 13 18 13 19 11 20 11 20 9 20 9 21 7 22 6 21 6 22 4 22 3 23 1 22 1 23-1 23-1 22-3 23-4 22-5 23-7 22-7 21-9 22-10 20-11 21-12 20-13 19-14 19-15 18-16 17-16 16-18 16-18 15-20 14-20 12-20 12-22 11-21 10-23 9-23 8-23 7-23 5-24 4-24 4-24 2-24 1-24 0-24-2-24-2-24-4-24-5-23-6-23-7-23-8-22-9-21-10-21-11-21-12-19-13-19-14-19-15-17-16-17-16-15-17-15-18-14-18-13-19-11-20-11-20-10-20-9-21-7-21-7-22-5-21-4-22-3M2314 1239l-10-6-11-5-10-4-12-2-11-2-12-1-12 1-12 1-12 3-13 3-12 4-13 6M1882 2007l6 13 7 11 7 11 7 10 9 9 8 9 9 7 10 7 10 5 11 5 11 3 11 2 12 2 12 0 13-1 12-2 14-3 13-4 13-5 14-6 14-8 14-8 14-10 14-11 14-11 14-13 14-14 14-14 13-16 14-16 13-18 13-18 12-19 12-19 12-21 11-20 11-22 10-22 10-22 9-22 9-23 8-23 7-23 7-23 6-24 6-23 4-23 4-22 3-23 2-22 2-22 1-21 0-21 0-20-2-19-2-19-2-18-4-18-4-16-5-16-5-15-6-14-7-13-7-12-8-11-8-10-9-9-9-7-10-7M2467 1194l22 5 21 6 22 7 22 7 22 9 22 9 22 11 22 11 23 12 21 12 22 14 21 14 21 15 21 15 20 16 19 17 19 17 18 17 18 18 17 18 15 18 15 19 14 18 13 19 13 19 11 18 10 19 9 18 8 19 7 18 6 18 4 17 4 17M2334 1188l17-2 18-1 18 0 20 1 19 2 21 3 20 3M2505 1256l-20 5-19 7-19 7-18 9-18 10-18 11-17 12-17 13-16 14-16 15-14 16-14 18-14 18-12 19-12 20-11 20-10 22-9 22-8 23-7 23-6 24-5 24-4 25-3 25-2 25 0 25 0 26 1 25 3 26 3 25 5 25 6 25 7 25 7 24 9 24 10 23 11 23 11 22 13 21 13 21 14 20 15 19 15 18 17 17 16 16 18 15 18 14 18 13 19 12 19 10 20 10 19 8 20 7 21 6 20 5 20 3 20 3 21 1 20 0 20-2 20-2 19-4 19-5 19-6 19-7 18-8 18-9 17-10 17-11 16-13 16-13 15-14 14-14 14-16 13-16 12-17 11-18 11-19 10-19 9-19 9-21 7-20 7-21 6-22 5-21M2949 1494l-11-19-12-19-12-19-13-18-14-17-14-16-15-16-16-15-16-14-16-13-17-12-18-12-18-10-18-9-19-9-19-7-19-7-19-5-20-4-20-3-19-2-20-1-20 1-20 2-20 2-19 4M2469 1208l4 7 5 8 6 9 6 10 7 10 8 11 8 12 9 13 9 13 11 14 10 15 11 15 12 16 12 16 13 17 13 17 13 17 14 18 14 18 14 18 14 19 15 18 15 18 14 19 15 18 15 18 14 18 15 18 14 18 14 17 14 16 14 17 13 15 13 15 13 15 12 14 11 13 11 13 11 12 10 11 10 10 8 10 9 9 7 8 7 7 7 6 5 5 5 5 5 4 3 2 3 2 3 1 1 1 1-1M2459 1181l-2 1 0 1 0 2 1 3 2 4 2 4 3 6 4 6M2456 1236l-20 3-20 4-20 5-19 7-19 7-18 8-18 9-18 10-16 10-17 12-15 13-15 13-15 15-13 15-13 16-12 16-11 17-10 18-9 19-9 19-7 20-6 20-6 20-4 21-3 21-3 22-1 22 0 22 1 21 2 23 3 22 5 22 5 21 6 22 8 21 8 22 10 20 10 21 11 20 13 19 13 19 14 18 15 18 15 17 17 16 17 15 18 14 18 14 19 13 19 12 20 10 20 10 21 9 21 8 21 6 21 6 22 5 21 3 22 2 21 2 21 0 22-1 21-2 20-3 21-4 20-5 20-6 19-7 19-9 18-9 17-10 17-11 17-11 16-13 14-14 15-14 13-15 13-15 11-17 11-16 10-18 10-18 8-18 7-19 6-20 6-19 4-20 4-20 2-21 2-20 0-21 0-21-2-20-2-21-3-21-5-21-5-20-6-20-7-20-8-20-8-19-10-19-10-19-11-18-12-18-13-17-14-17-14-16-15-15-15-15-16-14-17-13-17-13-17-12-18-11-19-10-19-9-19-9-20-8-19-6-21-6-20-5-20-4-21-2-20-2-20-1-21 0-20 1-20 2M2499 1187l18 4 19 4 19 5 19 5 19 7 19 7 20 7 19 8 19 9 19 10 18 10 19 10 18 11 18 12 17 11 16 13 17 12 15 13 15 13 14 14 14 14 13 13 12 14 11 14 10 14 10 14M2428 1180l17 1 18 1 17 2 19 3M2381 1201l14-5 13-4 13-4 11-3 11-2 10-1 10 0M1834 1781l1-9 1-10 3-11 3-12 5-12 5-13 6-13 7-14 8-15 8-15 10-15 10-16 11-16 12-17 12-17 13-17 14-17 15-17 15-18 15-17 16-17 17-18 17-17 17-17 17-16 18-17 18-16 18-15 18-16 18-14 18-15 18-13 18-13 18-13 17-11 17-11 17-10 16-10 16-8 15-8 15-7 14-7M2502 1187l19 4 20 5 20 5 20 6 20 7 20 8 21 9 20 9 20 10 19 10 20 12 19 11 19 13 18 13 18 13 17 14 17 14 16 15 15 15 15 15 14 16 13 15 13 16 11 16 10 16 10 16 9 16M2427 1180l18 1 19 1 19 2 19 3M2424 1195l24 1 24 0 23 2 24 2 23 4 23 4 22 4 22 5 21 6 21 7 20 7 19 8 19 9 17 9 17 10 16 10M2066 1302l16-11 16-10 18-10 18-10 19-9 20-8 20-8 22-7 21-7 23-6 22-5 24-5 23-3 24-3 24-2 24-2 24-1M2488 1214l-2 8-2 8-1 9 0 10 1 10 1 12 2 12 2 14 4 13 3 15 5 16 5 16 6 16 7 17 7 18 7 18 9 19 9 19 9 20 10 19 11 20 11 20 11 20 12 20 12 20 13 20 12 20 13 20 14 19 13 19 14 19 13 18 14 18 14 17 13 17 14 16 14 15 13 14 13 14 13 13 13 12 12 11 12 11 12 9 11 9 11 7 10 7 10 6 10 5 9 3 8 3 8 2 8 1 6 0 7-1 5-2 5-2 5-4 4-4 3-6 2-6M2533 1190l-8-1-6 0-6 1-6 2-5 2-4 4-4 5-4 5-2 6M2587 1219l6 7 7 8 6 8 8 10 7 10 9 11 8 12 9 12 10 14 9 14 11 14 10 16 11 16 11 16 11 17 11 17 12 18 11 18 12 19 12 18 12 19 11 19 12 19 12 19 11 19 11 19 11 19 11 18 11 18 10 18 10 18 10 17 9 16 9 16 8 16 8 15 8 14 7 14 7 12 6 12 5 12 5 10 5 10 3 9 4 8 3 7 2 6 1 6 2 4 0 4 0 3M2564 1197l2 1 3 3 4 3 4 4 5 5 5 6M2416 1183l21 0 21 1 21 1 20 2 21 2 20 3 19 4 19 5 19 5 18 5M2158 1244l17-8 18-7 18-8 19-6 20-6 20-6 20-4 20-4 21-4 21-3 21-2 22-2 21-1M2462 1246l-23 3-22 5-23 6-22 7-22 8-21 9-21 10-21 12-20 13-19 13-19 15-18 16-17 16-16 18-16 18-14 20-14 20-13 21-12 21-10 23-10 22-8 24-8 24-6 24-5 25-4 25-3 25-2 25 0 26 1 25 2 25 3 26 5 25 5 25 7 25 8 24 9 24 11 23 11 23 12 22 14 22 14 20 15 20 16 20 17 18 18 17 19 17 19 15 20 15 21 13 21 12 21 11 22 10 23 9 22 8 23 6 23 6 24 4 23 2 24 2 23 0 23-1 24-2 23-3 22-5 23-5 22-7 22-8 21-9 21-10 20-11 19-12 19-13 19-15 17-15 17-15 16-17 15-18 15-18 13-19 13-20 12-20 10-21 10-21 9-22 8-22 6-23 6-23 5-23 3-23 3-24 2-24 0-23-1-24-1-24-3-24-4-23-4-24-6-23-7-23-8-22-9-22-9-22-11-21-12-21-12-20-14-20-14-19-15-18-16-18-17-16-17-16-18-15-19-14-19-13-20-13-20-11-21-10-21-10-22-8-22-7-22-6-23-4-23-4-23-3-23-1-23 0-23 1-23 2M2477 1205l9 7 9 7 9 8 11 8 11 10 11 9 12 11 13 11 13 12 13 12 14 13 14 14 15 14 14 14 16 15 15 15 15 15 16 15 15 16 16 16 16 16 15 16 15 16 16 16 14 16 15 16 14 15 15 15 13 16 13 14 13 15 12 14 12 13 11 13 11 13 10 12 9 11 8 11 8 10 8 10 6 9 6 8 5 7 4 7 4 6 3 6 2 4 1 4 1 3M2435 1180l2 1 4 1 4 2 5 3 6 3 6 4 7 5 8 6M2517 1251l-16 6-17 7-16 8-16 9-15 11-15 11-14 13-14 13-13 15-12 15-12 17-11 18-10 18-10 19-9 20-8 21-7 21-6 22-5 23-4 23-4 24-2 24-1 24-1 25 1 25 1 25 3 25 3 25 5 25 5 24 7 25 7 24 8 24 9 23 10 23 11 23 12 21 12 21 13 21 14 19 14 19 15 17 15 17 16 16 17 15 16 13 18 13 17 11 18 11 18 9 18 8 18 7 18 6 19 4 18 3 18 2 18 1 18 0 18-1 17-3 18-4 16-4 17-6 16-7 16-8 15-9 15-10 14-11 13-12 13-13 13-14 12-14 11-15 10-16 10-17 9-17 9-18 8-19M2837 1346l-15-13-15-13-15-12-16-11-17-11-16-9-17-8-17-8-17-6-18-5-17-5-18-3-18-2-17-1-18 0-17 2-18 2-17 4-17 4M2300 1230l-5-7-5-6-5-4-6-4-6-2-6-1-7-1-7 1M1946 2120l6 5 5 3 6 3 6 2 7 0 7 0 7-2 8-3 8-4 9-5 8-7 9-7 10-9 9-10 10-11 10-12 10-13 10-14 11-16 10-16 11-17 10-19 11-19 10-20 10-21 11-21 10-22 10-23 9-23 10-24 9-24 9-24 9-25 8-24 8-25 8-25 7-25 6-24 7-25 5-24 6-23 4-24 5-22 3-22 3-22 3-21 2-20 2-19 0-18 1-18 0-16-1-16-1-14-2-14-2-12-3-12-3-10-3-9-4-8M2262 1231l0-6 0-5-1-4-2-3-2-2-3-2-3-1-3 0-4 1M1844 1882l1 4 2 3 2 2 3 2 3 0 3 0 4-1 5-2 5-3 6-3 6-5 6-5 7-6 7-7 8-8 8-8 9-10 8-10 10-11 9-12 10-12 10-13 10-14 11-14 10-15 11-15 11-16 11-17 11-16 11-17 11-18 11-17 11-18 10-18 11-18 10-18 11-18 10-18 9-18 10-18 9-17 9-17 8-17 8-16 8-16 7-16 6-15 7-14 5-14 6-14 4-12 4-12 4-11 3-11 3-10 2-9 2-8 1-7 0-7M2434 1193l25 2 24 2 25 3 24 4 24 5 24 6 24 6 23 7 23 8 22 8 22 10 21 10 20 10 20 11 18 12 18 12 17 13 16 13 15 14 14 14M2151 1248l17-9 19-8 20-7 20-7 21-5 22-6 22-4 23-3 23-3 24-2 24-1 24 0 24 0M2327 1238l-13-6-12-5-13-4-14-3-13-1-13 0-14 1-14 2-14 3-14 4-14 5-14 7M1944 2116l9 12 10 10 10 10 11 9 12 8 11 7 13 5 12 5 13 3 13 3 14 1 14 0 14-1 15-3 14-3 15-5 15-6 15-7 14-9 15-9 15-11 15-12 15-13 14-15 14-15 14-16 14-18 13-18 13-19 13-21 12-21 12-21 11-23 10-23 10-24 9-24 9-24 8-25 7-25 6-26 6-25 5-26 4-26 3-25 3-25 1-26 1-24 0-25-1-23-1-24-2-23-4-22-3-21-5-21-5-19-7-19-6-18-8-17-8-16-8-15-10-14-9-13-11-12-11-11-11-9-11-8-12-7M2304 1232l-6-7-6-5-6-4-7-3-7-3-8-1-8 0-9 0-8 2-9 3M1878 1998l4 8 4 8 5 7 6 6 6 5 6 4 7 3 8 2 7 2 9 0 8-1 10-2 9-3 10-4 10-5 11-6 10-7 11-8 12-9 11-10 12-11 12-13 12-13 12-14 12-14 12-16 12-17 12-17 12-18 12-19 12-19 11-20 12-20 11-21 10-21 11-21 10-22 9-22 9-22 9-22 8-22 8-22 7-22 7-22 6-21 6-21 5-21 4-20 4-19 3-20 2-18 2-18 1-17 1-16 0-16-1-15-1-13-2-13-2-12-3-12-3-10-5-9-4-8-5-7M2519 1210l6 8 6 8 7 10 8 11 8 12 8 13 9 13 10 15 10 15 10 17 11 17 11 17 11 19 12 19 12 20 12 20 12 21 13 21 13 22 12 21 13 22 13 22 13 23 12 22 13 22 12 22 12 22 12 21 12 21 11 21 11 21 11 19 10 20 10 18 9 18 9 17 8 17 8 15 8 15 6 14 7 13 5 12 5 11 5 10 3 9 4 8 2 7 2 6 2 5 0 4 1 3M2496 1185l3 1 2 3 4 4 4 4 5 6 5 7M2372 1275l-21-2-22-1-21 0-22 2-21 2-22 4-21 4-21 6-20 7-21 8-20 8-19 10-19 11-19 11-18 13-17 13-17 14-16 15-16 16-15 16-14 17-13 18-12 18-12 19-11 20-10 20-9 20-8 21-7 21-6 21-6 22-4 22-3 22-2 22-2 22 0 22 1 23 1 22 3 22 4 22 4 21 6 22 7 21 7 20 9 20 9 20 11 19 11 19 12 18 13 18 14 17 14 16 16 15 16 14 16 14 18 13 18 12 18 11 20 10 19 9 20 8 21 7 21 6 21 5 21 4 22 2 22 2 22 0 21 0 22-2 22-3 22-4 22-5 21-7 21-7 21-9 21-9 20-11 19-12 19-12 19-14 18-15 17-15 16-17 16-17 15-18 14-19 13-19 12-20 11-21 10-21 10-22 8-22 7-23 6-23 5-23 4-23 3-23 1-24 1-23-1-24-1-23-3-24-4-23-5-22-6-23-7-22-9-21-9-21-10-21-11-20-12-19-13-18-14-18-15-17-15-16-16-15-17-15-18-13-18-13-19-11-19-11-19-9-21-9-20-7-21-6-21-5-21-4-22-3M2449 1190l21 2 21 3 21 3 21 4 21 5 22 5 21 6 20 7 21 7 20 7 20 8 19 9 19 9 18 10 17 10 17 10 16 10 16 11 15 12 13 11 13 12 12 12M2260 1204l16-4 17-4 18-3 18-2 19-2 19-1 20-1 20 0 21 1 21 2M2388 1242l-24-3-23-2-23 0-24 1-23 3-23 3-23 5-23 6-22 7-22 8-22 9-21 11-21 11-20 13-19 13-19 14-18 16-18 16-17 17-16 18-15 19-14 19-14 20-13 21-11 21-11 22-10 22-9 23-8 23-7 23-6 24-4 24-4 24-3 25-2 24-1 25 1 24 1 25 3 24 3 24 5 24 5 24 7 23 8 24 8 22 10 22 11 22 11 21 13 21 13 19 14 19 16 19 15 17 17 17 18 16 18 15 19 14 19 13 20 12 21 11 21 10 22 9 22 7 23 7 23 5 23 4 23 3 23 2 24 0 24-1 23-2 24-4 23-4 24-6 23-8 22-8 23-10 22-10 21-13 21-13 20-14 20-16 19-16 19-18 17-18 17-20 16-20 14-21 14-22 13-23 12-23 11-24 9-25 9-25 7-26 6-25 5-27 4-26 2-26 1-27 0-26-1-27-3-26-3-27-5-25-6-26-8-25-8-25-10-24-11-23-11-23-13-22-14-22-15-20-16-20-16-19-18-17-18-17-19-16-19-14-20-14-21-12-22-12-21-10-23-8-22-8-23-6-23-6-23-3M2458 1283l-21 2-21 3-21 4-21 5-20 6-20 7-20 8-20 9-19 10-18 11-18 12-17 12-17 14-16 14-15 15-15 16-13 17-13 17-12 18-12 19-10 19-9 20-8 20-8 21-6 21-5 21-4 22-3 21-3 22 0 22 0 23 1 22 2 22 3 22 5 21 5 22 7 21 7 21 9 21 9 20 11 20 11 19 13 18 13 18 14 18 15 16 16 16 16 15 17 14 18 14 19 12 18 11 20 11 20 10 20 8 21 8 21 6 21 6 22 4 21 3 22 3 22 1 22 0 21-1 22-2 21-3 22-5 20-5 21-6 20-7 20-9 20-9 18-10 19-11 17-12 18-13 16-14 16-14 15-15 14-16 13-17 13-17 12-18 10-19 10-18 9-20 8-20 7-20 6-20 6-21 4-21 3-21 2-22 1-21 0-22-1-21-2-21-3-22-4-21-5-21-6-20-7-21-8-20-9-19-10-20-10-18-12-18-12-18-13-17-14-17-15-15-15-15-16-15-17-13-17-13-18-12-19-11-19-10-19-9-20-8-20-8-20-6-21-5-21-5-21-3-22-2-21-1-21-1-22 1M2519 1201l12 6 11 6 13 8 12 8 14 8 13 9 14 10 15 11 14 11 15 12 16 12 15 13 15 13 16 13 16 14 15 15 16 14 15 15 15 15 15 16 15 15 15 15 14 16 14 15 13 16 13 15 13 15 12 15 11 15 11 14 10 14 10 14 9 13 8 13 8 12 7 12 6 12 5 11 5 10 4 10 3 9 2 8 2 8 1 7M2464 1182l8 1 8 2 9 3 9 4 11 4 10 5M2544 1220l1 7 2 8 2 9 3 10 3 10 4 12 5 12 5 14 5 14 7 14 6 16 7 16 8 16 8 17 9 18 9 18 9 19 10 19 10 19 11 20 11 20 11 19 11 20 12 20 11 20 12 20 12 20 12 19 12 19 12 19 12 19 12 18 11 17 12 17 11 16 11 16 11 15 11 14 10 14 10 13 9 12 9 11 9 10 9 9 7 8 8 8 7 6 6 6 6 5 5 3 5 3 5 2 3 1 4 0 2-1 3-2 1-2M2556 1195l-3 0-3 0-2 2-2 3-1 3-1 5 0 5 0 7M2535 1216l2 7 3 8 4 8 4 10 5 10 6 11 6 12 6 13 8 14 7 14 8 15 9 15 9 16 10 17 10 17 10 17 11 18 11 18 11 19 12 18 12 19 12 19 12 19 13 19 12 19 13 19 12 19 13 18 12 19 13 17 12 18 12 17 12 16 11 17 12 15 11 15 10 14 11 13 10 13 9 12 9 11 9 11 8 9 7 9 7 8 7 7 6 6 6 5 4 4 5 4 4 2 3 2 3 0 2 0 1-1 1-1M2536 1191l-2 0-2 1-1 1 0 3 0 4 1 4 1 5 2 7M2368 1220l-9-6-9-4-10-4-10-3-11-2-11-1-12 0-12 0-12 2-12 3-13 3M1842 1871l3 12 3 13 4 11 5 11 5 10 7 9 6 9 7 8 8 7 9 6 9 5 10 5 10 3 11 3 11 1 12 1 12 0 13-2 13-2 13-3 14-5 14-5 14-6 15-7 15-9 15-9 15-10 15-11 15-12 16-13 15-14 15-14 15-15 15-16 14-17 15-17 14-18 13-18 14-19 12-19 13-20 11-20 12-20 11-20 10-21 9-20 9-21 8-20 7-21 7-20 6-20 5-20 5-19 3-19 3-19 2-18 2-17 0-17 0-16-1-16-2-15-2-14-3-14-4-12-5-12-5-11-6-10-7-10-7-8-8-7-8-7M2351 1262l-18-3-18-2-18-1-19 0-18 1-19 2-18 3-19 4-18 5-18 5-18 7-18 7-18 9-17 9-17 10-16 11-16 12-16 12-15 13-15 14-14 14-13 15-13 16-13 16-11 17-11 17-11 18-9 18-9 18-9 19-7 19-7 20-5 19-5 20-5 20-3 20-3 20-1 20-1 20 0 20 1 20 1 20 3 19 3 19 5 19 5 19 6 18 6 18 8 18 8 16 10 17 9 16 11 15 12 14 12 14 13 14 13 12 14 12 15 10 15 10 16 9 17 9 17 7 17 6 18 5 18 5 18 3 19 2 19 2 19 0 19-1 19-2 20-3 19-4 19-5 20-6 19-7 18-9 19-9 18-10 18-11 18-12 17-13 16-14 16-15 16-15 14-17 14-17 14-17 12-19 12-19 11-19 11-20 9-20 8-21 8-21 6-21 6-22 4-21 4-22 3-22 1-22 1-21 0-22-2-21-2-21-3-21-5-20-5-20-6-20-7-18-8-19-9-18-9-17-11-16-11-16-12-15-12-14-14-14-14-12-14-12-15-10-16-10-16-9-17-8-17-7-17-6-18-5-18-4M2453 1246l-21 2-21 4-20 4-21 5-20 7-19 7-19 9-19 9-18 11-18 11-17 12-17 13-15 14-15 15-15 15-13 16-13 17-12 18-11 18-10 19-9 19-8 20-7 21-6 20-5 21-4 22-3 22-2 22-1 22 1 22 1 22 3 22 3 22 5 22 6 22 7 21 8 22 9 21 10 20 11 20 12 19 12 19 14 19 15 17 15 17 16 16 17 16 18 14 18 14 19 13 19 12 20 11 21 9 20 9 22 8 21 7 22 6 21 4 22 4 22 2 22 2 22 0 22-1 22-2 21-3 22-4 21-5 20-6 20-7 20-9 19-9 19-10 18-11 17-12 17-13 16-13 16-15 14-15 14-16 13-16 12-17 11-18 10-18 9-19 9-20 7-19 6-20 6-21 4-20 4-21 2-21 1-21 1-21-1-22-2-21-2-21-4-21-5-21-5-21-7-20-7-20-9-20-9-20-10-19-11-18-12-18-13-18-13-17-14-16-15-16-16-15-16-14-17-13-17-13-18-12-19-11-19-10-19-10-20-8-20-8-20-6-21-6-21-5-21-3-21-3-21-1-21-1-21 0-21 2M2366 1256l-19-3-19-2-19-1-20 1-19 1-20 2-19 4-19 4-19 5-19 6-19 7-18 8-18 9-18 10-17 11-17 11-17 12-16 13-15 13-15 15-15 15-13 15-14 17-12 16-12 18-11 17-10 19-10 18-9 19-8 20-7 19-6 20-6 20-4 20-4 21-3 20-2 21-1 20 0 21 0 20 2 20 2 20 4 20 4 20 5 19 6 19 7 19 8 18 8 17 10 17 10 17 11 16 12 15 12 14 14 14 14 13 14 13 16 11 16 11 16 10 17 8 18 8 18 7 18 6 19 5 19 4 20 3 20 2 20 0 20 0 20-1 20-3 20-3 20-5 20-6 20-7 20-7 20-9 19-10 18-11 19-12 18-12 17-14 17-15 16-15 15-16 15-17 14-18 14-18 12-19 12-19 11-20 10-21 9-21 8-21 7-21 6-22 5-22 4-22 3-22 2-22 1-22 0-22-1-22-2-21-3-21-5-21-5-21-6-20-7-19-8-19-9-19-10-18-10-17-12-16-12-16-13-15-14-14-14-13-15-13-16-11-16-11-16-9-18-9-17-8-18-6-18-6-19-5-19-3M2489 1187l21 4 21 5 21 5 21 6 21 8 22 8 21 8 21 10 21 10 20 11 21 12 20 12 19 13 20 13 18 14 18 15 17 15 17 15 16 15 15 16 14 17 14 16 12 16 12 17 10 17 10 17 9 16M2391 1181l19 0 19 0 20 1 20 2 20 3M2482 1237l-19 6-19 6-19 8-18 9-18 10-18 12-17 12-16 14-16 15-15 15-14 17-14 18-13 18-12 20-11 20-10 22-9 22-9 22-7 24-6 24-6 24-4 25-3 25-2 26-1 26 0 26 1 26 3 26 3 26 5 26 5 26 7 25 8 26 8 24 10 25 11 23 11 24 13 22 13 22 14 21 15 20 16 19 16 18 17 18 18 16 18 15 19 14 19 13 19 12 20 10 20 9 20 9 21 7 20 5 21 5 21 3 20 2 21 0 20 0 20-2 20-3 19-4 20-6 18-6 19-8 18-8 17-10 17-11 17-12 15-12 16-14 14-15 14-15 13-16 12-17 12-18 11-18 10-19 9-20 8-20M2840 1349l-16-15-17-14-17-13-17-12-18-12-18-10-19-9-19-9-19-7-20-6-19-5-20-4-20-3-20-2-20 0-20 0-20 2-19 3-20 4M2589 1229l2 7 2 8 2 9 3 10 3 11 4 11 5 13 5 13 5 14 6 15 6 16 7 16 7 17 8 17 8 18 8 18 9 19 9 20 9 19 10 20 9 20 10 20 11 21 10 20 10 20 11 20 10 20 11 20 11 20 10 19 10 19 11 18 10 18 10 17 10 17 9 16 10 15 9 15 9 14 8 13 8 12 8 12 7 10 7 10 7 8 6 8 6 7 5 6 5 5 4 4 4 3 3 2 3 1 2 0 2-1 2-1M2595 1205l-2 0-2 0-2 2-1 2 0 4 0 4 0 6 1 6M2504 1214l0 7 1 8 2 8 2 10 3 10 3 11 5 11 4 13 6 13 6 13 7 15 7 15 8 15 8 16 9 17 10 16 10 18 10 17 11 18 12 18 11 18 12 19 13 18 12 19 13 18 13 18 13 18 14 18 13 18 13 17 14 17 13 16 13 16 14 16 13 15 12 14 13 14 12 13 12 12 12 12 11 11 11 10 10 9 10 8 10 8 9 7 8 6 8 5 8 4 6 3 7 2 5 2 6 0 4 0 4-1 3-2 3-2 2-4 2-4M2523 1189l-5 0-3 1-4 2-2 3-3 3-1 5-1 5 0 6M2557 1200l14 6 14 7 14 7 15 8 15 9 15 9 15 11 16 11 16 11 15 13 16 13 16 13 16 15 16 14 16 15 15 16 15 16 15 16 15 16 14 17 14 17 13 17 13 17 12 17 12 17 11 17 11 17 10 17 9 16 9 17 8 16 7 15 6 15 6 15 4 14 4 14 4 13 2 13 2 12 1 11M2508 1186l12 2 12 4 12 4 13 4M2492 1185l18 3 19 4 19 4 19 5 19 6 19 6 19 7 19 7 19 8 18 9 19 9 18 10 17 10 17 10 17 11 16 11 16 12 15 12 14 12 14 12 13 13 12 13 11 12M2421 1180l17 1 18 0 18 2 18 2M2433 1187l20 1 21 1 21 2 20 2 21 3 20 4 20 4 19 5 19 6 19 5 18 7 17 7 17 7 16 8 16 8M2204 1223l17-6 17-5 17-5 18-5 19-4 19-3 20-3 20-2 20-2 20-1 21 0 21 0M2569 1208l11 8 11 8 12 9 12 10 13 11 12 12 13 13 14 14 13 15 14 15 13 17 14 17 14 17 14 19 14 19 14 19 13 21 14 20 13 21 13 21 13 21 12 22 13 21 11 22 12 21 10 22 11 21 9 21 9 21 9 20 8 20 7 20 7 18 6 19 6 18 4 17 4 16 4 15 2 15 2 14 2 13 0 12 0 12-1 10-1 9-2 9M2523 1188l8 2 9 3 9 4 10 5 10 6M2518 1201l11 5 12 7 12 7 13 7 13 9 14 9 14 9 14 11 15 10 15 12 15 11 15 13 16 12 15 13 16 14 15 13 16 15 15 14 16 14 15 15 14 15 15 15 14 14 14 15 13 15 13 15 13 14 12 14 11 14 11 14 10 14 10 13 9 13 8 12 8 12 7 11 6 11 5 10 5 10 4 10 3 8 2 8 2 8M2463 1182l8 1 8 2 9 3 9 4 10 4 11 5M2550 1251l-11 6-11 7-10 8-10 10-9 10-9 11-8 12-8 13-7 14-6 14-6 16-5 16-4 17-4 17-3 19-2 19-1 19-1 20 0 21 1 21 2 21 2 21 3 22 4 22 5 22 5 22 7 22 7 22 7 22 8 21 9 21 10 21 10 21 11 20 11 20 12 19 12 18 13 18 13 17 13 16 14 15 14 15 14 13 14 13 15 12 14 11 15 10 14 8 15 8 15 7 14 6 15 4 14 4 14 2 14 2 13 0 13 0 13-2 13-3 12-3 12-5 11-6 11-6 10-8 10-8 9-9 9-10 9-11 7-11 7-12 7-13 6-14 5-14 5-15 4-16M2745 1274l-14-8-13-7-14-7-13-5-14-4-13-4-14-3-13-1-13-1-13 0-13 2-12 2-12 3-12 4-12 6M2340 1194l14-4 13-3 13-3 13-2 11-1 12-1M1864 1585l4-10 5-11 6-12 6-11 8-12 8-13 8-12 10-13 10-13 11-13 12-13 12-13 13-13 13-14 14-13 15-13 14-13 16-13 15-12 16-13 17-12 16-12 17-11 16-12 17-10 17-11 17-9 17-10 16-8 17-9 16-7 16-7 16-7 15-6 15-5 15-5M2520 1218l-1 8 0 9 0 10 1 12 1 12 2 13 3 15 3 15 4 17 4 17 4 18 6 19 5 19 7 21 6 21 8 22 7 22 8 22 9 23 9 24 9 24 10 23 10 24 10 24 10 24 11 24 11 24 11 23 11 23 11 23 12 22 11 22 11 21 11 21 11 19 11 19 11 18 10 18 11 16 10 15 9 15 10 13 9 12 9 12 8 10 8 9 8 8 7 7 7 5 6 5 6 3 6 2 5 2 4 0 4-1 4-2 3-3M2539 1192l-4 0-4 2-3 2-3 4-2 5-2 6-1 7M2407 1234l-21-1-21 0-21 0-21 2-21 3-21 4-21 4-21 6-20 6-20 8-20 8-19 10-19 10-19 11-18 12-17 12-17 14-16 14-16 14-15 16-14 16-14 17-12 17-12 18-11 18-10 19-10 19-8 20-8 20-6 20-6 20-5 21-3 21-3 20-2 21-1 21 1 21 1 21 3 21 3 20 4 21 6 20 6 20 8 19 8 19 9 19 11 18 11 17 12 17 13 16 14 16 14 15 16 14 16 13 17 13 17 12 19 10 18 10 20 9 20 8 20 7 21 6 21 5 21 4 22 2 22 2 22 1 22-1 22-1 22-3 22-4 22-5 22-6 22-7 21-8 21-9 20-10 20-11 19-11 19-13 19-14 17-15 17-15 16-16 16-17 14-18 14-18 12-19 12-19 11-20 10-20 9-21 8-21 6-21 6-21 5-22 3-22 3-22 1-21 0-22-1-22-2-21-3-22-4-21-5-20-6-21-7-19-9-20-9-19-10-18-11-18-12-17-13-17-13-15-15-15-15-15-16-13-16-13-17-12-18-10-18-10-19-9-19-9-20-7-19-6-21-5-20-4-21-4-21-2M2368 1211l0-6 0-6-1-5-2-4-2-2-3-2-3-1-4 0M1866 1966l2 3 3 2 3 1 4 1 4-1 5-2 6-2 6-4 7-5 7-5 8-7 9-7 9-9 9-9 10-11 10-11 11-13 11-13 12-14 12-15 12-15 13-17 13-17 13-17 13-19 13-18 13-20 14-20 13-20 14-20 13-21 13-21 13-21 13-21 13-21 12-21 12-20 12-21 11-20 11-20 11-20 9-19 10-19 9-18 8-18 8-17 7-16 7-15 6-15 5-14 5-13 4-12 4-11 2-11 3-9 1-9 1-8M2152 1455l23 7 23 8 25 8 25 9 26 9 27 10 28 10 28 11 28 10 28 11 29 12 29 11 29 12 29 12 29 12 29 12 28 12 28 12 27 12 27 12 26 12 25 12 25 11 23 12 23 11 21 10 21 11 19 10 18 9 17 9 15 9 15 9 12 7 12 8 10 7 9 6 8 6 6 5 5 5 3 4 3 4 0 3M1954 1415l2-1 4-2 5 0 7 0 8 0 9 1 11 2 12 2 13 2 14 4 16 4 17 4 19 5 19 6 21 6 21 7M1874 1559l-4 13-2 14-1 14 1 15 2 16 3 16 5 17 6 17 7 17 9 18 11 18 12 18 13 19 15 18 15 19 18 19 18 19 20 18 21 19 22 18 23 18 24 18 25 18 26 17 26 16 28 16 28 16 28 14 29 14 29 14 29 12 30 12 29 11 30 10 29 9 29 8 29 7 28 7 28 5 27 4 27 3 26 3 25 1 24 0 23-1 23-1 21-3 20-3 19-5 18-5 16-6 15-8 14-7 13-9 12-9 10-10 9-11 7-11M2542 1606l31-2 31-2 30-2 29-2 28-1 28-1 27 0 25-1 25 1 23 0 22 1 21 1 19 2 18 2 17 2 16 2 13 3 13 3 11 4 9 3 8 4 7 4 5 4 3 4 2 5M1834 1787l2-5 3-5 4-5 6-6 8-6 9-6 10-6 12-6 14-6 15-6 16-7 18-6 19-6 21-7 22-6 23-7 24-6 25-6 27-6 27-7 28-5 29-6 30-6 31-5 31-5 31-5 32-5 32-5 32-4 32-4 32-3 32-4 31-3M1874 1558l-8 23-8 24-6 24-5 24-3 25-2 25-1 24 0 25 2 24 3 25 4 24 5 24 7 24 9 23 9 24 11 22 12 22 13 21 15 21 16 20 17 20 18 18 19 18 20 17 21 15 22 15 23 14 24 13 25 11 25 10 26 9 27 8 27 7 28 5 28 4 28 3 29 1 29 0 28-1 29-3 29-4 29-5 28-6 28-8 28-10 27-10 26-12 26-13 26-13 24-16 24-16 23-17 22-18 21-19 20-20 18-21 18-21 16-22 16-23 13-24 13-23 11-25 10-24 9-25 7-25 6-26 5-25 3-26 2-25 0-25-1-26-3-25-3-24-5-25-7-24-7-23-9-23-10-23-12-22-12-21-14-20-14-20-16-19-17-19-18-17-18-17-19-15-21-15M2945 1522l1-10 0-10-1-9-2-8M1936 2105l5 6 7 5 8 5 10 3 10 3 12 2 13 1 14 1 16-1 16-2 18-2 19-4 20-4 21-5 22-7 22-7 24-8 24-9 26-10 25-10 27-12 26-12 28-13 27-14 28-14 28-16 28-15 27-17 28-16 28-17 27-18 26-18 27-18 25-18 25-19 24-18 24-19 22-18 22-19 20-18 20-18 18-18 17-17 16-17 15-17 14-16 12-16 11-15 9-14 8-14 7-13 6-13 4-12 3-11M1883 2007l7 14 9 12 10 13 11 11 12 10 14 10 15 9 16 8 17 7 18 6 19 5 21 4 21 3 22 2 24 1 24 0 24-2 26-2 26-4 27-5 27-6 27-7 28-8 28-9 29-10 28-11 28-13 28-13 28-14 28-15 27-16 27-17 27-17 25-18 25-19 24-19 24-20 22-20 21-20 21-21 19-21 18-22 17-21 16-21 14-22 13-21 11-21 11-21 9-21 7-20 6-20 5-20 3-19 2-18 1-18-1-17-2-17-3-16-5-15-5-15-7-14-9-13-9-12M2174 1745l29 6 30 6 30 5 31 6 31 6 32 5 32 6 32 6 32 6 32 5 32 6 31 5 31 6 31 5 30 5 29 5 28 4 28 5 26 4 26 4 24 4 24 3 22 3 20 4 20 2 18 3 17 2 15 2 14 2 12 1 11 1 9 1 8 0 7 1 5 0 3 0 2-1M1843 1671l1 1 3 2 5 1 6 2 7 3 9 2 10 3 12 3 14 3 15 3 16 4 17 4 20 4 20 4 22 5 23 4 24 5 25 5 26 6 28 5 28 5M2465 1188l-25-2-25-2-25 0-25 2-25 2-25 4-25 5-24 6-25 7-24 8-23 10M1835 1727l-1 25 0 25 1 26 2 25 3 25 5 25 5 24 7 24 8 24 9 23 10 23 12 22 12 22 13 21 15 20 16 19 16 18 18 18 18 17 19 15 20 15 21 14 22 12 22 12 23 10 24 9 24 8 25 6 25 6 25 4 26 2 26 1 26 0 27-1 26-3 26-4 27-5 26-7 26-8 25-10 26-10 24-12 25-14 23-14 24-16 22-17 22-18 20-18 20-20 19-21 19-22 17-23 16-23 14-24 14-25 13-25 11-26 10-26 9-27 7-27 6-27 5-27 4-27 2-28 1-27-1-27-2-27-3-27-4-26-6-26-7-25-9-25-9-25-11-23-12-23-13-22-14-22-15-20-16-20-17-18-18-18-19-16-19-16-21-14-21-13-21-13-23-11-22-9-24-9-23-7-24-6-25-5-24-4M2293 1202l-15 8-14 8-14 10-13 10-12 12-11 13-11 14-10 15-9 16-8 17-7 18-6 19-4 20-4 21-3 21-2 22 0 23 0 23 2 24 3 25 3 25 6 25 6 26 7 26 8 25 10 26 10 26 12 26 12 26 14 25 14 26 16 24 16 25 17 23 17 23 19 23 19 21 19 21 20 20 21 19 21 18 21 17 21 16 22 14 22 14 22 12 21 11 22 10 22 9 21 7 21 6 21 5 21 3 20 3 20 1 19-1 18-1 18-3 18-4 16-5 16-7 16-7 14-9 14-9 13-11 12-11 11-13 10-13 10-15 8-15M2359 1184l-17 3-17 4-16 5-16 6M1876 1993l10 22 11 21 13 21 13 21 15 20 17 19 17 18 19 17 20 17 21 15 22 15 23 13 24 13 25 11 26 10 26 9 27 7 28 7 29 5 29 4 29 2 30 1 30 0 30-2 30-3 30-4 30-6 30-7 30-9 29-9 29-11 28-12 28-14 27-14 26-16 25-17 25-17 24-19 22-20 21-20 21-21 19-22 18-23 16-23 15-24 14-24 13-25 11-25 10-25 8-25 6-25 6-26 4-25 2-26 1-25-1-25-2-24-3-25-5-24-6-23-8-23M2475 1241l23-4 22-3 22-2 21-1 20-1 20 0 18 1 18 2 17 3 16 4 14 4 14 5 13 6M1838 1701l3-13 4-14 5-15 6-15 7-15 9-15 10-16 11-16 13-16 13-16 14-16 16-16 17-17 17-16 19-16 19-16 21-16 21-15 22-15 22-15 23-14 24-14 24-14 25-12 24-13 25-11 26-11 25-11 25-9 25-9 25-8 25-8 24-6 24-6 24-5M1878 1997l7 16 9 15 10 14 10 14 12 13 13 12 14 11 15 10 16 9 17 8 18 7 19 6 20 4 20 4 22 2 22 1 23 0 23-1 24-2 25-4 25-5 25-6 26-8 25-8 26-10 26-11 26-12 26-14 26-14 26-15 25-17 25-17 24-19 24-19 23-20 22-20 22-22 21-22 20-22 19-23 18-23 17-24 15-24 15-24 14-24 12-24 11-24 10-24 8-24 7-24 6-23 5-23 3-22 2-22 1-21-1-21-2-20-3-20-4-18-6-18-6-17-8-17-9-15-10-14-11-14-12-12-13-12-14-11-15-9M2628 1576l29-5 28-4 26-4 26-3 25-3 24-3 22-2 21-1 21-1 18-1 18 0 16 0 14 1 14 1 11 1 11 2 9 3 7 2 6 3 5 4 3 3M1838 1845l1-5 1-5 4-5 5-6 6-6 7-6 10-6 10-7 12-7 14-8 15-7 16-8 18-8 19-8 21-8 21-9 23-9 24-8 25-9 26-9 27-8 28-9 29-9 29-8 30-9 31-8 31-8 31-8 31-8 32-7 31-7 31-7 31-7 31-6 31-6 29-5 29-5M2424 1213l25 1 24 2 25 3 24 3 25 4 24 5 23 5 24 6 22 7 23 7 21 7 21 9 21 9 19 9 19 10 18 10 16 10 16 11 15 12 14 11 13 12 12 12M2077 1294l14-9 15-9 16-8 17-8 18-8 19-6 20-7 20-5 21-5 22-5 22-3 23-3 24-3 23-1 24-1 25 0 24 0M1926 2091l12 15 12 15 14 14 14 14 17 12 17 12 19 11 19 9 21 9 22 8 23 7 23 6 25 4 26 4 26 2 27 1 27 0 29-1 28-2 29-4 29-4 30-6 29-7 30-9 30-9 29-11 29-11 29-13 29-14 27-14 28-16 26-16 26-17 25-18 24-19 24-20 22-19 21-21 20-21 18-21 17-22 16-22 15-22 13-22 12-22 11-22 9-23 8-22 6-22 5-21 3-21 2-21 0-21-1-20-2-20-4-19-5-18M2101 1296l-2 10-1 11 1 12 1 13 2 14 4 15 4 16 6 17 6 17 8 19 9 19 10 20 11 21 12 21 13 22 14 23 15 23 16 23 17 23 17 24 18 24 19 24 20 24 20 24 21 24 21 23 21 24 22 22 22 23 22 22 23 21 22 20 22 20 22 19 22 18 22 18 21 16 21 15 21 14 20 14 19 12 19 11 18 10 18 8 16 8 16 6 15 5 14 4 13 3 13 2 11 1 11-1 9-2 9-2 7-4 7-5 6-6M2119 1267l-6 6-5 6-4 8-3 9M2550 1702l31-3 31-3 30-2 29-2 29-2 28-2 27-2 25-1 25-1 23-1 23-1 20 0 20-1 18 0 17 0 15 0 14 1 12 0 11 1 10 1 8 1 6 1 5 2 3 2 2 1M1836 1814l1-2 3-3 5-2 6-3 8-2 9-3 10-3 12-4 14-3 15-3 17-4 18-3 19-4 21-4 22-4 23-3 24-4 26-4 26-4 28-4 29-4 29-4 30-4 31-4 31-4 32-3 32-4 32-3 32-4 33-3 32-3 32-3 32-3M1944 2117l9 9 9 9 11 8 12 6 14 6 14 5 16 5 17 3 18 2 19 1 20 1 21-1 22-2 23-3 24-3 25-5 25-6 26-7 26-8 27-9 28-10 28-11 28-12 28-13 28-13 28-15 28-15 28-16 27-17 28-17 26-18 26-18 26-19 24-19 24-19 23-20 22-20 21-20 20-20 19-20 18-20 16-20 16-20 14-19 12-20 11-19 10-18 9-18 7-18 6-17 4-16 3-16 2-15 0-14 0-14-3-13-3-12-5-12M2930 1629l11-11 9-9 8-10 7-9 5-8 4-7 2-8 1-6-1-6M1890 2023l3 5 6 3 6 4 8 2 10 2 10 2 12 0 14 1 14-1 16-1 18-2 18-3 20-4 21-4 22-5 23-5 24-6 25-7 26-8 27-8 27-9 28-9 29-10 29-11 29-11 30-11 30-12 30-12 29-13 30-13 30-13 29-14 29-14 28-13 28-14 27-14 26-14 25-14 24-14 24-14 22-13 21-13 20-13 19-13 18-13 16-12 15-11 13-12 12-10M2372 1530l31 1 32 2 31 2 32 3 31 2 31 3 30 4 30 3 30 4 28 4 28 5 27 4 26 5 25 5 24 5 23 6 22 5 20 6 19 5 18 6 16 6 15 6 13 6 12 5 11 6 9 6 8 6 6 5 5 6 3 6 2 5M1861 1595l4-5 4-5 7-5 7-5 10-5 10-4 12-4 14-4 15-4 16-4 18-4 19-3 20-3 22-2 23-3 24-2 25-2 26-1 27-1 28-1 28-1 30 0 29 0 31 1 31 0 31 2M1844 1661l-3 23-3 24 0 24 0 25 2 24 3 24 5 24 6 24 8 24 9 23 11 24 11 22 14 23 14 21 16 22 18 20 18 20 20 19 21 18 22 18 23 16 24 16 25 14 26 14 27 12 27 11 29 10 28 9 30 7 29 7 30 4 31 4 30 2 31 1 31 0 30-2 30-3 30-4 30-6 30-7 28-8 29-10 27-10 27-12 26-13 25-14 24-15 23-16 22-17 21-18 20-19 19-19 17-21 16-20 15-22 13-22 12-22 11-23 9-24 7-23 7-24 5-24 3-24 2-24 1-24-1-24-2-24M2951 1521l0-11-1-9-3-9M1921 2081l6 7 7 6 9 6 10 5 11 3 13 4 13 2 15 1 17 1 17-1 18-1 20-2 21-3 21-4 23-5 24-6 24-7 25-8 26-9 26-9 27-10 28-12 28-11 28-13 28-14 28-14 29-14 28-16 28-16 28-16 28-17 27-17 27-17 26-18 25-18 24-18 24-18 23-18 21-19 21-18 19-18 19-17 17-18 16-17 15-17 13-16 12-16 11-15 9-15 8-15 6-13 6-14 3-12 3-12 1-11M2807 1576l19-8 18-8 17-8 15-7 13-7 13-6 11-6 9-5 8-5 7-5 5-4 4-4 3-3 1-2-1-3M1843 1876l1 2 2 2 4 1 5 0 7 0 8-1 9-1 11-1 12-2 13-3 15-3 17-3 17-4 19-5 20-5 21-6 23-6 23-6 25-7 25-8 26-8 27-8 28-8 29-9 29-10 29-9 30-10 30-10 31-10 30-11 30-10 31-11 30-10 29-11 29-11 29-10 28-11 27-10 27-10 26-10 24-10 24-10 23-9 21-9 20-9M2412 1201l-23 4-22 5-23 6-21 7-22 9-21 9-20 11-20 12-19 13-18 13-18 15-17 16-16 17-15 18-15 19-13 19-13 21-11 21-10 22-10 22-8 24-7 23-5 24-5 25-3 25-2 25-1 26 0 25 2 26 3 26 4 26 5 25 7 26 8 25 9 25 10 25 11 24 13 24 13 23 15 22 16 22 16 21 18 20 18 19 19 19 20 17 21 17 21 15 22 14 23 13 23 12 23 11 24 10 24 8 24 7 25 6 24 5 25 3 24 2 25 1 24 0 24-2 24-3 23-4 23-6 23-6 22-8 22-9 21-10 20-11 20-12 18-14 19-14 17-15 16-16 16-17 15-17 13-19 13-19 12-20 11-20 10-21 8-22 8-22 7-22 5-23 5-23 3-24 2-23 2-24 0-24-1-24-2-24-4-24-4-23-5-24-6-23-7-24-9-23-9-22-10-22-11-22-12-21-13-21-14-20-15-20-15-19-17-18-17-18-17-17-19-16-19-15-19-14-20-14-21-12-21-12-21-10-22-10-23-9-22-7-23-6-23-6-23-4-23-3-24-2-23-1-23 1-23 1-23 3M2110 1272l-16 11-15 12-15 13-13 15-13 15-11 16-10 16-9 18-8 18-7 20-6 19-4 21-3 21-2 22-1 22 1 23 2 23 4 23 5 24 6 24 8 24 8 24 11 24 11 25 13 24 14 23 15 24 17 23 17 23 19 23 20 22 20 21 22 20 22 20 24 19 24 19 24 17 26 16 25 15 26 15 27 13 27 12 26 11 28 10 27 8 27 8 26 6 27 4 27 4 26 2 25 1 25 0 25-1 24-3 23-4 22-5 22-6 21-8 20-8 19-9 18-11 17-11 16-13 15-13 13-14 13-15 12-16 10-17 9-17 8-18 7-18 6-19M2204 1267l6 9 7 10 8 11 8 12 10 13 11 14 12 15 12 15 14 16 14 17 15 18 16 18 17 19 17 20 19 20 18 20 19 21 20 21 20 21 20 22 21 21 21 22 21 21 21 22 21 21 22 21 21 20 20 20 21 20 20 19 20 19 19 18 19 17 18 17 18 16 17 15 16 14 16 13 15 13 14 11 13 10 12 10 11 8 11 8 9 6 9 6 7 4 7 3 6 3 4 1 4 1 3-1 2-2M2190 1230l0 2-1 3 1 5 2 5 3 6 4 7 5 9M2481 1264l26-3 24-3 24-1 24-1 22 0 22 1 21 1 20 3 20 3 18 3 17 5 16 5 15 6 14 6 13 7 11 8M1847 1649l3-13 5-14 6-13 7-14 9-15 10-14 11-14 12-15 14-15 15-14 16-15 17-15 18-14 19-14 20-14 21-14 22-14 23-13 23-13 24-12 25-12 25-11 26-11 26-10 26-10 27-9 27-8 26-8 27-7 26-6 27-6 26-4 25-4M1917 1470l-11 20-10 21-9 21-8 22-6 23-5 23-3 23-2 23-1 24 1 24 2 24 3 25 5 24 7 24 7 24 10 24 10 24 12 23 14 23 15 22 16 22 17 22 19 21 20 20 21 19 22 19 23 17 24 17 25 16 26 15 27 13 27 13 28 12 29 10 29 9 29 8 30 6 30 5 30 4 30 3 30 1 30 0 30-1 29-2 29-4 29-5 28-7 27-7 27-9 26-10 25-11 24-12 23-14 22-14 21-15 20-16 19-17 18-18 16-19 16-19 14-20 12-20 12-21 9-22 9-22 7-22 6-23 5-22 3-23 2-24 0-23M2142 1297l5 10 7 10 7 12 8 12 10 13 11 14 11 14 13 16 14 16 14 17 16 17 16 18 17 19 19 19 18 19 20 20 20 21 21 20 21 21 22 20 22 21 22 21 23 21 23 20 22 20 23 20 23 20 23 19 22 19 22 18 22 18 21 17 21 16 20 16 20 15 19 13 18 14 18 12 17 11 16 10 15 10 14 8 13 8 12 6 11 6 10 4 10 4 8 2 7 2 6 0 5 0 4-1 3-3M2135 1257l-2 3-1 4 0 5 1 5 2 7 3 8 4 8M2240 1210l-19 8-19 9-18 10-17 11-17 12-16 13-15 15-14 15-14 17-12 17-12 19-10 20-9 20-8 21-7 22-6 23-4 24-4 24-2 25 0 25 0 26 2 26 3 27 5 27 5 27 7 27 9 27 9 27 11 27 12 26 13 27 14 26 16 25 16 25 18 25 18 23 20 23 20 23 21 21 22 20 22 20 23 18 24 17 24 16 24 15 25 14 25 12 25 12 25 9 25 9 26 7 25 6 24 4 25 3 24 2 24 0 24-1 23-2 22-4 22-4 21-7 20-7 20-9 19-9 18-11 17-12 16-13 16-14 14-15 13-16 13-16 11-18M2386 1222l17 6 18 7 18 8 19 9 20 9 20 11 20 11 20 11 21 13 21 13 21 13 22 14 21 15 21 15 21 15 21 16 21 16 21 17 20 16 19 17 19 17 19 17 18 17 17 17 16 17 16 16 15 17 14 16 13 16 13 15 11 16 10 14 10 15 8 14 8 13 6 13 5 12 5 11 3 11 2 10 2 10 0 9M2259 1204l9-2 10-1 10 0 12 0 12 2 13 2 14 3 15 4 16 4 16 6M2398 1405l30 1 31 2 31 2 31 3 30 4 30 4 30 5 29 6 28 6 27 6 27 7 26 8 25 8 24 8 23 9 21 9 21 9 19 10 18 10 16 10 15 10 14 11 12 11 11 10 10 11 8 11 7 11 5 11 3 11M1877 1552l6-10 7-11 9-9 11-10 11-10 14-9 14-9 16-8 17-8 19-8 20-8 21-6 22-7 23-6 25-5 25-5 26-5 28-4 27-3 29-2 29-2 30-2 30-1 31 0 31 1M2608 1273l12-8 12-6 10-6 9-5 9-3 7-3 7-2 5 0 5 0M1877 1996l0-4 0-5 1-5 3-7 3-7 5-9 5-9 7-10 8-12 8-12 10-13 11-13 12-15 13-15 13-16 15-17 15-17 17-18 17-19 18-19 18-19 20-20 19-20 21-21 21-20 21-21 21-21 22-20 22-21 22-21 23-20 22-20 22-20 22-19 22-19 21-18 21-18 20-17 20-16 20-16 19-14 18-15 18-13 16-12 16-11 15-11 14-9 14-9M2420 1203l-23 2-24 4-23 4-23 6-23 7-22 8-22 9-21 10-21 11-20 12-19 13-19 14-18 15-18 16-16 17-16 17-14 19-14 19-13 20-12 21-10 21-10 22-9 22-7 23-6 23-5 24-4 24-3 24-1 25 0 24 1 25 2 25 4 24 5 25 6 24 7 24 8 24 10 23 11 23 12 23 13 22 14 21 15 21 16 20 17 19 18 18 19 18 20 16 20 16 21 15 22 13 23 13 23 11 23 11 24 9 24 8 25 7 25 5 25 5 25 3 25 2 25 0 25 0 25-2 24-3 24-4 24-6 24-6 23-8 23-9 22-10 21-11 21-12 20-13 20-14 18-15 18-16 16-17 16-17 15-19 14-19 13-20 12-20 11-21 9-21 9-22 8-22 6-23 5-23 4-23 3-24 2-23 1-24-1-23-1-24-3-24-4-23-5-23-6-23-7-23-9-23-9-22-10-21-12-21-12-21-13-20-14-20-15-19-16-18-17-17-17-17-18-16-19-15-20-15-20-13-20-12-22-12-21-10-22-10-23-9-23-7-23-7-23-5-24-4-23-3-24-3-24-1-24 1-24 1M2255 1212l-12 8-11 9-11 10-10 11-8 12-8 13-7 14-7 15-5 16-4 17-3 17-2 19-1 19 0 20 1 21 3 21 3 22 5 22 5 23 7 24 8 23 9 24 10 25 11 24 12 24 13 25 14 24 14 24 16 24 17 24 17 23 18 23 18 22 20 22 19 21 20 20 21 19 21 19 21 18 22 17 21 16 22 14 22 14 22 13 21 11 22 11 21 9 21 8 20 6 20 6 20 4 19 4 19 1 18 1 17 0 17-2 16-3 15-4 15-5 13-6 13-7 12-8 11-9 11-10 9-11 8-12 8-13 7-13M2310 1192l-15 3-14 5-13 6-13 6M2459 1296l28-2 28 0 27 0 27 1 26 1 25 3 25 3 24 3 24 4 22 5 21 6 21 6 19 6 18 7 17 8 16 8 15 9 13 9 12 9 11 10 10 10M1879 1547l6-13 8-12 9-13 11-12 11-12 13-13 15-12 15-12 17-12 18-11 19-11 20-11 22-11 22-10 23-10 24-9 25-9 25-8 26-8 27-7 27-7 28-6 28-5 28-5 28-4 29-4 28-2 28-2M2674 1243l-9-8-10-7-10-5M1896 2036l6 10 7 10 8 8 9 7 10 7 11 5 12 5 13 3 13 2 15 2 15 0 16-1 17-3 18-3 18-5 19-6 19-7 20-8 21-9 21-10 21-12 22-13 22-13 22-15 22-16 22-17 22-17 23-19 22-19 21-20 22-21 21-21 20-22 21-22 19-23 19-23 18-23 18-24 17-24 15-23 15-24 15-24 13-23 12-23 11-23 10-22 9-22 8-22 6-21 6-20 5-20 3-19 2-18 2-17 0-17-1-15-2-15-3-14-4-13-5-12-6-10-7-10-8-9M1845 1657l-4 23-2 23-1 23 1 24 2 24 3 23 5 24 6 23 8 23 9 23 10 23 12 22 14 22 14 21 16 21 18 20 18 19 20 19 21 17 22 17 23 17 24 15 25 14 27 13 26 12 28 11 28 9 29 9 30 7 29 6 31 5 30 3 31 3 30 0 31 0 31-2 30-3 30-4 30-6 29-7 29-8 28-9 28-11 27-11 26-13 25-14 24-14 23-16 22-17 20-17 20-19 19-19 17-20 16-20 14-21 13-22 12-22 10-22 9-23 8-23 6-23 5-23 3-24 2-23 0-23 0-24-3-23M2898 1440l0-10-1-9-3-8-4-8M1916 2073l6 6 7 5 8 5 10 3 11 3 12 2 13 0 14 0 15-1 17-2 18-3 18-4 20-5 21-6 21-6 22-8 24-9 24-10 24-11 25-11 26-13 26-13 27-14 27-15 27-15 27-16 27-17 27-18 27-17 26-19 27-18 25-19 26-19 25-20 24-19 23-20 22-19 22-20 21-19 19-20 19-19 18-18 16-18 15-18 14-18 13-17 11-16 10-16 9-15 8-14 6-14 5-13 4-13 2-11 1-11M1849 1637l-5 24-3 24-3 24-1 25 1 24 1 24 3 25 4 24 6 24 7 23 9 23 9 23 11 22 13 22 13 22 15 20 16 20 18 19 18 19 20 17 21 17 21 15 23 15 24 14 24 12 26 12 26 10 27 9 27 7 28 7 29 5 28 4 30 3 29 1 29 0 30-2 30-3 29-4 29-5 29-7 29-8 28-9 28-11 27-12 27-13 25-14 25-15 25-16 23-17 22-18 21-19 20-20 19-21 18-21 16-22 15-23 14-23 13-24 11-24 10-24 8-25 8-25 5-25 4-25 3-25 2-25 0-25-2-25-3-24-4-24-5-24-7-24-8-23-9-22-11-22-12-22-12-20-14-20M2302 1193l-22 6-22 6-21 8-20 9-20 10-19 11-19 12-18 13-17 14-16 16-15 16-14 17-14 19-12 19-11 20-10 21-9 21-8 23-6 23-6 24-4 24-3 25-1 25 0 26 1 26 2 26 4 27 5 26 7 27 7 26 9 27 11 26 11 26 13 26 14 25 15 25 16 24 18 24 18 22 19 23 21 21 21 20 22 20 22 18 24 18 24 16 24 15 25 14 25 13 26 11 25 11 26 8 27 8 26 6 26 5 26 4 25 2 26 1 25 0 25-2 24-3 24-4 23-6 22-7 22-8 21-9 21-10 19-12 19-12 18-14 17-15 16-15 15-17 13-17 13-18 12-19 11-19 9-20 9-21 7-21M2904 1656l14-10 13-10 11-9 10-8 9-8 7-8 6-7 4-7 3-6 2-5 0-5M1879 2000l4 3 4 4 6 2 8 2 9 2 10 1 11 0 13-1 15-1 15-1 17-2 18-3 20-4 21-4 22-4 23-6 24-6 25-6 26-7 26-8 28-8 28-9 29-9 29-10 30-10 30-11 30-11 31-11 30-12 30-11 30-13 30-12 29-12 29-13 29-12 27-13 27-12 26-13 25-12 24-13 24-12 22-12 20-11 20-11 18-11 17-11 16-10M1887 1527l-8 20-6 20-5 20-4 21-2 22-1 22 0 22 2 23 4 23 5 23 6 23 8 23 9 23 11 23 12 23 13 23 15 23 17 22 17 22 19 21 20 21 21 20 23 20 23 19 25 18 25 17 26 16 27 16 28 14 28 14 29 12 29 11 30 10 30 9 30 8 30 6 30 5 30 4 30 3 29 1 30 0 28-1 28-2 28-3 27-5 26-6 26-7 24-8 24-10 22-10 22-11 20-13 20-13 18-14 17-15 15-16 15-16 13-17 11-18 11-18 9-19 8-20M2838 1657l20-8 17-9 17-8 15-8 14-8 12-7 11-7 9-7 8-6 7-6 5-5 3-5 2-5 1-4 0-4M1844 1885l2 3 3 4 4 3 6 2 7 2 8 2 10 1 11 1 13 0 14-1 16 0 17-2 18-1 20-2 21-3 22-3 23-4 24-4 26-5 26-5 27-6 28-6 29-6 29-7 30-7 31-8 30-8 31-8 31-9 32-8 31-9 31-10 30-9 30-10 30-9 29-10 29-10 28-9 27-10 26-10 25-10 24-9 23-9 22-10 20-9M2933 1473l-3-10-5-9M1922 2083l7 8 9 7 9 6 11 6 12 5 13 4 15 2 15 2 17 2 18 0 19-1 20-2 21-3 22-4 23-4 24-6 24-7 26-8 25-9 27-9 27-11 27-11 28-13 28-13 28-14 28-14 28-16 28-16 27-16 28-18 27-17 26-18 26-19 25-19 25-19 23-19 23-19 22-20 20-19 20-19 19-19 17-19 16-19 15-19 14-18 12-18 11-17 10-17 8-16 7-16 6-15 4-14 3-14 1-13 1-12-1-12-3-11M2464 1258l25-2 25-2 24-1 24 0 23 1 23 1 21 2 21 2 20 4 19 3 18 5 18 5 16 5 15 6 14 7 12 7 12 8M1877 1549l6-12 7-12 9-13 9-12 11-13 12-13 13-12 14-13 16-12 16-13 18-12 19-12 19-11 21-12 21-11 22-11 23-10 23-10 25-10 24-9 25-8 26-8 26-8 26-6 26-7 26-5 26-5 26-4 26-4 26-3M2861 1526l13-9 11-9 10-8 9-8 7-7 6-6 5-6 3-5 2-4 1-4-1-3M1875 1989l3 2 4 1 5 1 6 0 8 0 9-2 11-2 12-3 13-3 14-4 16-5 17-6 18-6 20-7 20-8 22-9 22-9 24-9 24-11 25-10 26-12 27-12 27-12 28-13 28-13 29-14 29-14 29-14 29-14 28-15 29-15 29-15 28-14 28-15 27-15 26-15 26-14 25-14 25-14 23-14 22-13 22-13 20-13 19-12 18-12 16-11 16-10 14-11M2035 1377l6 10 6 11 7 13 9 13 10 14 11 14 12 16 13 16 15 17 15 18 17 18 17 19 18 19 20 20 20 20 20 21 22 21 22 21 23 21 23 21 24 21 24 22 24 21 25 21 24 20 25 20 24 20 25 20 24 18 24 19 24 17 23 17 22 16 22 15 22 15 20 13 20 13 19 12 19 11 17 9 16 9 16 8 14 7 13 5 13 5 11 4 10 2 9 2 8 1 6-1 6-1 5-2 3-3M2031 1331l-2 4-2 4-1 6 1 6 2 8 2 8 4 10" stroke="#ba1828" stroke-width="3.1"/>
</g>
<clipPath id="sphclip"><path d="M916.8 886.4L916.9 894.2L917.2 901.9L917.7 909.7L918.5 917.4L919.4 925.1L920.5 932.8L921.8 940.4L923.3 948L925 955.6L927 963.1L929.1 970.5L931.4 977.9L933.9 985.3L936.6 992.6L939.4 999.8L942.5 1006.9L945.7 1013.9L949.2 1020.9L952.8 1027.7L956.6 1034.5L960.6 1041.2L964.7 1047.7L969 1054.1L973.5 1060.5L978.1 1066.7L982.9 1072.8L987.9 1078.7L993 1084.6L998.3 1090.2L1003.7 1095.8L1009.2 1101.2L1014.9 1106.5L1020.8 1111.6L1026.7 1116.5L1032.8 1121.3L1039 1126L1045.4 1130.4L1051.8 1134.7L1058.4 1138.9L1065 1142.8L1071.8 1146.6L1078.7 1150.2L1085.6 1153.6L1092.7 1156.9L1099.8 1159.9L1107 1162.8L1114.3 1165.5L1121.6 1168L1129 1170.3L1136.5 1172.4L1144 1174.3L1151.6 1176L1159.2 1177.5L1166.8 1178.8L1174.5 1179.9L1182.2 1180.8L1189.9 1181.5L1197.6 1182L1205.4 1182.3L1213.1 1182.4L1220.9 1182.3L1228.6 1182L1236.4 1181.5L1244.1 1180.8L1251.8 1179.9L1259.5 1178.7L1267.1 1177.4L1274.7 1175.9L1282.3 1174.2L1289.8 1172.3L1297.2 1170.2L1304.6 1167.9L1312 1165.4L1319.3 1162.7L1326.5 1159.8L1333.6 1156.7L1340.6 1153.5L1347.6 1150L1354.4 1146.4L1361.2 1142.6L1367.8 1138.7L1374.4 1134.5L1380.8 1130.2L1387.2 1125.7L1393.4 1121.1L1399.5 1116.3L1405.4 1111.3L1411.3 1106.2L1416.9 1101L1422.5 1095.5L1427.9 1090L1433.2 1084.3L1438.3 1078.5L1443.2 1072.5L1448 1066.4L1452.7 1060.2L1457.1 1053.9L1461.4 1047.4L1465.6 1040.8L1469.5 1034.2L1473.3 1027.4L1476.9 1020.6L1480.3 1013.6L1483.6 1006.6L1486.6 999.4L1489.5 992.2L1492.2 985L1494.7 977.6L1497 970.2L1499.1 962.7L1501 955.2L1502.7 947.7L1504.2 940.1L1505.5 932.4L1506.6 924.7L1507.5 917L1508.2 909.3L1508.7 901.6L1509 893.8L1509.1 886.1L1509 878.3L1508.7 870.6L1508.2 862.9L1507.5 855.1L1506.5 847.4L1505.4 839.8L1504.1 832.1L1502.6 824.5L1500.9 817L1499 809.4L1496.9 802L1494.6 794.6L1492.1 787.2L1489.4 780L1486.5 772.8L1483.4 765.6L1480.2 758.6L1476.7 751.7L1473.1 744.8L1469.3 738L1465.4 731.4L1461.2 724.8L1456.9 718.4L1452.4 712.1L1447.8 705.8L1443 699.8L1438 693.8L1432.9 688L1427.7 682.3L1422.2 676.7L1416.7 671.3L1411 666.1L1405.2 661L1399.2 656L1393.1 651.2L1386.9 646.6L1380.6 642.1L1374.1 637.8L1367.5 633.7L1360.9 629.7L1354.1 625.9L1347.2 622.3L1340.3 618.9L1333.2 615.7L1326.1 612.6L1318.9 609.7L1311.6 607L1304.3 604.6L1296.9 602.3L1289.4 600.2L1281.9 598.3L1274.4 596.6L1266.8 595L1259.1 593.7L1251.4 592.6L1243.7 591.7L1236 591L1228.3 590.5L1220.5 590.2L1212.8 590.1L1205 590.2L1197.3 590.5L1189.5 591L1181.8 591.8L1174.1 592.7L1166.5 593.8L1158.8 595.1L1151.2 596.6L1143.7 598.3L1136.1 600.3L1128.7 602.4L1121.3 604.7L1113.9 607.2L1106.7 609.9L1099.5 612.7L1092.3 615.8L1085.3 619L1078.4 622.5L1071.5 626.1L1064.7 629.9L1058.1 633.9L1051.5 638L1045.1 642.3L1038.7 646.8L1032.5 651.4L1026.5 656.2L1020.5 661.2L1014.7 666.3L1009 671.6L1003.4 677L998 682.5L992.8 688.2L987.7 694.1L982.7 700L977.9 706.1L973.3 712.3L968.8 718.7L964.5 725.1L960.4 731.7L956.4 738.3L952.6 745.1L949 752L945.6 758.9L942.3 766L939.3 773.1L936.4 780.3L933.7 787.6L931.3 794.9L929 802.3L926.9 809.8L925 817.3L923.3 824.9L921.7 832.5L920.4 840.1L919.3 847.8L918.4 855.5L917.7 863.2L917.2 870.9L916.9 878.7L916.8 886.4Z"/></clipPath>
<linearGradient id="rimg" x1="0" y1="940" x2="0" y2="1110" gradientUnits="userSpaceOnUse"><stop offset="0" stop-color="#b81826" stop-opacity="0.85"/><stop offset="1" stop-color="#b81826" stop-opacity="0"/></linearGradient>
<path d="M916.8 886.4L916.9 894.2L917.2 901.9L917.7 909.7L918.5 917.4L919.4 925.1L920.5 932.8L921.8 940.4L923.3 948L925 955.6L927 963.1L929.1 970.5L931.4 977.9L933.9 985.3L936.6 992.6L939.4 999.8L942.5 1006.9L945.7 1013.9L949.2 1020.9L952.8 1027.7L956.6 1034.5L960.6 1041.2L964.7 1047.7L969 1054.1L973.5 1060.5L978.1 1066.7L982.9 1072.8L987.9 1078.7L993 1084.6L998.3 1090.2L1003.7 1095.8L1009.2 1101.2L1014.9 1106.5L1020.8 1111.6L1026.7 1116.5L1032.8 1121.3L1039 1126L1045.4 1130.4L1051.8 1134.7L1058.4 1138.9L1065 1142.8L1071.8 1146.6L1078.7 1150.2L1085.6 1153.6L1092.7 1156.9L1099.8 1159.9L1107 1162.8L1114.3 1165.5L1121.6 1168L1129 1170.3L1136.5 1172.4L1144 1174.3L1151.6 1176L1159.2 1177.5L1166.8 1178.8L1174.5 1179.9L1182.2 1180.8L1189.9 1181.5L1197.6 1182L1205.4 1182.3L1213.1 1182.4L1220.9 1182.3L1228.6 1182L1236.4 1181.5L1244.1 1180.8L1251.8 1179.9L1259.5 1178.7L1267.1 1177.4L1274.7 1175.9L1282.3 1174.2L1289.8 1172.3L1297.2 1170.2L1304.6 1167.9L1312 1165.4L1319.3 1162.7L1326.5 1159.8L1333.6 1156.7L1340.6 1153.5L1347.6 1150L1354.4 1146.4L1361.2 1142.6L1367.8 1138.7L1374.4 1134.5L1380.8 1130.2L1387.2 1125.7L1393.4 1121.1L1399.5 1116.3L1405.4 1111.3L1411.3 1106.2L1416.9 1101L1422.5 1095.5L1427.9 1090L1433.2 1084.3L1438.3 1078.5L1443.2 1072.5L1448 1066.4L1452.7 1060.2L1457.1 1053.9L1461.4 1047.4L1465.6 1040.8L1469.5 1034.2L1473.3 1027.4L1476.9 1020.6L1480.3 1013.6L1483.6 1006.6L1486.6 999.4L1489.5 992.2L1492.2 985L1494.7 977.6L1497 970.2L1499.1 962.7L1501 955.2L1502.7 947.7L1504.2 940.1L1505.5 932.4L1506.6 924.7L1507.5 917L1508.2 909.3L1508.7 901.6L1509 893.8L1509.1 886.1L1509 878.3L1508.7 870.6L1508.2 862.9L1507.5 855.1L1506.5 847.4L1505.4 839.8L1504.1 832.1L1502.6 824.5L1500.9 817L1499 809.4L1496.9 802L1494.6 794.6L1492.1 787.2L1489.4 780L1486.5 772.8L1483.4 765.6L1480.2 758.6L1476.7 751.7L1473.1 744.8L1469.3 738L1465.4 731.4L1461.2 724.8L1456.9 718.4L1452.4 712.1L1447.8 705.8L1443 699.8L1438 693.8L1432.9 688L1427.7 682.3L1422.2 676.7L1416.7 671.3L1411 666.1L1405.2 661L1399.2 656L1393.1 651.2L1386.9 646.6L1380.6 642.1L1374.1 637.8L1367.5 633.7L1360.9 629.7L1354.1 625.9L1347.2 622.3L1340.3 618.9L1333.2 615.7L1326.1 612.6L1318.9 609.7L1311.6 607L1304.3 604.6L1296.9 602.3L1289.4 600.2L1281.9 598.3L1274.4 596.6L1266.8 595L1259.1 593.7L1251.4 592.6L1243.7 591.7L1236 591L1228.3 590.5L1220.5 590.2L1212.8 590.1L1205 590.2L1197.3 590.5L1189.5 591L1181.8 591.8L1174.1 592.7L1166.5 593.8L1158.8 595.1L1151.2 596.6L1143.7 598.3L1136.1 600.3L1128.7 602.4L1121.3 604.7L1113.9 607.2L1106.7 609.9L1099.5 612.7L1092.3 615.8L1085.3 619L1078.4 622.5L1071.5 626.1L1064.7 629.9L1058.1 633.9L1051.5 638L1045.1 642.3L1038.7 646.8L1032.5 651.4L1026.5 656.2L1020.5 661.2L1014.7 666.3L1009 671.6L1003.4 677L998 682.5L992.8 688.2L987.7 694.1L982.7 700L977.9 706.1L973.3 712.3L968.8 718.7L964.5 725.1L960.4 731.7L956.4 738.3L952.6 745.1L949 752L945.6 758.9L942.3 766L939.3 773.1L936.4 780.3L933.7 787.6L931.3 794.9L929 802.3L926.9 809.8L925 817.3L923.3 824.9L921.7 832.5L920.4 840.1L919.3 847.8L918.4 855.5L917.7 863.2L917.2 870.9L916.9 878.7L916.8 886.4Z" fill="none" stroke="url(#rimg)" stroke-width="9" clip-path="url(#sphclip)"/>
<path d="M1035.7 998.3L1040.3 999.7L1044.9 1001L1049.6 1002.3L1054.4 1003.6L1059.2 1004.9L1064.1 1006.1L1069 1007.2L1074 1008.4L1079.1 1009.4L1084.2 1010.5L1089.3 1011.5L1094.6 1012.5L1099.8 1013.4L1105.1 1014.3L1110.5 1015.1L1115.9 1015.9L1121.3 1016.7L1126.8 1017.4L1132.3 1018.1L1137.8 1018.7L1143.4 1019.3L1149 1019.8L1154.6 1020.3L1160.3 1020.8L1166 1021.2L1171.7 1021.5L1177.4 1021.8L1183.1 1022.1L1188.8 1022.3L1194.6 1022.5L1200.3 1022.6L1206.1 1022.7L1211.9 1022.7L1217.6 1022.7L1223.4 1022.6L1229.1 1022.5L1234.9 1022.4L1240.6 1022.1L1246.4 1021.9L1252.1 1021.6L1257.8 1021.3L1263.5 1020.9L1269.1 1020.4L1274.8 1020L1280.4 1019.4L1286 1018.9L1291.5 1018.2L1297 1017.6L1302.5 1016.9L1308 1016.1L1313.4 1015.3L1318.7 1014.5L1324.1 1013.6L1329.4 1012.7L1334.6 1011.8L1339.8 1010.8L1344.9 1009.7L1350 1008.6L1355 1007.5L1360 1006.4L1364.9 1005.2L1369.7 1003.9L1374.5 1002.7L1379.2 1001.4L1383.9 1000L1388.5 998.6L1393 997.2L1397.4 995.8L1401.8 994.3L1406.1 992.8L1410.3 991.2L1414.5 989.7L1418.5 988.1L1422.5 986.4L1426.4 984.8L1430.3 983.1L1434 981.3L1437.7 979.6L1441.2 977.8L1444.7 976L1448.1 974.2L1451.4 972.4L1454.7 970.5L1457.8 968.6L1460.9 966.7L1463.8 964.8L1466.7 962.8L1469.5 960.9L1472.1 958.9L1474.7 956.9L1477.2 954.9L1479.6 952.8L1481.9 950.8L1484.1 948.7L1486.3 946.6L1488.3 944.6L1490.2 942.5L1492 940.4L1493.8 938.2L1495.4 936.1L1497 934L1498.4 931.8L1499.8 929.7L1501 927.5L1502.2 925.4L1503.2 923.2L1504.2 921.1L1505.1 918.9L1505.9 916.7L1506.6 914.5L1507.1 912.4L1507.6 910.2L1508 908L1508.4 905.9L1508.6 903.7L1508.7 901.5L1508.7 899.4L1508.7 897.2L1508.5 895.1L1508.3 892.9L1508 890.8L1507.6 888.6L1507.1 886.5L1506.5 884.4L1505.8 882.3L1505 880.2L1504.2 878.1L1503.2 876L1502.2 874L1501.1 871.9L1499.9 869.9L1498.7 867.8L1497.3 865.8L1495.9 863.8L1494.4 861.8L1492.8 859.8L1491.2 857.9L1489.4 855.9L1487.6 854L1485.7 852.1L1483.8 850.2L1481.7 848.3L1479.6 846.5L1477.4 844.6L1475.2 842.8L1472.9 841L1470.5 839.2L1468.1 837.4L1465.5 835.7L1463 834L1460.3 832.2L1457.6 830.6L1454.8 828.9L1452 827.3L1449.1 825.6L1446.2 824L1443.2 822.5L1440.1 820.9L1437 819.4L1433.8 817.9L1430.6 816.4L1427.3 814.9L1424 813.5L1420.6 812.1L1417.1 810.7L1413.7 809.4L1410.1 808L1406.5 806.7L1402.9 805.5L1399.3 804.2L1395.5 803L1391.8 801.8L1388 800.6L1384.2 799.4L1380.3 798.3L1376.4 797.2L1372.4 796.2L1368.4 795.1L1364.4 794.1L1360.3 793.1L1356.3 792.2L1352.1 791.2L1348 790.3L1343.8 789.5L1339.6 788.6L1335.3 787.8L1331.1 787L1326.8 786.3L1322.5 785.5L1318.1 784.8L1313.7 784.2L1309.4 783.5L1304.9 782.9L1300.5 782.3L1296.1 781.8L1291.6 781.2L1287.1 780.7L1282.6 780.3L1278.1 779.8L1273.6 779.4L1269 779L1264.5 778.7L1259.9 778.4L1255.3 778.1L1250.7 777.8L1246.1 777.6L1241.5 777.4L1236.9 777.2L1232.3 777.1L1227.7 777L1223.1 776.9L1218.5 776.9L1213.8 776.8L1209.2 776.9L1204.6 776.9L1200 777L1195.4 777.1L1190.8 777.2L1186.1 777.4L1181.5 777.6L1176.9 777.8L1172.4 778L1167.8 778.3L1163.2 778.6L1158.6 779L1154.1 779.3L1149.6 779.7L1145 780.2L1140.5 780.6L1136 781.1L1131.6 781.6L1127.1 782.2L1122.7 782.8L1118.3 783.4L1113.9 784L1109.5 784.7L1105.1 785.4L1100.8 786.1L1096.5 786.8L1092.2 787.6L1088 788.4L1083.7 789.3L1079.5 790.1L1075.4 791L1071.2 791.9L1067.1 792.9L1063.1 793.9L1059 794.9L1055 795.9L1051.1 797L1047.1 798.1L1043.3 799.2L1039.4 800.3L1035.6 801.5L1031.8 802.7L1028.1 803.9L1024.4 805.2L1020.8 806.4L1017.2 807.7L1013.6 809.1L1010.1 810.4L1006.7 811.8L1003.3 813.2L999.9 814.6L996.6 816.1L993.4 817.5L990.2 819L987 820.6L983.9 822.1L980.9 823.7L977.9 825.3L975 826.9L972.2 828.5L969.4 830.2L966.6 831.8L964 833.5L961.4 835.3L958.8 837L956.4 838.8L954 840.6L951.6 842.4L949.3 844.2L947.1 846L945 847.9L942.9 849.7L941 851.6L939 853.5L937.2 855.5L935.4 857.4L933.7 859.4L932.1 861.3L930.6 863.3L929.1 865.3L927.8 867.3L926.5 869.4L925.3 871.4L924.1 873.5L923.1 875.5L922.1 877.6L921.2 879.7L920.4 881.8L919.7 883.9L919.1 886L918.6 888.1L918.1 890.3L917.8 892.4L917.5 894.5L917.3 896.7L917.2 898.8L917.2 901L917.3 903.2L917.5 905.3L917.8 907.5L918.1 909.7L918.6 911.8L919.1 914L919.8 916.2L920.5 918.3L921.4 920.5L922.3 922.7L923.3 924.8L924.5 927L925.7 929.2L927 931.3L928.4 933.4L929.9 935.6L931.5 937.7L933.2 939.8L935 941.9L936.9 944L938.9 946.1L941 948.2L943.1 950.3L945.4 952.3L947.8 954.3L950.2 956.4L952.8 958.4L955.4 960.4L958.2 962.3L961 964.3L963.9 966.2L966.9 968.1L970 970L973.2 971.9L976.5 973.7L979.9 975.6L983.3 977.4L986.9 979.1L990.5 980.9L994.2 982.6L998 984.3L1001.9 986L1005.9 987.6L1009.9 989.2L1014 990.8L1018.2 992.4L1022.5 993.9L1026.8 995.4L1031.2 996.9L1035.7 998.3" fill="none" stroke="#000" stroke-width="2"/>
<path d="M1035.7 998.3L1035.6 993.2L1035.5 988.1L1035.5 983L1035.5 977.8L1035.6 972.5L1035.8 967.3L1036 962L1036.3 956.6L1036.6 951.2L1037 945.8L1037.4 940.4L1038 935L1038.5 929.5L1039.2 924L1039.9 918.5L1040.6 913L1041.4 907.4L1042.3 901.9L1043.2 896.3L1044.2 890.7L1045.3 885.2L1046.4 879.6L1047.5 874L1048.7 868.4L1050 862.9L1051.4 857.3L1052.7 851.7L1054.2 846.2L1055.7 840.7L1057.2 835.1L1058.8 829.6L1060.5 824.2L1062.2 818.7L1063.9 813.3L1065.7 807.9L1067.6 802.5L1069.5 797.2L1071.4 791.8L1073.4 786.6L1075.5 781.3L1077.6 776.1L1079.7 771L1081.9 765.9L1084.1 760.8L1086.4 755.8L1088.7 750.8L1091 745.9L1093.4 741L1095.8 736.2L1098.2 731.5L1100.7 726.8L1103.2 722.2L1105.8 717.6L1108.4 713.1L1111 708.7L1113.6 704.3L1116.3 700L1119 695.8L1121.7 691.6L1124.5 687.5L1127.2 683.5L1130 679.6L1132.9 675.8L1135.7 672L1138.5 668.3L1141.4 664.7L1144.3 661.1L1147.2 657.7L1150.1 654.3L1153.1 651.1L1156 647.9L1159 644.8L1161.9 641.7L1164.9 638.8L1167.9 636L1170.9 633.2L1173.9 630.6L1176.9 628L1179.9 625.5L1182.9 623.2L1185.9 620.9L1188.9 618.7L1191.9 616.6L1194.9 614.6L1197.9 612.6L1200.9 610.8L1203.9 609.1L1206.9 607.5L1209.8 605.9L1212.8 604.5L1215.7 603.1L1218.7 601.9L1221.6 600.7L1224.5 599.7L1227.4 598.7L1230.3 597.8L1233.2 597.1L1236 596.4L1238.9 595.8L1241.7 595.3L1244.5 594.9L1247.3 594.6L1250 594.4L1252.8 594.3L1255.5 594.2L1258.2 594.3L1260.9 594.4L1263.5 594.7L1266.1 595L1268.7 595.4L1271.3 595.9L1273.8 596.5L1276.3 597.2L1278.8 598L1281.3 598.8L1283.7 599.8L1286.1 600.8L1288.4 601.9L1290.8 603.1L1293.1 604.3L1295.3 605.7L1297.6 607.1L1299.8 608.6L1301.9 610.2L1304.1 611.9L1306.1 613.6L1308.2 615.4L1310.2 617.3L1312.2 619.3L1314.2 621.3L1316.1 623.4L1318 625.6L1319.8 627.9L1321.6 630.2L1323.4 632.6L1325.1 635L1326.8 637.6L1328.4 640.1L1330 642.8L1331.6 645.5L1333.1 648.3L1334.6 651.1L1336 654L1337.5 657L1338.8 660L1340.1 663L1341.4 666.1L1342.7 669.3L1343.9 672.6L1345 675.8L1346.1 679.2L1347.2 682.5L1348.3 686L1349.3 689.5L1350.2 693L1351.1 696.5L1352 700.2L1352.8 703.8L1353.6 707.5L1354.3 711.3L1355 715L1355.7 718.9L1356.3 722.7L1356.9 726.6L1357.4 730.5L1357.9 734.5L1358.3 738.5L1358.7 742.6L1359.1 746.6L1359.4 750.7L1359.7 754.8L1359.9 759L1360.1 763.2L1360.3 767.4L1360.4 771.6L1360.5 775.9L1360.5 780.1L1360.5 784.5L1360.4 788.8L1360.3 793.1L1360.2 797.5L1360 801.9L1359.8 806.3L1359.6 810.7L1359.3 815.1L1358.9 819.5L1358.5 824L1358.1 828.5L1357.7 832.9L1357.2 837.4L1356.6 841.9L1356.1 846.4L1355.4 850.9L1354.8 855.5L1354.1 860L1353.4 864.5L1352.6 869L1351.8 873.6L1350.9 878.1L1350.1 882.6L1349.1 887.2L1348.2 891.7L1347.2 896.2L1346.2 900.7L1345.1 905.2L1344 909.8L1342.8 914.3L1341.7 918.8L1340.5 923.2L1339.2 927.7L1337.9 932.2L1336.6 936.6L1335.3 941.1L1333.9 945.5L1332.5 949.9L1331 954.3L1329.5 958.7L1328 963L1326.5 967.4L1324.9 971.7L1323.3 976L1321.6 980.3L1319.9 984.5L1318.2 988.8L1316.5 993L1314.7 997.1L1312.9 1001.3L1311.1 1005.4L1309.2 1009.5L1307.3 1013.6L1305.4 1017.6L1303.5 1021.6L1301.5 1025.6L1299.5 1029.6L1297.5 1033.5L1295.4 1037.3L1293.4 1041.2L1291.3 1045L1289.1 1048.7L1287 1052.5L1284.8 1056.1L1282.6 1059.8L1280.4 1063.4L1278.1 1066.9L1275.8 1070.4L1273.5 1073.9L1271.2 1077.3L1268.9 1080.7L1266.5 1084L1264.1 1087.3L1261.7 1090.5L1259.3 1093.7L1256.9 1096.9L1254.4 1099.9L1252 1103L1249.5 1105.9L1247 1108.8L1244.4 1111.7L1241.9 1114.5L1239.3 1117.2L1236.8 1119.9L1234.2 1122.5L1231.6 1125.1L1229 1127.6L1226.4 1130L1223.7 1132.4L1221.1 1134.7L1218.4 1137L1215.8 1139.2L1213.1 1141.3L1210.4 1143.3L1207.7 1145.3L1205.1 1147.2L1202.4 1149L1199.6 1150.8L1196.9 1152.5L1194.2 1154.1L1191.5 1155.7L1188.8 1157.2L1186.1 1158.6L1183.3 1159.9L1180.6 1161.1L1177.9 1162.3L1175.2 1163.4L1172.5 1164.4L1169.7 1165.4L1167 1166.2L1164.3 1167L1161.6 1167.7L1158.9 1168.3L1156.2 1168.8L1153.5 1169.3L1150.8 1169.6L1148.2 1169.9L1145.5 1170.1L1142.9 1170.2L1140.2 1170.2L1137.6 1170.2L1135 1170L1132.4 1169.8L1129.8 1169.4L1127.3 1169L1124.7 1168.5L1122.2 1167.9L1119.7 1167.3L1117.2 1166.5L1114.7 1165.6L1112.3 1164.7L1109.8 1163.6L1107.4 1162.5L1105 1161.3L1102.7 1160L1100.4 1158.6L1098.1 1157.1L1095.8 1155.5L1093.5 1153.8L1091.3 1152.1L1089.1 1150.2L1087 1148.3L1084.9 1146.2L1082.8 1144.1L1080.7 1141.9L1078.7 1139.6L1076.7 1137.2L1074.8 1134.8L1072.9 1132.2L1071 1129.5L1069.1 1126.8L1067.4 1124L1065.6 1121.1L1063.9 1118.1L1062.2 1115L1060.6 1111.8L1059 1108.6L1057.5 1105.2L1056 1101.8L1054.6 1098.3L1053.2 1094.7L1051.8 1091.1L1050.5 1087.4L1049.3 1083.5L1048.1 1079.7L1046.9 1075.7L1045.8 1071.7L1044.8 1067.6L1043.8 1063.4L1042.9 1059.1L1042 1054.8L1041.1 1050.4L1040.4 1046L1039.6 1041.5L1039 1036.9L1038.4 1032.3L1037.8 1027.6L1037.3 1022.8L1036.9 1018L1036.5 1013.2L1036.2 1008.3L1035.9 1003.3L1035.7 998.3" fill="none" stroke="#000" stroke-width="2"/>
<path d="M1474.7 956.9L1474.9 952L1475 947L1475.1 942L1475 937L1474.9 932L1474.6 926.9L1474.3 921.8L1473.9 916.7L1473.4 911.6L1472.9 906.5L1472.2 901.4L1471.5 896.2L1470.6 891L1469.7 885.9L1468.7 880.7L1467.6 875.5L1466.5 870.3L1465.2 865.1L1463.9 859.9L1462.4 854.7L1460.9 849.6L1459.4 844.4L1457.7 839.2L1455.9 834.1L1454.1 828.9L1452.2 823.8L1450.2 818.7L1448.1 813.6L1445.9 808.5L1443.7 803.5L1441.4 798.5L1439 793.5L1436.6 788.5L1434 783.6L1431.4 778.7L1428.7 773.8L1426 769L1423.1 764.2L1420.2 759.4L1417.3 754.7L1414.3 750.1L1411.2 745.4L1408 740.9L1404.8 736.3L1401.5 731.9L1398.1 727.4L1394.7 723.1L1391.2 718.8L1387.7 714.5L1384.1 710.3L1380.5 706.2L1376.8 702.1L1373.1 698.1L1369.3 694.1L1365.4 690.2L1361.5 686.4L1357.6 682.7L1353.6 679L1349.6 675.4L1345.5 671.9L1341.4 668.4L1337.3 665L1333.1 661.7L1328.9 658.5L1324.7 655.4L1320.4 652.3L1316.1 649.3L1311.8 646.4L1307.4 643.6L1303 640.8L1298.6 638.2L1294.2 635.6L1289.7 633.1L1285.3 630.7L1280.8 628.4L1276.3 626.2L1271.8 624L1267.3 622L1262.8 620L1258.2 618.2L1253.7 616.4L1249.1 614.7L1244.6 613.1L1240 611.6L1235.5 610.2L1230.9 608.9L1226.4 607.6L1221.8 606.5L1217.3 605.4L1212.8 604.5L1208.3 603.6L1203.8 602.9L1199.3 602.2L1194.8 601.6L1190.4 601.1L1185.9 600.7L1181.5 600.4L1177.1 600.2L1172.7 600.1L1168.4 600L1164 600.1L1159.7 600.2L1155.4 600.5L1151.2 600.8L1147 601.2L1142.8 601.7L1138.6 602.3L1134.5 603L1130.4 603.7L1126.4 604.6L1122.4 605.5L1118.4 606.6L1114.5 607.7L1110.6 608.9L1106.7 610.1L1102.9 611.5L1099.2 612.9L1095.5 614.4L1091.8 616L1088.2 617.7L1084.6 619.5L1081.1 621.3L1077.6 623.2L1074.2 625.2L1070.8 627.3L1067.5 629.4L1064.2 631.6L1061 633.9L1057.9 636.2L1054.8 638.6L1051.7 641.1L1048.8 643.7L1045.8 646.3L1043 649L1040.1 651.7L1037.4 654.6L1034.7 657.4L1032.1 660.4L1029.5 663.4L1027 666.4L1024.6 669.5L1022.2 672.7L1019.9 675.9L1017.6 679.2L1015.4 682.6L1013.3 686L1011.3 689.4L1009.3 692.9L1007.3 696.4L1005.5 700L1003.7 703.6L1001.9 707.3L1000.3 711L998.7 714.8L997.2 718.6L995.7 722.4L994.3 726.3L993 730.2L991.7 734.2L990.5 738.2L989.4 742.2L988.3 746.3L987.3 750.4L986.4 754.5L985.6 758.6L984.8 762.8L984.1 767L983.4 771.3L982.8 775.5L982.3 779.8L981.9 784.1L981.5 788.4L981.2 792.8L981 797.2L980.8 801.5L980.7 805.9L980.6 810.3L980.7 814.8L980.8 819.2L980.9 823.7L981.1 828.1L981.4 832.6L981.8 837.1L982.2 841.6L982.7 846.1L983.3 850.6L983.9 855.1L984.6 859.6L985.3 864.1L986.1 868.6L987 873.1L987.9 877.6L988.9 882.1L990 886.6L991.1 891.1L992.3 895.6L993.6 900.1L994.9 904.6L996.2 909L997.7 913.5L999.2 917.9L1000.7 922.3L1002.3 926.8L1004 931.2L1005.7 935.5L1007.5 939.9L1009.4 944.3L1011.3 948.6L1013.2 952.9L1015.2 957.2L1017.3 961.5L1019.4 965.7L1021.6 969.9L1023.8 974.1L1026.1 978.3L1028.4 982.4L1030.8 986.6L1033.2 990.6L1035.7 994.7L1038.3 998.7L1040.8 1002.7L1043.5 1006.7L1046.2 1010.6L1048.9 1014.5L1051.7 1018.4L1054.5 1022.2L1057.4 1026L1060.3 1029.7L1063.2 1033.4L1066.2 1037.1L1069.3 1040.7L1072.4 1044.3L1075.5 1047.9L1078.7 1051.4L1081.9 1054.8L1085.1 1058.2L1088.4 1061.6L1091.7 1064.9L1095.1 1068.2L1098.5 1071.4L1101.9 1074.5L1105.4 1077.7L1108.9 1080.7L1112.4 1083.7L1116 1086.7L1119.6 1089.6L1123.2 1092.5L1126.9 1095.3L1130.6 1098L1134.3 1100.7L1138 1103.3L1141.8 1105.9L1145.6 1108.4L1149.4 1110.8L1153.2 1113.2L1157.1 1115.6L1161 1117.8L1164.9 1120L1168.8 1122.2L1172.8 1124.2L1176.8 1126.2L1180.7 1128.2L1184.7 1130.1L1188.8 1131.9L1192.8 1133.6L1196.8 1135.3L1200.9 1136.9L1205 1138.4L1209 1139.9L1213.1 1141.3L1217.2 1142.6L1221.3 1143.8L1225.4 1145L1229.5 1146.1L1233.6 1147.2L1237.8 1148.1L1241.9 1149L1246 1149.8L1250.1 1150.5L1254.2 1151.2L1258.4 1151.8L1262.5 1152.3L1266.6 1152.7L1270.7 1153.1L1274.8 1153.3L1278.9 1153.5L1282.9 1153.6L1287 1153.7L1291.1 1153.6L1295.1 1153.5L1299.1 1153.3L1303.1 1153L1307.1 1152.7L1311.1 1152.2L1315.1 1151.7L1319 1151.1L1322.9 1150.4L1326.8 1149.7L1330.7 1148.8L1334.5 1147.9L1338.3 1146.9L1342.1 1145.8L1345.9 1144.6L1349.6 1143.4L1353.3 1142L1357 1140.6L1360.6 1139.1L1364.2 1137.5L1367.8 1135.9L1371.3 1134.1L1374.8 1132.3L1378.2 1130.4L1381.6 1128.4L1385 1126.4L1388.3 1124.2L1391.6 1122L1394.8 1119.7L1398 1117.3L1401.1 1114.9L1404.2 1112.4L1407.2 1109.8L1410.2 1107.1L1413.2 1104.3L1416 1101.5L1418.8 1098.6L1421.6 1095.6L1424.3 1092.5L1426.9 1089.4L1429.5 1086.2L1432.1 1082.9L1434.5 1079.6L1436.9 1076.2L1439.2 1072.7L1441.5 1069.2L1443.7 1065.6L1445.9 1061.9L1447.9 1058.1L1449.9 1054.3L1451.8 1050.5L1453.7 1046.5L1455.5 1042.5L1457.2 1038.5L1458.8 1034.4L1460.4 1030.2L1461.9 1026L1463.3 1021.7L1464.6 1017.4L1465.9 1013L1467.1 1008.5L1468.2 1004.1L1469.2 999.5L1470.1 995L1471 990.3L1471.8 985.7L1472.5 981L1473.1 976.2L1473.6 971.4L1474.1 966.6L1474.4 961.8L1474.7 956.9" fill="none" stroke="#000" stroke-width="2"/>
<path d="M1376.4 783L1012 1013.3" stroke="#000" stroke-width="1.8"/>
<path d="M954.8 816.6L1508.4 966" stroke="#000" stroke-width="1.8"/>
<path d="M1213.1 1170.3L1212.8 568.7" stroke="#000" stroke-width="1.8"/>
<text x="1181" y="570.9" font-size="44">1</text>
<text x="1515" y="954.3" font-size="41">1</text>
<text x="997" y="1057.2" font-size="43">1</text>
<text x="1240" y="579.2" font-size="79" font-style="italic">S</text><text x="1276.5" y="594.2" font-size="40" font-style="italic">z</text>
<text x="1512" y="1030.4" font-size="79" font-style="italic">S</text><text x="1548.5" y="1044" font-size="40" font-style="italic">y</text>
<text x="914.5" y="1115.9" font-size="79" font-style="italic">S</text><text x="947" y="1136" font-size="40" font-style="italic">x</text>
<text x="1456" y="1117" font-size="66">(d)</text>
</svg></body></html>
